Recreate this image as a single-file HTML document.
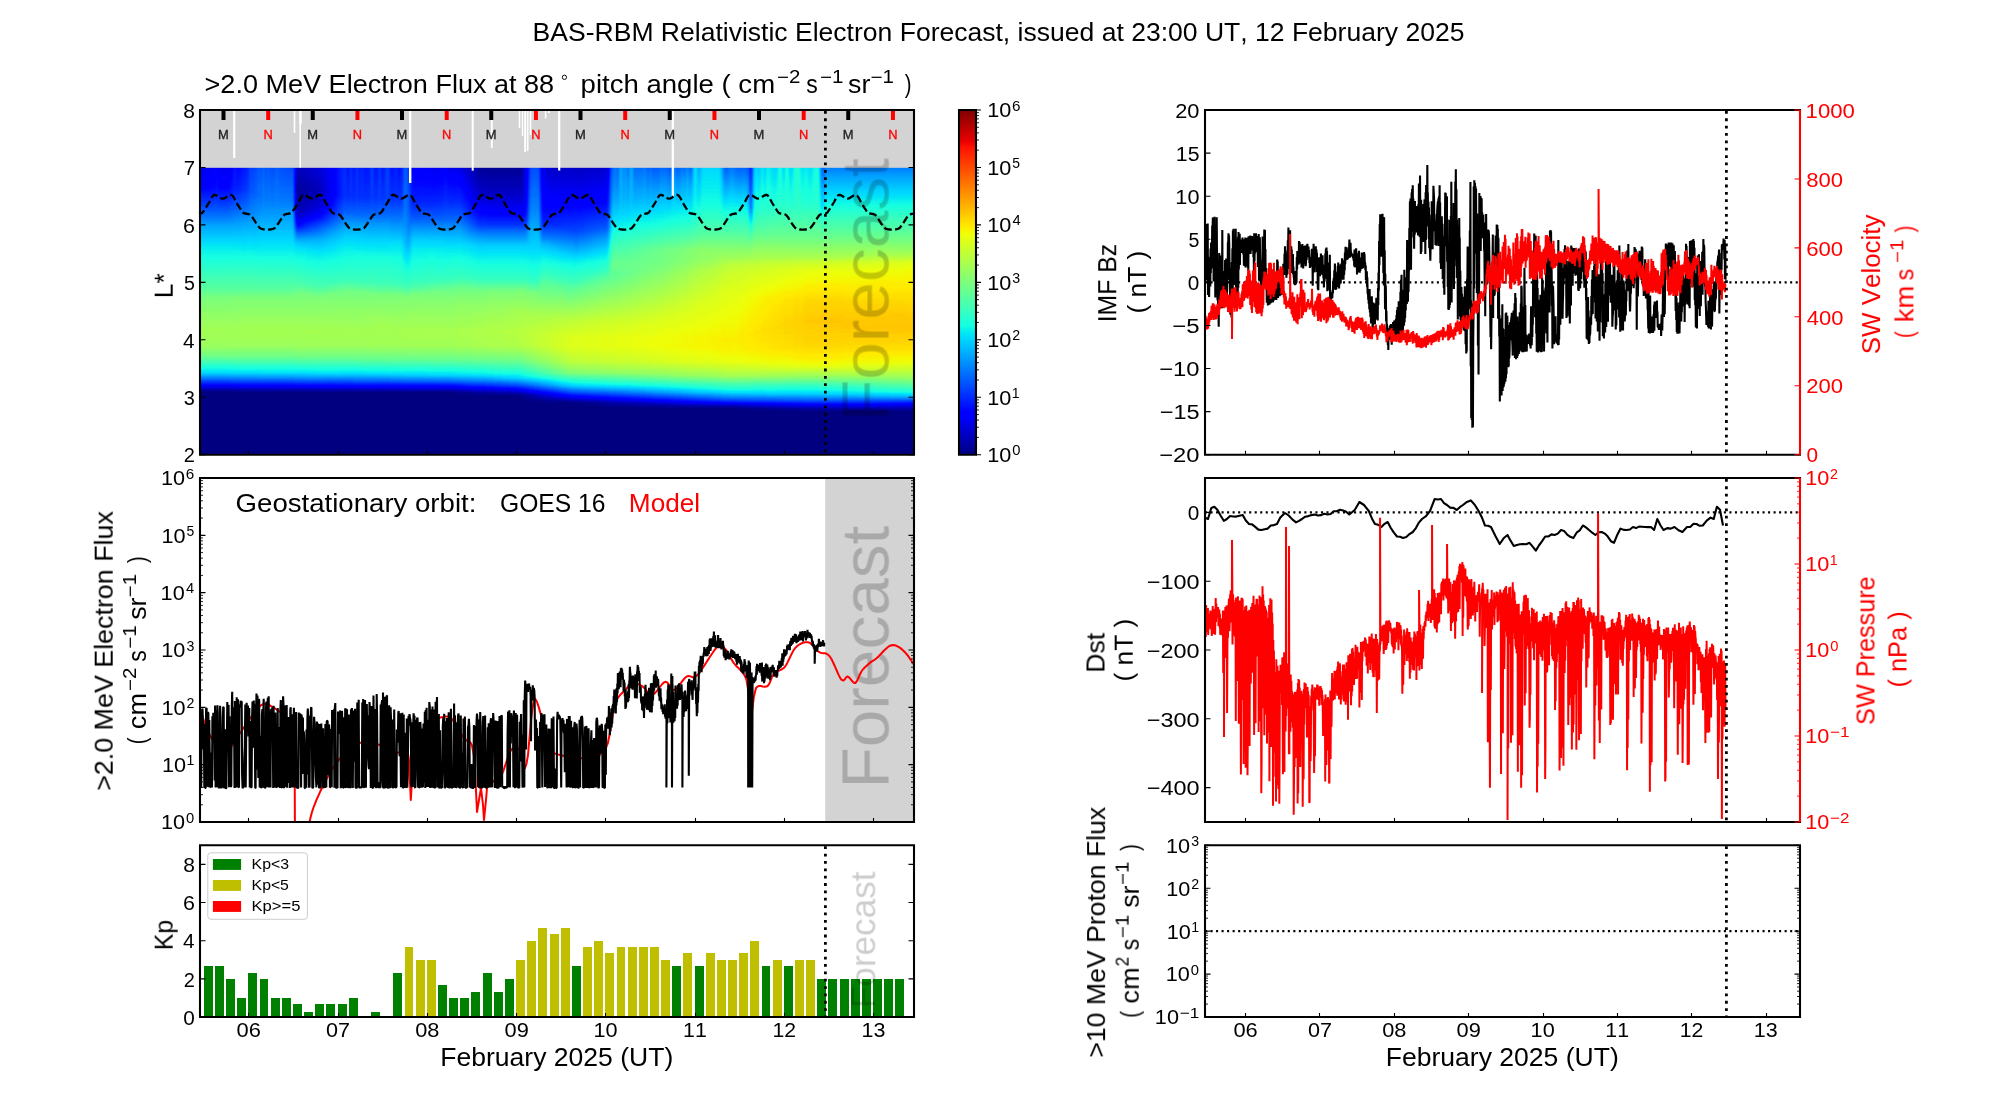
<!DOCTYPE html><html><head><meta charset="utf-8"><style>html,body{margin:0;padding:0;background:#fff;overflow:hidden}svg{display:block}text{font-family:"Liberation Sans",sans-serif;font-kerning:none;will-change:transform}</style></head><body><svg width="2000" height="1100" viewBox="0 0 2000 1100"><defs><linearGradient id="jet" x1="0" y1="1" x2="0" y2="0"><stop offset="0" stop-color="rgb(0,0,128)"/><stop offset="0.11" stop-color="rgb(0,0,255)"/><stop offset="0.125" stop-color="rgb(0,0,255)"/><stop offset="0.34" stop-color="rgb(0,219,255)"/><stop offset="0.35" stop-color="rgb(0,229,247)"/><stop offset="0.375" stop-color="rgb(21,255,226)"/><stop offset="0.64" stop-color="rgb(239,255,8)"/><stop offset="0.65" stop-color="rgb(247,246,0)"/><stop offset="0.66" stop-color="rgb(255,236,0)"/><stop offset="0.89" stop-color="rgb(255,19,0)"/><stop offset="0.91" stop-color="rgb(232,0,0)"/><stop offset="1.0" stop-color="rgb(128,0,0)"/></linearGradient><linearGradient id="g0" gradientUnits="userSpaceOnUse" x1="0" y1="167.8" x2="0" y2="454.7"><stop offset="0.000" stop-color="#1a1a1a"/><stop offset="0.070" stop-color="#212121"/><stop offset="0.115" stop-color="#2d2d2d"/><stop offset="0.178" stop-color="#414141"/><stop offset="0.202" stop-color="#4a4a4a"/><stop offset="0.268" stop-color="#5a5a5a"/><stop offset="0.331" stop-color="#646464"/><stop offset="0.429" stop-color="#777777"/><stop offset="0.453" stop-color="#808080"/><stop offset="0.561" stop-color="#8c8c8c"/><stop offset="0.603" stop-color="#8b8b8b"/><stop offset="0.624" stop-color="#898989"/><stop offset="0.655" stop-color="#7d7d7d"/><stop offset="0.676" stop-color="#6f6f6f"/><stop offset="0.697" stop-color="#616161"/><stop offset="0.715" stop-color="#575757"/><stop offset="0.728" stop-color="#464646"/><stop offset="0.735" stop-color="#3e3e3e"/><stop offset="0.746" stop-color="#2f2f2f"/><stop offset="0.753" stop-color="#272727"/><stop offset="0.767" stop-color="#141414"/><stop offset="0.774" stop-color="#090909"/><stop offset="0.784" stop-color="#010101"/><stop offset="1.000" stop-color="#010101"/></linearGradient><linearGradient id="g1" gradientUnits="userSpaceOnUse" x1="0" y1="167.8" x2="0" y2="454.7"><stop offset="0.000" stop-color="#1d1d1d"/><stop offset="0.070" stop-color="#242424"/><stop offset="0.115" stop-color="#2f2f2f"/><stop offset="0.181" stop-color="#434343"/><stop offset="0.206" stop-color="#4b4b4b"/><stop offset="0.268" stop-color="#5a5a5a"/><stop offset="0.331" stop-color="#646464"/><stop offset="0.429" stop-color="#777777"/><stop offset="0.453" stop-color="#818181"/><stop offset="0.565" stop-color="#8c8c8c"/><stop offset="0.620" stop-color="#8a8a8a"/><stop offset="0.659" stop-color="#7c7c7c"/><stop offset="0.697" stop-color="#616161"/><stop offset="0.715" stop-color="#585858"/><stop offset="0.735" stop-color="#3f3f3f"/><stop offset="0.746" stop-color="#303030"/><stop offset="0.763" stop-color="#1a1a1a"/><stop offset="0.774" stop-color="#0a0a0a"/><stop offset="0.784" stop-color="#010101"/><stop offset="1.000" stop-color="#010101"/></linearGradient><linearGradient id="g2" gradientUnits="userSpaceOnUse" x1="0" y1="167.8" x2="0" y2="454.7"><stop offset="0.000" stop-color="#202020"/><stop offset="0.070" stop-color="#262626"/><stop offset="0.119" stop-color="#323232"/><stop offset="0.185" stop-color="#464646"/><stop offset="0.254" stop-color="#575757"/><stop offset="0.338" stop-color="#666666"/><stop offset="0.425" stop-color="#767676"/><stop offset="0.453" stop-color="#818181"/><stop offset="0.565" stop-color="#8c8c8c"/><stop offset="0.620" stop-color="#8a8a8a"/><stop offset="0.659" stop-color="#7c7c7c"/><stop offset="0.697" stop-color="#616161"/><stop offset="0.715" stop-color="#585858"/><stop offset="0.735" stop-color="#3f3f3f"/><stop offset="0.746" stop-color="#313131"/><stop offset="0.763" stop-color="#1a1a1a"/><stop offset="0.774" stop-color="#0a0a0a"/><stop offset="0.784" stop-color="#010101"/><stop offset="1.000" stop-color="#010101"/></linearGradient><linearGradient id="g3" gradientUnits="userSpaceOnUse" x1="0" y1="167.8" x2="0" y2="454.7"><stop offset="0.000" stop-color="#232323"/><stop offset="0.073" stop-color="#2a2a2a"/><stop offset="0.122" stop-color="#353535"/><stop offset="0.185" stop-color="#464646"/><stop offset="0.265" stop-color="#595959"/><stop offset="0.335" stop-color="#656565"/><stop offset="0.425" stop-color="#767676"/><stop offset="0.453" stop-color="#818181"/><stop offset="0.565" stop-color="#8c8c8c"/><stop offset="0.620" stop-color="#8a8a8a"/><stop offset="0.659" stop-color="#7c7c7c"/><stop offset="0.697" stop-color="#626262"/><stop offset="0.715" stop-color="#585858"/><stop offset="0.735" stop-color="#3f3f3f"/><stop offset="0.763" stop-color="#1a1a1a"/><stop offset="0.774" stop-color="#0a0a0a"/><stop offset="0.784" stop-color="#010101"/><stop offset="1.000" stop-color="#010101"/></linearGradient><linearGradient id="g4" gradientUnits="userSpaceOnUse" x1="0" y1="167.8" x2="0" y2="454.7"><stop offset="0.000" stop-color="#262626"/><stop offset="0.073" stop-color="#2d2d2d"/><stop offset="0.139" stop-color="#3b3b3b"/><stop offset="0.209" stop-color="#4d4d4d"/><stop offset="0.296" stop-color="#5e5e5e"/><stop offset="0.425" stop-color="#767676"/><stop offset="0.453" stop-color="#818181"/><stop offset="0.565" stop-color="#8d8d8d"/><stop offset="0.620" stop-color="#8a8a8a"/><stop offset="0.659" stop-color="#7c7c7c"/><stop offset="0.697" stop-color="#626262"/><stop offset="0.715" stop-color="#585858"/><stop offset="0.735" stop-color="#3f3f3f"/><stop offset="0.763" stop-color="#1b1b1b"/><stop offset="0.774" stop-color="#0a0a0a"/><stop offset="0.784" stop-color="#010101"/><stop offset="1.000" stop-color="#010101"/></linearGradient><linearGradient id="g5" gradientUnits="userSpaceOnUse" x1="0" y1="167.8" x2="0" y2="454.7"><stop offset="0.000" stop-color="#292929"/><stop offset="0.077" stop-color="#303030"/><stop offset="0.146" stop-color="#3e3e3e"/><stop offset="0.234" stop-color="#535353"/><stop offset="0.338" stop-color="#666666"/><stop offset="0.425" stop-color="#767676"/><stop offset="0.453" stop-color="#818181"/><stop offset="0.565" stop-color="#8d8d8d"/><stop offset="0.620" stop-color="#8a8a8a"/><stop offset="0.659" stop-color="#7c7c7c"/><stop offset="0.697" stop-color="#626262"/><stop offset="0.715" stop-color="#585858"/><stop offset="0.735" stop-color="#3f3f3f"/><stop offset="0.763" stop-color="#1b1b1b"/><stop offset="0.774" stop-color="#0a0a0a"/><stop offset="0.784" stop-color="#010101"/><stop offset="1.000" stop-color="#010101"/></linearGradient><linearGradient id="g6" gradientUnits="userSpaceOnUse" x1="0" y1="167.8" x2="0" y2="454.7"><stop offset="0.000" stop-color="#2c2c2c"/><stop offset="0.080" stop-color="#343434"/><stop offset="0.160" stop-color="#434343"/><stop offset="0.244" stop-color="#555555"/><stop offset="0.338" stop-color="#666666"/><stop offset="0.425" stop-color="#767676"/><stop offset="0.453" stop-color="#818181"/><stop offset="0.565" stop-color="#8d8d8d"/><stop offset="0.620" stop-color="#8a8a8a"/><stop offset="0.659" stop-color="#7c7c7c"/><stop offset="0.697" stop-color="#626262"/><stop offset="0.715" stop-color="#585858"/><stop offset="0.735" stop-color="#3f3f3f"/><stop offset="0.763" stop-color="#1b1b1b"/><stop offset="0.774" stop-color="#0a0a0a"/><stop offset="0.784" stop-color="#010101"/><stop offset="1.000" stop-color="#010101"/></linearGradient><linearGradient id="g7" gradientUnits="userSpaceOnUse" x1="0" y1="167.8" x2="0" y2="454.7"><stop offset="0.000" stop-color="#2f2f2f"/><stop offset="0.084" stop-color="#373737"/><stop offset="0.174" stop-color="#474747"/><stop offset="0.303" stop-color="#5f5f5f"/><stop offset="0.425" stop-color="#767676"/><stop offset="0.453" stop-color="#818181"/><stop offset="0.565" stop-color="#8d8d8d"/><stop offset="0.620" stop-color="#8a8a8a"/><stop offset="0.659" stop-color="#7c7c7c"/><stop offset="0.697" stop-color="#626262"/><stop offset="0.715" stop-color="#585858"/><stop offset="0.735" stop-color="#3f3f3f"/><stop offset="0.763" stop-color="#1b1b1b"/><stop offset="0.774" stop-color="#0a0a0a"/><stop offset="0.784" stop-color="#010101"/><stop offset="1.000" stop-color="#010101"/></linearGradient><linearGradient id="g8" gradientUnits="userSpaceOnUse" x1="0" y1="167.8" x2="0" y2="454.7"><stop offset="0.000" stop-color="#323232"/><stop offset="0.105" stop-color="#3c3c3c"/><stop offset="0.335" stop-color="#656565"/><stop offset="0.425" stop-color="#767676"/><stop offset="0.453" stop-color="#818181"/><stop offset="0.565" stop-color="#8d8d8d"/><stop offset="0.620" stop-color="#8a8a8a"/><stop offset="0.659" stop-color="#7c7c7c"/><stop offset="0.697" stop-color="#626262"/><stop offset="0.715" stop-color="#585858"/><stop offset="0.735" stop-color="#404040"/><stop offset="0.763" stop-color="#1b1b1b"/><stop offset="0.774" stop-color="#0a0a0a"/><stop offset="0.784" stop-color="#010101"/><stop offset="1.000" stop-color="#010101"/></linearGradient><linearGradient id="g9" gradientUnits="userSpaceOnUse" x1="0" y1="167.8" x2="0" y2="454.7"><stop offset="0.000" stop-color="#343434"/><stop offset="0.112" stop-color="#3f3f3f"/><stop offset="0.331" stop-color="#646464"/><stop offset="0.425" stop-color="#767676"/><stop offset="0.453" stop-color="#818181"/><stop offset="0.565" stop-color="#8d8d8d"/><stop offset="0.620" stop-color="#8a8a8a"/><stop offset="0.659" stop-color="#7c7c7c"/><stop offset="0.697" stop-color="#626262"/><stop offset="0.715" stop-color="#595959"/><stop offset="0.735" stop-color="#404040"/><stop offset="0.763" stop-color="#1b1b1b"/><stop offset="0.774" stop-color="#0b0b0b"/><stop offset="0.784" stop-color="#010101"/><stop offset="1.000" stop-color="#010101"/></linearGradient><linearGradient id="g10" gradientUnits="userSpaceOnUse" x1="0" y1="167.8" x2="0" y2="454.7"><stop offset="0.000" stop-color="#212121"/><stop offset="0.087" stop-color="#212121"/><stop offset="0.160" stop-color="#2a2a2a"/><stop offset="0.209" stop-color="#3b3b3b"/><stop offset="0.234" stop-color="#484848"/><stop offset="0.265" stop-color="#565656"/><stop offset="0.296" stop-color="#5d5d5d"/><stop offset="0.411" stop-color="#737373"/><stop offset="0.446" stop-color="#808080"/><stop offset="0.565" stop-color="#8d8d8d"/><stop offset="0.620" stop-color="#8a8a8a"/><stop offset="0.659" stop-color="#7c7c7c"/><stop offset="0.697" stop-color="#636363"/><stop offset="0.715" stop-color="#595959"/><stop offset="0.735" stop-color="#404040"/><stop offset="0.763" stop-color="#1c1c1c"/><stop offset="0.774" stop-color="#0b0b0b"/><stop offset="0.784" stop-color="#010101"/><stop offset="1.000" stop-color="#010101"/></linearGradient><linearGradient id="g11" gradientUnits="userSpaceOnUse" x1="0" y1="167.8" x2="0" y2="454.7"><stop offset="0.000" stop-color="#0e0e0e"/><stop offset="0.084" stop-color="#070707"/><stop offset="0.157" stop-color="#0d0d0d"/><stop offset="0.202" stop-color="#222222"/><stop offset="0.230" stop-color="#3c3c3c"/><stop offset="0.247" stop-color="#484848"/><stop offset="0.261" stop-color="#525252"/><stop offset="0.289" stop-color="#5b5b5b"/><stop offset="0.359" stop-color="#686868"/><stop offset="0.408" stop-color="#727272"/><stop offset="0.439" stop-color="#7f7f7f"/><stop offset="0.551" stop-color="#8c8c8c"/><stop offset="0.593" stop-color="#8c8c8c"/><stop offset="0.624" stop-color="#8a8a8a"/><stop offset="0.662" stop-color="#7a7a7a"/><stop offset="0.697" stop-color="#636363"/><stop offset="0.715" stop-color="#595959"/><stop offset="0.735" stop-color="#414141"/><stop offset="0.763" stop-color="#1c1c1c"/><stop offset="0.774" stop-color="#0b0b0b"/><stop offset="0.784" stop-color="#010101"/><stop offset="1.000" stop-color="#010101"/></linearGradient><linearGradient id="g12" gradientUnits="userSpaceOnUse" x1="0" y1="167.8" x2="0" y2="454.7"><stop offset="0.000" stop-color="#0f0f0f"/><stop offset="0.084" stop-color="#070707"/><stop offset="0.157" stop-color="#0e0e0e"/><stop offset="0.206" stop-color="#262626"/><stop offset="0.230" stop-color="#3c3c3c"/><stop offset="0.261" stop-color="#525252"/><stop offset="0.289" stop-color="#5b5b5b"/><stop offset="0.362" stop-color="#686868"/><stop offset="0.408" stop-color="#727272"/><stop offset="0.439" stop-color="#7f7f7f"/><stop offset="0.551" stop-color="#8c8c8c"/><stop offset="0.593" stop-color="#8c8c8c"/><stop offset="0.624" stop-color="#8a8a8a"/><stop offset="0.662" stop-color="#7a7a7a"/><stop offset="0.697" stop-color="#636363"/><stop offset="0.715" stop-color="#595959"/><stop offset="0.735" stop-color="#414141"/><stop offset="0.763" stop-color="#1c1c1c"/><stop offset="0.774" stop-color="#0b0b0b"/><stop offset="0.784" stop-color="#010101"/><stop offset="1.000" stop-color="#010101"/></linearGradient><linearGradient id="g13" gradientUnits="userSpaceOnUse" x1="0" y1="167.8" x2="0" y2="454.7"><stop offset="0.000" stop-color="#0f0f0f"/><stop offset="0.084" stop-color="#080808"/><stop offset="0.153" stop-color="#0f0f0f"/><stop offset="0.178" stop-color="#191919"/><stop offset="0.206" stop-color="#282828"/><stop offset="0.234" stop-color="#3f3f3f"/><stop offset="0.261" stop-color="#515151"/><stop offset="0.289" stop-color="#5b5b5b"/><stop offset="0.369" stop-color="#6a6a6a"/><stop offset="0.408" stop-color="#727272"/><stop offset="0.439" stop-color="#7f7f7f"/><stop offset="0.551" stop-color="#8c8c8c"/><stop offset="0.593" stop-color="#8c8c8c"/><stop offset="0.624" stop-color="#8a8a8a"/><stop offset="0.662" stop-color="#7b7b7b"/><stop offset="0.697" stop-color="#636363"/><stop offset="0.715" stop-color="#595959"/><stop offset="0.735" stop-color="#414141"/><stop offset="0.763" stop-color="#1c1c1c"/><stop offset="0.774" stop-color="#0b0b0b"/><stop offset="0.784" stop-color="#010101"/><stop offset="1.000" stop-color="#010101"/></linearGradient><linearGradient id="g14" gradientUnits="userSpaceOnUse" x1="0" y1="167.8" x2="0" y2="454.7"><stop offset="0.000" stop-color="#101010"/><stop offset="0.084" stop-color="#090909"/><stop offset="0.150" stop-color="#0f0f0f"/><stop offset="0.171" stop-color="#171717"/><stop offset="0.206" stop-color="#292929"/><stop offset="0.234" stop-color="#404040"/><stop offset="0.261" stop-color="#515151"/><stop offset="0.289" stop-color="#5b5b5b"/><stop offset="0.376" stop-color="#6b6b6b"/><stop offset="0.404" stop-color="#707070"/><stop offset="0.443" stop-color="#7f7f7f"/><stop offset="0.561" stop-color="#8d8d8d"/><stop offset="0.620" stop-color="#8b8b8b"/><stop offset="0.659" stop-color="#7c7c7c"/><stop offset="0.697" stop-color="#636363"/><stop offset="0.715" stop-color="#595959"/><stop offset="0.735" stop-color="#414141"/><stop offset="0.763" stop-color="#1c1c1c"/><stop offset="0.774" stop-color="#0b0b0b"/><stop offset="0.784" stop-color="#010101"/><stop offset="1.000" stop-color="#010101"/></linearGradient><linearGradient id="g15" gradientUnits="userSpaceOnUse" x1="0" y1="167.8" x2="0" y2="454.7"><stop offset="0.000" stop-color="#111111"/><stop offset="0.080" stop-color="#090909"/><stop offset="0.143" stop-color="#0f0f0f"/><stop offset="0.164" stop-color="#151515"/><stop offset="0.209" stop-color="#2e2e2e"/><stop offset="0.234" stop-color="#404040"/><stop offset="0.261" stop-color="#515151"/><stop offset="0.289" stop-color="#5b5b5b"/><stop offset="0.404" stop-color="#707070"/><stop offset="0.436" stop-color="#7d7d7d"/><stop offset="0.450" stop-color="#818181"/><stop offset="0.568" stop-color="#8d8d8d"/><stop offset="0.620" stop-color="#8b8b8b"/><stop offset="0.662" stop-color="#7b7b7b"/><stop offset="0.697" stop-color="#636363"/><stop offset="0.715" stop-color="#595959"/><stop offset="0.735" stop-color="#414141"/><stop offset="0.763" stop-color="#1c1c1c"/><stop offset="0.774" stop-color="#0b0b0b"/><stop offset="0.784" stop-color="#010101"/><stop offset="1.000" stop-color="#010101"/></linearGradient><linearGradient id="g16" gradientUnits="userSpaceOnUse" x1="0" y1="167.8" x2="0" y2="454.7"><stop offset="0.000" stop-color="#111111"/><stop offset="0.080" stop-color="#0a0a0a"/><stop offset="0.139" stop-color="#101010"/><stop offset="0.167" stop-color="#181818"/><stop offset="0.209" stop-color="#2f2f2f"/><stop offset="0.237" stop-color="#434343"/><stop offset="0.261" stop-color="#515151"/><stop offset="0.289" stop-color="#5a5a5a"/><stop offset="0.408" stop-color="#707070"/><stop offset="0.446" stop-color="#808080"/><stop offset="0.565" stop-color="#8d8d8d"/><stop offset="0.620" stop-color="#8b8b8b"/><stop offset="0.662" stop-color="#7b7b7b"/><stop offset="0.697" stop-color="#636363"/><stop offset="0.715" stop-color="#595959"/><stop offset="0.735" stop-color="#414141"/><stop offset="0.763" stop-color="#1c1c1c"/><stop offset="0.774" stop-color="#0b0b0b"/><stop offset="0.784" stop-color="#010101"/><stop offset="1.000" stop-color="#010101"/></linearGradient><linearGradient id="g17" gradientUnits="userSpaceOnUse" x1="0" y1="167.8" x2="0" y2="454.7"><stop offset="0.000" stop-color="#121212"/><stop offset="0.080" stop-color="#0a0a0a"/><stop offset="0.139" stop-color="#111111"/><stop offset="0.171" stop-color="#1b1b1b"/><stop offset="0.216" stop-color="#353535"/><stop offset="0.247" stop-color="#4a4a4a"/><stop offset="0.279" stop-color="#575757"/><stop offset="0.342" stop-color="#636363"/><stop offset="0.408" stop-color="#707070"/><stop offset="0.439" stop-color="#7e7e7e"/><stop offset="0.453" stop-color="#818181"/><stop offset="0.568" stop-color="#8d8d8d"/><stop offset="0.620" stop-color="#8b8b8b"/><stop offset="0.662" stop-color="#7b7b7b"/><stop offset="0.697" stop-color="#636363"/><stop offset="0.715" stop-color="#595959"/><stop offset="0.732" stop-color="#464646"/><stop offset="0.763" stop-color="#1c1c1c"/><stop offset="0.774" stop-color="#0b0b0b"/><stop offset="0.784" stop-color="#010101"/><stop offset="1.000" stop-color="#010101"/></linearGradient><linearGradient id="g18" gradientUnits="userSpaceOnUse" x1="0" y1="167.8" x2="0" y2="454.7"><stop offset="0.000" stop-color="#121212"/><stop offset="0.080" stop-color="#0b0b0b"/><stop offset="0.136" stop-color="#111111"/><stop offset="0.171" stop-color="#1c1c1c"/><stop offset="0.223" stop-color="#3b3b3b"/><stop offset="0.254" stop-color="#4e4e4e"/><stop offset="0.289" stop-color="#5a5a5a"/><stop offset="0.408" stop-color="#707070"/><stop offset="0.439" stop-color="#7d7d7d"/><stop offset="0.453" stop-color="#818181"/><stop offset="0.568" stop-color="#8d8d8d"/><stop offset="0.620" stop-color="#8b8b8b"/><stop offset="0.662" stop-color="#7b7b7b"/><stop offset="0.697" stop-color="#636363"/><stop offset="0.715" stop-color="#595959"/><stop offset="0.732" stop-color="#464646"/><stop offset="0.763" stop-color="#1c1c1c"/><stop offset="0.774" stop-color="#0c0c0c"/><stop offset="0.784" stop-color="#010101"/><stop offset="1.000" stop-color="#010101"/></linearGradient><linearGradient id="g19" gradientUnits="userSpaceOnUse" x1="0" y1="167.8" x2="0" y2="454.7"><stop offset="0.000" stop-color="#131313"/><stop offset="0.080" stop-color="#0c0c0c"/><stop offset="0.136" stop-color="#121212"/><stop offset="0.171" stop-color="#1d1d1d"/><stop offset="0.254" stop-color="#4e4e4e"/><stop offset="0.293" stop-color="#5a5a5a"/><stop offset="0.411" stop-color="#707070"/><stop offset="0.439" stop-color="#7c7c7c"/><stop offset="0.450" stop-color="#818181"/><stop offset="0.568" stop-color="#8d8d8d"/><stop offset="0.620" stop-color="#8b8b8b"/><stop offset="0.662" stop-color="#7b7b7b"/><stop offset="0.697" stop-color="#636363"/><stop offset="0.715" stop-color="#595959"/><stop offset="0.732" stop-color="#464646"/><stop offset="0.763" stop-color="#1c1c1c"/><stop offset="0.774" stop-color="#0c0c0c"/><stop offset="0.784" stop-color="#010101"/><stop offset="1.000" stop-color="#010101"/></linearGradient><linearGradient id="g20" gradientUnits="userSpaceOnUse" x1="0" y1="167.8" x2="0" y2="454.7"><stop offset="0.000" stop-color="#141414"/><stop offset="0.080" stop-color="#0c0c0c"/><stop offset="0.136" stop-color="#121212"/><stop offset="0.174" stop-color="#212121"/><stop offset="0.251" stop-color="#4c4c4c"/><stop offset="0.293" stop-color="#5a5a5a"/><stop offset="0.411" stop-color="#707070"/><stop offset="0.439" stop-color="#7c7c7c"/><stop offset="0.450" stop-color="#818181"/><stop offset="0.568" stop-color="#8d8d8d"/><stop offset="0.620" stop-color="#8b8b8b"/><stop offset="0.662" stop-color="#7b7b7b"/><stop offset="0.697" stop-color="#636363"/><stop offset="0.715" stop-color="#595959"/><stop offset="0.732" stop-color="#464646"/><stop offset="0.763" stop-color="#1c1c1c"/><stop offset="0.774" stop-color="#0c0c0c"/><stop offset="0.784" stop-color="#010101"/><stop offset="1.000" stop-color="#010101"/></linearGradient><linearGradient id="g21" gradientUnits="userSpaceOnUse" x1="0" y1="167.8" x2="0" y2="454.7"><stop offset="0.000" stop-color="#141414"/><stop offset="0.080" stop-color="#0d0d0d"/><stop offset="0.136" stop-color="#131313"/><stop offset="0.174" stop-color="#222222"/><stop offset="0.209" stop-color="#363636"/><stop offset="0.251" stop-color="#4d4d4d"/><stop offset="0.293" stop-color="#5a5a5a"/><stop offset="0.415" stop-color="#717171"/><stop offset="0.443" stop-color="#7d7d7d"/><stop offset="0.453" stop-color="#818181"/><stop offset="0.568" stop-color="#8d8d8d"/><stop offset="0.620" stop-color="#8b8b8b"/><stop offset="0.662" stop-color="#7b7b7b"/><stop offset="0.697" stop-color="#646464"/><stop offset="0.715" stop-color="#5a5a5a"/><stop offset="0.732" stop-color="#464646"/><stop offset="0.763" stop-color="#1c1c1c"/><stop offset="0.774" stop-color="#0c0c0c"/><stop offset="0.784" stop-color="#010101"/><stop offset="1.000" stop-color="#010101"/></linearGradient><linearGradient id="g22" gradientUnits="userSpaceOnUse" x1="0" y1="167.8" x2="0" y2="454.7"><stop offset="0.000" stop-color="#151515"/><stop offset="0.080" stop-color="#0e0e0e"/><stop offset="0.136" stop-color="#141414"/><stop offset="0.174" stop-color="#232323"/><stop offset="0.206" stop-color="#363636"/><stop offset="0.234" stop-color="#444444"/><stop offset="0.254" stop-color="#4e4e4e"/><stop offset="0.296" stop-color="#5a5a5a"/><stop offset="0.415" stop-color="#707070"/><stop offset="0.443" stop-color="#7d7d7d"/><stop offset="0.453" stop-color="#818181"/><stop offset="0.568" stop-color="#8d8d8d"/><stop offset="0.620" stop-color="#8b8b8b"/><stop offset="0.662" stop-color="#7b7b7b"/><stop offset="0.697" stop-color="#646464"/><stop offset="0.715" stop-color="#5a5a5a"/><stop offset="0.732" stop-color="#464646"/><stop offset="0.763" stop-color="#1c1c1c"/><stop offset="0.774" stop-color="#0c0c0c"/><stop offset="0.784" stop-color="#010101"/><stop offset="1.000" stop-color="#010101"/></linearGradient><linearGradient id="g23" gradientUnits="userSpaceOnUse" x1="0" y1="167.8" x2="0" y2="454.7"><stop offset="0.000" stop-color="#161616"/><stop offset="0.080" stop-color="#0f0f0f"/><stop offset="0.136" stop-color="#161616"/><stop offset="0.174" stop-color="#252525"/><stop offset="0.206" stop-color="#383838"/><stop offset="0.230" stop-color="#434343"/><stop offset="0.251" stop-color="#4d4d4d"/><stop offset="0.296" stop-color="#5a5a5a"/><stop offset="0.415" stop-color="#707070"/><stop offset="0.443" stop-color="#7d7d7d"/><stop offset="0.453" stop-color="#818181"/><stop offset="0.568" stop-color="#8d8d8d"/><stop offset="0.620" stop-color="#8b8b8b"/><stop offset="0.662" stop-color="#7b7b7b"/><stop offset="0.697" stop-color="#646464"/><stop offset="0.715" stop-color="#5a5a5a"/><stop offset="0.732" stop-color="#464646"/><stop offset="0.763" stop-color="#1c1c1c"/><stop offset="0.774" stop-color="#0c0c0c"/><stop offset="0.784" stop-color="#010101"/><stop offset="1.000" stop-color="#010101"/></linearGradient><linearGradient id="g24" gradientUnits="userSpaceOnUse" x1="0" y1="167.8" x2="0" y2="454.7"><stop offset="0.000" stop-color="#171717"/><stop offset="0.084" stop-color="#121212"/><stop offset="0.136" stop-color="#181818"/><stop offset="0.174" stop-color="#272727"/><stop offset="0.209" stop-color="#3b3b3b"/><stop offset="0.251" stop-color="#4e4e4e"/><stop offset="0.296" stop-color="#5b5b5b"/><stop offset="0.411" stop-color="#6f6f6f"/><stop offset="0.439" stop-color="#7c7c7c"/><stop offset="0.450" stop-color="#818181"/><stop offset="0.568" stop-color="#8d8d8d"/><stop offset="0.620" stop-color="#8b8b8b"/><stop offset="0.662" stop-color="#7b7b7b"/><stop offset="0.697" stop-color="#646464"/><stop offset="0.715" stop-color="#5a5a5a"/><stop offset="0.732" stop-color="#464646"/><stop offset="0.763" stop-color="#1c1c1c"/><stop offset="0.774" stop-color="#0c0c0c"/><stop offset="0.784" stop-color="#010101"/><stop offset="1.000" stop-color="#010101"/></linearGradient><linearGradient id="g25" gradientUnits="userSpaceOnUse" x1="0" y1="167.8" x2="0" y2="454.7"><stop offset="0.000" stop-color="#191919"/><stop offset="0.084" stop-color="#141414"/><stop offset="0.136" stop-color="#1b1b1b"/><stop offset="0.174" stop-color="#2a2a2a"/><stop offset="0.209" stop-color="#3c3c3c"/><stop offset="0.251" stop-color="#4f4f4f"/><stop offset="0.300" stop-color="#5c5c5c"/><stop offset="0.408" stop-color="#6f6f6f"/><stop offset="0.436" stop-color="#7a7a7a"/><stop offset="0.450" stop-color="#818181"/><stop offset="0.568" stop-color="#8d8d8d"/><stop offset="0.620" stop-color="#8b8b8b"/><stop offset="0.662" stop-color="#7b7b7b"/><stop offset="0.697" stop-color="#646464"/><stop offset="0.715" stop-color="#5a5a5a"/><stop offset="0.728" stop-color="#4a4a4a"/><stop offset="0.763" stop-color="#1c1c1c"/><stop offset="0.774" stop-color="#0c0c0c"/><stop offset="0.784" stop-color="#010101"/><stop offset="1.000" stop-color="#010101"/></linearGradient><linearGradient id="g26" gradientUnits="userSpaceOnUse" x1="0" y1="167.8" x2="0" y2="454.7"><stop offset="0.000" stop-color="#1a1a1a"/><stop offset="0.084" stop-color="#161616"/><stop offset="0.136" stop-color="#1d1d1d"/><stop offset="0.174" stop-color="#2c2c2c"/><stop offset="0.209" stop-color="#3e3e3e"/><stop offset="0.254" stop-color="#515151"/><stop offset="0.300" stop-color="#5c5c5c"/><stop offset="0.404" stop-color="#6e6e6e"/><stop offset="0.436" stop-color="#7b7b7b"/><stop offset="0.446" stop-color="#808080"/><stop offset="0.565" stop-color="#8d8d8d"/><stop offset="0.620" stop-color="#8b8b8b"/><stop offset="0.662" stop-color="#7b7b7b"/><stop offset="0.697" stop-color="#646464"/><stop offset="0.715" stop-color="#5a5a5a"/><stop offset="0.728" stop-color="#4a4a4a"/><stop offset="0.763" stop-color="#1c1c1c"/><stop offset="0.774" stop-color="#0c0c0c"/><stop offset="0.784" stop-color="#010101"/><stop offset="1.000" stop-color="#010101"/></linearGradient><linearGradient id="g27" gradientUnits="userSpaceOnUse" x1="0" y1="167.8" x2="0" y2="454.7"><stop offset="0.000" stop-color="#1c1c1c"/><stop offset="0.087" stop-color="#191919"/><stop offset="0.136" stop-color="#202020"/><stop offset="0.174" stop-color="#2e2e2e"/><stop offset="0.213" stop-color="#414141"/><stop offset="0.254" stop-color="#515151"/><stop offset="0.303" stop-color="#5d5d5d"/><stop offset="0.404" stop-color="#6e6e6e"/><stop offset="0.436" stop-color="#7c7c7c"/><stop offset="0.446" stop-color="#808080"/><stop offset="0.565" stop-color="#8d8d8d"/><stop offset="0.620" stop-color="#8b8b8b"/><stop offset="0.662" stop-color="#7b7b7b"/><stop offset="0.697" stop-color="#646464"/><stop offset="0.715" stop-color="#5a5a5a"/><stop offset="0.728" stop-color="#4a4a4a"/><stop offset="0.763" stop-color="#1c1c1c"/><stop offset="0.774" stop-color="#0c0c0c"/><stop offset="0.784" stop-color="#010101"/><stop offset="1.000" stop-color="#010101"/></linearGradient><linearGradient id="g28" gradientUnits="userSpaceOnUse" x1="0" y1="167.8" x2="0" y2="454.7"><stop offset="0.000" stop-color="#1d1d1d"/><stop offset="0.087" stop-color="#1b1b1b"/><stop offset="0.136" stop-color="#232323"/><stop offset="0.174" stop-color="#313131"/><stop offset="0.216" stop-color="#444444"/><stop offset="0.254" stop-color="#525252"/><stop offset="0.307" stop-color="#5e5e5e"/><stop offset="0.401" stop-color="#6d6d6d"/><stop offset="0.432" stop-color="#7b7b7b"/><stop offset="0.443" stop-color="#808080"/><stop offset="0.561" stop-color="#8d8d8d"/><stop offset="0.620" stop-color="#8b8b8b"/><stop offset="0.662" stop-color="#7b7b7b"/><stop offset="0.697" stop-color="#646464"/><stop offset="0.715" stop-color="#5a5a5a"/><stop offset="0.728" stop-color="#4a4a4a"/><stop offset="0.763" stop-color="#1c1c1c"/><stop offset="0.774" stop-color="#0c0c0c"/><stop offset="0.784" stop-color="#010101"/><stop offset="1.000" stop-color="#010101"/></linearGradient><linearGradient id="g29" gradientUnits="userSpaceOnUse" x1="0" y1="167.8" x2="0" y2="454.7"><stop offset="0.000" stop-color="#1f1f1f"/><stop offset="0.091" stop-color="#1d1d1d"/><stop offset="0.139" stop-color="#262626"/><stop offset="0.174" stop-color="#333333"/><stop offset="0.230" stop-color="#4b4b4b"/><stop offset="0.265" stop-color="#555555"/><stop offset="0.317" stop-color="#606060"/><stop offset="0.401" stop-color="#6d6d6d"/><stop offset="0.432" stop-color="#7b7b7b"/><stop offset="0.443" stop-color="#808080"/><stop offset="0.561" stop-color="#8d8d8d"/><stop offset="0.620" stop-color="#8b8b8b"/><stop offset="0.662" stop-color="#7b7b7b"/><stop offset="0.697" stop-color="#646464"/><stop offset="0.715" stop-color="#5a5a5a"/><stop offset="0.728" stop-color="#4a4a4a"/><stop offset="0.763" stop-color="#1c1c1c"/><stop offset="0.774" stop-color="#0c0c0c"/><stop offset="0.784" stop-color="#010101"/><stop offset="1.000" stop-color="#010101"/></linearGradient><linearGradient id="g30" gradientUnits="userSpaceOnUse" x1="0" y1="167.8" x2="0" y2="454.7"><stop offset="0.000" stop-color="#202020"/><stop offset="0.094" stop-color="#202020"/><stop offset="0.146" stop-color="#2a2a2a"/><stop offset="0.185" stop-color="#3a3a3a"/><stop offset="0.251" stop-color="#535353"/><stop offset="0.314" stop-color="#606060"/><stop offset="0.397" stop-color="#6c6c6c"/><stop offset="0.429" stop-color="#7a7a7a"/><stop offset="0.439" stop-color="#7f7f7f"/><stop offset="0.512" stop-color="#888888"/><stop offset="0.575" stop-color="#8d8d8d"/><stop offset="0.620" stop-color="#8b8b8b"/><stop offset="0.662" stop-color="#7b7b7b"/><stop offset="0.697" stop-color="#646464"/><stop offset="0.715" stop-color="#5a5a5a"/><stop offset="0.725" stop-color="#4f4f4f"/><stop offset="0.749" stop-color="#2f2f2f"/><stop offset="0.767" stop-color="#161616"/><stop offset="0.774" stop-color="#0c0c0c"/><stop offset="0.784" stop-color="#010101"/><stop offset="1.000" stop-color="#010101"/></linearGradient><linearGradient id="g31" gradientUnits="userSpaceOnUse" x1="0" y1="167.8" x2="0" y2="454.7"><stop offset="0.000" stop-color="#212121"/><stop offset="0.094" stop-color="#222222"/><stop offset="0.150" stop-color="#2e2e2e"/><stop offset="0.234" stop-color="#4e4e4e"/><stop offset="0.279" stop-color="#5a5a5a"/><stop offset="0.387" stop-color="#6b6b6b"/><stop offset="0.404" stop-color="#6f6f6f"/><stop offset="0.436" stop-color="#7e7e7e"/><stop offset="0.498" stop-color="#878787"/><stop offset="0.575" stop-color="#8d8d8d"/><stop offset="0.620" stop-color="#8b8b8b"/><stop offset="0.662" stop-color="#7b7b7b"/><stop offset="0.697" stop-color="#646464"/><stop offset="0.715" stop-color="#5a5a5a"/><stop offset="0.725" stop-color="#4f4f4f"/><stop offset="0.749" stop-color="#2f2f2f"/><stop offset="0.767" stop-color="#171717"/><stop offset="0.774" stop-color="#0c0c0c"/><stop offset="0.784" stop-color="#010101"/><stop offset="1.000" stop-color="#010101"/></linearGradient><linearGradient id="g32" gradientUnits="userSpaceOnUse" x1="0" y1="167.8" x2="0" y2="454.7"><stop offset="0.000" stop-color="#232323"/><stop offset="0.098" stop-color="#252525"/><stop offset="0.157" stop-color="#333333"/><stop offset="0.227" stop-color="#4d4d4d"/><stop offset="0.275" stop-color="#5a5a5a"/><stop offset="0.376" stop-color="#696969"/><stop offset="0.394" stop-color="#6c6c6c"/><stop offset="0.425" stop-color="#7a7a7a"/><stop offset="0.436" stop-color="#7e7e7e"/><stop offset="0.498" stop-color="#878787"/><stop offset="0.575" stop-color="#8d8d8d"/><stop offset="0.620" stop-color="#8b8b8b"/><stop offset="0.662" stop-color="#7b7b7b"/><stop offset="0.697" stop-color="#646464"/><stop offset="0.715" stop-color="#5a5a5a"/><stop offset="0.725" stop-color="#4f4f4f"/><stop offset="0.749" stop-color="#2f2f2f"/><stop offset="0.767" stop-color="#171717"/><stop offset="0.774" stop-color="#0c0c0c"/><stop offset="0.784" stop-color="#010101"/><stop offset="1.000" stop-color="#010101"/></linearGradient><linearGradient id="g33" gradientUnits="userSpaceOnUse" x1="0" y1="167.8" x2="0" y2="454.7"><stop offset="0.000" stop-color="#242424"/><stop offset="0.101" stop-color="#272727"/><stop offset="0.157" stop-color="#353535"/><stop offset="0.213" stop-color="#4a4a4a"/><stop offset="0.265" stop-color="#585858"/><stop offset="0.369" stop-color="#696969"/><stop offset="0.394" stop-color="#6c6c6c"/><stop offset="0.425" stop-color="#7a7a7a"/><stop offset="0.439" stop-color="#7f7f7f"/><stop offset="0.512" stop-color="#888888"/><stop offset="0.575" stop-color="#8d8d8d"/><stop offset="0.620" stop-color="#8b8b8b"/><stop offset="0.662" stop-color="#7b7b7b"/><stop offset="0.697" stop-color="#646464"/><stop offset="0.718" stop-color="#575757"/><stop offset="0.749" stop-color="#2f2f2f"/><stop offset="0.767" stop-color="#171717"/><stop offset="0.774" stop-color="#0c0c0c"/><stop offset="0.784" stop-color="#010101"/><stop offset="1.000" stop-color="#010101"/></linearGradient><linearGradient id="g34" gradientUnits="userSpaceOnUse" x1="0" y1="167.8" x2="0" y2="454.7"><stop offset="0.000" stop-color="#262626"/><stop offset="0.101" stop-color="#2a2a2a"/><stop offset="0.157" stop-color="#373737"/><stop offset="0.192" stop-color="#444444"/><stop offset="0.237" stop-color="#525252"/><stop offset="0.282" stop-color="#5c5c5c"/><stop offset="0.394" stop-color="#6d6d6d"/><stop offset="0.425" stop-color="#7b7b7b"/><stop offset="0.460" stop-color="#838383"/><stop offset="0.572" stop-color="#8d8d8d"/><stop offset="0.620" stop-color="#8b8b8b"/><stop offset="0.662" stop-color="#7b7b7b"/><stop offset="0.697" stop-color="#646464"/><stop offset="0.718" stop-color="#575757"/><stop offset="0.749" stop-color="#2f2f2f"/><stop offset="0.767" stop-color="#171717"/><stop offset="0.774" stop-color="#0c0c0c"/><stop offset="0.784" stop-color="#010101"/><stop offset="1.000" stop-color="#010101"/></linearGradient><linearGradient id="g35" gradientUnits="userSpaceOnUse" x1="0" y1="167.8" x2="0" y2="454.7"><stop offset="0.000" stop-color="#272727"/><stop offset="0.101" stop-color="#2c2c2c"/><stop offset="0.157" stop-color="#393939"/><stop offset="0.188" stop-color="#454545"/><stop offset="0.234" stop-color="#535353"/><stop offset="0.279" stop-color="#5c5c5c"/><stop offset="0.390" stop-color="#6c6c6c"/><stop offset="0.418" stop-color="#787878"/><stop offset="0.429" stop-color="#7d7d7d"/><stop offset="0.478" stop-color="#848484"/><stop offset="0.572" stop-color="#8d8d8d"/><stop offset="0.620" stop-color="#8b8b8b"/><stop offset="0.662" stop-color="#7b7b7b"/><stop offset="0.697" stop-color="#646464"/><stop offset="0.718" stop-color="#575757"/><stop offset="0.749" stop-color="#2f2f2f"/><stop offset="0.767" stop-color="#171717"/><stop offset="0.774" stop-color="#0c0c0c"/><stop offset="0.784" stop-color="#010101"/><stop offset="1.000" stop-color="#010101"/></linearGradient><linearGradient id="g36" gradientUnits="userSpaceOnUse" x1="0" y1="167.8" x2="0" y2="454.7"><stop offset="0.000" stop-color="#272727"/><stop offset="0.101" stop-color="#2c2c2c"/><stop offset="0.160" stop-color="#3a3a3a"/><stop offset="0.192" stop-color="#464646"/><stop offset="0.237" stop-color="#535353"/><stop offset="0.303" stop-color="#606060"/><stop offset="0.394" stop-color="#6c6c6c"/><stop offset="0.422" stop-color="#787878"/><stop offset="0.432" stop-color="#7e7e7e"/><stop offset="0.478" stop-color="#848484"/><stop offset="0.572" stop-color="#8d8d8d"/><stop offset="0.620" stop-color="#8b8b8b"/><stop offset="0.666" stop-color="#7a7a7a"/><stop offset="0.697" stop-color="#646464"/><stop offset="0.718" stop-color="#575757"/><stop offset="0.746" stop-color="#353535"/><stop offset="0.767" stop-color="#171717"/><stop offset="0.774" stop-color="#0c0c0c"/><stop offset="0.784" stop-color="#010101"/><stop offset="1.000" stop-color="#010101"/></linearGradient><linearGradient id="g37" gradientUnits="userSpaceOnUse" x1="0" y1="167.8" x2="0" y2="454.7"><stop offset="0.000" stop-color="#272727"/><stop offset="0.105" stop-color="#2d2d2d"/><stop offset="0.160" stop-color="#3a3a3a"/><stop offset="0.195" stop-color="#464646"/><stop offset="0.241" stop-color="#535353"/><stop offset="0.314" stop-color="#626262"/><stop offset="0.397" stop-color="#6d6d6d"/><stop offset="0.425" stop-color="#797979"/><stop offset="0.439" stop-color="#7f7f7f"/><stop offset="0.505" stop-color="#888888"/><stop offset="0.575" stop-color="#8d8d8d"/><stop offset="0.620" stop-color="#8b8b8b"/><stop offset="0.666" stop-color="#7a7a7a"/><stop offset="0.697" stop-color="#656565"/><stop offset="0.718" stop-color="#585858"/><stop offset="0.746" stop-color="#353535"/><stop offset="0.767" stop-color="#171717"/><stop offset="0.774" stop-color="#0d0d0d"/><stop offset="0.784" stop-color="#010101"/><stop offset="1.000" stop-color="#010101"/></linearGradient><linearGradient id="g38" gradientUnits="userSpaceOnUse" x1="0" y1="167.8" x2="0" y2="454.7"><stop offset="0.000" stop-color="#272727"/><stop offset="0.105" stop-color="#2e2e2e"/><stop offset="0.160" stop-color="#3a3a3a"/><stop offset="0.195" stop-color="#464646"/><stop offset="0.241" stop-color="#535353"/><stop offset="0.321" stop-color="#636363"/><stop offset="0.401" stop-color="#6d6d6d"/><stop offset="0.429" stop-color="#797979"/><stop offset="0.443" stop-color="#808080"/><stop offset="0.554" stop-color="#8d8d8d"/><stop offset="0.613" stop-color="#8c8c8c"/><stop offset="0.631" stop-color="#888888"/><stop offset="0.666" stop-color="#7a7a7a"/><stop offset="0.697" stop-color="#656565"/><stop offset="0.718" stop-color="#585858"/><stop offset="0.746" stop-color="#353535"/><stop offset="0.756" stop-color="#262626"/><stop offset="0.767" stop-color="#171717"/><stop offset="0.774" stop-color="#0d0d0d"/><stop offset="0.784" stop-color="#010101"/><stop offset="1.000" stop-color="#010101"/></linearGradient><linearGradient id="g39" gradientUnits="userSpaceOnUse" x1="0" y1="167.8" x2="0" y2="454.7"><stop offset="0.000" stop-color="#272727"/><stop offset="0.112" stop-color="#2e2e2e"/><stop offset="0.178" stop-color="#3f3f3f"/><stop offset="0.265" stop-color="#595959"/><stop offset="0.328" stop-color="#636363"/><stop offset="0.401" stop-color="#6c6c6c"/><stop offset="0.429" stop-color="#787878"/><stop offset="0.443" stop-color="#808080"/><stop offset="0.540" stop-color="#8b8b8b"/><stop offset="0.579" stop-color="#8d8d8d"/><stop offset="0.620" stop-color="#8b8b8b"/><stop offset="0.666" stop-color="#7b7b7b"/><stop offset="0.697" stop-color="#656565"/><stop offset="0.718" stop-color="#595959"/><stop offset="0.732" stop-color="#484848"/><stop offset="0.746" stop-color="#363636"/><stop offset="0.756" stop-color="#262626"/><stop offset="0.763" stop-color="#1d1d1d"/><stop offset="0.774" stop-color="#0d0d0d"/><stop offset="0.784" stop-color="#010101"/><stop offset="1.000" stop-color="#010101"/></linearGradient><linearGradient id="g40" gradientUnits="userSpaceOnUse" x1="0" y1="167.8" x2="0" y2="454.7"><stop offset="0.000" stop-color="#2d2d2d"/><stop offset="0.122" stop-color="#343434"/><stop offset="0.192" stop-color="#434343"/><stop offset="0.275" stop-color="#575757"/><stop offset="0.356" stop-color="#656565"/><stop offset="0.404" stop-color="#6c6c6c"/><stop offset="0.432" stop-color="#797979"/><stop offset="0.446" stop-color="#818181"/><stop offset="0.568" stop-color="#8e8e8e"/><stop offset="0.620" stop-color="#8c8c8c"/><stop offset="0.666" stop-color="#7b7b7b"/><stop offset="0.697" stop-color="#666666"/><stop offset="0.718" stop-color="#595959"/><stop offset="0.728" stop-color="#4d4d4d"/><stop offset="0.746" stop-color="#363636"/><stop offset="0.756" stop-color="#272727"/><stop offset="0.763" stop-color="#1e1e1e"/><stop offset="0.774" stop-color="#0d0d0d"/><stop offset="0.784" stop-color="#010101"/><stop offset="1.000" stop-color="#010101"/></linearGradient><linearGradient id="g41" gradientUnits="userSpaceOnUse" x1="0" y1="167.8" x2="0" y2="454.7"><stop offset="0.000" stop-color="#393939"/><stop offset="0.157" stop-color="#414141"/><stop offset="0.209" stop-color="#474747"/><stop offset="0.279" stop-color="#535353"/><stop offset="0.411" stop-color="#6d6d6d"/><stop offset="0.439" stop-color="#7a7a7a"/><stop offset="0.450" stop-color="#818181"/><stop offset="0.568" stop-color="#8e8e8e"/><stop offset="0.620" stop-color="#8c8c8c"/><stop offset="0.666" stop-color="#7b7b7b"/><stop offset="0.697" stop-color="#666666"/><stop offset="0.722" stop-color="#565656"/><stop offset="0.746" stop-color="#363636"/><stop offset="0.756" stop-color="#272727"/><stop offset="0.763" stop-color="#1e1e1e"/><stop offset="0.774" stop-color="#0d0d0d"/><stop offset="0.784" stop-color="#010101"/><stop offset="1.000" stop-color="#010101"/></linearGradient><linearGradient id="g42" gradientUnits="userSpaceOnUse" x1="0" y1="167.8" x2="0" y2="454.7"><stop offset="0.000" stop-color="#343434"/><stop offset="0.139" stop-color="#3b3b3b"/><stop offset="0.206" stop-color="#434343"/><stop offset="0.272" stop-color="#4f4f4f"/><stop offset="0.310" stop-color="#585858"/><stop offset="0.415" stop-color="#6e6e6e"/><stop offset="0.439" stop-color="#7a7a7a"/><stop offset="0.450" stop-color="#818181"/><stop offset="0.568" stop-color="#8e8e8e"/><stop offset="0.620" stop-color="#8c8c8c"/><stop offset="0.666" stop-color="#7b7b7b"/><stop offset="0.697" stop-color="#666666"/><stop offset="0.722" stop-color="#565656"/><stop offset="0.746" stop-color="#373737"/><stop offset="0.756" stop-color="#272727"/><stop offset="0.763" stop-color="#1e1e1e"/><stop offset="0.774" stop-color="#0d0d0d"/><stop offset="0.784" stop-color="#010101"/><stop offset="1.000" stop-color="#010101"/></linearGradient><linearGradient id="g43" gradientUnits="userSpaceOnUse" x1="0" y1="167.8" x2="0" y2="454.7"><stop offset="0.000" stop-color="#2f2f2f"/><stop offset="0.132" stop-color="#363636"/><stop offset="0.206" stop-color="#3f3f3f"/><stop offset="0.268" stop-color="#4d4d4d"/><stop offset="0.303" stop-color="#575757"/><stop offset="0.415" stop-color="#6e6e6e"/><stop offset="0.439" stop-color="#7a7a7a"/><stop offset="0.450" stop-color="#818181"/><stop offset="0.568" stop-color="#8e8e8e"/><stop offset="0.620" stop-color="#8c8c8c"/><stop offset="0.666" stop-color="#7b7b7b"/><stop offset="0.697" stop-color="#666666"/><stop offset="0.722" stop-color="#565656"/><stop offset="0.746" stop-color="#373737"/><stop offset="0.756" stop-color="#272727"/><stop offset="0.763" stop-color="#1e1e1e"/><stop offset="0.774" stop-color="#0e0e0e"/><stop offset="0.784" stop-color="#010101"/><stop offset="1.000" stop-color="#010101"/></linearGradient><linearGradient id="g44" gradientUnits="userSpaceOnUse" x1="0" y1="167.8" x2="0" y2="454.7"><stop offset="0.000" stop-color="#232323"/><stop offset="0.122" stop-color="#2d2d2d"/><stop offset="0.181" stop-color="#3a3a3a"/><stop offset="0.247" stop-color="#4f4f4f"/><stop offset="0.303" stop-color="#5c5c5c"/><stop offset="0.404" stop-color="#6c6c6c"/><stop offset="0.432" stop-color="#797979"/><stop offset="0.446" stop-color="#818181"/><stop offset="0.568" stop-color="#8e8e8e"/><stop offset="0.620" stop-color="#8c8c8c"/><stop offset="0.666" stop-color="#7b7b7b"/><stop offset="0.697" stop-color="#666666"/><stop offset="0.722" stop-color="#565656"/><stop offset="0.746" stop-color="#373737"/><stop offset="0.756" stop-color="#272727"/><stop offset="0.763" stop-color="#1e1e1e"/><stop offset="0.774" stop-color="#0e0e0e"/><stop offset="0.784" stop-color="#010101"/><stop offset="1.000" stop-color="#010101"/></linearGradient><linearGradient id="g45" gradientUnits="userSpaceOnUse" x1="0" y1="167.8" x2="0" y2="454.7"><stop offset="0.000" stop-color="#1d1d1d"/><stop offset="0.122" stop-color="#292929"/><stop offset="0.178" stop-color="#383838"/><stop offset="0.209" stop-color="#454545"/><stop offset="0.247" stop-color="#535353"/><stop offset="0.286" stop-color="#5c5c5c"/><stop offset="0.394" stop-color="#6b6b6b"/><stop offset="0.418" stop-color="#737373"/><stop offset="0.443" stop-color="#808080"/><stop offset="0.512" stop-color="#898989"/><stop offset="0.575" stop-color="#8e8e8e"/><stop offset="0.620" stop-color="#8c8c8c"/><stop offset="0.666" stop-color="#7b7b7b"/><stop offset="0.697" stop-color="#666666"/><stop offset="0.722" stop-color="#565656"/><stop offset="0.746" stop-color="#373737"/><stop offset="0.756" stop-color="#272727"/><stop offset="0.763" stop-color="#1e1e1e"/><stop offset="0.774" stop-color="#0e0e0e"/><stop offset="0.784" stop-color="#010101"/><stop offset="1.000" stop-color="#010101"/></linearGradient><linearGradient id="g46" gradientUnits="userSpaceOnUse" x1="0" y1="167.8" x2="0" y2="454.7"><stop offset="0.000" stop-color="#1c1c1c"/><stop offset="0.122" stop-color="#2a2a2a"/><stop offset="0.178" stop-color="#393939"/><stop offset="0.213" stop-color="#464646"/><stop offset="0.247" stop-color="#535353"/><stop offset="0.286" stop-color="#5c5c5c"/><stop offset="0.387" stop-color="#6a6a6a"/><stop offset="0.401" stop-color="#6d6d6d"/><stop offset="0.429" stop-color="#7a7a7a"/><stop offset="0.439" stop-color="#808080"/><stop offset="0.488" stop-color="#868686"/><stop offset="0.572" stop-color="#8e8e8e"/><stop offset="0.620" stop-color="#8c8c8c"/><stop offset="0.666" stop-color="#7b7b7b"/><stop offset="0.697" stop-color="#666666"/><stop offset="0.722" stop-color="#565656"/><stop offset="0.739" stop-color="#404040"/><stop offset="0.746" stop-color="#373737"/><stop offset="0.756" stop-color="#272727"/><stop offset="0.763" stop-color="#1e1e1e"/><stop offset="0.774" stop-color="#0e0e0e"/><stop offset="0.784" stop-color="#010101"/><stop offset="1.000" stop-color="#010101"/></linearGradient><linearGradient id="g47" gradientUnits="userSpaceOnUse" x1="0" y1="167.8" x2="0" y2="454.7"><stop offset="0.000" stop-color="#1b1b1b"/><stop offset="0.122" stop-color="#2a2a2a"/><stop offset="0.178" stop-color="#393939"/><stop offset="0.244" stop-color="#525252"/><stop offset="0.289" stop-color="#5d5d5d"/><stop offset="0.394" stop-color="#6c6c6c"/><stop offset="0.425" stop-color="#7a7a7a"/><stop offset="0.436" stop-color="#7f7f7f"/><stop offset="0.474" stop-color="#858585"/><stop offset="0.572" stop-color="#8e8e8e"/><stop offset="0.620" stop-color="#8c8c8c"/><stop offset="0.669" stop-color="#7a7a7a"/><stop offset="0.697" stop-color="#666666"/><stop offset="0.722" stop-color="#575757"/><stop offset="0.739" stop-color="#404040"/><stop offset="0.746" stop-color="#373737"/><stop offset="0.756" stop-color="#272727"/><stop offset="0.763" stop-color="#1e1e1e"/><stop offset="0.774" stop-color="#0e0e0e"/><stop offset="0.784" stop-color="#010101"/><stop offset="1.000" stop-color="#010101"/></linearGradient><linearGradient id="g48" gradientUnits="userSpaceOnUse" x1="0" y1="167.8" x2="0" y2="454.7"><stop offset="0.000" stop-color="#1a1a1a"/><stop offset="0.122" stop-color="#2b2b2b"/><stop offset="0.174" stop-color="#383838"/><stop offset="0.244" stop-color="#525252"/><stop offset="0.286" stop-color="#5c5c5c"/><stop offset="0.380" stop-color="#696969"/><stop offset="0.394" stop-color="#6d6d6d"/><stop offset="0.432" stop-color="#7e7e7e"/><stop offset="0.471" stop-color="#848484"/><stop offset="0.572" stop-color="#8e8e8e"/><stop offset="0.620" stop-color="#8c8c8c"/><stop offset="0.669" stop-color="#7a7a7a"/><stop offset="0.697" stop-color="#676767"/><stop offset="0.722" stop-color="#575757"/><stop offset="0.739" stop-color="#414141"/><stop offset="0.746" stop-color="#383838"/><stop offset="0.756" stop-color="#272727"/><stop offset="0.763" stop-color="#1e1e1e"/><stop offset="0.774" stop-color="#0e0e0e"/><stop offset="0.784" stop-color="#010101"/><stop offset="1.000" stop-color="#010101"/></linearGradient><linearGradient id="g49" gradientUnits="userSpaceOnUse" x1="0" y1="167.8" x2="0" y2="454.7"><stop offset="0.000" stop-color="#191919"/><stop offset="0.122" stop-color="#2c2c2c"/><stop offset="0.174" stop-color="#393939"/><stop offset="0.244" stop-color="#515151"/><stop offset="0.282" stop-color="#5b5b5b"/><stop offset="0.366" stop-color="#686868"/><stop offset="0.387" stop-color="#6b6b6b"/><stop offset="0.429" stop-color="#7d7d7d"/><stop offset="0.467" stop-color="#848484"/><stop offset="0.572" stop-color="#8e8e8e"/><stop offset="0.620" stop-color="#8c8c8c"/><stop offset="0.669" stop-color="#7a7a7a"/><stop offset="0.697" stop-color="#676767"/><stop offset="0.722" stop-color="#575757"/><stop offset="0.739" stop-color="#414141"/><stop offset="0.746" stop-color="#383838"/><stop offset="0.756" stop-color="#282828"/><stop offset="0.763" stop-color="#1f1f1f"/><stop offset="0.774" stop-color="#0e0e0e"/><stop offset="0.784" stop-color="#010101"/><stop offset="1.000" stop-color="#010101"/></linearGradient><linearGradient id="g50" gradientUnits="userSpaceOnUse" x1="0" y1="167.8" x2="0" y2="454.7"><stop offset="0.000" stop-color="#191919"/><stop offset="0.119" stop-color="#2b2b2b"/><stop offset="0.174" stop-color="#393939"/><stop offset="0.244" stop-color="#515151"/><stop offset="0.279" stop-color="#5a5a5a"/><stop offset="0.328" stop-color="#636363"/><stop offset="0.383" stop-color="#6b6b6b"/><stop offset="0.422" stop-color="#7c7c7c"/><stop offset="0.467" stop-color="#848484"/><stop offset="0.572" stop-color="#8e8e8e"/><stop offset="0.620" stop-color="#8c8c8c"/><stop offset="0.669" stop-color="#7a7a7a"/><stop offset="0.697" stop-color="#676767"/><stop offset="0.722" stop-color="#585858"/><stop offset="0.739" stop-color="#424242"/><stop offset="0.746" stop-color="#393939"/><stop offset="0.756" stop-color="#282828"/><stop offset="0.763" stop-color="#1f1f1f"/><stop offset="0.774" stop-color="#0f0f0f"/><stop offset="0.784" stop-color="#010101"/><stop offset="1.000" stop-color="#010101"/></linearGradient><linearGradient id="g51" gradientUnits="userSpaceOnUse" x1="0" y1="167.8" x2="0" y2="454.7"><stop offset="0.000" stop-color="#181818"/><stop offset="0.119" stop-color="#2c2c2c"/><stop offset="0.171" stop-color="#383838"/><stop offset="0.223" stop-color="#4b4b4b"/><stop offset="0.272" stop-color="#595959"/><stop offset="0.321" stop-color="#626262"/><stop offset="0.383" stop-color="#6b6b6b"/><stop offset="0.422" stop-color="#7c7c7c"/><stop offset="0.467" stop-color="#858585"/><stop offset="0.572" stop-color="#8e8e8e"/><stop offset="0.620" stop-color="#8d8d8d"/><stop offset="0.669" stop-color="#7b7b7b"/><stop offset="0.697" stop-color="#676767"/><stop offset="0.722" stop-color="#585858"/><stop offset="0.746" stop-color="#393939"/><stop offset="0.756" stop-color="#292929"/><stop offset="0.763" stop-color="#202020"/><stop offset="0.774" stop-color="#101010"/><stop offset="0.784" stop-color="#030303"/><stop offset="0.791" stop-color="#010101"/><stop offset="1.000" stop-color="#010101"/></linearGradient><linearGradient id="g52" gradientUnits="userSpaceOnUse" x1="0" y1="167.8" x2="0" y2="454.7"><stop offset="0.000" stop-color="#171717"/><stop offset="0.119" stop-color="#2b2b2b"/><stop offset="0.171" stop-color="#383838"/><stop offset="0.223" stop-color="#4a4a4a"/><stop offset="0.272" stop-color="#595959"/><stop offset="0.317" stop-color="#616161"/><stop offset="0.383" stop-color="#6c6c6c"/><stop offset="0.418" stop-color="#7c7c7c"/><stop offset="0.467" stop-color="#858585"/><stop offset="0.572" stop-color="#8f8f8f"/><stop offset="0.620" stop-color="#8d8d8d"/><stop offset="0.669" stop-color="#7b7b7b"/><stop offset="0.697" stop-color="#686868"/><stop offset="0.722" stop-color="#585858"/><stop offset="0.746" stop-color="#3a3a3a"/><stop offset="0.756" stop-color="#2a2a2a"/><stop offset="0.767" stop-color="#1b1b1b"/><stop offset="0.784" stop-color="#040404"/><stop offset="0.795" stop-color="#010101"/><stop offset="1.000" stop-color="#010101"/></linearGradient><linearGradient id="g53" gradientUnits="userSpaceOnUse" x1="0" y1="167.8" x2="0" y2="454.7"><stop offset="0.000" stop-color="#151515"/><stop offset="0.115" stop-color="#282828"/><stop offset="0.171" stop-color="#363636"/><stop offset="0.220" stop-color="#474747"/><stop offset="0.272" stop-color="#585858"/><stop offset="0.321" stop-color="#616161"/><stop offset="0.383" stop-color="#6b6b6b"/><stop offset="0.422" stop-color="#7c7c7c"/><stop offset="0.467" stop-color="#858585"/><stop offset="0.572" stop-color="#8f8f8f"/><stop offset="0.620" stop-color="#8d8d8d"/><stop offset="0.669" stop-color="#7b7b7b"/><stop offset="0.697" stop-color="#686868"/><stop offset="0.722" stop-color="#595959"/><stop offset="0.746" stop-color="#3a3a3a"/><stop offset="0.756" stop-color="#2b2b2b"/><stop offset="0.774" stop-color="#111111"/><stop offset="0.784" stop-color="#040404"/><stop offset="0.795" stop-color="#010101"/><stop offset="1.000" stop-color="#010101"/></linearGradient><linearGradient id="g54" gradientUnits="userSpaceOnUse" x1="0" y1="167.8" x2="0" y2="454.7"><stop offset="0.000" stop-color="#131313"/><stop offset="0.115" stop-color="#262626"/><stop offset="0.171" stop-color="#343434"/><stop offset="0.216" stop-color="#444444"/><stop offset="0.265" stop-color="#565656"/><stop offset="0.317" stop-color="#606060"/><stop offset="0.383" stop-color="#6b6b6b"/><stop offset="0.415" stop-color="#7a7a7a"/><stop offset="0.429" stop-color="#7e7e7e"/><stop offset="0.467" stop-color="#858585"/><stop offset="0.572" stop-color="#8f8f8f"/><stop offset="0.620" stop-color="#8d8d8d"/><stop offset="0.669" stop-color="#7b7b7b"/><stop offset="0.697" stop-color="#686868"/><stop offset="0.722" stop-color="#595959"/><stop offset="0.746" stop-color="#3b3b3b"/><stop offset="0.774" stop-color="#121212"/><stop offset="0.784" stop-color="#040404"/><stop offset="0.791" stop-color="#010101"/><stop offset="1.000" stop-color="#010101"/></linearGradient><linearGradient id="g55" gradientUnits="userSpaceOnUse" x1="0" y1="167.8" x2="0" y2="454.7"><stop offset="0.000" stop-color="#121212"/><stop offset="0.112" stop-color="#232323"/><stop offset="0.167" stop-color="#303030"/><stop offset="0.216" stop-color="#434343"/><stop offset="0.268" stop-color="#575757"/><stop offset="0.321" stop-color="#616161"/><stop offset="0.383" stop-color="#6b6b6b"/><stop offset="0.415" stop-color="#797979"/><stop offset="0.432" stop-color="#7f7f7f"/><stop offset="0.471" stop-color="#858585"/><stop offset="0.572" stop-color="#8f8f8f"/><stop offset="0.620" stop-color="#8d8d8d"/><stop offset="0.669" stop-color="#7b7b7b"/><stop offset="0.697" stop-color="#686868"/><stop offset="0.722" stop-color="#595959"/><stop offset="0.746" stop-color="#3b3b3b"/><stop offset="0.774" stop-color="#121212"/><stop offset="0.784" stop-color="#050505"/><stop offset="0.791" stop-color="#010101"/><stop offset="1.000" stop-color="#010101"/></linearGradient><linearGradient id="g56" gradientUnits="userSpaceOnUse" x1="0" y1="167.8" x2="0" y2="454.7"><stop offset="0.000" stop-color="#101010"/><stop offset="0.108" stop-color="#202020"/><stop offset="0.167" stop-color="#2e2e2e"/><stop offset="0.213" stop-color="#3f3f3f"/><stop offset="0.241" stop-color="#4b4b4b"/><stop offset="0.272" stop-color="#575757"/><stop offset="0.321" stop-color="#606060"/><stop offset="0.383" stop-color="#6a6a6a"/><stop offset="0.415" stop-color="#797979"/><stop offset="0.425" stop-color="#7d7d7d"/><stop offset="0.467" stop-color="#858585"/><stop offset="0.572" stop-color="#8f8f8f"/><stop offset="0.620" stop-color="#8d8d8d"/><stop offset="0.669" stop-color="#7b7b7b"/><stop offset="0.697" stop-color="#686868"/><stop offset="0.722" stop-color="#595959"/><stop offset="0.746" stop-color="#3b3b3b"/><stop offset="0.774" stop-color="#131313"/><stop offset="0.784" stop-color="#050505"/><stop offset="0.791" stop-color="#010101"/><stop offset="1.000" stop-color="#010101"/></linearGradient><linearGradient id="g57" gradientUnits="userSpaceOnUse" x1="0" y1="167.8" x2="0" y2="454.7"><stop offset="0.000" stop-color="#0e0e0e"/><stop offset="0.105" stop-color="#1d1d1d"/><stop offset="0.164" stop-color="#2b2b2b"/><stop offset="0.206" stop-color="#3a3a3a"/><stop offset="0.234" stop-color="#474747"/><stop offset="0.272" stop-color="#575757"/><stop offset="0.324" stop-color="#606060"/><stop offset="0.383" stop-color="#6a6a6a"/><stop offset="0.415" stop-color="#797979"/><stop offset="0.425" stop-color="#7d7d7d"/><stop offset="0.467" stop-color="#858585"/><stop offset="0.572" stop-color="#8f8f8f"/><stop offset="0.620" stop-color="#8e8e8e"/><stop offset="0.669" stop-color="#7b7b7b"/><stop offset="0.697" stop-color="#696969"/><stop offset="0.722" stop-color="#595959"/><stop offset="0.746" stop-color="#3c3c3c"/><stop offset="0.781" stop-color="#0a0a0a"/><stop offset="0.784" stop-color="#050505"/><stop offset="0.791" stop-color="#010101"/><stop offset="1.000" stop-color="#010101"/></linearGradient><linearGradient id="g58" gradientUnits="userSpaceOnUse" x1="0" y1="167.8" x2="0" y2="454.7"><stop offset="0.000" stop-color="#0c0c0c"/><stop offset="0.101" stop-color="#1a1a1a"/><stop offset="0.164" stop-color="#292929"/><stop offset="0.202" stop-color="#373737"/><stop offset="0.234" stop-color="#464646"/><stop offset="0.272" stop-color="#565656"/><stop offset="0.324" stop-color="#606060"/><stop offset="0.387" stop-color="#6b6b6b"/><stop offset="0.418" stop-color="#7a7a7a"/><stop offset="0.429" stop-color="#7e7e7e"/><stop offset="0.467" stop-color="#858585"/><stop offset="0.572" stop-color="#909090"/><stop offset="0.620" stop-color="#8e8e8e"/><stop offset="0.669" stop-color="#7c7c7c"/><stop offset="0.697" stop-color="#696969"/><stop offset="0.722" stop-color="#5a5a5a"/><stop offset="0.746" stop-color="#3c3c3c"/><stop offset="0.781" stop-color="#0a0a0a"/><stop offset="0.784" stop-color="#060606"/><stop offset="0.795" stop-color="#010101"/><stop offset="1.000" stop-color="#010101"/></linearGradient><linearGradient id="g59" gradientUnits="userSpaceOnUse" x1="0" y1="167.8" x2="0" y2="454.7"><stop offset="0.000" stop-color="#0b0b0b"/><stop offset="0.098" stop-color="#171717"/><stop offset="0.160" stop-color="#262626"/><stop offset="0.202" stop-color="#353535"/><stop offset="0.230" stop-color="#444444"/><stop offset="0.272" stop-color="#565656"/><stop offset="0.324" stop-color="#606060"/><stop offset="0.387" stop-color="#6b6b6b"/><stop offset="0.418" stop-color="#7a7a7a"/><stop offset="0.429" stop-color="#7e7e7e"/><stop offset="0.467" stop-color="#858585"/><stop offset="0.572" stop-color="#909090"/><stop offset="0.620" stop-color="#8e8e8e"/><stop offset="0.669" stop-color="#7c7c7c"/><stop offset="0.697" stop-color="#696969"/><stop offset="0.722" stop-color="#5a5a5a"/><stop offset="0.742" stop-color="#424242"/><stop offset="0.784" stop-color="#060606"/><stop offset="0.795" stop-color="#010101"/><stop offset="1.000" stop-color="#010101"/></linearGradient><linearGradient id="g60" gradientUnits="userSpaceOnUse" x1="0" y1="167.8" x2="0" y2="454.7"><stop offset="0.000" stop-color="#090909"/><stop offset="0.094" stop-color="#141414"/><stop offset="0.157" stop-color="#222222"/><stop offset="0.199" stop-color="#313131"/><stop offset="0.230" stop-color="#424242"/><stop offset="0.272" stop-color="#555555"/><stop offset="0.324" stop-color="#5f5f5f"/><stop offset="0.387" stop-color="#6a6a6a"/><stop offset="0.418" stop-color="#797979"/><stop offset="0.429" stop-color="#7e7e7e"/><stop offset="0.467" stop-color="#858585"/><stop offset="0.572" stop-color="#909090"/><stop offset="0.620" stop-color="#8e8e8e"/><stop offset="0.669" stop-color="#7c7c7c"/><stop offset="0.697" stop-color="#696969"/><stop offset="0.722" stop-color="#5a5a5a"/><stop offset="0.742" stop-color="#424242"/><stop offset="0.784" stop-color="#070707"/><stop offset="0.795" stop-color="#010101"/><stop offset="1.000" stop-color="#010101"/></linearGradient><linearGradient id="g61" gradientUnits="userSpaceOnUse" x1="0" y1="167.8" x2="0" y2="454.7"><stop offset="0.000" stop-color="#070707"/><stop offset="0.094" stop-color="#121212"/><stop offset="0.157" stop-color="#202020"/><stop offset="0.199" stop-color="#2f2f2f"/><stop offset="0.230" stop-color="#414141"/><stop offset="0.258" stop-color="#4f4f4f"/><stop offset="0.275" stop-color="#555555"/><stop offset="0.324" stop-color="#5f5f5f"/><stop offset="0.390" stop-color="#6b6b6b"/><stop offset="0.422" stop-color="#7b7b7b"/><stop offset="0.429" stop-color="#7e7e7e"/><stop offset="0.467" stop-color="#858585"/><stop offset="0.568" stop-color="#909090"/><stop offset="0.620" stop-color="#8e8e8e"/><stop offset="0.669" stop-color="#7c7c7c"/><stop offset="0.697" stop-color="#696969"/><stop offset="0.722" stop-color="#5a5a5a"/><stop offset="0.742" stop-color="#424242"/><stop offset="0.784" stop-color="#070707"/><stop offset="0.795" stop-color="#010101"/><stop offset="1.000" stop-color="#010101"/></linearGradient><linearGradient id="g62" gradientUnits="userSpaceOnUse" x1="0" y1="167.8" x2="0" y2="454.7"><stop offset="0.000" stop-color="#060606"/><stop offset="0.094" stop-color="#111111"/><stop offset="0.157" stop-color="#1f1f1f"/><stop offset="0.199" stop-color="#2e2e2e"/><stop offset="0.227" stop-color="#3f3f3f"/><stop offset="0.251" stop-color="#4a4a4a"/><stop offset="0.272" stop-color="#555555"/><stop offset="0.324" stop-color="#5f5f5f"/><stop offset="0.390" stop-color="#6b6b6b"/><stop offset="0.422" stop-color="#7b7b7b"/><stop offset="0.432" stop-color="#808080"/><stop offset="0.474" stop-color="#878787"/><stop offset="0.568" stop-color="#919191"/><stop offset="0.620" stop-color="#8f8f8f"/><stop offset="0.669" stop-color="#7c7c7c"/><stop offset="0.701" stop-color="#686868"/><stop offset="0.722" stop-color="#5b5b5b"/><stop offset="0.735" stop-color="#4c4c4c"/><stop offset="0.760" stop-color="#2b2b2b"/><stop offset="0.784" stop-color="#080808"/><stop offset="0.795" stop-color="#010101"/><stop offset="1.000" stop-color="#010101"/></linearGradient><linearGradient id="g63" gradientUnits="userSpaceOnUse" x1="0" y1="167.8" x2="0" y2="454.7"><stop offset="0.000" stop-color="#060606"/><stop offset="0.094" stop-color="#111111"/><stop offset="0.157" stop-color="#1f1f1f"/><stop offset="0.199" stop-color="#2e2e2e"/><stop offset="0.227" stop-color="#3f3f3f"/><stop offset="0.251" stop-color="#4a4a4a"/><stop offset="0.272" stop-color="#555555"/><stop offset="0.324" stop-color="#5f5f5f"/><stop offset="0.390" stop-color="#6b6b6b"/><stop offset="0.422" stop-color="#7b7b7b"/><stop offset="0.432" stop-color="#808080"/><stop offset="0.474" stop-color="#878787"/><stop offset="0.565" stop-color="#919191"/><stop offset="0.620" stop-color="#8f8f8f"/><stop offset="0.669" stop-color="#7d7d7d"/><stop offset="0.701" stop-color="#696969"/><stop offset="0.722" stop-color="#5c5c5c"/><stop offset="0.732" stop-color="#525252"/><stop offset="0.760" stop-color="#2d2d2d"/><stop offset="0.784" stop-color="#0a0a0a"/><stop offset="0.795" stop-color="#010101"/><stop offset="1.000" stop-color="#010101"/></linearGradient><linearGradient id="g64" gradientUnits="userSpaceOnUse" x1="0" y1="167.8" x2="0" y2="454.7"><stop offset="0.000" stop-color="#060606"/><stop offset="0.094" stop-color="#111111"/><stop offset="0.157" stop-color="#1f1f1f"/><stop offset="0.199" stop-color="#2e2e2e"/><stop offset="0.227" stop-color="#3f3f3f"/><stop offset="0.251" stop-color="#4a4a4a"/><stop offset="0.272" stop-color="#555555"/><stop offset="0.324" stop-color="#5f5f5f"/><stop offset="0.390" stop-color="#6b6b6b"/><stop offset="0.422" stop-color="#7c7c7c"/><stop offset="0.432" stop-color="#808080"/><stop offset="0.484" stop-color="#898989"/><stop offset="0.568" stop-color="#929292"/><stop offset="0.620" stop-color="#909090"/><stop offset="0.669" stop-color="#7d7d7d"/><stop offset="0.701" stop-color="#6a6a6a"/><stop offset="0.722" stop-color="#5d5d5d"/><stop offset="0.732" stop-color="#545454"/><stop offset="0.756" stop-color="#343434"/><stop offset="0.784" stop-color="#0b0b0b"/><stop offset="0.795" stop-color="#010101"/><stop offset="1.000" stop-color="#010101"/></linearGradient><linearGradient id="g65" gradientUnits="userSpaceOnUse" x1="0" y1="167.8" x2="0" y2="454.7"><stop offset="0.000" stop-color="#060606"/><stop offset="0.094" stop-color="#111111"/><stop offset="0.157" stop-color="#1f1f1f"/><stop offset="0.199" stop-color="#2e2e2e"/><stop offset="0.227" stop-color="#3f3f3f"/><stop offset="0.251" stop-color="#4a4a4a"/><stop offset="0.272" stop-color="#555555"/><stop offset="0.324" stop-color="#5f5f5f"/><stop offset="0.390" stop-color="#6b6b6b"/><stop offset="0.422" stop-color="#7c7c7c"/><stop offset="0.432" stop-color="#808080"/><stop offset="0.498" stop-color="#8c8c8c"/><stop offset="0.572" stop-color="#929292"/><stop offset="0.620" stop-color="#909090"/><stop offset="0.673" stop-color="#7c7c7c"/><stop offset="0.701" stop-color="#6a6a6a"/><stop offset="0.718" stop-color="#606060"/><stop offset="0.732" stop-color="#565656"/><stop offset="0.756" stop-color="#363636"/><stop offset="0.767" stop-color="#262626"/><stop offset="0.777" stop-color="#171717"/><stop offset="0.784" stop-color="#0d0d0d"/><stop offset="0.795" stop-color="#010101"/><stop offset="1.000" stop-color="#010101"/></linearGradient><linearGradient id="g66" gradientUnits="userSpaceOnUse" x1="0" y1="167.8" x2="0" y2="454.7"><stop offset="0.000" stop-color="#060606"/><stop offset="0.094" stop-color="#111111"/><stop offset="0.157" stop-color="#1f1f1f"/><stop offset="0.199" stop-color="#2e2e2e"/><stop offset="0.227" stop-color="#3f3f3f"/><stop offset="0.251" stop-color="#4a4a4a"/><stop offset="0.272" stop-color="#555555"/><stop offset="0.324" stop-color="#5f5f5f"/><stop offset="0.390" stop-color="#6b6b6b"/><stop offset="0.422" stop-color="#7c7c7c"/><stop offset="0.432" stop-color="#818181"/><stop offset="0.505" stop-color="#8d8d8d"/><stop offset="0.572" stop-color="#939393"/><stop offset="0.620" stop-color="#919191"/><stop offset="0.673" stop-color="#7c7c7c"/><stop offset="0.701" stop-color="#6b6b6b"/><stop offset="0.715" stop-color="#636363"/><stop offset="0.732" stop-color="#575757"/><stop offset="0.749" stop-color="#414141"/><stop offset="0.756" stop-color="#383838"/><stop offset="0.767" stop-color="#282828"/><stop offset="0.774" stop-color="#1e1e1e"/><stop offset="0.784" stop-color="#0e0e0e"/><stop offset="0.795" stop-color="#010101"/><stop offset="1.000" stop-color="#010101"/></linearGradient><linearGradient id="g67" gradientUnits="userSpaceOnUse" x1="0" y1="167.8" x2="0" y2="454.7"><stop offset="0.000" stop-color="#060606"/><stop offset="0.094" stop-color="#111111"/><stop offset="0.157" stop-color="#1f1f1f"/><stop offset="0.199" stop-color="#2e2e2e"/><stop offset="0.227" stop-color="#3f3f3f"/><stop offset="0.251" stop-color="#4a4a4a"/><stop offset="0.272" stop-color="#555555"/><stop offset="0.324" stop-color="#5f5f5f"/><stop offset="0.390" stop-color="#6b6b6b"/><stop offset="0.422" stop-color="#7c7c7c"/><stop offset="0.432" stop-color="#808080"/><stop offset="0.509" stop-color="#8e8e8e"/><stop offset="0.575" stop-color="#939393"/><stop offset="0.620" stop-color="#929292"/><stop offset="0.673" stop-color="#7e7e7e"/><stop offset="0.704" stop-color="#6b6b6b"/><stop offset="0.728" stop-color="#5c5c5c"/><stop offset="0.735" stop-color="#555555"/><stop offset="0.749" stop-color="#434343"/><stop offset="0.756" stop-color="#3a3a3a"/><stop offset="0.767" stop-color="#2a2a2a"/><stop offset="0.774" stop-color="#212121"/><stop offset="0.784" stop-color="#101010"/><stop offset="0.795" stop-color="#040404"/><stop offset="0.805" stop-color="#010101"/><stop offset="1.000" stop-color="#010101"/></linearGradient><linearGradient id="g68" gradientUnits="userSpaceOnUse" x1="0" y1="167.8" x2="0" y2="454.7"><stop offset="0.000" stop-color="#060606"/><stop offset="0.094" stop-color="#111111"/><stop offset="0.157" stop-color="#1f1f1f"/><stop offset="0.199" stop-color="#2e2e2e"/><stop offset="0.227" stop-color="#3f3f3f"/><stop offset="0.251" stop-color="#4a4a4a"/><stop offset="0.272" stop-color="#555555"/><stop offset="0.324" stop-color="#5f5f5f"/><stop offset="0.390" stop-color="#6b6b6b"/><stop offset="0.422" stop-color="#7c7c7c"/><stop offset="0.432" stop-color="#808080"/><stop offset="0.509" stop-color="#8e8e8e"/><stop offset="0.575" stop-color="#949494"/><stop offset="0.620" stop-color="#929292"/><stop offset="0.673" stop-color="#7f7f7f"/><stop offset="0.704" stop-color="#6c6c6c"/><stop offset="0.718" stop-color="#646464"/><stop offset="0.732" stop-color="#5a5a5a"/><stop offset="0.749" stop-color="#444444"/><stop offset="0.756" stop-color="#3b3b3b"/><stop offset="0.767" stop-color="#2b2b2b"/><stop offset="0.774" stop-color="#222222"/><stop offset="0.784" stop-color="#121212"/><stop offset="0.795" stop-color="#050505"/><stop offset="0.812" stop-color="#010101"/><stop offset="1.000" stop-color="#010101"/></linearGradient><linearGradient id="g69" gradientUnits="userSpaceOnUse" x1="0" y1="167.8" x2="0" y2="454.7"><stop offset="0.000" stop-color="#121212"/><stop offset="0.098" stop-color="#1c1c1c"/><stop offset="0.157" stop-color="#282828"/><stop offset="0.199" stop-color="#353535"/><stop offset="0.230" stop-color="#444444"/><stop offset="0.272" stop-color="#555555"/><stop offset="0.383" stop-color="#696969"/><stop offset="0.404" stop-color="#717171"/><stop offset="0.429" stop-color="#7f7f7f"/><stop offset="0.502" stop-color="#8d8d8d"/><stop offset="0.572" stop-color="#949494"/><stop offset="0.620" stop-color="#939393"/><stop offset="0.673" stop-color="#808080"/><stop offset="0.704" stop-color="#6d6d6d"/><stop offset="0.718" stop-color="#656565"/><stop offset="0.732" stop-color="#5a5a5a"/><stop offset="0.749" stop-color="#454545"/><stop offset="0.756" stop-color="#3c3c3c"/><stop offset="0.767" stop-color="#2c2c2c"/><stop offset="0.777" stop-color="#1d1d1d"/><stop offset="0.791" stop-color="#0a0a0a"/><stop offset="0.795" stop-color="#060606"/><stop offset="0.816" stop-color="#010101"/><stop offset="1.000" stop-color="#010101"/></linearGradient><linearGradient id="g70" gradientUnits="userSpaceOnUse" x1="0" y1="167.8" x2="0" y2="454.7"><stop offset="0.000" stop-color="#282828"/><stop offset="0.139" stop-color="#373737"/><stop offset="0.209" stop-color="#474747"/><stop offset="0.307" stop-color="#5b5b5b"/><stop offset="0.366" stop-color="#656565"/><stop offset="0.394" stop-color="#6b6b6b"/><stop offset="0.422" stop-color="#787878"/><stop offset="0.432" stop-color="#7f7f7f"/><stop offset="0.512" stop-color="#8e8e8e"/><stop offset="0.575" stop-color="#959595"/><stop offset="0.620" stop-color="#939393"/><stop offset="0.673" stop-color="#818181"/><stop offset="0.704" stop-color="#6f6f6f"/><stop offset="0.718" stop-color="#666666"/><stop offset="0.732" stop-color="#5b5b5b"/><stop offset="0.749" stop-color="#464646"/><stop offset="0.756" stop-color="#3e3e3e"/><stop offset="0.767" stop-color="#2e2e2e"/><stop offset="0.777" stop-color="#1f1f1f"/><stop offset="0.791" stop-color="#0c0c0c"/><stop offset="0.795" stop-color="#080808"/><stop offset="0.819" stop-color="#010101"/><stop offset="1.000" stop-color="#010101"/></linearGradient><linearGradient id="g71" gradientUnits="userSpaceOnUse" x1="0" y1="167.8" x2="0" y2="454.7"><stop offset="0.000" stop-color="#343434"/><stop offset="0.146" stop-color="#424242"/><stop offset="0.251" stop-color="#525252"/><stop offset="0.352" stop-color="#626262"/><stop offset="0.397" stop-color="#6b6b6b"/><stop offset="0.425" stop-color="#7a7a7a"/><stop offset="0.436" stop-color="#808080"/><stop offset="0.519" stop-color="#8f8f8f"/><stop offset="0.575" stop-color="#959595"/><stop offset="0.620" stop-color="#949494"/><stop offset="0.673" stop-color="#828282"/><stop offset="0.704" stop-color="#707070"/><stop offset="0.718" stop-color="#676767"/><stop offset="0.732" stop-color="#5c5c5c"/><stop offset="0.756" stop-color="#3f3f3f"/><stop offset="0.767" stop-color="#2f2f2f"/><stop offset="0.791" stop-color="#0d0d0d"/><stop offset="0.795" stop-color="#090909"/><stop offset="0.816" stop-color="#010101"/><stop offset="1.000" stop-color="#010101"/></linearGradient><linearGradient id="g72" gradientUnits="userSpaceOnUse" x1="0" y1="167.8" x2="0" y2="454.7"><stop offset="0.000" stop-color="#343434"/><stop offset="0.146" stop-color="#424242"/><stop offset="0.251" stop-color="#525252"/><stop offset="0.352" stop-color="#626262"/><stop offset="0.397" stop-color="#6b6b6b"/><stop offset="0.425" stop-color="#797979"/><stop offset="0.436" stop-color="#7f7f7f"/><stop offset="0.519" stop-color="#8f8f8f"/><stop offset="0.579" stop-color="#969696"/><stop offset="0.620" stop-color="#959595"/><stop offset="0.673" stop-color="#848484"/><stop offset="0.704" stop-color="#727272"/><stop offset="0.718" stop-color="#6a6a6a"/><stop offset="0.735" stop-color="#5a5a5a"/><stop offset="0.756" stop-color="#424242"/><stop offset="0.788" stop-color="#141414"/><stop offset="0.795" stop-color="#0c0c0c"/><stop offset="0.816" stop-color="#010101"/><stop offset="1.000" stop-color="#010101"/></linearGradient><linearGradient id="g73" gradientUnits="userSpaceOnUse" x1="0" y1="167.8" x2="0" y2="454.7"><stop offset="0.000" stop-color="#343434"/><stop offset="0.146" stop-color="#424242"/><stop offset="0.251" stop-color="#525252"/><stop offset="0.352" stop-color="#626262"/><stop offset="0.397" stop-color="#6b6b6b"/><stop offset="0.425" stop-color="#797979"/><stop offset="0.436" stop-color="#7e7e7e"/><stop offset="0.519" stop-color="#909090"/><stop offset="0.579" stop-color="#979797"/><stop offset="0.620" stop-color="#969696"/><stop offset="0.673" stop-color="#868686"/><stop offset="0.708" stop-color="#737373"/><stop offset="0.722" stop-color="#696969"/><stop offset="0.735" stop-color="#5c5c5c"/><stop offset="0.756" stop-color="#444444"/><stop offset="0.791" stop-color="#121212"/><stop offset="0.798" stop-color="#0c0c0c"/><stop offset="0.819" stop-color="#010101"/><stop offset="1.000" stop-color="#010101"/></linearGradient><linearGradient id="g74" gradientUnits="userSpaceOnUse" x1="0" y1="167.8" x2="0" y2="454.7"><stop offset="0.000" stop-color="#1e1e1e"/><stop offset="0.146" stop-color="#2c2c2c"/><stop offset="0.195" stop-color="#343434"/><stop offset="0.251" stop-color="#494949"/><stop offset="0.272" stop-color="#525252"/><stop offset="0.307" stop-color="#5b5b5b"/><stop offset="0.356" stop-color="#656565"/><stop offset="0.376" stop-color="#6a6a6a"/><stop offset="0.408" stop-color="#787878"/><stop offset="0.523" stop-color="#909090"/><stop offset="0.582" stop-color="#979797"/><stop offset="0.620" stop-color="#979797"/><stop offset="0.673" stop-color="#878787"/><stop offset="0.708" stop-color="#747474"/><stop offset="0.722" stop-color="#6a6a6a"/><stop offset="0.735" stop-color="#5d5d5d"/><stop offset="0.756" stop-color="#454545"/><stop offset="0.791" stop-color="#141414"/><stop offset="0.802" stop-color="#0a0a0a"/><stop offset="0.819" stop-color="#010101"/><stop offset="1.000" stop-color="#010101"/></linearGradient><linearGradient id="g75" gradientUnits="userSpaceOnUse" x1="0" y1="167.8" x2="0" y2="454.7"><stop offset="0.000" stop-color="#131313"/><stop offset="0.143" stop-color="#212121"/><stop offset="0.195" stop-color="#292929"/><stop offset="0.244" stop-color="#404040"/><stop offset="0.268" stop-color="#4f4f4f"/><stop offset="0.300" stop-color="#5a5a5a"/><stop offset="0.352" stop-color="#676767"/><stop offset="0.380" stop-color="#6e6e6e"/><stop offset="0.401" stop-color="#767676"/><stop offset="0.523" stop-color="#919191"/><stop offset="0.582" stop-color="#979797"/><stop offset="0.620" stop-color="#979797"/><stop offset="0.673" stop-color="#888888"/><stop offset="0.708" stop-color="#757575"/><stop offset="0.718" stop-color="#6e6e6e"/><stop offset="0.735" stop-color="#5e5e5e"/><stop offset="0.760" stop-color="#424242"/><stop offset="0.791" stop-color="#151515"/><stop offset="0.805" stop-color="#090909"/><stop offset="0.819" stop-color="#010101"/><stop offset="1.000" stop-color="#010101"/></linearGradient><linearGradient id="g76" gradientUnits="userSpaceOnUse" x1="0" y1="167.8" x2="0" y2="454.7"><stop offset="0.000" stop-color="#121212"/><stop offset="0.143" stop-color="#212121"/><stop offset="0.195" stop-color="#2a2a2a"/><stop offset="0.244" stop-color="#404040"/><stop offset="0.268" stop-color="#4e4e4e"/><stop offset="0.300" stop-color="#595959"/><stop offset="0.352" stop-color="#666666"/><stop offset="0.380" stop-color="#6d6d6d"/><stop offset="0.404" stop-color="#767676"/><stop offset="0.526" stop-color="#919191"/><stop offset="0.582" stop-color="#989898"/><stop offset="0.620" stop-color="#989898"/><stop offset="0.676" stop-color="#888888"/><stop offset="0.715" stop-color="#747474"/><stop offset="0.742" stop-color="#585858"/><stop offset="0.760" stop-color="#454545"/><stop offset="0.791" stop-color="#171717"/><stop offset="0.809" stop-color="#080808"/><stop offset="0.819" stop-color="#010101"/><stop offset="1.000" stop-color="#010101"/></linearGradient><linearGradient id="g77" gradientUnits="userSpaceOnUse" x1="0" y1="167.8" x2="0" y2="454.7"><stop offset="0.000" stop-color="#121212"/><stop offset="0.143" stop-color="#212121"/><stop offset="0.195" stop-color="#2a2a2a"/><stop offset="0.244" stop-color="#3f3f3f"/><stop offset="0.272" stop-color="#4e4e4e"/><stop offset="0.300" stop-color="#585858"/><stop offset="0.352" stop-color="#666666"/><stop offset="0.383" stop-color="#6d6d6d"/><stop offset="0.404" stop-color="#767676"/><stop offset="0.530" stop-color="#929292"/><stop offset="0.586" stop-color="#999999"/><stop offset="0.624" stop-color="#999999"/><stop offset="0.676" stop-color="#8a8a8a"/><stop offset="0.715" stop-color="#767676"/><stop offset="0.756" stop-color="#4c4c4c"/><stop offset="0.791" stop-color="#1a1a1a"/><stop offset="0.809" stop-color="#080808"/><stop offset="0.819" stop-color="#010101"/><stop offset="1.000" stop-color="#010101"/></linearGradient><linearGradient id="g78" gradientUnits="userSpaceOnUse" x1="0" y1="167.8" x2="0" y2="454.7"><stop offset="0.000" stop-color="#121212"/><stop offset="0.139" stop-color="#212121"/><stop offset="0.199" stop-color="#2c2c2c"/><stop offset="0.247" stop-color="#404040"/><stop offset="0.289" stop-color="#545454"/><stop offset="0.349" stop-color="#656565"/><stop offset="0.383" stop-color="#6c6c6c"/><stop offset="0.408" stop-color="#767676"/><stop offset="0.530" stop-color="#939393"/><stop offset="0.586" stop-color="#9a9a9a"/><stop offset="0.624" stop-color="#9a9a9a"/><stop offset="0.676" stop-color="#8c8c8c"/><stop offset="0.715" stop-color="#797979"/><stop offset="0.760" stop-color="#4a4a4a"/><stop offset="0.791" stop-color="#1d1d1d"/><stop offset="0.809" stop-color="#090909"/><stop offset="0.819" stop-color="#010101"/><stop offset="1.000" stop-color="#010101"/></linearGradient><linearGradient id="g79" gradientUnits="userSpaceOnUse" x1="0" y1="167.8" x2="0" y2="454.7"><stop offset="0.000" stop-color="#111111"/><stop offset="0.139" stop-color="#212121"/><stop offset="0.199" stop-color="#2c2c2c"/><stop offset="0.244" stop-color="#3e3e3e"/><stop offset="0.296" stop-color="#555555"/><stop offset="0.342" stop-color="#626262"/><stop offset="0.390" stop-color="#6d6d6d"/><stop offset="0.411" stop-color="#767676"/><stop offset="0.457" stop-color="#828282"/><stop offset="0.533" stop-color="#949494"/><stop offset="0.586" stop-color="#9b9b9b"/><stop offset="0.624" stop-color="#9b9b9b"/><stop offset="0.676" stop-color="#8e8e8e"/><stop offset="0.715" stop-color="#7b7b7b"/><stop offset="0.760" stop-color="#4d4d4d"/><stop offset="0.774" stop-color="#383838"/><stop offset="0.791" stop-color="#1f1f1f"/><stop offset="0.809" stop-color="#0a0a0a"/><stop offset="0.819" stop-color="#010101"/><stop offset="1.000" stop-color="#010101"/></linearGradient><linearGradient id="g80" gradientUnits="userSpaceOnUse" x1="0" y1="167.8" x2="0" y2="454.7"><stop offset="0.000" stop-color="#111111"/><stop offset="0.139" stop-color="#212121"/><stop offset="0.209" stop-color="#2f2f2f"/><stop offset="0.296" stop-color="#545454"/><stop offset="0.331" stop-color="#5f5f5f"/><stop offset="0.394" stop-color="#6e6e6e"/><stop offset="0.415" stop-color="#767676"/><stop offset="0.453" stop-color="#808080"/><stop offset="0.533" stop-color="#949494"/><stop offset="0.586" stop-color="#9c9c9c"/><stop offset="0.624" stop-color="#9c9c9c"/><stop offset="0.676" stop-color="#909090"/><stop offset="0.715" stop-color="#7d7d7d"/><stop offset="0.739" stop-color="#646464"/><stop offset="0.760" stop-color="#505050"/><stop offset="0.774" stop-color="#3b3b3b"/><stop offset="0.784" stop-color="#2c2c2c"/><stop offset="0.809" stop-color="#0b0b0b"/><stop offset="0.819" stop-color="#010101"/><stop offset="1.000" stop-color="#010101"/></linearGradient><linearGradient id="g81" gradientUnits="userSpaceOnUse" x1="0" y1="167.8" x2="0" y2="454.7"><stop offset="0.000" stop-color="#111111"/><stop offset="0.139" stop-color="#212121"/><stop offset="0.216" stop-color="#313131"/><stop offset="0.296" stop-color="#535353"/><stop offset="0.328" stop-color="#5e5e5e"/><stop offset="0.397" stop-color="#6e6e6e"/><stop offset="0.418" stop-color="#767676"/><stop offset="0.453" stop-color="#7f7f7f"/><stop offset="0.533" stop-color="#949494"/><stop offset="0.586" stop-color="#9d9d9d"/><stop offset="0.624" stop-color="#9d9d9d"/><stop offset="0.676" stop-color="#929292"/><stop offset="0.715" stop-color="#808080"/><stop offset="0.739" stop-color="#666666"/><stop offset="0.760" stop-color="#525252"/><stop offset="0.774" stop-color="#3d3d3d"/><stop offset="0.781" stop-color="#343434"/><stop offset="0.791" stop-color="#252525"/><stop offset="0.798" stop-color="#1c1c1c"/><stop offset="0.809" stop-color="#0c0c0c"/><stop offset="0.819" stop-color="#010101"/><stop offset="1.000" stop-color="#010101"/></linearGradient><linearGradient id="g82" gradientUnits="userSpaceOnUse" x1="0" y1="167.8" x2="0" y2="454.7"><stop offset="0.000" stop-color="#111111"/><stop offset="0.139" stop-color="#212121"/><stop offset="0.216" stop-color="#313131"/><stop offset="0.279" stop-color="#4b4b4b"/><stop offset="0.324" stop-color="#5c5c5c"/><stop offset="0.380" stop-color="#696969"/><stop offset="0.401" stop-color="#6e6e6e"/><stop offset="0.418" stop-color="#767676"/><stop offset="0.453" stop-color="#7f7f7f"/><stop offset="0.533" stop-color="#959595"/><stop offset="0.589" stop-color="#9d9d9d"/><stop offset="0.624" stop-color="#9e9e9e"/><stop offset="0.676" stop-color="#949494"/><stop offset="0.715" stop-color="#828282"/><stop offset="0.735" stop-color="#6a6a6a"/><stop offset="0.760" stop-color="#545454"/><stop offset="0.774" stop-color="#404040"/><stop offset="0.781" stop-color="#373737"/><stop offset="0.791" stop-color="#272727"/><stop offset="0.798" stop-color="#1e1e1e"/><stop offset="0.809" stop-color="#0d0d0d"/><stop offset="0.819" stop-color="#010101"/><stop offset="1.000" stop-color="#010101"/></linearGradient><linearGradient id="g83" gradientUnits="userSpaceOnUse" x1="0" y1="167.8" x2="0" y2="454.7"><stop offset="0.000" stop-color="#101010"/><stop offset="0.136" stop-color="#212121"/><stop offset="0.220" stop-color="#323232"/><stop offset="0.258" stop-color="#404040"/><stop offset="0.321" stop-color="#5b5b5b"/><stop offset="0.380" stop-color="#696969"/><stop offset="0.404" stop-color="#707070"/><stop offset="0.422" stop-color="#787878"/><stop offset="0.457" stop-color="#818181"/><stop offset="0.533" stop-color="#959595"/><stop offset="0.589" stop-color="#9e9e9e"/><stop offset="0.624" stop-color="#9e9e9e"/><stop offset="0.676" stop-color="#949494"/><stop offset="0.715" stop-color="#828282"/><stop offset="0.739" stop-color="#686868"/><stop offset="0.760" stop-color="#555555"/><stop offset="0.774" stop-color="#404040"/><stop offset="0.781" stop-color="#383838"/><stop offset="0.791" stop-color="#282828"/><stop offset="0.798" stop-color="#1f1f1f"/><stop offset="0.809" stop-color="#0e0e0e"/><stop offset="0.819" stop-color="#030303"/><stop offset="0.826" stop-color="#010101"/><stop offset="1.000" stop-color="#010101"/></linearGradient><linearGradient id="g84" gradientUnits="userSpaceOnUse" x1="0" y1="167.8" x2="0" y2="454.7"><stop offset="0.000" stop-color="#111111"/><stop offset="0.136" stop-color="#212121"/><stop offset="0.220" stop-color="#333333"/><stop offset="0.275" stop-color="#494949"/><stop offset="0.324" stop-color="#5d5d5d"/><stop offset="0.397" stop-color="#6f6f6f"/><stop offset="0.418" stop-color="#787878"/><stop offset="0.453" stop-color="#818181"/><stop offset="0.533" stop-color="#969696"/><stop offset="0.589" stop-color="#9e9e9e"/><stop offset="0.624" stop-color="#9e9e9e"/><stop offset="0.676" stop-color="#949494"/><stop offset="0.715" stop-color="#838383"/><stop offset="0.739" stop-color="#686868"/><stop offset="0.760" stop-color="#565656"/><stop offset="0.774" stop-color="#414141"/><stop offset="0.781" stop-color="#383838"/><stop offset="0.791" stop-color="#292929"/><stop offset="0.798" stop-color="#1f1f1f"/><stop offset="0.809" stop-color="#0f0f0f"/><stop offset="0.819" stop-color="#030303"/><stop offset="0.823" stop-color="#010101"/><stop offset="1.000" stop-color="#010101"/></linearGradient><linearGradient id="g85" gradientUnits="userSpaceOnUse" x1="0" y1="167.8" x2="0" y2="454.7"><stop offset="0.000" stop-color="#111111"/><stop offset="0.136" stop-color="#212121"/><stop offset="0.216" stop-color="#323232"/><stop offset="0.275" stop-color="#4a4a4a"/><stop offset="0.324" stop-color="#5d5d5d"/><stop offset="0.394" stop-color="#6e6e6e"/><stop offset="0.415" stop-color="#787878"/><stop offset="0.453" stop-color="#818181"/><stop offset="0.533" stop-color="#969696"/><stop offset="0.589" stop-color="#9e9e9e"/><stop offset="0.624" stop-color="#9e9e9e"/><stop offset="0.676" stop-color="#959595"/><stop offset="0.715" stop-color="#838383"/><stop offset="0.739" stop-color="#696969"/><stop offset="0.760" stop-color="#565656"/><stop offset="0.774" stop-color="#424242"/><stop offset="0.781" stop-color="#393939"/><stop offset="0.791" stop-color="#292929"/><stop offset="0.798" stop-color="#202020"/><stop offset="0.809" stop-color="#101010"/><stop offset="0.819" stop-color="#040404"/><stop offset="0.830" stop-color="#010101"/><stop offset="1.000" stop-color="#010101"/></linearGradient><linearGradient id="g86" gradientUnits="userSpaceOnUse" x1="0" y1="167.8" x2="0" y2="454.7"><stop offset="0.000" stop-color="#111111"/><stop offset="0.132" stop-color="#212121"/><stop offset="0.216" stop-color="#343434"/><stop offset="0.258" stop-color="#444444"/><stop offset="0.296" stop-color="#535353"/><stop offset="0.324" stop-color="#5e5e5e"/><stop offset="0.383" stop-color="#6c6c6c"/><stop offset="0.411" stop-color="#787878"/><stop offset="0.453" stop-color="#828282"/><stop offset="0.533" stop-color="#969696"/><stop offset="0.589" stop-color="#9e9e9e"/><stop offset="0.624" stop-color="#9f9f9f"/><stop offset="0.676" stop-color="#959595"/><stop offset="0.715" stop-color="#838383"/><stop offset="0.739" stop-color="#696969"/><stop offset="0.760" stop-color="#575757"/><stop offset="0.774" stop-color="#424242"/><stop offset="0.781" stop-color="#3a3a3a"/><stop offset="0.791" stop-color="#2a2a2a"/><stop offset="0.798" stop-color="#212121"/><stop offset="0.809" stop-color="#111111"/><stop offset="0.819" stop-color="#050505"/><stop offset="0.833" stop-color="#010101"/><stop offset="1.000" stop-color="#010101"/></linearGradient><linearGradient id="g87" gradientUnits="userSpaceOnUse" x1="0" y1="167.8" x2="0" y2="454.7"><stop offset="0.000" stop-color="#111111"/><stop offset="0.132" stop-color="#212121"/><stop offset="0.216" stop-color="#353535"/><stop offset="0.254" stop-color="#444444"/><stop offset="0.321" stop-color="#5e5e5e"/><stop offset="0.369" stop-color="#696969"/><stop offset="0.397" stop-color="#747474"/><stop offset="0.411" stop-color="#797979"/><stop offset="0.453" stop-color="#838383"/><stop offset="0.533" stop-color="#979797"/><stop offset="0.589" stop-color="#9f9f9f"/><stop offset="0.624" stop-color="#9f9f9f"/><stop offset="0.676" stop-color="#959595"/><stop offset="0.715" stop-color="#848484"/><stop offset="0.739" stop-color="#6a6a6a"/><stop offset="0.760" stop-color="#575757"/><stop offset="0.774" stop-color="#434343"/><stop offset="0.781" stop-color="#3b3b3b"/><stop offset="0.791" stop-color="#2b2b2b"/><stop offset="0.798" stop-color="#222222"/><stop offset="0.809" stop-color="#121212"/><stop offset="0.819" stop-color="#050505"/><stop offset="0.830" stop-color="#010101"/><stop offset="1.000" stop-color="#010101"/></linearGradient><linearGradient id="g88" gradientUnits="userSpaceOnUse" x1="0" y1="167.8" x2="0" y2="454.7"><stop offset="0.000" stop-color="#121212"/><stop offset="0.132" stop-color="#222222"/><stop offset="0.213" stop-color="#353535"/><stop offset="0.251" stop-color="#454545"/><stop offset="0.296" stop-color="#565656"/><stop offset="0.331" stop-color="#616161"/><stop offset="0.362" stop-color="#686868"/><stop offset="0.394" stop-color="#747474"/><stop offset="0.415" stop-color="#7b7b7b"/><stop offset="0.453" stop-color="#848484"/><stop offset="0.533" stop-color="#979797"/><stop offset="0.589" stop-color="#9f9f9f"/><stop offset="0.624" stop-color="#9f9f9f"/><stop offset="0.676" stop-color="#969696"/><stop offset="0.715" stop-color="#848484"/><stop offset="0.739" stop-color="#6b6b6b"/><stop offset="0.760" stop-color="#585858"/><stop offset="0.774" stop-color="#444444"/><stop offset="0.781" stop-color="#3c3c3c"/><stop offset="0.791" stop-color="#2c2c2c"/><stop offset="0.802" stop-color="#1d1d1d"/><stop offset="0.816" stop-color="#0a0a0a"/><stop offset="0.819" stop-color="#060606"/><stop offset="0.833" stop-color="#010101"/><stop offset="1.000" stop-color="#010101"/></linearGradient><linearGradient id="g89" gradientUnits="userSpaceOnUse" x1="0" y1="167.8" x2="0" y2="454.7"><stop offset="0.000" stop-color="#121212"/><stop offset="0.129" stop-color="#222222"/><stop offset="0.213" stop-color="#363636"/><stop offset="0.247" stop-color="#454545"/><stop offset="0.293" stop-color="#565656"/><stop offset="0.335" stop-color="#636363"/><stop offset="0.359" stop-color="#686868"/><stop offset="0.390" stop-color="#757575"/><stop offset="0.422" stop-color="#7d7d7d"/><stop offset="0.533" stop-color="#989898"/><stop offset="0.589" stop-color="#9f9f9f"/><stop offset="0.624" stop-color="#9f9f9f"/><stop offset="0.676" stop-color="#969696"/><stop offset="0.715" stop-color="#848484"/><stop offset="0.739" stop-color="#6b6b6b"/><stop offset="0.760" stop-color="#585858"/><stop offset="0.774" stop-color="#454545"/><stop offset="0.784" stop-color="#373737"/><stop offset="0.802" stop-color="#1e1e1e"/><stop offset="0.816" stop-color="#0b0b0b"/><stop offset="0.819" stop-color="#070707"/><stop offset="0.833" stop-color="#010101"/><stop offset="1.000" stop-color="#010101"/></linearGradient><linearGradient id="g90" gradientUnits="userSpaceOnUse" x1="0" y1="167.8" x2="0" y2="454.7"><stop offset="0.000" stop-color="#121212"/><stop offset="0.129" stop-color="#222222"/><stop offset="0.209" stop-color="#363636"/><stop offset="0.247" stop-color="#464646"/><stop offset="0.293" stop-color="#575757"/><stop offset="0.338" stop-color="#656565"/><stop offset="0.356" stop-color="#686868"/><stop offset="0.397" stop-color="#797979"/><stop offset="0.460" stop-color="#888888"/><stop offset="0.537" stop-color="#989898"/><stop offset="0.589" stop-color="#9f9f9f"/><stop offset="0.624" stop-color="#a0a0a0"/><stop offset="0.676" stop-color="#969696"/><stop offset="0.715" stop-color="#858585"/><stop offset="0.739" stop-color="#6c6c6c"/><stop offset="0.760" stop-color="#595959"/><stop offset="0.774" stop-color="#464646"/><stop offset="0.784" stop-color="#383838"/><stop offset="0.802" stop-color="#1f1f1f"/><stop offset="0.816" stop-color="#0c0c0c"/><stop offset="0.819" stop-color="#080808"/><stop offset="0.833" stop-color="#010101"/><stop offset="1.000" stop-color="#010101"/></linearGradient><linearGradient id="g91" gradientUnits="userSpaceOnUse" x1="0" y1="167.8" x2="0" y2="454.7"><stop offset="0.000" stop-color="#121212"/><stop offset="0.129" stop-color="#222222"/><stop offset="0.209" stop-color="#363636"/><stop offset="0.244" stop-color="#464646"/><stop offset="0.293" stop-color="#575757"/><stop offset="0.338" stop-color="#656565"/><stop offset="0.356" stop-color="#696969"/><stop offset="0.390" stop-color="#787878"/><stop offset="0.464" stop-color="#898989"/><stop offset="0.537" stop-color="#999999"/><stop offset="0.589" stop-color="#a0a0a0"/><stop offset="0.624" stop-color="#a0a0a0"/><stop offset="0.676" stop-color="#969696"/><stop offset="0.715" stop-color="#858585"/><stop offset="0.739" stop-color="#6c6c6c"/><stop offset="0.760" stop-color="#595959"/><stop offset="0.774" stop-color="#464646"/><stop offset="0.784" stop-color="#383838"/><stop offset="0.802" stop-color="#1f1f1f"/><stop offset="0.816" stop-color="#0c0c0c"/><stop offset="0.819" stop-color="#080808"/><stop offset="0.837" stop-color="#010101"/><stop offset="1.000" stop-color="#010101"/></linearGradient><linearGradient id="g92" gradientUnits="userSpaceOnUse" x1="0" y1="167.8" x2="0" y2="454.7"><stop offset="0.000" stop-color="#131313"/><stop offset="0.129" stop-color="#232323"/><stop offset="0.209" stop-color="#373737"/><stop offset="0.244" stop-color="#484848"/><stop offset="0.289" stop-color="#585858"/><stop offset="0.342" stop-color="#676767"/><stop offset="0.373" stop-color="#727272"/><stop offset="0.390" stop-color="#797979"/><stop offset="0.533" stop-color="#999999"/><stop offset="0.589" stop-color="#a0a0a0"/><stop offset="0.624" stop-color="#a0a0a0"/><stop offset="0.676" stop-color="#979797"/><stop offset="0.715" stop-color="#858585"/><stop offset="0.728" stop-color="#777777"/><stop offset="0.753" stop-color="#606060"/><stop offset="0.760" stop-color="#5a5a5a"/><stop offset="0.774" stop-color="#474747"/><stop offset="0.784" stop-color="#393939"/><stop offset="0.812" stop-color="#121212"/><stop offset="0.819" stop-color="#090909"/><stop offset="0.837" stop-color="#010101"/><stop offset="1.000" stop-color="#010101"/></linearGradient><linearGradient id="g93" gradientUnits="userSpaceOnUse" x1="0" y1="167.8" x2="0" y2="454.7"><stop offset="0.000" stop-color="#1e1e1e"/><stop offset="0.125" stop-color="#2d2d2d"/><stop offset="0.209" stop-color="#414141"/><stop offset="0.244" stop-color="#4f4f4f"/><stop offset="0.289" stop-color="#5e5e5e"/><stop offset="0.342" stop-color="#6c6c6c"/><stop offset="0.373" stop-color="#747474"/><stop offset="0.418" stop-color="#808080"/><stop offset="0.533" stop-color="#999999"/><stop offset="0.589" stop-color="#a0a0a0"/><stop offset="0.624" stop-color="#a0a0a0"/><stop offset="0.676" stop-color="#979797"/><stop offset="0.715" stop-color="#868686"/><stop offset="0.728" stop-color="#787878"/><stop offset="0.756" stop-color="#5d5d5d"/><stop offset="0.763" stop-color="#565656"/><stop offset="0.774" stop-color="#474747"/><stop offset="0.784" stop-color="#3a3a3a"/><stop offset="0.812" stop-color="#121212"/><stop offset="0.819" stop-color="#0a0a0a"/><stop offset="0.837" stop-color="#010101"/><stop offset="1.000" stop-color="#010101"/></linearGradient><linearGradient id="g94" gradientUnits="userSpaceOnUse" x1="0" y1="167.8" x2="0" y2="454.7"><stop offset="0.000" stop-color="#333333"/><stop offset="0.108" stop-color="#404040"/><stop offset="0.206" stop-color="#545454"/><stop offset="0.289" stop-color="#6b6b6b"/><stop offset="0.338" stop-color="#767676"/><stop offset="0.369" stop-color="#767676"/><stop offset="0.457" stop-color="#898989"/><stop offset="0.537" stop-color="#999999"/><stop offset="0.589" stop-color="#a0a0a0"/><stop offset="0.624" stop-color="#a0a0a0"/><stop offset="0.676" stop-color="#979797"/><stop offset="0.715" stop-color="#868686"/><stop offset="0.728" stop-color="#787878"/><stop offset="0.756" stop-color="#5e5e5e"/><stop offset="0.763" stop-color="#565656"/><stop offset="0.774" stop-color="#484848"/><stop offset="0.784" stop-color="#3a3a3a"/><stop offset="0.816" stop-color="#0e0e0e"/><stop offset="0.823" stop-color="#080808"/><stop offset="0.837" stop-color="#010101"/><stop offset="1.000" stop-color="#010101"/></linearGradient><linearGradient id="g95" gradientUnits="userSpaceOnUse" x1="0" y1="167.8" x2="0" y2="454.7"><stop offset="0.000" stop-color="#3e3e3e"/><stop offset="0.101" stop-color="#494949"/><stop offset="0.195" stop-color="#5b5b5b"/><stop offset="0.268" stop-color="#6d6d6d"/><stop offset="0.338" stop-color="#7b7b7b"/><stop offset="0.369" stop-color="#787878"/><stop offset="0.390" stop-color="#7a7a7a"/><stop offset="0.533" stop-color="#999999"/><stop offset="0.589" stop-color="#a0a0a0"/><stop offset="0.624" stop-color="#a1a1a1"/><stop offset="0.676" stop-color="#979797"/><stop offset="0.715" stop-color="#868686"/><stop offset="0.728" stop-color="#787878"/><stop offset="0.756" stop-color="#5e5e5e"/><stop offset="0.763" stop-color="#565656"/><stop offset="0.774" stop-color="#484848"/><stop offset="0.784" stop-color="#3b3b3b"/><stop offset="0.816" stop-color="#0f0f0f"/><stop offset="0.823" stop-color="#080808"/><stop offset="0.837" stop-color="#010101"/><stop offset="1.000" stop-color="#010101"/></linearGradient><linearGradient id="g96" gradientUnits="userSpaceOnUse" x1="0" y1="167.8" x2="0" y2="454.7"><stop offset="0.000" stop-color="#3e3e3e"/><stop offset="0.105" stop-color="#4b4b4b"/><stop offset="0.195" stop-color="#5c5c5c"/><stop offset="0.265" stop-color="#6d6d6d"/><stop offset="0.331" stop-color="#7b7b7b"/><stop offset="0.373" stop-color="#797979"/><stop offset="0.460" stop-color="#8b8b8b"/><stop offset="0.540" stop-color="#9b9b9b"/><stop offset="0.593" stop-color="#a1a1a1"/><stop offset="0.624" stop-color="#a1a1a1"/><stop offset="0.676" stop-color="#989898"/><stop offset="0.715" stop-color="#878787"/><stop offset="0.728" stop-color="#797979"/><stop offset="0.760" stop-color="#5c5c5c"/><stop offset="0.774" stop-color="#494949"/><stop offset="0.784" stop-color="#3c3c3c"/><stop offset="0.816" stop-color="#101010"/><stop offset="0.823" stop-color="#090909"/><stop offset="0.837" stop-color="#010101"/><stop offset="1.000" stop-color="#010101"/></linearGradient><linearGradient id="g97" gradientUnits="userSpaceOnUse" x1="0" y1="167.8" x2="0" y2="454.7"><stop offset="0.000" stop-color="#3d3d3d"/><stop offset="0.108" stop-color="#4c4c4c"/><stop offset="0.195" stop-color="#5d5d5d"/><stop offset="0.261" stop-color="#6d6d6d"/><stop offset="0.293" stop-color="#747474"/><stop offset="0.335" stop-color="#7b7b7b"/><stop offset="0.369" stop-color="#7a7a7a"/><stop offset="0.464" stop-color="#8d8d8d"/><stop offset="0.540" stop-color="#9b9b9b"/><stop offset="0.593" stop-color="#a1a1a1"/><stop offset="0.624" stop-color="#a1a1a1"/><stop offset="0.676" stop-color="#989898"/><stop offset="0.715" stop-color="#878787"/><stop offset="0.728" stop-color="#7a7a7a"/><stop offset="0.763" stop-color="#585858"/><stop offset="0.774" stop-color="#4a4a4a"/><stop offset="0.784" stop-color="#3e3e3e"/><stop offset="0.816" stop-color="#111111"/><stop offset="0.826" stop-color="#070707"/><stop offset="0.837" stop-color="#010101"/><stop offset="1.000" stop-color="#010101"/></linearGradient><linearGradient id="g98" gradientUnits="userSpaceOnUse" x1="0" y1="167.8" x2="0" y2="454.7"><stop offset="0.000" stop-color="#3d3d3d"/><stop offset="0.112" stop-color="#4d4d4d"/><stop offset="0.195" stop-color="#5e5e5e"/><stop offset="0.261" stop-color="#6e6e6e"/><stop offset="0.289" stop-color="#757575"/><stop offset="0.331" stop-color="#7b7b7b"/><stop offset="0.366" stop-color="#7b7b7b"/><stop offset="0.537" stop-color="#9b9b9b"/><stop offset="0.593" stop-color="#a2a2a2"/><stop offset="0.627" stop-color="#a1a1a1"/><stop offset="0.676" stop-color="#999999"/><stop offset="0.715" stop-color="#888888"/><stop offset="0.728" stop-color="#7b7b7b"/><stop offset="0.756" stop-color="#606060"/><stop offset="0.763" stop-color="#595959"/><stop offset="0.774" stop-color="#4c4c4c"/><stop offset="0.784" stop-color="#3f3f3f"/><stop offset="0.819" stop-color="#0e0e0e"/><stop offset="0.830" stop-color="#050505"/><stop offset="0.837" stop-color="#010101"/><stop offset="1.000" stop-color="#010101"/></linearGradient><linearGradient id="g99" gradientUnits="userSpaceOnUse" x1="0" y1="167.8" x2="0" y2="454.7"><stop offset="0.000" stop-color="#3c3c3c"/><stop offset="0.112" stop-color="#4e4e4e"/><stop offset="0.195" stop-color="#5f5f5f"/><stop offset="0.261" stop-color="#6f6f6f"/><stop offset="0.289" stop-color="#767676"/><stop offset="0.331" stop-color="#7b7b7b"/><stop offset="0.366" stop-color="#7d7d7d"/><stop offset="0.537" stop-color="#9c9c9c"/><stop offset="0.593" stop-color="#a2a2a2"/><stop offset="0.627" stop-color="#a2a2a2"/><stop offset="0.676" stop-color="#999999"/><stop offset="0.715" stop-color="#888888"/><stop offset="0.728" stop-color="#7c7c7c"/><stop offset="0.756" stop-color="#616161"/><stop offset="0.763" stop-color="#5a5a5a"/><stop offset="0.774" stop-color="#4c4c4c"/><stop offset="0.784" stop-color="#404040"/><stop offset="0.819" stop-color="#0f0f0f"/><stop offset="0.830" stop-color="#060606"/><stop offset="0.840" stop-color="#010101"/><stop offset="1.000" stop-color="#010101"/></linearGradient><linearGradient id="g100" gradientUnits="userSpaceOnUse" x1="0" y1="167.8" x2="0" y2="454.7"><stop offset="0.000" stop-color="#3c3c3c"/><stop offset="0.119" stop-color="#505050"/><stop offset="0.195" stop-color="#606060"/><stop offset="0.258" stop-color="#6f6f6f"/><stop offset="0.289" stop-color="#787878"/><stop offset="0.328" stop-color="#7c7c7c"/><stop offset="0.362" stop-color="#7e7e7e"/><stop offset="0.537" stop-color="#9d9d9d"/><stop offset="0.596" stop-color="#a2a2a2"/><stop offset="0.627" stop-color="#a2a2a2"/><stop offset="0.676" stop-color="#9a9a9a"/><stop offset="0.718" stop-color="#868686"/><stop offset="0.756" stop-color="#626262"/><stop offset="0.763" stop-color="#5b5b5b"/><stop offset="0.777" stop-color="#4a4a4a"/><stop offset="0.805" stop-color="#242424"/><stop offset="0.819" stop-color="#101010"/><stop offset="0.830" stop-color="#060606"/><stop offset="0.840" stop-color="#010101"/><stop offset="1.000" stop-color="#010101"/></linearGradient><linearGradient id="g101" gradientUnits="userSpaceOnUse" x1="0" y1="167.8" x2="0" y2="454.7"><stop offset="0.000" stop-color="#3c3c3c"/><stop offset="0.122" stop-color="#515151"/><stop offset="0.195" stop-color="#606060"/><stop offset="0.258" stop-color="#707070"/><stop offset="0.289" stop-color="#797979"/><stop offset="0.359" stop-color="#7f7f7f"/><stop offset="0.537" stop-color="#9d9d9d"/><stop offset="0.596" stop-color="#a3a3a3"/><stop offset="0.627" stop-color="#a2a2a2"/><stop offset="0.676" stop-color="#9a9a9a"/><stop offset="0.718" stop-color="#878787"/><stop offset="0.735" stop-color="#767676"/><stop offset="0.763" stop-color="#5c5c5c"/><stop offset="0.777" stop-color="#4c4c4c"/><stop offset="0.798" stop-color="#2f2f2f"/><stop offset="0.819" stop-color="#111111"/><stop offset="0.830" stop-color="#060606"/><stop offset="0.840" stop-color="#010101"/><stop offset="1.000" stop-color="#010101"/></linearGradient><linearGradient id="g102" gradientUnits="userSpaceOnUse" x1="0" y1="167.8" x2="0" y2="454.7"><stop offset="0.000" stop-color="#3b3b3b"/><stop offset="0.129" stop-color="#545454"/><stop offset="0.192" stop-color="#606060"/><stop offset="0.258" stop-color="#727272"/><stop offset="0.286" stop-color="#7a7a7a"/><stop offset="0.349" stop-color="#7f7f7f"/><stop offset="0.533" stop-color="#9d9d9d"/><stop offset="0.600" stop-color="#a3a3a3"/><stop offset="0.627" stop-color="#a3a3a3"/><stop offset="0.676" stop-color="#9b9b9b"/><stop offset="0.718" stop-color="#888888"/><stop offset="0.732" stop-color="#7b7b7b"/><stop offset="0.756" stop-color="#646464"/><stop offset="0.767" stop-color="#585858"/><stop offset="0.784" stop-color="#454545"/><stop offset="0.823" stop-color="#0e0e0e"/><stop offset="0.830" stop-color="#070707"/><stop offset="0.840" stop-color="#010101"/><stop offset="1.000" stop-color="#010101"/></linearGradient><linearGradient id="g103" gradientUnits="userSpaceOnUse" x1="0" y1="167.8" x2="0" y2="454.7"><stop offset="0.000" stop-color="#3b3b3b"/><stop offset="0.087" stop-color="#4c4c4c"/><stop offset="0.192" stop-color="#616161"/><stop offset="0.258" stop-color="#737373"/><stop offset="0.286" stop-color="#7b7b7b"/><stop offset="0.342" stop-color="#7f7f7f"/><stop offset="0.530" stop-color="#9e9e9e"/><stop offset="0.600" stop-color="#a4a4a4"/><stop offset="0.627" stop-color="#a3a3a3"/><stop offset="0.676" stop-color="#9b9b9b"/><stop offset="0.718" stop-color="#888888"/><stop offset="0.732" stop-color="#7c7c7c"/><stop offset="0.756" stop-color="#646464"/><stop offset="0.767" stop-color="#5a5a5a"/><stop offset="0.784" stop-color="#464646"/><stop offset="0.823" stop-color="#0f0f0f"/><stop offset="0.830" stop-color="#070707"/><stop offset="0.840" stop-color="#010101"/><stop offset="1.000" stop-color="#010101"/></linearGradient><linearGradient id="g104" gradientUnits="userSpaceOnUse" x1="0" y1="167.8" x2="0" y2="454.7"><stop offset="0.000" stop-color="#3b3b3b"/><stop offset="0.084" stop-color="#4c4c4c"/><stop offset="0.192" stop-color="#626262"/><stop offset="0.254" stop-color="#737373"/><stop offset="0.286" stop-color="#7d7d7d"/><stop offset="0.338" stop-color="#808080"/><stop offset="0.481" stop-color="#989898"/><stop offset="0.575" stop-color="#a3a3a3"/><stop offset="0.624" stop-color="#a4a4a4"/><stop offset="0.676" stop-color="#9c9c9c"/><stop offset="0.718" stop-color="#898989"/><stop offset="0.728" stop-color="#808080"/><stop offset="0.756" stop-color="#656565"/><stop offset="0.767" stop-color="#5b5b5b"/><stop offset="0.784" stop-color="#474747"/><stop offset="0.826" stop-color="#0b0b0b"/><stop offset="0.833" stop-color="#060606"/><stop offset="0.840" stop-color="#010101"/><stop offset="1.000" stop-color="#010101"/></linearGradient><linearGradient id="g105" gradientUnits="userSpaceOnUse" x1="0" y1="167.8" x2="0" y2="454.7"><stop offset="0.000" stop-color="#3a3a3a"/><stop offset="0.080" stop-color="#4c4c4c"/><stop offset="0.192" stop-color="#636363"/><stop offset="0.254" stop-color="#747474"/><stop offset="0.286" stop-color="#7e7e7e"/><stop offset="0.331" stop-color="#818181"/><stop offset="0.376" stop-color="#898989"/><stop offset="0.516" stop-color="#9d9d9d"/><stop offset="0.593" stop-color="#a4a4a4"/><stop offset="0.627" stop-color="#a4a4a4"/><stop offset="0.676" stop-color="#9d9d9d"/><stop offset="0.722" stop-color="#888888"/><stop offset="0.756" stop-color="#666666"/><stop offset="0.767" stop-color="#5c5c5c"/><stop offset="0.784" stop-color="#494949"/><stop offset="0.830" stop-color="#080808"/><stop offset="0.840" stop-color="#010101"/><stop offset="1.000" stop-color="#010101"/></linearGradient><linearGradient id="g106" gradientUnits="userSpaceOnUse" x1="0" y1="167.8" x2="0" y2="454.7"><stop offset="0.000" stop-color="#3a3a3a"/><stop offset="0.056" stop-color="#474747"/><stop offset="0.192" stop-color="#646464"/><stop offset="0.254" stop-color="#757575"/><stop offset="0.286" stop-color="#7f7f7f"/><stop offset="0.328" stop-color="#828282"/><stop offset="0.369" stop-color="#8a8a8a"/><stop offset="0.498" stop-color="#9c9c9c"/><stop offset="0.586" stop-color="#a4a4a4"/><stop offset="0.627" stop-color="#a4a4a4"/><stop offset="0.676" stop-color="#9d9d9d"/><stop offset="0.722" stop-color="#888888"/><stop offset="0.756" stop-color="#676767"/><stop offset="0.767" stop-color="#5d5d5d"/><stop offset="0.784" stop-color="#4a4a4a"/><stop offset="0.809" stop-color="#272727"/><stop offset="0.830" stop-color="#080808"/><stop offset="0.840" stop-color="#010101"/><stop offset="1.000" stop-color="#010101"/></linearGradient><linearGradient id="g107" gradientUnits="userSpaceOnUse" x1="0" y1="167.8" x2="0" y2="454.7"><stop offset="0.000" stop-color="#393939"/><stop offset="0.049" stop-color="#464646"/><stop offset="0.192" stop-color="#656565"/><stop offset="0.254" stop-color="#767676"/><stop offset="0.286" stop-color="#818181"/><stop offset="0.324" stop-color="#838383"/><stop offset="0.369" stop-color="#8b8b8b"/><stop offset="0.484" stop-color="#9b9b9b"/><stop offset="0.586" stop-color="#a5a5a5"/><stop offset="0.627" stop-color="#a5a5a5"/><stop offset="0.676" stop-color="#9e9e9e"/><stop offset="0.722" stop-color="#898989"/><stop offset="0.756" stop-color="#686868"/><stop offset="0.767" stop-color="#5e5e5e"/><stop offset="0.784" stop-color="#4c4c4c"/><stop offset="0.809" stop-color="#282828"/><stop offset="0.830" stop-color="#090909"/><stop offset="0.840" stop-color="#010101"/><stop offset="1.000" stop-color="#010101"/></linearGradient><linearGradient id="g108" gradientUnits="userSpaceOnUse" x1="0" y1="167.8" x2="0" y2="454.7"><stop offset="0.000" stop-color="#393939"/><stop offset="0.045" stop-color="#454545"/><stop offset="0.084" stop-color="#4e4e4e"/><stop offset="0.192" stop-color="#656565"/><stop offset="0.254" stop-color="#777777"/><stop offset="0.286" stop-color="#828282"/><stop offset="0.321" stop-color="#848484"/><stop offset="0.366" stop-color="#8d8d8d"/><stop offset="0.481" stop-color="#9c9c9c"/><stop offset="0.589" stop-color="#a5a5a5"/><stop offset="0.627" stop-color="#a5a5a5"/><stop offset="0.676" stop-color="#9e9e9e"/><stop offset="0.722" stop-color="#8a8a8a"/><stop offset="0.746" stop-color="#727272"/><stop offset="0.767" stop-color="#5f5f5f"/><stop offset="0.784" stop-color="#4d4d4d"/><stop offset="0.809" stop-color="#2a2a2a"/><stop offset="0.830" stop-color="#090909"/><stop offset="0.840" stop-color="#010101"/><stop offset="1.000" stop-color="#010101"/></linearGradient><linearGradient id="g109" gradientUnits="userSpaceOnUse" x1="0" y1="167.8" x2="0" y2="454.7"><stop offset="0.000" stop-color="#3b3b3b"/><stop offset="0.049" stop-color="#484848"/><stop offset="0.091" stop-color="#505050"/><stop offset="0.192" stop-color="#666666"/><stop offset="0.251" stop-color="#767676"/><stop offset="0.286" stop-color="#838383"/><stop offset="0.321" stop-color="#848484"/><stop offset="0.366" stop-color="#8d8d8d"/><stop offset="0.478" stop-color="#9c9c9c"/><stop offset="0.589" stop-color="#a5a5a5"/><stop offset="0.627" stop-color="#a5a5a5"/><stop offset="0.676" stop-color="#9e9e9e"/><stop offset="0.722" stop-color="#8a8a8a"/><stop offset="0.742" stop-color="#767676"/><stop offset="0.756" stop-color="#696969"/><stop offset="0.767" stop-color="#5f5f5f"/><stop offset="0.784" stop-color="#4e4e4e"/><stop offset="0.809" stop-color="#2a2a2a"/><stop offset="0.830" stop-color="#090909"/><stop offset="0.840" stop-color="#010101"/><stop offset="1.000" stop-color="#010101"/></linearGradient><linearGradient id="g110" gradientUnits="userSpaceOnUse" x1="0" y1="167.8" x2="0" y2="454.7"><stop offset="0.000" stop-color="#404040"/><stop offset="0.084" stop-color="#525252"/><stop offset="0.192" stop-color="#676767"/><stop offset="0.251" stop-color="#777777"/><stop offset="0.286" stop-color="#838383"/><stop offset="0.317" stop-color="#848484"/><stop offset="0.366" stop-color="#8e8e8e"/><stop offset="0.478" stop-color="#9c9c9c"/><stop offset="0.589" stop-color="#a5a5a5"/><stop offset="0.627" stop-color="#a5a5a5"/><stop offset="0.676" stop-color="#9e9e9e"/><stop offset="0.722" stop-color="#8b8b8b"/><stop offset="0.742" stop-color="#767676"/><stop offset="0.756" stop-color="#696969"/><stop offset="0.767" stop-color="#606060"/><stop offset="0.784" stop-color="#4e4e4e"/><stop offset="0.809" stop-color="#2b2b2b"/><stop offset="0.823" stop-color="#151515"/><stop offset="0.830" stop-color="#0a0a0a"/><stop offset="0.840" stop-color="#010101"/><stop offset="1.000" stop-color="#010101"/></linearGradient><linearGradient id="g111" gradientUnits="userSpaceOnUse" x1="0" y1="167.8" x2="0" y2="454.7"><stop offset="0.000" stop-color="#454545"/><stop offset="0.087" stop-color="#545454"/><stop offset="0.192" stop-color="#686868"/><stop offset="0.251" stop-color="#787878"/><stop offset="0.286" stop-color="#838383"/><stop offset="0.317" stop-color="#858585"/><stop offset="0.362" stop-color="#8e8e8e"/><stop offset="0.478" stop-color="#9c9c9c"/><stop offset="0.589" stop-color="#a6a6a6"/><stop offset="0.627" stop-color="#a6a6a6"/><stop offset="0.676" stop-color="#9f9f9f"/><stop offset="0.725" stop-color="#888888"/><stop offset="0.753" stop-color="#6c6c6c"/><stop offset="0.763" stop-color="#646464"/><stop offset="0.784" stop-color="#4f4f4f"/><stop offset="0.809" stop-color="#2b2b2b"/><stop offset="0.823" stop-color="#151515"/><stop offset="0.830" stop-color="#0a0a0a"/><stop offset="0.840" stop-color="#010101"/><stop offset="1.000" stop-color="#010101"/></linearGradient><linearGradient id="g112" gradientUnits="userSpaceOnUse" x1="0" y1="167.8" x2="0" y2="454.7"><stop offset="0.000" stop-color="#494949"/><stop offset="0.108" stop-color="#595959"/><stop offset="0.223" stop-color="#707070"/><stop offset="0.261" stop-color="#7c7c7c"/><stop offset="0.286" stop-color="#848484"/><stop offset="0.317" stop-color="#858585"/><stop offset="0.362" stop-color="#8f8f8f"/><stop offset="0.474" stop-color="#9d9d9d"/><stop offset="0.589" stop-color="#a6a6a6"/><stop offset="0.627" stop-color="#a6a6a6"/><stop offset="0.676" stop-color="#9f9f9f"/><stop offset="0.725" stop-color="#898989"/><stop offset="0.753" stop-color="#6c6c6c"/><stop offset="0.763" stop-color="#646464"/><stop offset="0.784" stop-color="#4f4f4f"/><stop offset="0.809" stop-color="#2c2c2c"/><stop offset="0.823" stop-color="#151515"/><stop offset="0.830" stop-color="#0a0a0a"/><stop offset="0.840" stop-color="#010101"/><stop offset="1.000" stop-color="#010101"/></linearGradient><linearGradient id="g113" gradientUnits="userSpaceOnUse" x1="0" y1="167.8" x2="0" y2="454.7"><stop offset="0.000" stop-color="#4e4e4e"/><stop offset="0.136" stop-color="#606060"/><stop offset="0.237" stop-color="#757575"/><stop offset="0.286" stop-color="#848484"/><stop offset="0.317" stop-color="#868686"/><stop offset="0.362" stop-color="#8f8f8f"/><stop offset="0.471" stop-color="#9d9d9d"/><stop offset="0.589" stop-color="#a6a6a6"/><stop offset="0.627" stop-color="#a6a6a6"/><stop offset="0.676" stop-color="#9f9f9f"/><stop offset="0.725" stop-color="#898989"/><stop offset="0.753" stop-color="#6d6d6d"/><stop offset="0.763" stop-color="#656565"/><stop offset="0.784" stop-color="#505050"/><stop offset="0.809" stop-color="#2c2c2c"/><stop offset="0.823" stop-color="#161616"/><stop offset="0.830" stop-color="#0a0a0a"/><stop offset="0.840" stop-color="#010101"/><stop offset="1.000" stop-color="#010101"/></linearGradient><linearGradient id="g114" gradientUnits="userSpaceOnUse" x1="0" y1="167.8" x2="0" y2="454.7"><stop offset="0.000" stop-color="#535353"/><stop offset="0.132" stop-color="#606060"/><stop offset="0.234" stop-color="#747474"/><stop offset="0.286" stop-color="#858585"/><stop offset="0.317" stop-color="#868686"/><stop offset="0.362" stop-color="#909090"/><stop offset="0.471" stop-color="#9d9d9d"/><stop offset="0.589" stop-color="#a6a6a6"/><stop offset="0.627" stop-color="#a6a6a6"/><stop offset="0.676" stop-color="#9f9f9f"/><stop offset="0.725" stop-color="#898989"/><stop offset="0.753" stop-color="#6d6d6d"/><stop offset="0.763" stop-color="#656565"/><stop offset="0.784" stop-color="#505050"/><stop offset="0.809" stop-color="#2d2d2d"/><stop offset="0.823" stop-color="#161616"/><stop offset="0.830" stop-color="#0a0a0a"/><stop offset="0.840" stop-color="#010101"/><stop offset="1.000" stop-color="#010101"/></linearGradient><linearGradient id="g115" gradientUnits="userSpaceOnUse" x1="0" y1="167.8" x2="0" y2="454.7"><stop offset="0.000" stop-color="#575757"/><stop offset="0.129" stop-color="#616161"/><stop offset="0.234" stop-color="#757575"/><stop offset="0.286" stop-color="#858585"/><stop offset="0.317" stop-color="#878787"/><stop offset="0.362" stop-color="#919191"/><stop offset="0.467" stop-color="#9d9d9d"/><stop offset="0.589" stop-color="#a6a6a6"/><stop offset="0.627" stop-color="#a6a6a6"/><stop offset="0.676" stop-color="#9f9f9f"/><stop offset="0.725" stop-color="#898989"/><stop offset="0.753" stop-color="#6d6d6d"/><stop offset="0.763" stop-color="#656565"/><stop offset="0.784" stop-color="#515151"/><stop offset="0.809" stop-color="#2d2d2d"/><stop offset="0.823" stop-color="#161616"/><stop offset="0.830" stop-color="#0a0a0a"/><stop offset="0.840" stop-color="#010101"/><stop offset="1.000" stop-color="#010101"/></linearGradient><linearGradient id="g116" gradientUnits="userSpaceOnUse" x1="0" y1="167.8" x2="0" y2="454.7"><stop offset="0.000" stop-color="#575757"/><stop offset="0.129" stop-color="#616161"/><stop offset="0.234" stop-color="#757575"/><stop offset="0.286" stop-color="#858585"/><stop offset="0.317" stop-color="#888888"/><stop offset="0.359" stop-color="#929292"/><stop offset="0.453" stop-color="#9d9d9d"/><stop offset="0.589" stop-color="#a7a7a7"/><stop offset="0.627" stop-color="#a6a6a6"/><stop offset="0.676" stop-color="#a0a0a0"/><stop offset="0.725" stop-color="#8a8a8a"/><stop offset="0.753" stop-color="#6e6e6e"/><stop offset="0.767" stop-color="#636363"/><stop offset="0.784" stop-color="#525252"/><stop offset="0.802" stop-color="#393939"/><stop offset="0.809" stop-color="#2f2f2f"/><stop offset="0.823" stop-color="#171717"/><stop offset="0.830" stop-color="#0b0b0b"/><stop offset="0.840" stop-color="#010101"/><stop offset="1.000" stop-color="#010101"/></linearGradient><linearGradient id="g117" gradientUnits="userSpaceOnUse" x1="0" y1="167.8" x2="0" y2="454.7"><stop offset="0.000" stop-color="#575757"/><stop offset="0.129" stop-color="#616161"/><stop offset="0.234" stop-color="#757575"/><stop offset="0.286" stop-color="#858585"/><stop offset="0.317" stop-color="#898989"/><stop offset="0.352" stop-color="#939393"/><stop offset="0.443" stop-color="#9d9d9d"/><stop offset="0.589" stop-color="#a7a7a7"/><stop offset="0.627" stop-color="#a7a7a7"/><stop offset="0.676" stop-color="#a0a0a0"/><stop offset="0.725" stop-color="#8b8b8b"/><stop offset="0.753" stop-color="#6f6f6f"/><stop offset="0.767" stop-color="#646464"/><stop offset="0.784" stop-color="#535353"/><stop offset="0.802" stop-color="#3b3b3b"/><stop offset="0.809" stop-color="#303030"/><stop offset="0.819" stop-color="#1f1f1f"/><stop offset="0.830" stop-color="#0b0b0b"/><stop offset="0.840" stop-color="#010101"/><stop offset="1.000" stop-color="#010101"/></linearGradient><linearGradient id="g118" gradientUnits="userSpaceOnUse" x1="0" y1="167.8" x2="0" y2="454.7"><stop offset="0.000" stop-color="#505050"/><stop offset="0.136" stop-color="#616161"/><stop offset="0.237" stop-color="#767676"/><stop offset="0.286" stop-color="#858585"/><stop offset="0.317" stop-color="#8b8b8b"/><stop offset="0.342" stop-color="#939393"/><stop offset="0.432" stop-color="#9e9e9e"/><stop offset="0.593" stop-color="#a7a7a7"/><stop offset="0.631" stop-color="#a7a7a7"/><stop offset="0.676" stop-color="#a1a1a1"/><stop offset="0.725" stop-color="#8c8c8c"/><stop offset="0.753" stop-color="#707070"/><stop offset="0.767" stop-color="#656565"/><stop offset="0.784" stop-color="#555555"/><stop offset="0.802" stop-color="#3c3c3c"/><stop offset="0.809" stop-color="#323232"/><stop offset="0.819" stop-color="#212121"/><stop offset="0.830" stop-color="#0b0b0b"/><stop offset="0.840" stop-color="#010101"/><stop offset="1.000" stop-color="#010101"/></linearGradient><linearGradient id="g119" gradientUnits="userSpaceOnUse" x1="0" y1="167.8" x2="0" y2="454.7"><stop offset="0.000" stop-color="#424242"/><stop offset="0.059" stop-color="#4f4f4f"/><stop offset="0.119" stop-color="#5a5a5a"/><stop offset="0.216" stop-color="#717171"/><stop offset="0.258" stop-color="#7d7d7d"/><stop offset="0.289" stop-color="#858585"/><stop offset="0.317" stop-color="#8b8b8b"/><stop offset="0.342" stop-color="#939393"/><stop offset="0.429" stop-color="#9e9e9e"/><stop offset="0.596" stop-color="#a8a8a8"/><stop offset="0.631" stop-color="#a7a7a7"/><stop offset="0.676" stop-color="#a1a1a1"/><stop offset="0.725" stop-color="#8c8c8c"/><stop offset="0.753" stop-color="#707070"/><stop offset="0.767" stop-color="#656565"/><stop offset="0.784" stop-color="#555555"/><stop offset="0.802" stop-color="#3d3d3d"/><stop offset="0.809" stop-color="#323232"/><stop offset="0.819" stop-color="#212121"/><stop offset="0.830" stop-color="#0c0c0c"/><stop offset="0.840" stop-color="#010101"/><stop offset="1.000" stop-color="#010101"/></linearGradient><linearGradient id="g120" gradientUnits="userSpaceOnUse" x1="0" y1="167.8" x2="0" y2="454.7"><stop offset="0.000" stop-color="#3b3b3b"/><stop offset="0.049" stop-color="#474747"/><stop offset="0.108" stop-color="#575757"/><stop offset="0.157" stop-color="#626262"/><stop offset="0.213" stop-color="#707070"/><stop offset="0.247" stop-color="#797979"/><stop offset="0.286" stop-color="#858585"/><stop offset="0.317" stop-color="#8b8b8b"/><stop offset="0.338" stop-color="#939393"/><stop offset="0.376" stop-color="#999999"/><stop offset="0.443" stop-color="#9f9f9f"/><stop offset="0.600" stop-color="#a8a8a8"/><stop offset="0.634" stop-color="#a7a7a7"/><stop offset="0.676" stop-color="#a1a1a1"/><stop offset="0.725" stop-color="#8d8d8d"/><stop offset="0.753" stop-color="#707070"/><stop offset="0.767" stop-color="#666666"/><stop offset="0.784" stop-color="#565656"/><stop offset="0.802" stop-color="#3d3d3d"/><stop offset="0.809" stop-color="#333333"/><stop offset="0.819" stop-color="#222222"/><stop offset="0.830" stop-color="#0c0c0c"/><stop offset="0.840" stop-color="#010101"/><stop offset="1.000" stop-color="#010101"/></linearGradient><linearGradient id="g121" gradientUnits="userSpaceOnUse" x1="0" y1="167.8" x2="0" y2="454.7"><stop offset="0.000" stop-color="#3b3b3b"/><stop offset="0.049" stop-color="#474747"/><stop offset="0.108" stop-color="#575757"/><stop offset="0.157" stop-color="#626262"/><stop offset="0.213" stop-color="#707070"/><stop offset="0.247" stop-color="#797979"/><stop offset="0.286" stop-color="#858585"/><stop offset="0.314" stop-color="#8b8b8b"/><stop offset="0.335" stop-color="#949494"/><stop offset="0.366" stop-color="#999999"/><stop offset="0.439" stop-color="#a0a0a0"/><stop offset="0.603" stop-color="#a8a8a8"/><stop offset="0.641" stop-color="#a6a6a6"/><stop offset="0.676" stop-color="#a2a2a2"/><stop offset="0.725" stop-color="#8d8d8d"/><stop offset="0.753" stop-color="#717171"/><stop offset="0.767" stop-color="#666666"/><stop offset="0.784" stop-color="#575757"/><stop offset="0.802" stop-color="#3f3f3f"/><stop offset="0.805" stop-color="#3a3a3a"/><stop offset="0.816" stop-color="#282828"/><stop offset="0.819" stop-color="#232323"/><stop offset="0.830" stop-color="#0c0c0c"/><stop offset="0.840" stop-color="#010101"/><stop offset="1.000" stop-color="#010101"/></linearGradient><linearGradient id="g122" gradientUnits="userSpaceOnUse" x1="0" y1="167.8" x2="0" y2="454.7"><stop offset="0.000" stop-color="#3b3b3b"/><stop offset="0.049" stop-color="#474747"/><stop offset="0.108" stop-color="#575757"/><stop offset="0.157" stop-color="#626262"/><stop offset="0.213" stop-color="#707070"/><stop offset="0.247" stop-color="#797979"/><stop offset="0.286" stop-color="#858585"/><stop offset="0.314" stop-color="#8c8c8c"/><stop offset="0.335" stop-color="#959595"/><stop offset="0.366" stop-color="#9a9a9a"/><stop offset="0.446" stop-color="#a2a2a2"/><stop offset="0.586" stop-color="#a9a9a9"/><stop offset="0.631" stop-color="#a8a8a8"/><stop offset="0.676" stop-color="#a2a2a2"/><stop offset="0.725" stop-color="#8d8d8d"/><stop offset="0.753" stop-color="#717171"/><stop offset="0.767" stop-color="#666666"/><stop offset="0.784" stop-color="#575757"/><stop offset="0.802" stop-color="#3f3f3f"/><stop offset="0.809" stop-color="#353535"/><stop offset="0.819" stop-color="#242424"/><stop offset="0.830" stop-color="#0e0e0e"/><stop offset="0.840" stop-color="#030303"/><stop offset="0.847" stop-color="#010101"/><stop offset="1.000" stop-color="#010101"/></linearGradient><linearGradient id="g123" gradientUnits="userSpaceOnUse" x1="0" y1="167.8" x2="0" y2="454.7"><stop offset="0.000" stop-color="#333333"/><stop offset="0.056" stop-color="#3f3f3f"/><stop offset="0.115" stop-color="#4b4b4b"/><stop offset="0.143" stop-color="#525252"/><stop offset="0.209" stop-color="#6b6b6b"/><stop offset="0.244" stop-color="#767676"/><stop offset="0.282" stop-color="#848484"/><stop offset="0.314" stop-color="#8c8c8c"/><stop offset="0.335" stop-color="#959595"/><stop offset="0.366" stop-color="#9b9b9b"/><stop offset="0.450" stop-color="#a4a4a4"/><stop offset="0.579" stop-color="#aaaaaa"/><stop offset="0.631" stop-color="#a9a9a9"/><stop offset="0.676" stop-color="#a3a3a3"/><stop offset="0.701" stop-color="#989898"/><stop offset="0.725" stop-color="#8d8d8d"/><stop offset="0.753" stop-color="#717171"/><stop offset="0.770" stop-color="#636363"/><stop offset="0.784" stop-color="#575757"/><stop offset="0.809" stop-color="#363636"/><stop offset="0.819" stop-color="#242424"/><stop offset="0.826" stop-color="#151515"/><stop offset="0.830" stop-color="#0f0f0f"/><stop offset="0.840" stop-color="#030303"/><stop offset="0.843" stop-color="#010101"/><stop offset="1.000" stop-color="#010101"/></linearGradient><linearGradient id="g124" gradientUnits="userSpaceOnUse" x1="0" y1="167.8" x2="0" y2="454.7"><stop offset="0.000" stop-color="#222222"/><stop offset="0.132" stop-color="#353535"/><stop offset="0.160" stop-color="#444444"/><stop offset="0.202" stop-color="#606060"/><stop offset="0.247" stop-color="#747474"/><stop offset="0.282" stop-color="#848484"/><stop offset="0.314" stop-color="#8c8c8c"/><stop offset="0.335" stop-color="#969696"/><stop offset="0.366" stop-color="#9b9b9b"/><stop offset="0.450" stop-color="#a4a4a4"/><stop offset="0.579" stop-color="#aaaaaa"/><stop offset="0.631" stop-color="#a9a9a9"/><stop offset="0.676" stop-color="#a3a3a3"/><stop offset="0.701" stop-color="#989898"/><stop offset="0.725" stop-color="#8d8d8d"/><stop offset="0.753" stop-color="#707070"/><stop offset="0.770" stop-color="#636363"/><stop offset="0.784" stop-color="#575757"/><stop offset="0.809" stop-color="#363636"/><stop offset="0.819" stop-color="#242424"/><stop offset="0.826" stop-color="#161616"/><stop offset="0.833" stop-color="#0c0c0c"/><stop offset="0.840" stop-color="#040404"/><stop offset="0.850" stop-color="#010101"/><stop offset="1.000" stop-color="#010101"/></linearGradient><linearGradient id="g125" gradientUnits="userSpaceOnUse" x1="0" y1="167.8" x2="0" y2="454.7"><stop offset="0.000" stop-color="#414141"/><stop offset="0.136" stop-color="#545454"/><stop offset="0.213" stop-color="#6e6e6e"/><stop offset="0.244" stop-color="#787878"/><stop offset="0.282" stop-color="#868686"/><stop offset="0.314" stop-color="#8d8d8d"/><stop offset="0.335" stop-color="#969696"/><stop offset="0.362" stop-color="#9b9b9b"/><stop offset="0.453" stop-color="#a5a5a5"/><stop offset="0.579" stop-color="#aaaaaa"/><stop offset="0.631" stop-color="#a9a9a9"/><stop offset="0.676" stop-color="#a3a3a3"/><stop offset="0.701" stop-color="#989898"/><stop offset="0.725" stop-color="#8d8d8d"/><stop offset="0.753" stop-color="#707070"/><stop offset="0.770" stop-color="#636363"/><stop offset="0.788" stop-color="#535353"/><stop offset="0.802" stop-color="#404040"/><stop offset="0.812" stop-color="#303030"/><stop offset="0.819" stop-color="#252525"/><stop offset="0.826" stop-color="#161616"/><stop offset="0.833" stop-color="#0c0c0c"/><stop offset="0.840" stop-color="#040404"/><stop offset="0.850" stop-color="#010101"/><stop offset="1.000" stop-color="#010101"/></linearGradient><linearGradient id="g126" gradientUnits="userSpaceOnUse" x1="0" y1="167.8" x2="0" y2="454.7"><stop offset="0.000" stop-color="#505050"/><stop offset="0.143" stop-color="#646464"/><stop offset="0.216" stop-color="#737373"/><stop offset="0.258" stop-color="#808080"/><stop offset="0.293" stop-color="#898989"/><stop offset="0.317" stop-color="#8f8f8f"/><stop offset="0.338" stop-color="#979797"/><stop offset="0.369" stop-color="#9c9c9c"/><stop offset="0.453" stop-color="#a5a5a5"/><stop offset="0.575" stop-color="#ababab"/><stop offset="0.631" stop-color="#a9a9a9"/><stop offset="0.676" stop-color="#a3a3a3"/><stop offset="0.701" stop-color="#999999"/><stop offset="0.725" stop-color="#8d8d8d"/><stop offset="0.753" stop-color="#707070"/><stop offset="0.770" stop-color="#636363"/><stop offset="0.788" stop-color="#535353"/><stop offset="0.809" stop-color="#363636"/><stop offset="0.819" stop-color="#252525"/><stop offset="0.826" stop-color="#161616"/><stop offset="0.837" stop-color="#080808"/><stop offset="0.840" stop-color="#040404"/><stop offset="0.850" stop-color="#010101"/><stop offset="1.000" stop-color="#010101"/></linearGradient><linearGradient id="g127" gradientUnits="userSpaceOnUse" x1="0" y1="167.8" x2="0" y2="454.7"><stop offset="0.000" stop-color="#525252"/><stop offset="0.139" stop-color="#646464"/><stop offset="0.216" stop-color="#747474"/><stop offset="0.258" stop-color="#808080"/><stop offset="0.293" stop-color="#898989"/><stop offset="0.317" stop-color="#8f8f8f"/><stop offset="0.335" stop-color="#969696"/><stop offset="0.362" stop-color="#9c9c9c"/><stop offset="0.457" stop-color="#a6a6a6"/><stop offset="0.572" stop-color="#ababab"/><stop offset="0.631" stop-color="#aaaaaa"/><stop offset="0.676" stop-color="#a3a3a3"/><stop offset="0.697" stop-color="#9b9b9b"/><stop offset="0.725" stop-color="#8c8c8c"/><stop offset="0.753" stop-color="#707070"/><stop offset="0.770" stop-color="#636363"/><stop offset="0.788" stop-color="#535353"/><stop offset="0.809" stop-color="#363636"/><stop offset="0.819" stop-color="#252525"/><stop offset="0.826" stop-color="#171717"/><stop offset="0.837" stop-color="#080808"/><stop offset="0.840" stop-color="#040404"/><stop offset="0.847" stop-color="#010101"/><stop offset="1.000" stop-color="#010101"/></linearGradient><linearGradient id="g128" gradientUnits="userSpaceOnUse" x1="0" y1="167.8" x2="0" y2="454.7"><stop offset="0.000" stop-color="#535353"/><stop offset="0.139" stop-color="#656565"/><stop offset="0.237" stop-color="#797979"/><stop offset="0.286" stop-color="#888888"/><stop offset="0.314" stop-color="#8e8e8e"/><stop offset="0.335" stop-color="#979797"/><stop offset="0.362" stop-color="#9c9c9c"/><stop offset="0.457" stop-color="#a7a7a7"/><stop offset="0.568" stop-color="#acacac"/><stop offset="0.631" stop-color="#aaaaaa"/><stop offset="0.676" stop-color="#a3a3a3"/><stop offset="0.697" stop-color="#9b9b9b"/><stop offset="0.725" stop-color="#8c8c8c"/><stop offset="0.753" stop-color="#707070"/><stop offset="0.770" stop-color="#636363"/><stop offset="0.788" stop-color="#535353"/><stop offset="0.812" stop-color="#313131"/><stop offset="0.823" stop-color="#1e1e1e"/><stop offset="0.830" stop-color="#121212"/><stop offset="0.840" stop-color="#050505"/><stop offset="0.847" stop-color="#010101"/><stop offset="1.000" stop-color="#010101"/></linearGradient><linearGradient id="g129" gradientUnits="userSpaceOnUse" x1="0" y1="167.8" x2="0" y2="454.7"><stop offset="0.000" stop-color="#555555"/><stop offset="0.136" stop-color="#656565"/><stop offset="0.237" stop-color="#797979"/><stop offset="0.286" stop-color="#888888"/><stop offset="0.314" stop-color="#8e8e8e"/><stop offset="0.335" stop-color="#979797"/><stop offset="0.362" stop-color="#9d9d9d"/><stop offset="0.457" stop-color="#a8a8a8"/><stop offset="0.561" stop-color="#acacac"/><stop offset="0.631" stop-color="#aaaaaa"/><stop offset="0.676" stop-color="#a4a4a4"/><stop offset="0.694" stop-color="#9d9d9d"/><stop offset="0.728" stop-color="#898989"/><stop offset="0.753" stop-color="#707070"/><stop offset="0.770" stop-color="#636363"/><stop offset="0.788" stop-color="#545454"/><stop offset="0.812" stop-color="#323232"/><stop offset="0.823" stop-color="#1f1f1f"/><stop offset="0.830" stop-color="#121212"/><stop offset="0.840" stop-color="#050505"/><stop offset="0.847" stop-color="#010101"/><stop offset="1.000" stop-color="#010101"/></linearGradient><linearGradient id="g130" gradientUnits="userSpaceOnUse" x1="0" y1="167.8" x2="0" y2="454.7"><stop offset="0.000" stop-color="#575757"/><stop offset="0.136" stop-color="#656565"/><stop offset="0.237" stop-color="#7a7a7a"/><stop offset="0.286" stop-color="#888888"/><stop offset="0.314" stop-color="#8e8e8e"/><stop offset="0.335" stop-color="#979797"/><stop offset="0.362" stop-color="#9d9d9d"/><stop offset="0.460" stop-color="#a8a8a8"/><stop offset="0.561" stop-color="#adadad"/><stop offset="0.631" stop-color="#aaaaaa"/><stop offset="0.676" stop-color="#a4a4a4"/><stop offset="0.694" stop-color="#9d9d9d"/><stop offset="0.728" stop-color="#898989"/><stop offset="0.753" stop-color="#707070"/><stop offset="0.770" stop-color="#636363"/><stop offset="0.788" stop-color="#545454"/><stop offset="0.812" stop-color="#323232"/><stop offset="0.830" stop-color="#131313"/><stop offset="0.840" stop-color="#050505"/><stop offset="0.847" stop-color="#010101"/><stop offset="1.000" stop-color="#010101"/></linearGradient><linearGradient id="g131" gradientUnits="userSpaceOnUse" x1="0" y1="167.8" x2="0" y2="454.7"><stop offset="0.000" stop-color="#585858"/><stop offset="0.132" stop-color="#656565"/><stop offset="0.237" stop-color="#7a7a7a"/><stop offset="0.286" stop-color="#888888"/><stop offset="0.314" stop-color="#8e8e8e"/><stop offset="0.335" stop-color="#989898"/><stop offset="0.362" stop-color="#9d9d9d"/><stop offset="0.460" stop-color="#a9a9a9"/><stop offset="0.558" stop-color="#adadad"/><stop offset="0.631" stop-color="#ababab"/><stop offset="0.676" stop-color="#a4a4a4"/><stop offset="0.694" stop-color="#9e9e9e"/><stop offset="0.728" stop-color="#898989"/><stop offset="0.753" stop-color="#707070"/><stop offset="0.770" stop-color="#636363"/><stop offset="0.788" stop-color="#545454"/><stop offset="0.812" stop-color="#323232"/><stop offset="0.830" stop-color="#131313"/><stop offset="0.840" stop-color="#060606"/><stop offset="0.850" stop-color="#010101"/><stop offset="1.000" stop-color="#010101"/></linearGradient><linearGradient id="g132" gradientUnits="userSpaceOnUse" x1="0" y1="167.8" x2="0" y2="454.7"><stop offset="0.000" stop-color="#595959"/><stop offset="0.132" stop-color="#666666"/><stop offset="0.237" stop-color="#7a7a7a"/><stop offset="0.286" stop-color="#888888"/><stop offset="0.314" stop-color="#8e8e8e"/><stop offset="0.335" stop-color="#989898"/><stop offset="0.362" stop-color="#9e9e9e"/><stop offset="0.460" stop-color="#a9a9a9"/><stop offset="0.554" stop-color="#aeaeae"/><stop offset="0.631" stop-color="#ababab"/><stop offset="0.673" stop-color="#a5a5a5"/><stop offset="0.694" stop-color="#9e9e9e"/><stop offset="0.728" stop-color="#898989"/><stop offset="0.753" stop-color="#707070"/><stop offset="0.770" stop-color="#626262"/><stop offset="0.788" stop-color="#545454"/><stop offset="0.812" stop-color="#333333"/><stop offset="0.826" stop-color="#191919"/><stop offset="0.840" stop-color="#060606"/><stop offset="0.850" stop-color="#010101"/><stop offset="1.000" stop-color="#010101"/></linearGradient><linearGradient id="g133" gradientUnits="userSpaceOnUse" x1="0" y1="167.8" x2="0" y2="454.7"><stop offset="0.000" stop-color="#5b5b5b"/><stop offset="0.129" stop-color="#666666"/><stop offset="0.237" stop-color="#7a7a7a"/><stop offset="0.286" stop-color="#888888"/><stop offset="0.314" stop-color="#8e8e8e"/><stop offset="0.335" stop-color="#989898"/><stop offset="0.362" stop-color="#9e9e9e"/><stop offset="0.460" stop-color="#aaaaaa"/><stop offset="0.551" stop-color="#aeaeae"/><stop offset="0.631" stop-color="#ababab"/><stop offset="0.673" stop-color="#a5a5a5"/><stop offset="0.694" stop-color="#9e9e9e"/><stop offset="0.728" stop-color="#898989"/><stop offset="0.753" stop-color="#707070"/><stop offset="0.770" stop-color="#626262"/><stop offset="0.788" stop-color="#545454"/><stop offset="0.812" stop-color="#333333"/><stop offset="0.826" stop-color="#1a1a1a"/><stop offset="0.840" stop-color="#060606"/><stop offset="0.850" stop-color="#010101"/><stop offset="1.000" stop-color="#010101"/></linearGradient><linearGradient id="g134" gradientUnits="userSpaceOnUse" x1="0" y1="167.8" x2="0" y2="454.7"><stop offset="0.000" stop-color="#5c5c5c"/><stop offset="0.129" stop-color="#666666"/><stop offset="0.237" stop-color="#7a7a7a"/><stop offset="0.289" stop-color="#888888"/><stop offset="0.314" stop-color="#8f8f8f"/><stop offset="0.335" stop-color="#999999"/><stop offset="0.362" stop-color="#9f9f9f"/><stop offset="0.460" stop-color="#ababab"/><stop offset="0.547" stop-color="#afafaf"/><stop offset="0.627" stop-color="#acacac"/><stop offset="0.673" stop-color="#a5a5a5"/><stop offset="0.694" stop-color="#9f9f9f"/><stop offset="0.728" stop-color="#898989"/><stop offset="0.753" stop-color="#6f6f6f"/><stop offset="0.770" stop-color="#626262"/><stop offset="0.788" stop-color="#545454"/><stop offset="0.812" stop-color="#343434"/><stop offset="0.826" stop-color="#1a1a1a"/><stop offset="0.840" stop-color="#070707"/><stop offset="0.850" stop-color="#010101"/><stop offset="1.000" stop-color="#010101"/></linearGradient><linearGradient id="g135" gradientUnits="userSpaceOnUse" x1="0" y1="167.8" x2="0" y2="454.7"><stop offset="0.000" stop-color="#5c5c5c"/><stop offset="0.129" stop-color="#666666"/><stop offset="0.237" stop-color="#7a7a7a"/><stop offset="0.289" stop-color="#888888"/><stop offset="0.314" stop-color="#8f8f8f"/><stop offset="0.335" stop-color="#9a9a9a"/><stop offset="0.362" stop-color="#a0a0a0"/><stop offset="0.460" stop-color="#acacac"/><stop offset="0.537" stop-color="#b0b0b0"/><stop offset="0.624" stop-color="#adadad"/><stop offset="0.669" stop-color="#a7a7a7"/><stop offset="0.690" stop-color="#a1a1a1"/><stop offset="0.728" stop-color="#888888"/><stop offset="0.753" stop-color="#6f6f6f"/><stop offset="0.770" stop-color="#626262"/><stop offset="0.788" stop-color="#545454"/><stop offset="0.812" stop-color="#353535"/><stop offset="0.826" stop-color="#1c1c1c"/><stop offset="0.840" stop-color="#080808"/><stop offset="0.850" stop-color="#010101"/><stop offset="1.000" stop-color="#010101"/></linearGradient><linearGradient id="g136" gradientUnits="userSpaceOnUse" x1="0" y1="167.8" x2="0" y2="454.7"><stop offset="0.000" stop-color="#5c5c5c"/><stop offset="0.129" stop-color="#666666"/><stop offset="0.237" stop-color="#7a7a7a"/><stop offset="0.293" stop-color="#898989"/><stop offset="0.314" stop-color="#8f8f8f"/><stop offset="0.331" stop-color="#999999"/><stop offset="0.359" stop-color="#a1a1a1"/><stop offset="0.464" stop-color="#aeaeae"/><stop offset="0.533" stop-color="#b2b2b2"/><stop offset="0.624" stop-color="#aeaeae"/><stop offset="0.666" stop-color="#a8a8a8"/><stop offset="0.690" stop-color="#a2a2a2"/><stop offset="0.728" stop-color="#888888"/><stop offset="0.753" stop-color="#6f6f6f"/><stop offset="0.770" stop-color="#626262"/><stop offset="0.788" stop-color="#555555"/><stop offset="0.812" stop-color="#363636"/><stop offset="0.826" stop-color="#1d1d1d"/><stop offset="0.840" stop-color="#090909"/><stop offset="0.850" stop-color="#010101"/><stop offset="1.000" stop-color="#010101"/></linearGradient><linearGradient id="g137" gradientUnits="userSpaceOnUse" x1="0" y1="167.8" x2="0" y2="454.7"><stop offset="0.000" stop-color="#414141"/><stop offset="0.073" stop-color="#4f4f4f"/><stop offset="0.132" stop-color="#595959"/><stop offset="0.209" stop-color="#717171"/><stop offset="0.244" stop-color="#7a7a7a"/><stop offset="0.286" stop-color="#878787"/><stop offset="0.314" stop-color="#909090"/><stop offset="0.331" stop-color="#9a9a9a"/><stop offset="0.359" stop-color="#a2a2a2"/><stop offset="0.467" stop-color="#afafaf"/><stop offset="0.533" stop-color="#b3b3b3"/><stop offset="0.620" stop-color="#aeaeae"/><stop offset="0.666" stop-color="#a8a8a8"/><stop offset="0.690" stop-color="#a2a2a2"/><stop offset="0.722" stop-color="#8d8d8d"/><stop offset="0.732" stop-color="#858585"/><stop offset="0.753" stop-color="#707070"/><stop offset="0.788" stop-color="#555555"/><stop offset="0.812" stop-color="#363636"/><stop offset="0.826" stop-color="#1d1d1d"/><stop offset="0.840" stop-color="#090909"/><stop offset="0.850" stop-color="#010101"/><stop offset="1.000" stop-color="#010101"/></linearGradient><linearGradient id="g138" gradientUnits="userSpaceOnUse" x1="0" y1="167.8" x2="0" y2="454.7"><stop offset="0.000" stop-color="#373737"/><stop offset="0.052" stop-color="#434343"/><stop offset="0.143" stop-color="#5a5a5a"/><stop offset="0.206" stop-color="#6f6f6f"/><stop offset="0.247" stop-color="#7b7b7b"/><stop offset="0.289" stop-color="#888888"/><stop offset="0.314" stop-color="#909090"/><stop offset="0.331" stop-color="#9a9a9a"/><stop offset="0.359" stop-color="#a2a2a2"/><stop offset="0.467" stop-color="#afafaf"/><stop offset="0.533" stop-color="#b3b3b3"/><stop offset="0.620" stop-color="#aeaeae"/><stop offset="0.666" stop-color="#a8a8a8"/><stop offset="0.690" stop-color="#a2a2a2"/><stop offset="0.722" stop-color="#8d8d8d"/><stop offset="0.735" stop-color="#828282"/><stop offset="0.753" stop-color="#707070"/><stop offset="0.788" stop-color="#565656"/><stop offset="0.812" stop-color="#363636"/><stop offset="0.826" stop-color="#1d1d1d"/><stop offset="0.840" stop-color="#0a0a0a"/><stop offset="0.850" stop-color="#010101"/><stop offset="1.000" stop-color="#010101"/></linearGradient><linearGradient id="g139" gradientUnits="userSpaceOnUse" x1="0" y1="167.8" x2="0" y2="454.7"><stop offset="0.000" stop-color="#3d3d3d"/><stop offset="0.045" stop-color="#494949"/><stop offset="0.171" stop-color="#686868"/><stop offset="0.241" stop-color="#7b7b7b"/><stop offset="0.289" stop-color="#888888"/><stop offset="0.314" stop-color="#909090"/><stop offset="0.331" stop-color="#9b9b9b"/><stop offset="0.359" stop-color="#a2a2a2"/><stop offset="0.467" stop-color="#afafaf"/><stop offset="0.533" stop-color="#b3b3b3"/><stop offset="0.620" stop-color="#aeaeae"/><stop offset="0.669" stop-color="#a7a7a7"/><stop offset="0.690" stop-color="#a2a2a2"/><stop offset="0.722" stop-color="#8d8d8d"/><stop offset="0.735" stop-color="#828282"/><stop offset="0.753" stop-color="#707070"/><stop offset="0.788" stop-color="#565656"/><stop offset="0.812" stop-color="#363636"/><stop offset="0.826" stop-color="#1d1d1d"/><stop offset="0.840" stop-color="#0a0a0a"/><stop offset="0.850" stop-color="#010101"/><stop offset="1.000" stop-color="#010101"/></linearGradient><linearGradient id="g140" gradientUnits="userSpaceOnUse" x1="0" y1="167.8" x2="0" y2="454.7"><stop offset="0.000" stop-color="#414141"/><stop offset="0.042" stop-color="#4c4c4c"/><stop offset="0.084" stop-color="#565656"/><stop offset="0.136" stop-color="#626262"/><stop offset="0.234" stop-color="#797979"/><stop offset="0.286" stop-color="#888888"/><stop offset="0.314" stop-color="#909090"/><stop offset="0.331" stop-color="#9b9b9b"/><stop offset="0.359" stop-color="#a2a2a2"/><stop offset="0.467" stop-color="#afafaf"/><stop offset="0.537" stop-color="#b3b3b3"/><stop offset="0.620" stop-color="#aeaeae"/><stop offset="0.669" stop-color="#a7a7a7"/><stop offset="0.690" stop-color="#a2a2a2"/><stop offset="0.722" stop-color="#8d8d8d"/><stop offset="0.735" stop-color="#828282"/><stop offset="0.753" stop-color="#707070"/><stop offset="0.788" stop-color="#565656"/><stop offset="0.812" stop-color="#363636"/><stop offset="0.826" stop-color="#1d1d1d"/><stop offset="0.840" stop-color="#0a0a0a"/><stop offset="0.850" stop-color="#010101"/><stop offset="1.000" stop-color="#010101"/></linearGradient><linearGradient id="g141" gradientUnits="userSpaceOnUse" x1="0" y1="167.8" x2="0" y2="454.7"><stop offset="0.000" stop-color="#414141"/><stop offset="0.042" stop-color="#4c4c4c"/><stop offset="0.084" stop-color="#565656"/><stop offset="0.136" stop-color="#626262"/><stop offset="0.234" stop-color="#797979"/><stop offset="0.310" stop-color="#8f8f8f"/><stop offset="0.331" stop-color="#9c9c9c"/><stop offset="0.359" stop-color="#a2a2a2"/><stop offset="0.474" stop-color="#afafaf"/><stop offset="0.547" stop-color="#b3b3b3"/><stop offset="0.627" stop-color="#adadad"/><stop offset="0.673" stop-color="#a6a6a6"/><stop offset="0.694" stop-color="#9f9f9f"/><stop offset="0.722" stop-color="#8e8e8e"/><stop offset="0.735" stop-color="#838383"/><stop offset="0.756" stop-color="#6f6f6f"/><stop offset="0.788" stop-color="#575757"/><stop offset="0.798" stop-color="#494949"/><stop offset="0.816" stop-color="#2f2f2f"/><stop offset="0.826" stop-color="#1d1d1d"/><stop offset="0.840" stop-color="#0a0a0a"/><stop offset="0.850" stop-color="#010101"/><stop offset="1.000" stop-color="#010101"/></linearGradient><linearGradient id="g142" gradientUnits="userSpaceOnUse" x1="0" y1="167.8" x2="0" y2="454.7"><stop offset="0.000" stop-color="#414141"/><stop offset="0.042" stop-color="#4c4c4c"/><stop offset="0.084" stop-color="#565656"/><stop offset="0.136" stop-color="#626262"/><stop offset="0.234" stop-color="#797979"/><stop offset="0.307" stop-color="#8e8e8e"/><stop offset="0.331" stop-color="#9c9c9c"/><stop offset="0.359" stop-color="#a3a3a3"/><stop offset="0.484" stop-color="#b0b0b0"/><stop offset="0.558" stop-color="#b3b3b3"/><stop offset="0.627" stop-color="#adadad"/><stop offset="0.676" stop-color="#a5a5a5"/><stop offset="0.694" stop-color="#9e9e9e"/><stop offset="0.728" stop-color="#8a8a8a"/><stop offset="0.756" stop-color="#707070"/><stop offset="0.784" stop-color="#5b5b5b"/><stop offset="0.798" stop-color="#4b4b4b"/><stop offset="0.830" stop-color="#181818"/><stop offset="0.840" stop-color="#0a0a0a"/><stop offset="0.850" stop-color="#010101"/><stop offset="1.000" stop-color="#010101"/></linearGradient><linearGradient id="g143" gradientUnits="userSpaceOnUse" x1="0" y1="167.8" x2="0" y2="454.7"><stop offset="0.000" stop-color="#414141"/><stop offset="0.042" stop-color="#4c4c4c"/><stop offset="0.084" stop-color="#565656"/><stop offset="0.136" stop-color="#626262"/><stop offset="0.234" stop-color="#797979"/><stop offset="0.303" stop-color="#8e8e8e"/><stop offset="0.324" stop-color="#999999"/><stop offset="0.335" stop-color="#9e9e9e"/><stop offset="0.362" stop-color="#a4a4a4"/><stop offset="0.498" stop-color="#b1b1b1"/><stop offset="0.558" stop-color="#b3b3b3"/><stop offset="0.627" stop-color="#adadad"/><stop offset="0.676" stop-color="#a5a5a5"/><stop offset="0.697" stop-color="#9c9c9c"/><stop offset="0.728" stop-color="#8a8a8a"/><stop offset="0.760" stop-color="#6f6f6f"/><stop offset="0.781" stop-color="#606060"/><stop offset="0.798" stop-color="#4c4c4c"/><stop offset="0.816" stop-color="#2d2d2d"/><stop offset="0.833" stop-color="#121212"/><stop offset="0.850" stop-color="#010101"/><stop offset="1.000" stop-color="#010101"/></linearGradient><linearGradient id="g144" gradientUnits="userSpaceOnUse" x1="0" y1="167.8" x2="0" y2="454.7"><stop offset="0.000" stop-color="#414141"/><stop offset="0.042" stop-color="#4c4c4c"/><stop offset="0.084" stop-color="#565656"/><stop offset="0.136" stop-color="#626262"/><stop offset="0.234" stop-color="#797979"/><stop offset="0.296" stop-color="#8b8b8b"/><stop offset="0.317" stop-color="#959595"/><stop offset="0.331" stop-color="#9e9e9e"/><stop offset="0.362" stop-color="#a4a4a4"/><stop offset="0.509" stop-color="#b2b2b2"/><stop offset="0.558" stop-color="#b3b3b3"/><stop offset="0.627" stop-color="#adadad"/><stop offset="0.676" stop-color="#a4a4a4"/><stop offset="0.701" stop-color="#999999"/><stop offset="0.728" stop-color="#8b8b8b"/><stop offset="0.767" stop-color="#6c6c6c"/><stop offset="0.781" stop-color="#616161"/><stop offset="0.798" stop-color="#4d4d4d"/><stop offset="0.816" stop-color="#2c2c2c"/><stop offset="0.833" stop-color="#121212"/><stop offset="0.850" stop-color="#010101"/><stop offset="1.000" stop-color="#010101"/></linearGradient><linearGradient id="g145" gradientUnits="userSpaceOnUse" x1="0" y1="167.8" x2="0" y2="454.7"><stop offset="0.000" stop-color="#414141"/><stop offset="0.042" stop-color="#4c4c4c"/><stop offset="0.084" stop-color="#565656"/><stop offset="0.136" stop-color="#626262"/><stop offset="0.234" stop-color="#797979"/><stop offset="0.293" stop-color="#8a8a8a"/><stop offset="0.317" stop-color="#969696"/><stop offset="0.331" stop-color="#9f9f9f"/><stop offset="0.362" stop-color="#a5a5a5"/><stop offset="0.519" stop-color="#b2b2b2"/><stop offset="0.558" stop-color="#b3b3b3"/><stop offset="0.624" stop-color="#adadad"/><stop offset="0.676" stop-color="#a4a4a4"/><stop offset="0.728" stop-color="#8c8c8c"/><stop offset="0.770" stop-color="#6b6b6b"/><stop offset="0.781" stop-color="#626262"/><stop offset="0.798" stop-color="#4e4e4e"/><stop offset="0.812" stop-color="#313131"/><stop offset="0.833" stop-color="#111111"/><stop offset="0.850" stop-color="#010101"/><stop offset="1.000" stop-color="#010101"/></linearGradient><linearGradient id="sw" x1="0" y1="0" x2="0" y2="1"><stop offset="0" stop-color="#fff"/><stop offset="1" stop-color="#fff" stop-opacity="0"/></linearGradient><linearGradient id="sb" x1="0" y1="0" x2="0" y2="1"><stop offset="0" stop-color="#000"/><stop offset="1" stop-color="#000" stop-opacity="0"/></linearGradient><filter id="jetf" filterUnits="userSpaceOnUse" x="200.0" y="167.8" width="714.0" height="286.9" color-interpolation-filters="sRGB"><feGaussianBlur stdDeviation="0.9 0"/><feComponentTransfer><feFuncR type="table" tableValues="0 0 0 0 0 0 0 0 0 0 0 0 0 0 0 0 0 0 0 0 0 0 0 0 0 0 0 0 0 0 0 0 0 0 0 0 0 0 0 0 0 0 0 0 0 0 0 0 0 0 0 0 0 0 0 0 0 0 0 0 0 0 0 0 0 0 0 0 0 0 0 0 0 0 0 0 0 0 0 0 0 0 0 0 0 0 0 0 0 0 0 0.016 0.027 0.039 0.051 0.067 0.078 0.09 0.102 0.114 0.129 0.141 0.153 0.165 0.18 0.192 0.204 0.216 0.231 0.243 0.255 0.267 0.282 0.294 0.306 0.318 0.333 0.345 0.357 0.369 0.38 0.396 0.408 0.42 0.431 0.447 0.459 0.471 0.482 0.498 0.51 0.522 0.533 0.549 0.561 0.573 0.584 0.6 0.612 0.624 0.635 0.647 0.663 0.675 0.686 0.698 0.714 0.725 0.737 0.749 0.765 0.776 0.788 0.8 0.816 0.827 0.839 0.851 0.867 0.878 0.89 0.902 0.914 0.929 0.941 0.953 0.965 0.98 0.992 1 1 1 1 1 1 1 1 1 1 1 1 1 1 1 1 1 1 1 1 1 1 1 1 1 1 1 1 1 1 1 1 1 1 1 1 1 1 1 1 1 1 1 1 1 1 1 1 1 1 1 1 1 1 1 1 1 1 1 0.984 0.965 0.949 0.929 0.91 0.894 0.875 0.859 0.839 0.824 0.804 0.788 0.769 0.749 0.733 0.714 0.698 0.678 0.663 0.643 0.624 0.608 0.588 0.573 0.553 0.537 0.518 0.502"/><feFuncG type="table" tableValues="0 0 0 0 0 0 0 0 0 0 0 0 0 0 0 0 0 0 0 0 0 0 0 0 0 0 0 0 0 0 0 0 0 0.004 0.02 0.035 0.051 0.067 0.082 0.098 0.114 0.129 0.145 0.161 0.176 0.192 0.208 0.224 0.239 0.255 0.271 0.286 0.302 0.318 0.333 0.349 0.365 0.38 0.396 0.412 0.427 0.443 0.459 0.475 0.49 0.51 0.525 0.541 0.557 0.573 0.588 0.604 0.62 0.635 0.651 0.667 0.682 0.698 0.714 0.729 0.745 0.761 0.776 0.792 0.808 0.824 0.839 0.855 0.871 0.886 0.902 0.918 0.933 0.949 0.965 0.98 0.996 1 1 1 1 1 1 1 1 1 1 1 1 1 1 1 1 1 1 1 1 1 1 1 1 1 1 1 1 1 1 1 1 1 1 1 1 1 1 1 1 1 1 1 1 1 1 1 1 1 1 1 1 1 1 1 1 1 1 1 1 1 1 1 1 1 1 1 0.992 0.98 0.965 0.949 0.933 0.922 0.906 0.89 0.878 0.863 0.847 0.831 0.82 0.804 0.788 0.776 0.761 0.745 0.729 0.718 0.702 0.686 0.675 0.659 0.643 0.627 0.616 0.6 0.584 0.573 0.557 0.541 0.525 0.514 0.498 0.482 0.471 0.455 0.439 0.424 0.412 0.396 0.38 0.365 0.353 0.337 0.322 0.31 0.294 0.278 0.263 0.251 0.235 0.22 0.208 0.192 0.176 0.161 0.149 0.133 0.118 0.106 0.09 0.075 0.059 0.047 0.031 0.016 0.004 0 0 0 0 0 0 0 0 0 0 0 0 0 0 0 0 0 0 0 0 0 0 0"/><feFuncB type="table" tableValues="0.502 0.502 0.518 0.537 0.553 0.573 0.588 0.608 0.624 0.643 0.663 0.678 0.698 0.714 0.733 0.749 0.769 0.788 0.804 0.824 0.839 0.859 0.875 0.894 0.91 0.929 0.949 0.965 0.984 1 1 1 1 1 1 1 1 1 1 1 1 1 1 1 1 1 1 1 1 1 1 1 1 1 1 1 1 1 1 1 1 1 1 1 1 1 1 1 1 1 1 1 1 1 1 1 1 1 1 1 1 1 1 1 1 1 1 1 0.992 0.98 0.965 0.953 0.941 0.929 0.914 0.902 0.89 0.878 0.867 0.851 0.839 0.827 0.816 0.8 0.788 0.776 0.765 0.749 0.737 0.725 0.714 0.698 0.686 0.675 0.663 0.647 0.635 0.624 0.612 0.6 0.584 0.573 0.561 0.549 0.533 0.522 0.51 0.498 0.482 0.471 0.459 0.447 0.431 0.42 0.408 0.396 0.38 0.369 0.357 0.345 0.333 0.318 0.306 0.294 0.282 0.267 0.255 0.243 0.231 0.216 0.204 0.192 0.18 0.165 0.153 0.141 0.129 0.114 0.102 0.09 0.078 0.067 0.051 0.039 0.027 0.016 0 0 0 0 0 0 0 0 0 0 0 0 0 0 0 0 0 0 0 0 0 0 0 0 0 0 0 0 0 0 0 0 0 0 0 0 0 0 0 0 0 0 0 0 0 0 0 0 0 0 0 0 0 0 0 0 0 0 0 0 0 0 0 0 0 0 0 0 0 0 0 0 0 0 0 0 0 0 0 0 0 0 0 0 0 0 0 0 0 0"/><feFuncA type="discrete" tableValues="1"/></feComponentTransfer></filter><clipPath id="clipP2"><rect x="200.0" y="478.0" width="714.0" height="344.0"/></clipPath><clipPath id="clipR1"><rect x="1205.0" y="110.0" width="595.0" height="344.7"/></clipPath><clipPath id="clipR2"><rect x="1205.0" y="478.0" width="595.0" height="344.0"/></clipPath></defs><rect width="2000" height="1100" fill="#fff"/><text x="532.62" y="40.80" font-size="25.44" textLength="931.83" lengthAdjust="spacingAndGlyphs">BAS-RBM Relativistic Electron Forecast, issued at 23:00 UT, 12 February 2025</text><g filter="url(#jetf)"><rect x="180" y="167.8" width="50.5" height="286.9" fill="url(#g0)"/><rect x="230" y="167.8" width="4.5" height="286.9" fill="url(#g1)"/><rect x="234" y="167.8" width="4.5" height="286.9" fill="url(#g2)"/><rect x="238" y="167.8" width="4.5" height="286.9" fill="url(#g3)"/><rect x="242" y="167.8" width="4.5" height="286.9" fill="url(#g4)"/><rect x="246" y="167.8" width="4.5" height="286.9" fill="url(#g5)"/><rect x="250" y="167.8" width="4.5" height="286.9" fill="url(#g6)"/><rect x="254" y="167.8" width="4.5" height="286.9" fill="url(#g7)"/><rect x="258" y="167.8" width="4.5" height="286.9" fill="url(#g8)"/><rect x="262" y="167.8" width="32.5" height="286.9" fill="url(#g9)"/><rect x="294" y="167.8" width="2.5" height="286.9" fill="url(#g10)"/><rect x="296" y="167.8" width="2.5" height="286.9" fill="url(#g11)"/><rect x="298" y="167.8" width="2.5" height="286.9" fill="url(#g12)"/><rect x="300" y="167.8" width="2.5" height="286.9" fill="url(#g13)"/><rect x="302" y="167.8" width="2.5" height="286.9" fill="url(#g14)"/><rect x="304" y="167.8" width="2.5" height="286.9" fill="url(#g15)"/><rect x="306" y="167.8" width="2.5" height="286.9" fill="url(#g16)"/><rect x="308" y="167.8" width="2.5" height="286.9" fill="url(#g17)"/><rect x="310" y="167.8" width="2.5" height="286.9" fill="url(#g18)"/><rect x="312" y="167.8" width="2.5" height="286.9" fill="url(#g19)"/><rect x="314" y="167.8" width="2.5" height="286.9" fill="url(#g20)"/><rect x="316" y="167.8" width="2.5" height="286.9" fill="url(#g21)"/><rect x="318" y="167.8" width="2.5" height="286.9" fill="url(#g22)"/><rect x="320" y="167.8" width="2.5" height="286.9" fill="url(#g23)"/><rect x="322" y="167.8" width="2.5" height="286.9" fill="url(#g24)"/><rect x="324" y="167.8" width="2.5" height="286.9" fill="url(#g25)"/><rect x="326" y="167.8" width="2.5" height="286.9" fill="url(#g26)"/><rect x="328" y="167.8" width="2.5" height="286.9" fill="url(#g27)"/><rect x="330" y="167.8" width="2.5" height="286.9" fill="url(#g28)"/><rect x="332" y="167.8" width="2.5" height="286.9" fill="url(#g29)"/><rect x="334" y="167.8" width="2.5" height="286.9" fill="url(#g30)"/><rect x="336" y="167.8" width="2.5" height="286.9" fill="url(#g31)"/><rect x="338" y="167.8" width="2.5" height="286.9" fill="url(#g32)"/><rect x="340" y="167.8" width="2.5" height="286.9" fill="url(#g33)"/><rect x="342" y="167.8" width="2.5" height="286.9" fill="url(#g34)"/><rect x="344" y="167.8" width="10.5" height="286.9" fill="url(#g35)"/><rect x="354" y="167.8" width="10.5" height="286.9" fill="url(#g36)"/><rect x="364" y="167.8" width="10.5" height="286.9" fill="url(#g37)"/><rect x="374" y="167.8" width="16.5" height="286.9" fill="url(#g38)"/><rect x="390" y="167.8" width="12.5" height="286.9" fill="url(#g39)"/><rect x="402" y="167.8" width="2.5" height="286.9" fill="url(#g40)"/><rect x="404" y="167.8" width="2.5" height="286.9" fill="url(#g41)"/><rect x="406" y="167.8" width="2.5" height="286.9" fill="url(#g42)"/><rect x="408" y="167.8" width="2.5" height="286.9" fill="url(#g43)"/><rect x="410" y="167.8" width="2.5" height="286.9" fill="url(#g44)"/><rect x="412" y="167.8" width="8.5" height="286.9" fill="url(#g45)"/><rect x="420" y="167.8" width="8.5" height="286.9" fill="url(#g46)"/><rect x="428" y="167.8" width="8.5" height="286.9" fill="url(#g47)"/><rect x="436" y="167.8" width="8.5" height="286.9" fill="url(#g48)"/><rect x="444" y="167.8" width="8.5" height="286.9" fill="url(#g49)"/><rect x="452" y="167.8" width="4.5" height="286.9" fill="url(#g50)"/><rect x="456" y="167.8" width="4.5" height="286.9" fill="url(#g51)"/><rect x="460" y="167.8" width="2.5" height="286.9" fill="url(#g52)"/><rect x="462" y="167.8" width="2.5" height="286.9" fill="url(#g53)"/><rect x="464" y="167.8" width="2.5" height="286.9" fill="url(#g54)"/><rect x="466" y="167.8" width="2.5" height="286.9" fill="url(#g55)"/><rect x="468" y="167.8" width="2.5" height="286.9" fill="url(#g56)"/><rect x="470" y="167.8" width="2.5" height="286.9" fill="url(#g57)"/><rect x="472" y="167.8" width="2.5" height="286.9" fill="url(#g58)"/><rect x="474" y="167.8" width="2.5" height="286.9" fill="url(#g59)"/><rect x="476" y="167.8" width="2.5" height="286.9" fill="url(#g60)"/><rect x="478" y="167.8" width="8.5" height="286.9" fill="url(#g61)"/><rect x="486" y="167.8" width="8.5" height="286.9" fill="url(#g62)"/><rect x="494" y="167.8" width="8.5" height="286.9" fill="url(#g63)"/><rect x="502" y="167.8" width="8.5" height="286.9" fill="url(#g64)"/><rect x="510" y="167.8" width="8.5" height="286.9" fill="url(#g65)"/><rect x="518" y="167.8" width="4.5" height="286.9" fill="url(#g66)"/><rect x="522" y="167.8" width="2.5" height="286.9" fill="url(#g67)"/><rect x="524" y="167.8" width="2.5" height="286.9" fill="url(#g68)"/><rect x="526" y="167.8" width="2.5" height="286.9" fill="url(#g69)"/><rect x="528" y="167.8" width="2.5" height="286.9" fill="url(#g70)"/><rect x="530" y="167.8" width="4.5" height="286.9" fill="url(#g71)"/><rect x="534" y="167.8" width="4.5" height="286.9" fill="url(#g72)"/><rect x="538" y="167.8" width="2.5" height="286.9" fill="url(#g73)"/><rect x="540" y="167.8" width="2.5" height="286.9" fill="url(#g74)"/><rect x="542" y="167.8" width="4.5" height="286.9" fill="url(#g75)"/><rect x="546" y="167.8" width="4.5" height="286.9" fill="url(#g76)"/><rect x="550" y="167.8" width="4.5" height="286.9" fill="url(#g77)"/><rect x="554" y="167.8" width="4.5" height="286.9" fill="url(#g78)"/><rect x="558" y="167.8" width="4.5" height="286.9" fill="url(#g79)"/><rect x="562" y="167.8" width="4.5" height="286.9" fill="url(#g80)"/><rect x="566" y="167.8" width="4.5" height="286.9" fill="url(#g81)"/><rect x="570" y="167.8" width="4.5" height="286.9" fill="url(#g82)"/><rect x="574" y="167.8" width="4.5" height="286.9" fill="url(#g83)"/><rect x="578" y="167.8" width="2.5" height="286.9" fill="url(#g84)"/><rect x="580" y="167.8" width="4.5" height="286.9" fill="url(#g85)"/><rect x="584" y="167.8" width="4.5" height="286.9" fill="url(#g86)"/><rect x="588" y="167.8" width="4.5" height="286.9" fill="url(#g87)"/><rect x="592" y="167.8" width="4.5" height="286.9" fill="url(#g88)"/><rect x="596" y="167.8" width="4.5" height="286.9" fill="url(#g89)"/><rect x="600" y="167.8" width="2.5" height="286.9" fill="url(#g90)"/><rect x="602" y="167.8" width="4.5" height="286.9" fill="url(#g91)"/><rect x="606" y="167.8" width="2.5" height="286.9" fill="url(#g92)"/><rect x="608" y="167.8" width="2.5" height="286.9" fill="url(#g93)"/><rect x="610" y="167.8" width="2.5" height="286.9" fill="url(#g94)"/><rect x="612" y="167.8" width="6.5" height="286.9" fill="url(#g95)"/><rect x="618" y="167.8" width="6.5" height="286.9" fill="url(#g96)"/><rect x="624" y="167.8" width="6.5" height="286.9" fill="url(#g97)"/><rect x="630" y="167.8" width="4.5" height="286.9" fill="url(#g98)"/><rect x="634" y="167.8" width="6.5" height="286.9" fill="url(#g99)"/><rect x="640" y="167.8" width="6.5" height="286.9" fill="url(#g100)"/><rect x="646" y="167.8" width="6.5" height="286.9" fill="url(#g101)"/><rect x="652" y="167.8" width="6.5" height="286.9" fill="url(#g102)"/><rect x="658" y="167.8" width="6.5" height="286.9" fill="url(#g103)"/><rect x="664" y="167.8" width="6.5" height="286.9" fill="url(#g104)"/><rect x="670" y="167.8" width="6.5" height="286.9" fill="url(#g105)"/><rect x="676" y="167.8" width="6.5" height="286.9" fill="url(#g106)"/><rect x="682" y="167.8" width="6.5" height="286.9" fill="url(#g107)"/><rect x="688" y="167.8" width="2.5" height="286.9" fill="url(#g108)"/><rect x="690" y="167.8" width="2.5" height="286.9" fill="url(#g109)"/><rect x="692" y="167.8" width="2.5" height="286.9" fill="url(#g110)"/><rect x="694" y="167.8" width="2.5" height="286.9" fill="url(#g111)"/><rect x="696" y="167.8" width="2.5" height="286.9" fill="url(#g112)"/><rect x="698" y="167.8" width="2.5" height="286.9" fill="url(#g113)"/><rect x="700" y="167.8" width="2.5" height="286.9" fill="url(#g114)"/><rect x="702" y="167.8" width="6.5" height="286.9" fill="url(#g115)"/><rect x="708" y="167.8" width="6.5" height="286.9" fill="url(#g116)"/><rect x="714" y="167.8" width="6.5" height="286.9" fill="url(#g117)"/><rect x="720" y="167.8" width="2.5" height="286.9" fill="url(#g118)"/><rect x="722" y="167.8" width="2.5" height="286.9" fill="url(#g119)"/><rect x="724" y="167.8" width="6.5" height="286.9" fill="url(#g120)"/><rect x="730" y="167.8" width="10.5" height="286.9" fill="url(#g121)"/><rect x="740" y="167.8" width="8.5" height="286.9" fill="url(#g122)"/><rect x="748" y="167.8" width="2.5" height="286.9" fill="url(#g123)"/><rect x="750" y="167.8" width="2.5" height="286.9" fill="url(#g124)"/><rect x="752" y="167.8" width="2.5" height="286.9" fill="url(#g125)"/><rect x="754" y="167.8" width="4.5" height="286.9" fill="url(#g126)"/><rect x="758" y="167.8" width="4.5" height="286.9" fill="url(#g127)"/><rect x="762" y="167.8" width="4.5" height="286.9" fill="url(#g128)"/><rect x="766" y="167.8" width="4.5" height="286.9" fill="url(#g129)"/><rect x="770" y="167.8" width="2.5" height="286.9" fill="url(#g130)"/><rect x="772" y="167.8" width="4.5" height="286.9" fill="url(#g131)"/><rect x="776" y="167.8" width="4.5" height="286.9" fill="url(#g132)"/><rect x="780" y="167.8" width="4.5" height="286.9" fill="url(#g133)"/><rect x="784" y="167.8" width="10.5" height="286.9" fill="url(#g134)"/><rect x="794" y="167.8" width="10.5" height="286.9" fill="url(#g135)"/><rect x="804" y="167.8" width="16.5" height="286.9" fill="url(#g136)"/><rect x="820" y="167.8" width="2.5" height="286.9" fill="url(#g137)"/><rect x="822" y="167.8" width="2.5" height="286.9" fill="url(#g138)"/><rect x="824" y="167.8" width="2.5" height="286.9" fill="url(#g139)"/><rect x="826" y="167.8" width="16.5" height="286.9" fill="url(#g140)"/><rect x="842" y="167.8" width="16.5" height="286.9" fill="url(#g141)"/><rect x="858" y="167.8" width="16.5" height="286.9" fill="url(#g142)"/><rect x="874" y="167.8" width="16.5" height="286.9" fill="url(#g143)"/><rect x="890" y="167.8" width="16.5" height="286.9" fill="url(#g144)"/><rect x="906" y="167.8" width="28.5" height="286.9" fill="url(#g145)"/><rect x="246.5" y="167.8" width="2" height="48" fill="url(#sb)" opacity="0.04"/><rect x="248.5" y="167.8" width="4" height="48" fill="url(#sw)" opacity="0.03"/><rect x="253.5" y="167.8" width="2" height="48" fill="url(#sw)" opacity="0.03"/><rect x="256.5" y="167.8" width="4" height="48" fill="url(#sw)" opacity="0.03"/><rect x="262.5" y="167.8" width="1.5" height="48" fill="url(#sw)" opacity="0.05"/><rect x="267.0" y="167.8" width="2.5" height="48" fill="url(#sw)" opacity="0.02"/><rect x="275.0" y="167.8" width="4" height="48" fill="url(#sw)" opacity="0.02"/><rect x="286.0" y="167.8" width="4" height="48" fill="url(#sb)" opacity="0.02"/><rect x="330.0" y="167.8" width="2.5" height="48" fill="url(#sb)" opacity="0.06"/><rect x="332.5" y="167.8" width="3" height="48" fill="url(#sb)" opacity="0.02"/><rect x="337.5" y="167.8" width="2" height="48" fill="url(#sw)" opacity="0.02"/><rect x="341.5" y="167.8" width="1.5" height="48" fill="url(#sw)" opacity="0.04"/><rect x="344.0" y="167.8" width="2" height="48" fill="url(#sw)" opacity="0.03"/><rect x="347.0" y="167.8" width="2.5" height="48" fill="url(#sb)" opacity="0.05"/><rect x="350.5" y="167.8" width="1.5" height="48" fill="url(#sw)" opacity="0.05"/><rect x="352.0" y="167.8" width="2" height="48" fill="url(#sb)" opacity="0.05"/><rect x="356.0" y="167.8" width="2" height="48" fill="url(#sw)" opacity="0.04"/><rect x="361.0" y="167.8" width="2" height="48" fill="url(#sw)" opacity="0.02"/><rect x="365.0" y="167.8" width="4" height="48" fill="url(#sb)" opacity="0.03"/><rect x="371.0" y="167.8" width="2" height="48" fill="url(#sw)" opacity="0.06"/><rect x="376.0" y="167.8" width="1.5" height="48" fill="url(#sb)" opacity="0.05"/><rect x="378.5" y="167.8" width="2" height="48" fill="url(#sw)" opacity="0.05"/><rect x="380.5" y="167.8" width="3" height="48" fill="url(#sb)" opacity="0.02"/><rect x="385.5" y="167.8" width="4" height="48" fill="url(#sw)" opacity="0.05"/><rect x="389.5" y="167.8" width="4" height="48" fill="url(#sb)" opacity="0.05"/><rect x="395.5" y="167.8" width="1.5" height="48" fill="url(#sw)" opacity="0.02"/><rect x="397.0" y="167.8" width="2.5" height="48" fill="url(#sb)" opacity="0.06"/><rect x="399.5" y="167.8" width="2.5" height="48" fill="url(#sb)" opacity="0.05"/><rect x="422.5" y="167.8" width="1.5" height="48" fill="url(#sb)" opacity="0.03"/><rect x="425.0" y="167.8" width="2" height="48" fill="url(#sb)" opacity="0.03"/><rect x="428.0" y="167.8" width="2.5" height="48" fill="url(#sb)" opacity="0.02"/><rect x="431.5" y="167.8" width="4" height="48" fill="url(#sb)" opacity="0.03"/><rect x="437.5" y="167.8" width="3" height="48" fill="url(#sb)" opacity="0.04"/><rect x="443.5" y="167.8" width="4" height="48" fill="url(#sw)" opacity="0.02"/><rect x="453.5" y="167.8" width="1.5" height="48" fill="url(#sb)" opacity="0.04"/><rect x="467.0" y="167.8" width="2" height="48" fill="url(#sb)" opacity="0.03"/><rect x="482.5" y="167.8" width="3" height="48" fill="url(#sb)" opacity="0.04"/><rect x="485.5" y="167.8" width="1.5" height="48" fill="url(#sb)" opacity="0.03"/><rect x="487.0" y="167.8" width="2" height="48" fill="url(#sb)" opacity="0.02"/><rect x="493.0" y="167.8" width="3" height="48" fill="url(#sb)" opacity="0.06"/><rect x="496.0" y="167.8" width="1.5" height="48" fill="url(#sb)" opacity="0.05"/><rect x="497.5" y="167.8" width="1.5" height="48" fill="url(#sb)" opacity="0.07"/><rect x="500.0" y="167.8" width="3" height="48" fill="url(#sb)" opacity="0.04"/><rect x="510.5" y="167.8" width="2.5" height="48" fill="url(#sb)" opacity="0.07"/><rect x="515.0" y="167.8" width="3" height="48" fill="url(#sb)" opacity="0.06"/><rect x="521.0" y="167.8" width="2" height="48" fill="url(#sb)" opacity="0.02"/><rect x="523.0" y="167.8" width="4" height="48" fill="url(#sw)" opacity="0.06"/><rect x="544.5" y="167.8" width="1.5" height="48" fill="url(#sw)" opacity="0.05"/><rect x="547.0" y="167.8" width="1.5" height="48" fill="url(#sb)" opacity="0.03"/><rect x="553.5" y="167.8" width="4" height="48" fill="url(#sb)" opacity="0.03"/><rect x="560.5" y="167.8" width="4" height="48" fill="url(#sb)" opacity="0.03"/><rect x="566.5" y="167.8" width="2" height="48" fill="url(#sb)" opacity="0.03"/><rect x="576.5" y="167.8" width="2.5" height="48" fill="url(#sb)" opacity="0.05"/><rect x="579.0" y="167.8" width="3" height="48" fill="url(#sb)" opacity="0.03"/><rect x="582.0" y="167.8" width="1.5" height="48" fill="url(#sb)" opacity="0.03"/><rect x="584.5" y="167.8" width="2.5" height="48" fill="url(#sb)" opacity="0.04"/><rect x="593.5" y="167.8" width="4" height="48" fill="url(#sb)" opacity="0.05"/><rect x="612.0" y="167.8" width="2" height="48" fill="url(#sb)" opacity="0.07"/><rect x="617.0" y="167.8" width="2.5" height="48" fill="url(#sb)" opacity="0.09"/><rect x="619.5" y="167.8" width="3" height="48" fill="url(#sw)" opacity="0.08"/><rect x="624.5" y="167.8" width="2" height="48" fill="url(#sw)" opacity="0.06"/><rect x="629.5" y="167.8" width="4" height="48" fill="url(#sw)" opacity="0.07"/><rect x="633.5" y="167.8" width="1.5" height="48" fill="url(#sb)" opacity="0.09"/><rect x="644.0" y="167.8" width="2.5" height="48" fill="url(#sw)" opacity="0.02"/><rect x="646.5" y="167.8" width="2.5" height="48" fill="url(#sb)" opacity="0.08"/><rect x="652.0" y="167.8" width="4" height="48" fill="url(#sb)" opacity="0.07"/><rect x="657.0" y="167.8" width="2" height="48" fill="url(#sb)" opacity="0.10"/><rect x="662.0" y="167.8" width="1.5" height="48" fill="url(#sb)" opacity="0.02"/><rect x="666.5" y="167.8" width="2" height="48" fill="url(#sb)" opacity="0.03"/><rect x="668.5" y="167.8" width="3" height="48" fill="url(#sb)" opacity="0.09"/><rect x="672.5" y="167.8" width="2" height="48" fill="url(#sw)" opacity="0.08"/><rect x="676.5" y="167.8" width="2" height="48" fill="url(#sb)" opacity="0.02"/><rect x="681.5" y="167.8" width="2.5" height="48" fill="url(#sw)" opacity="0.03"/><rect x="686.0" y="167.8" width="2.5" height="48" fill="url(#sw)" opacity="0.06"/><rect x="693.0" y="167.8" width="4" height="48" fill="url(#sw)" opacity="0.10"/><rect x="697.0" y="167.8" width="4" height="48" fill="url(#sb)" opacity="0.04"/><rect x="724.0" y="167.8" width="3" height="48" fill="url(#sb)" opacity="0.05"/><rect x="730.0" y="167.8" width="4" height="48" fill="url(#sw)" opacity="0.02"/><rect x="737.0" y="167.8" width="1.5" height="48" fill="url(#sb)" opacity="0.04"/><rect x="739.5" y="167.8" width="2.5" height="48" fill="url(#sb)" opacity="0.03"/><rect x="744.0" y="167.8" width="4" height="48" fill="url(#sb)" opacity="0.03"/><rect x="754.0" y="167.8" width="4" height="48" fill="url(#sw)" opacity="0.03"/><rect x="761.0" y="167.8" width="2.5" height="48" fill="url(#sw)" opacity="0.06"/><rect x="766.5" y="167.8" width="2" height="48" fill="url(#sw)" opacity="0.06"/><rect x="768.5" y="167.8" width="2.5" height="48" fill="url(#sw)" opacity="0.03"/><rect x="773.0" y="167.8" width="3" height="48" fill="url(#sb)" opacity="0.04"/><rect x="779.0" y="167.8" width="2" height="48" fill="url(#sw)" opacity="0.07"/><rect x="783.0" y="167.8" width="1.5" height="48" fill="url(#sb)" opacity="0.08"/><rect x="786.5" y="167.8" width="2" height="48" fill="url(#sw)" opacity="0.08"/><rect x="788.5" y="167.8" width="2" height="48" fill="url(#sb)" opacity="0.10"/><rect x="790.5" y="167.8" width="3" height="48" fill="url(#sb)" opacity="0.04"/><rect x="794.5" y="167.8" width="3" height="48" fill="url(#sw)" opacity="0.05"/><rect x="797.5" y="167.8" width="1.5" height="48" fill="url(#sw)" opacity="0.08"/><rect x="802.0" y="167.8" width="1.5" height="48" fill="url(#sb)" opacity="0.06"/><rect x="808.5" y="167.8" width="3" height="48" fill="url(#sb)" opacity="0.06"/><rect x="814.5" y="167.8" width="4" height="48" fill="url(#sw)" opacity="0.04"/><rect x="212.0" y="167.8" width="1.5" height="48" fill="url(#sw)" opacity="0.02"/><rect x="215.5" y="167.8" width="2.5" height="48" fill="url(#sw)" opacity="0.03"/><rect x="232.5" y="167.8" width="4" height="48" fill="url(#sw)" opacity="0.03"/></g><rect x="200.0" y="110.0" width="714.0" height="57.80" fill="#d3d3d3"/><rect x="233.10" y="111.00" width="2.2" height="47.00" fill="#fff"/><rect x="293.70" y="111.00" width="1.6" height="22.00" fill="#fff"/><rect x="299.30" y="111.00" width="2.4" height="13.00" fill="#fff"/><rect x="299.40" y="111.00" width="1.6" height="56.50" fill="#fff"/><rect x="409.00" y="111.00" width="2.4" height="72.00" fill="#fff"/><rect x="471.70" y="111.00" width="2.0" height="59.70" fill="#fff"/><rect x="490.90" y="111.00" width="1.8" height="37.00" fill="#fff"/><rect x="518.70" y="111.00" width="1.6" height="17.00" fill="#fff"/><rect x="521.80" y="111.00" width="1.4" height="25.00" fill="#fff"/><rect x="524.20" y="111.00" width="2.0" height="41.00" fill="#fff"/><rect x="527.10" y="111.00" width="1.4" height="40.00" fill="#fff"/><rect x="529.70" y="111.00" width="1.6" height="24.00" fill="#fff"/><rect x="544.80" y="111.00" width="1.6" height="7.50" fill="#fff"/><rect x="548.20" y="111.00" width="1.6" height="2.00" fill="#fff"/><rect x="558.10" y="111.00" width="2.2" height="59.50" fill="#fff"/><rect x="671.70" y="111.00" width="2.2" height="86.00" fill="#fff"/><rect x="221.50" y="111.00" width="4" height="9" fill="#000"/><rect x="266.20" y="111.00" width="4" height="9" fill="#f00"/><text x="218.10" y="138.60" font-size="13.66" textLength="10.80" lengthAdjust="spacingAndGlyphs" fill="#222" stroke="#222" stroke-width="0.35">M</text><text x="263.56" y="138.60" font-size="13.66" textLength="9.27" lengthAdjust="spacingAndGlyphs" fill="#f00" stroke="#f00" stroke-width="0.35">N</text><rect x="310.75" y="111.00" width="4" height="9" fill="#000"/><rect x="355.45" y="111.00" width="4" height="9" fill="#f00"/><text x="307.35" y="138.60" font-size="13.66" textLength="10.80" lengthAdjust="spacingAndGlyphs" fill="#222" stroke="#222" stroke-width="0.35">M</text><text x="352.81" y="138.60" font-size="13.66" textLength="9.27" lengthAdjust="spacingAndGlyphs" fill="#f00" stroke="#f00" stroke-width="0.35">N</text><rect x="400.00" y="111.00" width="4" height="9" fill="#000"/><rect x="444.70" y="111.00" width="4" height="9" fill="#f00"/><text x="396.60" y="138.60" font-size="13.66" textLength="10.80" lengthAdjust="spacingAndGlyphs" fill="#222" stroke="#222" stroke-width="0.35">M</text><text x="442.06" y="138.60" font-size="13.66" textLength="9.27" lengthAdjust="spacingAndGlyphs" fill="#f00" stroke="#f00" stroke-width="0.35">N</text><rect x="489.25" y="111.00" width="4" height="9" fill="#000"/><rect x="533.95" y="111.00" width="4" height="9" fill="#f00"/><text x="485.85" y="138.60" font-size="13.66" textLength="10.80" lengthAdjust="spacingAndGlyphs" fill="#222" stroke="#222" stroke-width="0.35">M</text><text x="531.31" y="138.60" font-size="13.66" textLength="9.27" lengthAdjust="spacingAndGlyphs" fill="#f00" stroke="#f00" stroke-width="0.35">N</text><rect x="578.50" y="111.00" width="4" height="9" fill="#000"/><rect x="623.20" y="111.00" width="4" height="9" fill="#f00"/><text x="575.10" y="138.60" font-size="13.66" textLength="10.80" lengthAdjust="spacingAndGlyphs" fill="#222" stroke="#222" stroke-width="0.35">M</text><text x="620.56" y="138.60" font-size="13.66" textLength="9.27" lengthAdjust="spacingAndGlyphs" fill="#f00" stroke="#f00" stroke-width="0.35">N</text><rect x="667.75" y="111.00" width="4" height="9" fill="#000"/><rect x="712.45" y="111.00" width="4" height="9" fill="#f00"/><text x="664.35" y="138.60" font-size="13.66" textLength="10.80" lengthAdjust="spacingAndGlyphs" fill="#222" stroke="#222" stroke-width="0.35">M</text><text x="709.81" y="138.60" font-size="13.66" textLength="9.27" lengthAdjust="spacingAndGlyphs" fill="#f00" stroke="#f00" stroke-width="0.35">N</text><rect x="757.00" y="111.00" width="4" height="9" fill="#000"/><rect x="801.70" y="111.00" width="4" height="9" fill="#f00"/><text x="753.60" y="138.60" font-size="13.66" textLength="10.80" lengthAdjust="spacingAndGlyphs" fill="#222" stroke="#222" stroke-width="0.35">M</text><text x="799.06" y="138.60" font-size="13.66" textLength="9.27" lengthAdjust="spacingAndGlyphs" fill="#f00" stroke="#f00" stroke-width="0.35">N</text><rect x="846.25" y="111.00" width="4" height="9" fill="#000"/><rect x="890.95" y="111.00" width="4" height="9" fill="#f00"/><text x="842.85" y="138.60" font-size="13.66" textLength="10.80" lengthAdjust="spacingAndGlyphs" fill="#222" stroke="#222" stroke-width="0.35">M</text><text x="888.31" y="138.60" font-size="13.66" textLength="9.27" lengthAdjust="spacingAndGlyphs" fill="#f00" stroke="#f00" stroke-width="0.35">N</text><path d="M200.0 213.6 L200.0 213.5 L200.3 213.5 L200.8 213.5 L201.3 213.3 L202.0 213.0 L202.7 212.3 L203.6 211.2 L204.6 209.7 L205.6 208.1 L206.7 206.3 L207.7 204.6 L208.8 203.0 L209.7 201.5 L210.5 199.8 L211.3 198.2 L212.1 196.8 L213.1 195.6 L214.2 195.0 L215.4 195.0 L216.8 195.6 L218.2 196.5 L219.8 197.5 L221.3 198.3 L222.8 198.6 L224.2 198.3 L225.7 197.5 L227.2 196.5 L228.7 195.6 L230.1 195.0 L231.3 195.0 L232.4 195.6 L233.4 196.8 L234.2 198.2 L235.0 199.8 L235.9 201.5 L236.8 203.0 L237.7 204.6 L238.8 206.3 L239.9 208.1 L240.9 209.7 L241.9 211.2 L242.8 212.3 L243.5 213.0 L244.1 213.3 L244.7 213.5 L245.2 213.5 L245.7 213.5 L246.2 213.6 L246.8 213.8 L247.5 213.9 L248.1 214.0 L248.7 214.1 L249.2 214.3 L249.8 214.5 L250.2 214.8 L250.6 215.0 L250.9 215.4 L251.3 215.8 L251.7 216.3 L252.2 217.0 L252.9 217.9 L253.6 219.1 L254.4 220.4 L255.2 221.7 L256.0 222.9 L256.8 224.0 L257.4 224.9 L258.0 225.8 L258.6 226.6 L259.2 227.3 L259.9 228.0 L260.8 228.5 L261.7 228.9 L262.8 229.2 L263.9 229.4 L265.1 229.5 L266.2 229.6 L267.4 229.6 L268.5 229.6 L269.6 229.5 L270.8 229.4 L271.9 229.2 L273.0 228.9 L273.9 228.5 L274.8 228.0 L275.5 227.3 L276.1 226.6 L276.7 225.8 L277.3 224.9 L277.9 224.0 L278.7 222.9 L279.5 221.7 L280.3 220.4 L281.1 219.1 L281.8 217.9 L282.4 217.0 L283.0 216.3 L283.4 215.8 L283.8 215.4 L284.1 215.0 L284.5 214.8 L284.9 214.5 L285.5 214.3 L286.0 214.1 L286.6 214.0 L287.2 213.9 L287.9 213.8 L288.4 213.6 L289.0 213.5 L289.5 213.5 L290.0 213.5 L290.6 213.3 L291.2 213.0 L291.9 212.3 L292.8 211.2 L293.8 209.7 L294.9 208.1 L295.9 206.3 L297.0 204.6 L298.0 203.0 L298.9 201.5 L299.7 199.8 L300.5 198.2 L301.4 196.8 L302.3 195.6 L303.4 195.0 L304.6 195.0 L306.0 195.6 L307.5 196.5 L309.0 197.5 L310.5 198.3 L312.0 198.6 L313.5 198.3 L315.0 197.5 L316.5 196.5 L318.0 195.6 L319.4 195.0 L320.6 195.0 L321.7 195.6 L322.6 196.8 L323.5 198.2 L324.3 199.8 L325.1 201.5 L326.0 203.0 L327.0 204.6 L328.0 206.3 L329.1 208.1 L330.2 209.7 L331.1 211.2 L332.0 212.3 L332.7 213.0 L333.4 213.3 L333.9 213.5 L334.4 213.5 L334.9 213.5 L335.5 213.6 L336.1 213.8 L336.7 213.9 L337.3 214.0 L337.9 214.1 L338.5 214.3 L339.0 214.5 L339.5 214.8 L339.8 215.0 L340.2 215.4 L340.6 215.8 L341.0 216.3 L341.5 217.0 L342.1 217.9 L342.9 219.1 L343.7 220.4 L344.5 221.7 L345.3 222.9 L346.0 224.0 L346.7 224.9 L347.3 225.8 L347.9 226.6 L348.5 227.3 L349.2 228.0 L350.0 228.5 L350.9 228.9 L352.0 229.2 L353.1 229.4 L354.3 229.5 L355.5 229.6 L356.6 229.6 L357.7 229.6 L358.9 229.5 L360.1 229.4 L361.2 229.2 L362.3 228.9 L363.2 228.5 L364.0 228.0 L364.7 227.3 L365.3 226.6 L365.9 225.8 L366.5 224.9 L367.2 224.0 L367.9 222.9 L368.7 221.7 L369.5 220.4 L370.3 219.1 L371.1 217.9 L371.7 217.0 L372.2 216.3 L372.6 215.8 L373.0 215.4 L373.4 215.0 L373.7 214.8 L374.2 214.5 L374.7 214.3 L375.3 214.1 L375.9 214.0 L376.5 213.9 L377.1 213.8 L377.7 213.6 L378.3 213.5 L378.8 213.5 L379.3 213.5 L379.8 213.3 L380.5 213.0 L381.2 212.3 L382.1 211.2 L383.1 209.7 L384.1 208.1 L385.2 206.3 L386.2 204.6 L387.2 203.0 L388.2 201.5 L389.0 199.8 L389.8 198.2 L390.6 196.8 L391.6 195.6 L392.6 195.0 L393.9 195.0 L395.3 195.6 L396.8 196.5 L398.3 197.5 L399.8 198.3 L401.2 198.6 L402.7 198.3 L404.2 197.5 L405.8 196.5 L407.2 195.6 L408.6 195.0 L409.9 195.0 L410.9 195.6 L411.9 196.8 L412.7 198.2 L413.5 199.8 L414.4 201.5 L415.2 203.0 L416.2 204.6 L417.3 206.3 L418.4 208.1 L419.4 209.7 L420.4 211.2 L421.2 212.3 L422.0 213.0 L422.6 213.3 L423.2 213.5 L423.7 213.5 L424.2 213.5 L424.8 213.6 L425.3 213.8 L426.0 213.9 L426.6 214.0 L427.2 214.1 L427.7 214.3 L428.2 214.5 L428.7 214.8 L429.1 215.0 L429.4 215.4 L429.8 215.8 L430.2 216.3 L430.8 217.0 L431.4 217.9 L432.1 219.1 L432.9 220.4 L433.7 221.7 L434.5 222.9 L435.2 224.0 L435.9 224.9 L436.5 225.8 L437.1 226.6 L437.7 227.3 L438.4 228.0 L439.2 228.5 L440.2 228.9 L441.3 229.2 L442.4 229.4 L443.6 229.5 L444.7 229.6 L445.9 229.6 L447.0 229.6 L448.1 229.5 L449.3 229.4 L450.4 229.2 L451.5 228.9 L452.4 228.5 L453.3 228.0 L454.0 227.3 L454.6 226.6 L455.2 225.8 L455.8 224.9 L456.4 224.0 L457.2 222.9 L458.0 221.7 L458.8 220.4 L459.6 219.1 L460.3 217.9 L460.9 217.0 L461.5 216.3 L461.9 215.8 L462.3 215.4 L462.6 215.0 L463.0 214.8 L463.4 214.5 L464.0 214.3 L464.5 214.1 L465.1 214.0 L465.7 213.9 L466.4 213.8 L466.9 213.6 L467.5 213.5 L468.0 213.5 L468.5 213.5 L469.1 213.3 L469.7 213.0 L470.4 212.3 L471.3 211.2 L472.3 209.7 L473.4 208.1 L474.4 206.3 L475.5 204.6 L476.5 203.0 L477.4 201.5 L478.2 199.8 L479.0 198.2 L479.9 196.8 L480.8 195.6 L481.9 195.0 L483.1 195.0 L484.5 195.6 L486.0 196.5 L487.5 197.5 L489.0 198.3 L490.5 198.6 L492.0 198.3 L493.5 197.5 L495.0 196.5 L496.5 195.6 L497.9 195.0 L499.1 195.0 L500.2 195.6 L501.1 196.8 L502.0 198.2 L502.8 199.8 L503.6 201.5 L504.5 203.0 L505.5 204.6 L506.5 206.3 L507.6 208.1 L508.7 209.7 L509.6 211.2 L510.5 212.3 L511.2 213.0 L511.9 213.3 L512.4 213.5 L512.9 213.5 L513.4 213.5 L514.0 213.6 L514.6 213.8 L515.2 213.9 L515.8 214.0 L516.4 214.1 L517.0 214.3 L517.5 214.5 L518.0 214.8 L518.3 215.0 L518.7 215.4 L519.1 215.8 L519.5 216.3 L520.0 217.0 L520.6 217.9 L521.4 219.1 L522.2 220.4 L523.0 221.7 L523.8 222.9 L524.5 224.0 L525.2 224.9 L525.8 225.8 L526.4 226.6 L527.0 227.3 L527.7 228.0 L528.5 228.5 L529.4 228.9 L530.5 229.2 L531.6 229.4 L532.8 229.5 L534.0 229.6 L535.1 229.6 L536.2 229.6 L537.4 229.5 L538.6 229.4 L539.7 229.2 L540.8 228.9 L541.7 228.5 L542.5 228.0 L543.2 227.3 L543.8 226.6 L544.4 225.8 L545.0 224.9 L545.7 224.0 L546.4 222.9 L547.2 221.7 L548.0 220.4 L548.8 219.1 L549.6 217.9 L550.2 217.0 L550.7 216.3 L551.1 215.8 L551.5 215.4 L551.9 215.0 L552.2 214.8 L552.7 214.5 L553.2 214.3 L553.8 214.1 L554.4 214.0 L555.0 213.9 L555.6 213.8 L556.2 213.6 L556.8 213.5 L557.3 213.5 L557.8 213.5 L558.3 213.3 L559.0 213.0 L559.7 212.3 L560.6 211.2 L561.6 209.7 L562.6 208.1 L563.7 206.3 L564.7 204.6 L565.8 203.0 L566.7 201.5 L567.5 199.8 L568.3 198.2 L569.1 196.8 L570.1 195.6 L571.1 195.0 L572.4 195.0 L573.8 195.6 L575.2 196.5 L576.8 197.5 L578.3 198.3 L579.8 198.6 L581.2 198.3 L582.7 197.5 L584.2 196.5 L585.7 195.6 L587.1 195.0 L588.4 195.0 L589.4 195.6 L590.4 196.8 L591.2 198.2 L592.0 199.8 L592.9 201.5 L593.8 203.0 L594.7 204.6 L595.8 206.3 L596.9 208.1 L597.9 209.7 L598.9 211.2 L599.8 212.3 L600.5 213.0 L601.1 213.3 L601.7 213.5 L602.2 213.5 L602.7 213.5 L603.2 213.6 L603.8 213.8 L604.5 213.9 L605.1 214.0 L605.7 214.1 L606.2 214.3 L606.8 214.5 L607.2 214.8 L607.6 215.0 L607.9 215.4 L608.3 215.8 L608.7 216.3 L609.2 217.0 L609.9 217.9 L610.6 219.1 L611.4 220.4 L612.2 221.7 L613.0 222.9 L613.8 224.0 L614.4 224.9 L615.0 225.8 L615.6 226.6 L616.2 227.3 L616.9 228.0 L617.8 228.5 L618.7 228.9 L619.8 229.2 L620.9 229.4 L622.1 229.5 L623.2 229.6 L624.4 229.6 L625.5 229.6 L626.6 229.5 L627.8 229.4 L628.9 229.2 L630.0 228.9 L631.0 228.5 L631.8 228.0 L632.5 227.3 L633.1 226.6 L633.7 225.8 L634.3 224.9 L635.0 224.0 L635.7 222.9 L636.5 221.7 L637.3 220.4 L638.1 219.1 L638.8 217.9 L639.5 217.0 L640.0 216.3 L640.4 215.8 L640.8 215.4 L641.1 215.0 L641.5 214.8 L642.0 214.5 L642.5 214.3 L643.0 214.1 L643.6 214.0 L644.2 213.9 L644.9 213.8 L645.5 213.6 L646.0 213.5 L646.5 213.5 L647.0 213.5 L647.6 213.3 L648.2 213.0 L649.0 212.3 L649.8 211.2 L650.8 209.7 L651.9 208.1 L652.9 206.3 L654.0 204.6 L655.0 203.0 L655.9 201.5 L656.7 199.8 L657.5 198.2 L658.4 196.8 L659.3 195.6 L660.4 195.0 L661.6 195.0 L663.0 195.6 L664.5 196.5 L666.0 197.5 L667.5 198.3 L669.0 198.6 L670.5 198.3 L672.0 197.5 L673.5 196.5 L675.0 195.6 L676.4 195.0 L677.6 195.0 L678.7 195.6 L679.6 196.8 L680.5 198.2 L681.3 199.8 L682.1 201.5 L683.0 203.0 L684.0 204.6 L685.0 206.3 L686.1 208.1 L687.2 209.7 L688.1 211.2 L689.0 212.3 L689.7 213.0 L690.4 213.3 L690.9 213.5 L691.4 213.5 L691.9 213.5 L692.5 213.6 L693.1 213.8 L693.7 213.9 L694.3 214.0 L694.9 214.1 L695.5 214.3 L696.0 214.5 L696.5 214.8 L696.8 215.0 L697.2 215.4 L697.6 215.8 L698.0 216.3 L698.5 217.0 L699.1 217.9 L699.9 219.1 L700.7 220.4 L701.5 221.7 L702.3 222.9 L703.0 224.0 L703.7 224.9 L704.3 225.8 L704.9 226.6 L705.5 227.3 L706.2 228.0 L707.0 228.5 L707.9 228.9 L709.0 229.2 L710.1 229.4 L711.3 229.5 L712.5 229.6 L713.6 229.6 L714.7 229.6 L715.9 229.5 L717.1 229.4 L718.2 229.2 L719.3 228.9 L720.2 228.5 L721.0 228.0 L721.7 227.3 L722.3 226.6 L722.9 225.8 L723.5 224.9 L724.2 224.0 L724.9 222.9 L725.7 221.7 L726.5 220.4 L727.3 219.1 L728.1 217.9 L728.7 217.0 L729.2 216.3 L729.6 215.8 L730.0 215.4 L730.4 215.0 L730.7 214.8 L731.2 214.5 L731.7 214.3 L732.3 214.1 L732.9 214.0 L733.5 213.9 L734.1 213.8 L734.7 213.6 L735.3 213.5 L735.8 213.5 L736.3 213.5 L736.8 213.3 L737.5 213.0 L738.2 212.3 L739.1 211.2 L740.1 209.7 L741.1 208.1 L742.2 206.3 L743.2 204.6 L744.2 203.0 L745.2 201.5 L746.0 199.8 L746.8 198.2 L747.6 196.8 L748.6 195.6 L749.6 195.0 L750.9 195.0 L752.3 195.6 L753.7 196.5 L755.3 197.5 L756.8 198.3 L758.2 198.6 L759.7 198.3 L761.2 197.5 L762.7 196.5 L764.2 195.6 L765.6 195.0 L766.9 195.0 L767.9 195.6 L768.9 196.8 L769.7 198.2 L770.5 199.8 L771.4 201.5 L772.2 203.0 L773.2 204.6 L774.3 206.3 L775.4 208.1 L776.4 209.7 L777.4 211.2 L778.2 212.3 L779.0 213.0 L779.6 213.3 L780.2 213.5 L780.7 213.5 L781.2 213.5 L781.8 213.6 L782.3 213.8 L783.0 213.9 L783.6 214.0 L784.2 214.1 L784.7 214.3 L785.2 214.5 L785.7 214.8 L786.1 215.0 L786.4 215.4 L786.8 215.8 L787.2 216.3 L787.8 217.0 L788.4 217.9 L789.1 219.1 L789.9 220.4 L790.7 221.7 L791.5 222.9 L792.2 224.0 L792.9 224.9 L793.5 225.8 L794.1 226.6 L794.7 227.3 L795.4 228.0 L796.2 228.5 L797.2 228.9 L798.3 229.2 L799.4 229.4 L800.6 229.5 L801.7 229.6 L802.9 229.6 L804.0 229.6 L805.1 229.5 L806.3 229.4 L807.4 229.2 L808.5 228.9 L809.5 228.5 L810.3 228.0 L811.0 227.3 L811.6 226.6 L812.2 225.8 L812.8 224.9 L813.5 224.0 L814.2 222.9 L815.0 221.7 L815.8 220.4 L816.6 219.1 L817.3 217.9 L818.0 217.0 L818.5 216.3 L818.9 215.8 L819.3 215.4 L819.6 215.0 L820.0 214.8 L820.5 214.5 L821.0 214.3 L821.5 214.1 L822.1 214.0 L822.7 213.9 L823.4 213.8 L824.0 213.6 L824.5 213.5 L825.0 213.5 L825.5 213.5 L826.1 213.3 L826.7 213.0 L827.5 212.3 L828.3 211.2 L829.3 209.7 L830.4 208.1 L831.4 206.3 L832.5 204.6 L833.5 203.0 L834.4 201.5 L835.2 199.8 L836.0 198.2 L836.9 196.8 L837.8 195.6 L838.9 195.0 L840.1 195.0 L841.5 195.6 L843.0 196.5 L844.5 197.5 L846.0 198.3 L847.5 198.6 L849.0 198.3 L850.5 197.5 L852.0 196.5 L853.5 195.6 L854.9 195.0 L856.1 195.0 L857.2 195.6 L858.1 196.8 L859.0 198.2 L859.8 199.8 L860.6 201.5 L861.5 203.0 L862.5 204.6 L863.5 206.3 L864.6 208.1 L865.7 209.7 L866.6 211.2 L867.5 212.3 L868.2 213.0 L868.9 213.3 L869.4 213.5 L869.9 213.5 L870.4 213.5 L871.0 213.6 L871.6 213.8 L872.2 213.9 L872.8 214.0 L873.4 214.1 L874.0 214.3 L874.5 214.5 L875.0 214.8 L875.3 215.0 L875.7 215.4 L876.1 215.8 L876.5 216.3 L877.0 217.0 L877.6 217.9 L878.4 219.1 L879.2 220.4 L880.0 221.7 L880.8 222.9 L881.5 224.0 L882.2 224.9 L882.8 225.8 L883.4 226.6 L884.0 227.3 L884.7 228.0 L885.5 228.5 L886.4 228.9 L887.5 229.2 L888.6 229.4 L889.8 229.5 L891.0 229.6 L892.1 229.6 L893.2 229.6 L894.4 229.5 L895.6 229.4 L896.7 229.2 L897.8 228.9 L898.7 228.5 L899.5 228.0 L900.2 227.3 L900.8 226.6 L901.4 225.8 L902.0 224.9 L902.7 224.0 L903.4 222.9 L904.2 221.7 L905.0 220.4 L905.8 219.1 L906.6 217.9 L907.2 217.0 L907.7 216.3 L908.1 215.8 L908.5 215.4 L908.9 215.0 L909.2 214.8 L909.7 214.5 L910.2 214.3 L910.8 214.1 L911.4 214.0 L912.0 213.9 L912.6 213.8 L913.2 213.6 L913.8 213.5 L914.0 213.5 L914.0 213.5" fill="none" stroke="#000" stroke-width="2.3" stroke-dasharray="7.7 3.3" stroke-dashoffset="2"/><path d="M825.4 111.0V454.7" stroke="#000" stroke-width="2.78" stroke-dasharray="2.78 4.58"/><text transform="translate(888.50 415.50) rotate(-90)" x="-5.54" y="0" font-size="66.13" textLength="262.87" lengthAdjust="spacingAndGlyphs" fill-opacity="0.2">Forecast</text><path d="M198.96 110.00H915.04M198.96 454.70H915.04M200.00 110.00V454.70" stroke="#000" stroke-width="2.08" fill="none"/><path d="M914.00 110.00V454.70" stroke="#000" stroke-width="2.08" fill="none"/><path d="M200.00 454.70h5.50M200.00 397.25h5.50M200.00 339.80h5.50M200.00 282.35h5.50M200.00 224.90h5.50M200.00 167.45h5.50M200.00 110.00h5.50" stroke="#000" stroke-width="1.1" fill="none"/><path d="M914.00 454.70h-5.50M914.00 397.25h-5.50M914.00 339.80h-5.50M914.00 282.35h-5.50M914.00 224.90h-5.50M914.00 167.45h-5.50M914.00 110.00h-5.50" stroke="#000" stroke-width="1.1" fill="none"/><path d="M248.50 454.70v-4.00M338.50 454.70v-4.00M427.50 454.70v-4.00M516.50 454.70v-4.00M605.50 454.70v-4.00M695.50 454.70v-4.00M784.50 454.70v-4.00M873.50 454.70v-4.00" stroke="#000" stroke-width="1.1" fill="none"/><text x="183.87" y="462.40" font-size="20.34" textLength="11.13" lengthAdjust="spacingAndGlyphs">2</text><text x="183.78" y="404.95" font-size="20.34" textLength="11.09" lengthAdjust="spacingAndGlyphs">3</text><text x="183.06" y="347.50" font-size="20.34" textLength="11.55" lengthAdjust="spacingAndGlyphs">4</text><text x="183.92" y="290.05" font-size="20.34" textLength="10.90" lengthAdjust="spacingAndGlyphs">5</text><text x="182.99" y="232.60" font-size="20.34" textLength="11.95" lengthAdjust="spacingAndGlyphs">6</text><text x="183.72" y="175.15" font-size="20.34" textLength="11.30" lengthAdjust="spacingAndGlyphs">7</text><text x="183.24" y="117.70" font-size="20.34" textLength="11.67" lengthAdjust="spacingAndGlyphs">8</text><text x="204.57" y="93.10" font-size="25.44" textLength="349.62" lengthAdjust="spacingAndGlyphs">&gt;2.0 MeV Electron Flux at 88</text><circle cx="564.4" cy="77.3" r="2.15" fill="none" stroke="#000" stroke-width="0.95"/><text x="580.62" y="93.10" font-size="25.44" textLength="194.50" lengthAdjust="spacingAndGlyphs">pitch angle ( cm</text><text x="776.99" y="83.00" font-size="17.80" textLength="23.34" lengthAdjust="spacingAndGlyphs">−2</text><text x="806.16" y="93.10" font-size="25.44" textLength="11.50" lengthAdjust="spacingAndGlyphs">s</text><text x="819.99" y="83.00" font-size="17.80" textLength="23.45" lengthAdjust="spacingAndGlyphs">−1</text><text x="848.06" y="93.10" font-size="25.44" textLength="22.26" lengthAdjust="spacingAndGlyphs">sr</text><text x="870.59" y="83.00" font-size="17.80" textLength="23.45" lengthAdjust="spacingAndGlyphs">−1</text><text x="904.79" y="93.10" font-size="25.44" textLength="6.76" lengthAdjust="spacingAndGlyphs">)</text><text transform="translate(172.70 296.00) rotate(-90)" x="-2.16" y="0" font-size="25.44" textLength="24.87" lengthAdjust="spacingAndGlyphs">L*</text><rect x="959.0" y="110.0" width="17.0" height="344.7" fill="url(#jet)"/><path d="M957.96 110.00H977.04M957.96 454.70H977.04M959.00 110.00V454.70" stroke="#000" stroke-width="2.08" fill="none"/><path d="M976.00 110.00V454.70" stroke="#000" stroke-width="2.08" fill="none"/><path d="M976.00 454.70h5.00M976.00 397.25h5.00M976.00 339.80h5.00M976.00 282.35h5.00M976.00 224.90h5.00M976.00 167.45h5.00M976.00 110.00h5.00" stroke="#000" stroke-width="1.1" fill="none"/><path d="M976.00 437.41h3.00M976.00 427.29h3.00M976.00 420.11h3.00M976.00 414.54h3.00M976.00 410.00h3.00M976.00 406.15h3.00M976.00 402.82h3.00M976.00 399.88h3.00M976.00 379.96h3.00M976.00 369.84h3.00M976.00 362.66h3.00M976.00 357.09h3.00M976.00 352.55h3.00M976.00 348.70h3.00M976.00 345.37h3.00M976.00 342.43h3.00M976.00 322.51h3.00M976.00 312.39h3.00M976.00 305.21h3.00M976.00 299.64h3.00M976.00 295.10h3.00M976.00 291.25h3.00M976.00 287.92h3.00M976.00 284.98h3.00M976.00 265.06h3.00M976.00 254.94h3.00M976.00 247.76h3.00M976.00 242.19h3.00M976.00 237.65h3.00M976.00 233.80h3.00M976.00 230.47h3.00M976.00 227.53h3.00M976.00 207.61h3.00M976.00 197.49h3.00M976.00 190.31h3.00M976.00 184.74h3.00M976.00 180.20h3.00M976.00 176.35h3.00M976.00 173.02h3.00M976.00 170.08h3.00M976.00 150.16h3.00M976.00 140.04h3.00M976.00 132.86h3.00M976.00 127.29h3.00M976.00 122.75h3.00M976.00 118.90h3.00M976.00 115.57h3.00M976.00 112.63h3.00" stroke="#000" stroke-width="0.85" fill="none"/><text x="987.25" y="462.10" font-size="20.34" textLength="24.09" lengthAdjust="spacingAndGlyphs">10</text><text x="1012.32" y="455.20" font-size="14.97" textLength="8.21" lengthAdjust="spacingAndGlyphs">0</text><text x="987.25" y="404.65" font-size="20.34" textLength="24.09" lengthAdjust="spacingAndGlyphs">10</text><text x="1011.82" y="397.75" font-size="14.97" textLength="7.84" lengthAdjust="spacingAndGlyphs">1</text><text x="987.25" y="347.20" font-size="20.34" textLength="24.09" lengthAdjust="spacingAndGlyphs">10</text><text x="1012.18" y="340.30" font-size="14.97" textLength="7.91" lengthAdjust="spacingAndGlyphs">2</text><text x="987.25" y="289.75" font-size="20.34" textLength="24.09" lengthAdjust="spacingAndGlyphs">10</text><text x="1012.36" y="282.85" font-size="14.97" textLength="7.88" lengthAdjust="spacingAndGlyphs">3</text><text x="987.25" y="232.30" font-size="20.34" textLength="24.09" lengthAdjust="spacingAndGlyphs">10</text><text x="1012.56" y="225.40" font-size="14.97" textLength="8.21" lengthAdjust="spacingAndGlyphs">4</text><text x="987.25" y="174.85" font-size="20.34" textLength="24.09" lengthAdjust="spacingAndGlyphs">10</text><text x="1012.34" y="167.95" font-size="14.97" textLength="7.75" lengthAdjust="spacingAndGlyphs">5</text><text x="987.25" y="117.40" font-size="20.34" textLength="24.09" lengthAdjust="spacingAndGlyphs">10</text><text x="1012.12" y="110.50" font-size="14.97" textLength="8.49" lengthAdjust="spacingAndGlyphs">6</text><rect x="825.2" y="478.0" width="88.8" height="344.0" fill="#d3d3d3"/><text transform="translate(888.50 783.00) rotate(-90)" x="-5.54" y="0" font-size="66.13" textLength="262.87" lengthAdjust="spacingAndGlyphs" fill-opacity="0.2">Forecast</text><g clip-path="url(#clipP2)"><path d="M200.0 710.0l0.9 2.4 1.2 3.2 1.4 3.9 1.6 4.3 1.7 4.4 1.7 4.1 1.8 3.7 1.7 3 1.4 1.9 1.5 1.9 1.5 1.6 1.6 1.5 1.6 1.3 1.5 1.1 1.6 0.8 1.5 0.6 1.4 0.3 1.4 0 1.7 -0.6 1.6 -1.3 1.4 -1.8 1.4 -2.3 1.4 -2.5 1.6 -2.8 1.9 -2.7 1.3 -1.9 1.5 -2.1 1.6 -2.3 1.6 -2.4 1.7 -2.4 1.7 -2.5 1.7 -2.4 1.6 -2.3 1.6 -2.2 1.4 -1.9 1.3 -1.6 2 -2.4 1.7 -2 1.4 -1.6 1.5 -1.1 1.5 -0.7 1.9 -0.2 1.3 0.1 1.4 0.4 1.6 0.7 1.5 0.8 1.6 0.9 1.6 1 1.6 1 1.6 1.1 1.4 1 1.4 1 1.8 1.4 1.9 1.5 1.7 1.6 1.6 1.5 1.5 1.5 1.4 1.4 1.1 1.1 2.4 -4.8 1.1 8.8 0.5 119 1 7.3 1.4 2.7 1.6 -0.5 1.8 -2.6 1.7 -3.6 1.5 -3.3 1.6 -4.6 1.6 -6.7 1.5 -7.6 1.6 -7.5 1.7 -6.6 1.5 -4.5 1.6 -4.2 1.6 -3.9 1.7 -3.8 1.7 -3.8 1.9 -3.8 1.5 -3 1.5 -3 1.6 -3 1.6 -2.9 1.6 -3 1.7 -2.8 1.8 -2.7 1.7 -2.6 1.4 -2 1.5 -2 1.5 -1.9 1.5 -1.9 1.5 -1.8 1.5 -1.7 1.5 -1.6 1.6 -1.5 1.5 -1.4 1.5 -1.2 1.5 -1.1 1.5 -0.9 1.5 -0.9 1.5 -0.7 1.5 -0.6 1.5 -0.6 1.5 -0.4 1.5 -0.4 1.5 -0.2 1.5 -0.2 1.5 -0.1 1.5 0 1.4 0.2 1.5 0.2 1.5 0.3 1.5 0.4 1.5 0.4 1.5 0.5 1.5 0.6 1.6 0.5 1.5 0.6 1.6 0.8 1.6 0.8 1.7 1 1.7 1 1.7 0.9 1.6 0.9 1.6 0.8 1.4 0.6 1.4 0.4 1.2 0.2 2.2 -0.9 1.8 -2 1.5 -2.4 1.3 -1.9 1.2 -0.3 2.4 4.3 1.6 10.2 1.8 40 1.2 -20 1 -19 1.3 -4.3 1.7 -4.1 2 -4 2 -3.6 1.4 -2.2 1.5 -2.1 1.5 -1.9 1.6 -1.9 1.5 -1.9 1.5 -2 1.7 -2.7 1.7 -2.9 1.6 -2.9 1.5 -2.5 1.5 -2 1.6 -1.5 1.4 -0.9 1.4 -0.4 1.6 -0.2 1.5 -0.2 1.6 -0.3 1.6 0 1.7 0.5 1.6 1 1.6 1.9 1.6 2.6 1.7 3 1.6 3 1.5 2.5 1.8 2.6 1.8 2.4 1.7 2.1 1.7 1.9 1.6 1.2 1.6 0.6 1.5 1.1 1.3 2.6 1.8 10 1.2 14.5 2 42 2 -12 2 -12 2 17 1 15 2 -20 1 -12 1.2 -1.9 1.5 -1.7 1.8 -1.5 1.9 -1.5 1.6 -1.4 1.9 -1.5 1.8 -1.1 1.7 -1.4 1.6 -2 1.8 -4.2 1.6 -5.1 1.6 -4.7 1.6 -4.3 1.5 -4 1.9 -2.7 1.5 -0.7 1.7 -0.3 1.8 0.2 1.7 0.7 1.3 1.1 1.9 5.7 1.1 6.3 2 6 1.4 -3.9 1.6 -9.1 1.5 -17.1 1.5 -17.9 1.5 -11.8 1.5 -7.2 1.2 -2.2 1.8 3.2 1.5 4.4 1.8 6.2 1.9 6.9 1.8 6.5 1.5 6.2 1.3 6.4 1.4 5.9 1.8 4.5 1.3 2 1.4 1.4 1.4 0.8 1.7 0.7 1.9 0.5 2.3 0.6 1.2 0.3 1.4 0.3 1.4 0.3 1.6 0.3 1.6 0.3 1.6 0.2 1.7 0.2 1.7 0.3 1.7 0.1 1.6 0.2 1.6 0.2 1.5 0.2 1.4 0.1 1.7 0.2 1.7 0.2 1.7 0.2 1.6 0.2 1.6 0.2 1.5 0.1 1.4 0 1.4 0 1.2 -0.2 1.2 -0.2 2.3 -1.1 1.8 -1.7 1.4 -1.9 1.5 -2 2 -2.1 2 -2.2 1.7 -4 2.3 -11.2 2 -12.5 1.6 -10.2 2.4 -8.8 1.2 -2.2 1.6 -2.2 1.7 -2 1.8 -1.9 1.7 -1.7 1.6 -1.6 1.4 -1.4 1.8 -2 1.3 -1.5 1.3 -1 1.6 -0.5 1.3 0 1.4 0.2 1.5 0.4 1.6 0.7 1.6 0.8 1.6 0.9 1.4 1.1 1.4 1.6 1.5 1.7 1.5 1.7 1.5 1.4 1.6 0.9 1.6 0.2 1.5 -0.7 1.6 -1.5 1.7 -2 1.7 -2.2 1.7 -2.2 1.6 -2 1.6 -1.5 1.4 -0.7 1.9 0.6 1.7 2.2 1.5 2.7 1.7 2.1 1.9 0.6 1.4 -0.7 1.6 -1.4 1.6 -1.9 1.7 -2.2 1.6 -2.2 1.7 -2.1 1.6 -1.8 1.5 -1.2 1.7 -0.6 1.6 0.3 1.4 0.6 1.6 0.5 1.8 -0.3 2.2 -1.6 1.2 -1.3 1.4 -1.8 1.5 -2.1 1.6 -2.3 1.7 -2.5 1.7 -2.7 1.7 -2.6 1.7 -2.6 1.6 -2.5 1.6 -2.3 1.4 -2.1 1.3 -1.6 1.2 -1.3 2.4 -1.8 1.8 -0.5 1.4 0.6 1.3 1.2 1.5 1.5 1.6 1.9 1.6 2.6 1.6 3 1.7 3.2 2 3.2 1.5 1.9 1.6 1.7 1.8 1.8 1.8 1.9 1.8 2 1.7 2.2 1.5 2.6 1.2 3 2.1 12.4 1.2 14.2 1.3 7.6 1.4 -5.1 1.4 -11.7 2.2 -9.1 1.4 -1.4 1.6 -0.6 1.8 0 1.9 0.4 1.9 0.3 1.7 -0.1 1.4 -0.6 1.8 -2.6 1.4 -3.5 1.3 -3.6 1.8 -3 1.3 -1.1 1.5 -0.8 1.5 -0.6 1.6 -0.6 1.7 -0.7 1.6 -1.1 1.6 -1.5 1.5 -2.2 1.5 -2.8 1.5 -3.1 1.5 -3.2 1.5 -3 1.6 -2.8 1.6 -2.1 1.5 -1.4 1.6 -1.3 1.6 -1 1.7 -0.8 1.7 -0.6 1.6 -0.3 1.6 -0.1 1.5 0.1 1.6 0.6 1.6 1.2 1.5 1.6 1.5 1.7 1.5 1.8 1.5 1.6 1.5 1.2 1.5 0.7 1.5 0.3 1.5 0.2 1.5 0.1 1.5 0.5 1.5 0.8 1.6 1.6 1.7 2.6 1.7 3.5 1.9 4 1.8 4.2 1.7 3.9 1.6 3.2 1.4 2.1 2 0.9 1.5 -1.4 1.3 -2 1.6 -0.7 1.4 1 1.6 1.8 1.5 2 1.6 1.4 1.4 0.3 1.6 -1.8 1.5 -3.3 1.6 -3.7 1.7 -3.2 1.6 -2 1.7 -1.8 1.9 -1.7 1.7 -1.5 1.6 -1.4 1.6 -1.2 1.3 -0.7 1.5 -0.9 2 -1.5 1.3 -1.2 1.5 -1.6 1.7 -1.8 1.8 -1.9 1.7 -1.8 1.7 -1.6 1.7 -1.4 1.4 -1 2 -0.8 1.7 -0.2 1.7 0.3 1.6 0.5 1.6 0.8 1.7 1 1.8 1.3 1.7 1.6 1.7 1.7 1.6 1.8 1.7 2.1 1.7 2.5 1.7 2.4 1.4 2.2 1 1.5" fill="none" stroke="#f00" stroke-width="2.0" stroke-linejoin="round"/><path d="M200.3 736.6l0.5 50.6 0.4 0.4 0.4 -74.7 0.5 -1.2 0.4 -3.2 0.5 15.3 0.4 25.8 0.5 -25.6 0.4 64.1 0.5 -36.6 0.4 36.5 0.5 0 0.4 -79.6 0.5 -0.5 0.4 78.9 0.5 -74 0.4 -0.8 0.5 1.4 0.4 73.9 0.5 -67.4 0.4 34.6 0.5 32.6 0.4 0.1 0.5 -17.8 0.4 -16.8 0.5 35 0.4 -71.4 0.5 24.3 0.4 -27.7 0.5 4.3 0.4 0.7 0.5 62.7 0.4 -75 0.5 82.1 0.4 -77.7 0.5 77.3 0.4 -5.5 0.5 -76.4 0.4 7.3 0.5 54.8 0.4 20.8 0.5 -1.1 0.4 0.6 0.5 -82 0.4 10.2 0.5 71.4 0.4 0.7 0.5 -0.9 0.4 0.5 0.5 -63.2 0.4 -17.6 0.5 0.7 0.4 80 0.5 0.4 0.4 -58.7 0.5 58.3 0.4 0.7 0.5 -0.1 0.4 -40.4 0.5 -45.8 0.4 34.1 0.5 -29.9 0.4 -1.2 0.5 82.3 0.4 -71 0.5 71 0.4 -11.9 0.5 11.8 0.4 -1.6 0.5 -78.8 0.4 -15 0.5 52.5 0.4 -31.2 0.5 -5.7 0.4 3.9 0.5 76.9 0.4 -87.1 0.5 86.8 0.4 -85.1 0.5 48.7 0.4 -54.2 0.5 90.1 0.4 -87.6 0.5 0.6 0.4 86.7 0.5 0.6 0.4 -83 0.5 2.1 0.4 0.5 0.5 -6.3 0.4 1.1 0.5 -0.8 0.4 73.4 0.5 13.6 0.4 -0.9 0.5 0 0.4 -15.8 0.5 -16.8 0.4 -8 0.5 -42.1 0.4 82.9 0.5 -53.6 0.4 -31.1 0.5 7.9 0.4 19.2 0.5 -24.5 0.4 31.1 0.5 -19.9 0.4 -8.5 0.5 79.4 0.4 -56.2 0.5 -10.2 0.4 66.3 0.5 0.2 0.4 -64.7 0.5 -21.3 0.4 5.5 0.5 40.6 0.4 -47.1 0.5 41.9 0.4 -38.2 0.5 83.7 0.4 -0.2 0.5 -77.9 0.4 -16.3 0.5 76.1 0.4 -74.1 0.5 9.5 0.4 73 0.5 -79 0.4 1.1 0.5 87.3 0.4 -51.7 0.5 22.8 0.4 29.5 0.5 -1.1 0.4 -72.4 0.5 -5.6 0.4 78.7 0.5 -73.9 0.4 -15 0.5 88.3 0.4 0.2 0.5 0.4 0.4 -0.2 0.5 -79.7 0.4 -6.2 0.5 85.5 0.4 -74 0.5 -15.4 0.4 89.6 0.5 -91 0.4 91.3 0.5 -43 0.4 -26.3 0.5 69.1 0.4 -77.6 0.5 -0.2 0.4 16.2 0.5 -18.5 0.4 13.4 0.5 67.3 0.4 -82.3 0.5 81.8 0.4 -69.8 0.5 -1.3 0.4 -3.9 0.5 75.1 0.4 -0.4 0.5 -19 0.4 19.4 0.5 -79.5 0.4 78.9 0.5 -60.1 0.4 28.9 0.5 -15 0.4 47.2 0.5 -78.6 0.4 -9.4 0.5 28.4 0.4 58.9 0.5 0.5 0.4 -60.1 0.5 -31.4 0.4 8.4 0.5 83.5 0.4 -70.4 0.5 4.8 0.4 -17 0.5 70.4 0.4 11.1 0.5 -82.2 0.4 82.9 0.5 -67.4 0.4 62.6 0.5 -14.6 0.4 -51.3 0.5 2.9 0.4 67.9 0.5 -78.5 0.4 -2.1 0.5 80.1 0.4 -39.4 0.5 -33.8 0.4 2.9 0.5 70.3 0.4 -61.3 0.5 -18.3 0.4 65.6 0.5 8.4 0.4 5.7 0.5 -35.3 0.4 -40.3 0.5 75.5 0.4 0.2 0.5 0.2 0.4 0.1 0.5 -0.5 0.4 -74.9 0.5 20.7 0.4 -0.6 0.5 -18.3 0.4 0 0.5 73.2 0.4 -72.8 0.5 4.7 0.4 54.7 0.5 -56.6 0.4 40.2 0.5 -26.5 0.4 7.5 0.5 49.4 0.4 0.1 0.5 -15.4 0.4 15 0.5 -58.4 0.4 45.1 0.5 -56 0.4 -9.9 0.5 13.8 0.4 65.4 0.5 -46.7 0.4 46.5 0.5 -71.9 0.4 10.2 0.5 -18 0.4 -0.6 0.5 26 0.4 54.1 0.5 0.7 0.4 -1 0.5 -35.5 0.4 -34.9 0.5 7.8 0.4 40.4 0.5 -6.4 0.4 18.4 0.5 10.5 0.4 -65.8 0.5 3 0.4 -1.4 0.5 61.6 0.4 -60.3 0.5 63.7 0.4 -64.2 0.5 63.6 0.4 0.6 0.5 -40.5 0.4 -24.2 0.5 23.4 0.4 8.1 0.5 32.1 0.4 -58.9 0.5 59 0.4 0.9 0.5 -47.4 0.4 47.2 0.5 -64 0.4 19.8 0.5 43.8 0.4 -65.9 0.5 -0.8 0.4 0.1 0.5 37.4 0.4 16.9 0.5 -50.8 0.4 5.8 0.5 57.3 0.4 -0.4 0.5 -58 0.4 2.3 0.5 55.9 0.4 -77.4 0.5 15.1 0.4 -10.7 0.5 19.3 0.4 -24.3 0.5 78.5 0.4 -79.1 0.5 -5.7 0.4 84.1 0.5 0.7 0.4 -0.1 0.5 -0.2 0.4 0.6 0.5 -76.7 0.4 22.6 0.5 -22 0.4 1 0.5 6.8 0.4 -9.4 0.5 77.8 0.4 -76 0.5 75.5 0.4 -76.8 0.5 18.3 0.4 58.4 0.5 -0.1 0.4 -0.4 0.5 -69.9 0.4 70.8 0.5 -79.7 0.4 78.8 0.5 0.6 0.4 -77.9 0.5 -0.3 0.4 43.5 0.5 34.3 0.4 0.1 0.5 -72.9 0.4 73.3 0.5 -52.9 0.4 52.4 0.5 0.7 0.4 -78.8 0.5 10.1 0.4 -11.3 0.5 12.4 0.4 67.5 0.5 -72.6 0.4 -4.9 0.5 51.4 0.4 -24.5 0.5 -28.5 0.4 78.4 0.5 0.4 0.4 0.3 0.5 -0.2 0.4 -85.2 0.5 5.5 0.4 11.1 0.5 -19.3 0.4 87.6 0.5 0.2 0.4 -0.5 0.5 0.4 0.4 0 0.5 -0.2 0.4 0.4 0.5 -85.2 0.4 45.2 0.5 -48.8 0.4 88.3 0.5 0 0.4 0.1 0.5 -87.3 0.4 34.8 0.5 53 0.4 -77.9 0.5 -6 0.4 28.4 0.5 -17 0.4 41.7 0.5 9.3 0.4 2.7 0.5 -67 0.4 6.4 0.5 29.9 0.4 49.8 0.5 -72.2 0.4 -10 0.5 82 0.4 -0.2 0.5 0.5 0.4 -92.7 0.5 67.2 0.4 24.3 0.5 -3.6 0.4 -74.4 0.5 74 0.4 5.2 0.5 -94.3 0.4 22.3 0.5 71.2 0.4 -1.7 0.5 1.9 0.4 -0.2 0.5 -5.4 0.4 6.1 0.5 -6.1 0.4 -77.6 0.5 31.2 0.4 -31.4 0.5 -4.1 0.4 87.6 0.5 -95.2 0.4 95.6 0.5 -0.4 0.4 -56.4 0.5 -34.5 0.4 21.4 0.5 69.2 0.4 0.4 0.5 -92 0.4 0.2 0.5 91.1 0.4 0.6 0.5 0.3 0.4 -82.3 0.5 0.7 0.4 80.8 0.5 0.7 0.4 -80.6 0.5 14 0.4 36.7 0.5 -38.4 0.4 67.9 0.5 0 0.4 -0.1 0.5 -6.2 0.4 -71.8 0.5 51.3 0.4 26.7 0.5 -0.1 0.4 -0.1 0.5 -0.2 0.4 -57.4 0.5 11.1 0.4 1.7 0.5 -29.3 0.4 -2.2 0.5 23.2 0.4 22.2 0.5 -43.1 0.4 31.5 0.5 42.6 0.4 -41.8 0.5 -13 0.4 -19.7 0.5 75 0.4 -0.1 0.5 -73.2 0.4 73 0.5 -49.5 0.4 50.1 0.5 -55.3 0.4 54.6 0.5 -0.3 0.4 -68.6 0.5 69.2 0.4 -11.8 0.5 -49.1 0.4 -11.1 0.5 9.8 0.4 -11.4 0.5 4.2 0.4 1.1 0.5 16.1 0.4 51.7 0.5 -61.2 0.4 -3.7 0.5 64.7 0.4 -56.6 0.5 -17.1 0.4 5 0.5 -2.5 0.4 71.6 0.5 0.4 0.4 -11.8 0.5 -55.9 0.4 2.2 0.5 -4.7 0.4 1.2 0.5 68.8 0.4 -65.4 0.5 65.9 0.4 -0.8 0.5 -0.1 0.4 -65.3 0.5 8.3 0.4 1.6 0.5 56 0.4 -50.9 0.5 -8.5 0.4 58.9 0.5 -63.8 0.4 1.2 0.5 58 0.4 -70.9 0.5 76.2 0.4 -78 0.5 52.9 0.4 -55.2 0.5 79.4 0.4 -67.3 0.5 37.2 0.4 -27.4 0.5 57.4 0.4 -85 0.5 4.8 0.4 81.2 0.5 -73.4 0.4 72.6 0.5 -77.7 0.4 78.3 0.5 -81.3 0.4 80.8 0.5 -0.2 0.4 -74.3 0.5 -3.3 0.4 77.8 0.5 0.8 0.4 -86.3 0.5 15.4 0.4 -9.2 0.5 -11 0.4 90.5 0.5 -28 0.4 -37.2 0.5 -8.3 0.4 73.6 0.5 0.6 0.4 -58 0.5 56.9 0.4 0.9 0.5 -0.5 0.4 0.5 0.5 -14.1 0.4 -47.8 0.5 -8.2 0.4 6.8 0.5 -10.9 0.4 74.1 0.5 -0.5 0.4 -66.2 0.5 5.7 0.4 60.6 0.5 -69.6 0.4 13 0.5 31.5 0.4 25.7 0.5 -75.8 0.4 75.9 0.5 -1.2 0.4 -68.5 0.5 69.1 0.4 -78.9 0.5 79.4 0.4 -0.4 0.5 -1.5 0.4 1 0.5 0.4 0.4 -46.1 0.5 -38.1 0.4 83.6 0.5 -71.7 0.4 72.8 0.5 -65.8 0.4 64.9 0.5 0.3 0.4 -40 0.5 -20.4 0.4 -11.9 0.5 -1.7 0.4 74 0.5 -0.1 0.4 0.7 0.5 -0.5 0.4 -72.1 0.5 71.7 0.4 -34.4 0.5 10 0.4 24.4 0.5 0.8 0.4 -69.6 0.5 50.3 0.4 -32.1 0.5 -20 0.4 71.2 0.5 0 0.4 0 0.5 -0.7 0.4 0.7 0.5 -31.3 0.4 -30.3 0.5 -0.1 0.4 -7.2 0.5 9.2 0.4 59.5 0.5 -14.3 0.4 14.4 0.5 -0.2 0.4 -23.6 0.5 24.3 0.4 -0.5 0.5 0.4 0.4 -0.1 0.5 -62.9 0.4 37.9 0.5 25 0.4 -10.2 0.5 -51.8 0.4 14.3 0.5 -19.7 0.4 -7 0.5 6.1 0.4 67.5 0.5 -65.3 0.4 -2.5 0.5 68.5 0.4 -0.4 0.5 -75.4 0.4 14.8 0.5 60.2 0.4 0.1 0.5 0.4 0.4 -0.2 0.5 -64.8 0.4 -6.5 0.5 71.4 0.4 -70.1 0.5 70.4 0.4 -72.3 0.5 72.5 0.4 -0.5 0.5 0.2 0.4 -0.2 0.5 -29.3 0.4 -30.9 0.5 60.5 0.4 -64.5 0.5 24.1 0.4 35.7 0.5 4.2 0.4 -64.6 0.5 -4.5 0.4 69.3 0.5 -56.7 0.4 56.4 0.5 -60.7 0.4 -13.5 0.5 9.5 0.4 18.6 0.5 -3.2 0.4 50.2 0.5 -67.7 0.4 20.2 0.5 47.1 0.4 -0.2 0.5 -66.6 0.4 66.4 0.5 0.8 0.4 -0.8 0.5 -40.8 0.4 -30.5 0.5 71.3 0.4 -65.6 0.5 -1.1 0.4 -5.2 0.5 0.7 0.4 71.1 0.5 -0.5 0.4 -0.4 0.5 1.4 0.4 0.4 0.5 -0.1 0.4 -0.1 0.5 -1.5 0.4 1.4 0.5 -0.2 0.4 -0.3 0.5 -0.1 0.4 -54 0.5 -21.8 0.4 4.2 0.5 71.7 0.4 -77.1 0.5 77.3 0.4 -71.7 0.5 27.7 0.4 -30.2 0.5 2.8 0.4 20.5 0.5 -10.8 0.4 -0.4 0.5 61.8 0.4 -76.6 0.5 19.7 0.4 56.9 0.5 0.6 0.4 -74.9 0.5 74.5 0.4 -70 0.5 -2.6 0.4 72.5 0.5 -0.3 0.4 0.8 0.5 -0.3 0.4 0.6 0.5 -66.4 0.4 32.7 0.5 -31.9 0.4 -8.4 0.5 47.4 0.4 -26.7 0.5 52.7 0.4 -37.6 0.5 37.8 0.4 -87.5 0.5 87.1 0.4 -90.3 0.5 -16.4 0.4 10.4 0.5 58.6 0.4 -65.8 0.5 4.3 0.4 -4.3 0.5 8.1 0.4 -5 0.5 -3.3 0.4 1.2 0.5 3.5 0.4 -1.2 0.5 8.6 0.4 45.6 0.5 -51.3 0.4 1.4 0.5 1.7 0.4 -7.7 0.5 15.1 0.4 -12.6 0.5 2 0.4 5.9 0.5 54.8 0.4 -28.7 0.5 -2.5 0.4 19.1 0.5 -10.4 0.4 59.6 0.5 -0.1 0.4 -51.5 0.5 51.4 0.4 -29.3 0.5 29.7 0.4 -65.8 0.5 1.7 0.4 -2 0.5 -8.8 0.4 11.1 0.5 63.5 0.4 -46.3 0.5 -26.7 0.4 1.5 0.5 1.1 0.4 -2.9 0.5 72.8 0.4 -45.2 0.5 -12.4 0.4 -5 0.5 35.4 0.4 27.5 0.5 0.4 0.4 -0.7 0.5 -58.7 0.4 27.9 0.5 -9.9 0.4 41.8 0.5 -55.2 0.4 -4.2 0.5 59.4 0.4 -69.9 0.5 68.9 0.4 -64.3 0.5 57.4 0.4 -63.7 0.5 71.5 0.4 0.1 0.5 -19.8 0.4 19.2 0.5 0.3 0.4 0 0.5 -0.1 0.4 -67 0.5 -8.9 0.4 6.8 0.5 -0.3 0.4 -3.7 0.5 1.8 0.4 0.2 0.5 3.1 0.4 24.6 0.5 43 0.4 -65.7 0.5 8.9 0.4 -12.5 0.5 13.2 0.4 -11.4 0.5 13 0.4 -0.2 0.5 39.6 0.4 -30.8 0.5 -17.7 0.4 22.6 0.5 41.1 0.4 -68.4 0.5 1.5 0.4 1.4 0.5 65.3 0.4 -71.3 0.5 71.2 0.4 -71.3 0.5 48.1 0.4 23.8 0.5 -67 0.4 45.7 0.5 20.6 0.4 -59.8 0.5 60.1 0.4 0.1 0.5 -54.1 0.4 -5.9 0.5 -5.6 0.4 66.1 0.5 -0.8 0.4 -54.4 0.5 -9.3 0.4 5.3 0.5 59.2 0.4 -0.9 0.5 0.9 0.4 -0.5 0.5 -44.6 0.4 -23.2 0.5 67.7 0.4 -45.4 0.5 -25.2 0.4 1.5 0.5 -2.3 0.4 2.7 0.5 15.7 0.4 53.6 0.5 -0.4 0.4 -32.8 0.5 32.4 0.4 -60.6 0.5 61.5 0.4 -59.9 0.5 -2.1 0.4 13 0.5 48.8 0.4 -51.9 0.5 24.5 0.4 -32.2 0.5 59 0.5 0.6 0.4 -15.3 0.4 14.5 0.5 -43.1 0.5 -13.8 0.4 57.8 0.5 -7.4 0.4 -40.5 0.5 47.4 0.4 -0.4 0.5 -49.1 0.4 49.2 0.5 -23.2 0.4 1 0.5 22.5 0.4 -65.7 0.5 -4 0.4 2.1 0.5 10.3 0.4 57.1 0.5 0.4 0.4 -0.4 0.5 -54.8 0.4 -7.1 0.5 14.7 0.4 13.4 0.5 -24.2 0.4 -5.5 0.5 6 0.4 57.8 0.5 -0.4 0.4 -56.5 0.5 27.4 0.4 29.8 0.5 -0.1 0.4 -63.3 0.5 50.2 0.4 -51.5 0.5 3.6 0.4 -9.3 0.5 4.6 0.1 -4.2 0.3 10.8 0.3 -12.5 0.3 11.8 0.3 -22.1 0.3 21.8 0.3 -19.5 0.3 27.1 0.3 -21.2 0.3 17.1 0.3 -16.6 0.3 7.7 0.3 -10.1 0.3 15.2 0.3 -19.1 0.3 15.2 0.3 -18 0.3 5.4 0.3 -7 0.3 9.4 0.3 -17.4 0.3 8 0.3 -14.5 0.3 20.1 0.3 -3.3 0.3 2.6 0.3 -10.8 0.3 15.5 0.3 -24.3 0.3 16.4 0.3 -17.7 0.3 14.3 0.3 -18.4 0.3 9.4 0.3 -20.1 0.3 10.1 0.3 0.5 0.3 5.4 0.3 -9.5 0.3 2.8 0.3 -10.8 0.3 12.8 0.3 -9 0.3 11.8 0.3 -18.9 0.3 9.3 0.3 -9.8 0.3 11.7 0.3 -10 0.3 8.8 0.3 -5.4 0.3 6.7 0.3 -0.3 0.3 12 0.3 -11.4 0.3 7.5 0.3 -5.1 0.3 13.9 0.3 -2.9 0.3 15.7 0.3 -19.6 0.3 18 0.3 -7.9 0.3 1.6 0.3 -5.5 0.3 6.6 0.3 -9.1 0.3 9.2 0.3 -10.9 0.3 9.6 0.3 -16.9 0.3 13.9 0.3 -16.1 0.3 -2.3 0.3 -12.8 0.3 5.5 0.3 1.4 0.3 12.1 0.3 -1.6 0.3 4.3 0.3 -12.5 0.3 11.8 0.3 -6.9 0.3 8.8 0.3 -14.1 0.3 10.6 0.3 -4.1 0.3 1.5 0.3 -6.7 0.3 7.7 0.3 -0.7 0.3 14.4 0.3 -24.1 0.3 14.2 0.3 -2.3 0.3 11.1 0.3 -18.7 0.3 19.9 0.3 -26.9 0.3 0.5 0.3 -7.1 0.3 16 0.3 -13.8 0.3 12.8 0.3 -9.1 0.3 9.6 0.3 -7.5 0.3 19.9 0.3 -2.2 0.3 -2 0.3 -2 0.3 13.6 0.3 2.1 0.3 1.1 0.3 -5.4 0.3 12.1 0.3 -5 0.3 -3.1 0.3 -5.6 0.3 14.9 0.3 -6.2 0.3 13 0.3 -17.3 0.3 7.1 0.3 -14 0.3 2.5 0.3 -11.6 0.3 10.2 0.3 -0.8 0.3 11.2 0.3 -3 0.3 7.4 0.3 -11.6 0.3 5.5 0.3 -12 0.3 17.8 0.3 -3.7 0.3 4.3 0.3 -22.4 0.3 15.7 0.3 -3.7 0.3 12.6 0.3 -19.5 0.3 17 0.3 -26.4 0.3 9.9 0.3 -10.3 0.3 29.4 0.3 -24.2 0.3 17.8 0.3 -22.9 0.3 17.3 0.3 -14 0.3 6.1 0.3 -17.1 0.3 14.9 0.3 -16.4 0.3 6.2 0.3 -5.8 0.3 9.6 0.3 -13.4 0.3 17.2 0.3 -10.3 0.3 7.2 0.3 -8.2 0.3 8.1 0.3 -2.7 0.3 4.1 0.3 -7 0.3 6.9 0.3 4.8 0.3 5.5 0.3 -5.5 0.3 10.1 0.3 -6.5 0.3 3.1 0.3 -9 0.3 13.4 0.3 -4.2 0.3 11.8 0.3 -5.4 0.3 4.8 0.3 -3.4 0.3 6.6 0.3 -3.8 0.3 6.2 0.3 -4.4 0.3 0.7 0.3 -1.3 0.3 0.5 0.3 -5.4 0.3 12.3 0.3 -3 0.3 5.1 0.3 -5.3 0.3 3.1 0.3 -2.9 -0.1 73.8 0.4 -73.8 0 1.1 0.3 -15.3 0.3 23.7 0.3 -33.8 0.3 7.3 0.3 -12.3 0.3 5 0.3 -3.9 0.3 32.8 0.3 -21.9 0.3 21 0.3 -13.2 0.3 18.2 0.3 -17.5 0.3 8.3 0.3 -39.6 0.3 27.1 0.3 -24.6 0.1 111.4 0.4 -111.4 -0.2 34.2 0.3 -26 0.3 15.3 0.3 -7.5 0.3 30.7 0.3 -18.8 0.3 10.4 0.3 -12.3 0.3 19.1 0.3 -21.5 0.3 18.4 0.3 -32.7 0.3 22.3 0.3 -14.6 0.3 12.2 0.3 -5.3 0.3 8.7 0.3 -14.1 0.3 11.2 0.3 -21 0.3 15.8 0.3 -13.2 0.3 4.3 0.3 -8.3 0.3 11.2 0.3 -6 0.3 11.3 0.3 -8.3 0.3 7.3 0.3 -4.2 0.3 -2.1 0.3 -8.2 0.3 7.5 0.3 0.5 0.3 -0.7 0 95.8 0.4 -95.8 -0.1 1.8 0.3 6.8 0.3 12.1 0.3 4.7 0.3 -13 0.3 8.5 0.3 -17 0.3 12.3 0.3 -17.4 0.3 7.7 0.3 1.8 0.3 11.2 0.3 -10 0.3 7.8 0.3 -11.6 0.3 4.2 0.3 -6.1 0.3 -0.8 0.3 -12.9 0.3 9.3 0.3 -5.2 0.1 89.9 0.4 -89.9 -0.2 -4.7 0.3 -2.3 0.3 16.6 0.3 -13.9 0.3 8.6 0.3 -7 0.3 7 0.3 -1.3 0.3 -1.2 0.3 -7.5 0.3 13.1 0.3 1.9 0.3 4.7 0.3 -16.2 0.3 6.3 0.3 -3.5 0.3 0.1 0.3 -9.5 0.3 9.6 0.3 -15.3 0.3 14.9 0.3 -14.9 0.3 19.6 0.3 -0.8 0.3 13.7 0.3 -4.7 0.3 17.1 0.3 -24.7 0.3 21.5 0.3 -25.8 0.3 15.4 0.3 -18.7 0.3 7 0.3 -25.3 0.3 8.6 0.3 -12.4 0.3 4.8 0.3 -6.4 0.3 4.5 0.3 -8.9 0.3 7.5 0.3 -4.7 0.3 13.5 0.3 -15.3 0.3 9.3 0.3 -9.9 0.3 7.7 0.3 -7.9 0.3 0.8 0.3 -4 0.3 1.5 0.3 -7.3 0.3 6.1 0.3 -4.6 0.3 3.7 0.3 -3.2 0.3 7.1 0.3 -5.4 0.3 5.5 0.3 -1.2 0.3 -0.3 0.3 -7.7 0.3 8.8 0.3 -6.7 0.3 4.1 0.3 -7.3 0.3 8 0.3 -9 0.3 5.9 0.3 -11.7 0.3 11.8 0.3 -12.8 0.3 12.5 0.3 -7.6 0.3 4.4 0.3 -6.9 0.3 5.9 0.3 -8.2 0.3 8.7 0.3 -4.9 0.3 4.1 0.3 -10.2 0.3 8.4 0.3 -12.9 0.3 10 0.3 -4.4 0.3 10.1 0.3 -11.8 0.3 10.5 0.3 -5.3 0.3 7 0.3 -4.1 0.3 2 0.3 -2.8 0.3 4.7 0.3 -5.6 0.3 6.1 0.3 -12.8 0.3 11.7 0.3 -4.6 0.3 6 0.3 -6.7 0.3 6.6 0.3 -5.2 0.3 1.1 0.3 -5.9 0.3 10.2 0.3 -6.1 0.3 7.2 0.3 -5.6 0.3 2.6 0.3 -0.7 0.3 0.2 0.3 -5 0.3 5.1 0.3 -0.7 0.3 10.7 0.3 -5.8 0.3 7.4 0.3 -8.3 0.3 6.9 0.3 -5.8 0.3 9.8 0.3 -5.7 0.3 4.6 0.3 -5.1 0.3 4.9 0.3 -5.4 0.3 5 0.3 -7.6 0.3 7.4 0.3 -3.6 0.3 2.6 0.3 -3.5 0.3 5.6 0.3 -4.8 0.3 4.5 0.3 -5.9 0.3 3.8 0.3 -5.6 0.3 4.9 0.3 -7.1 0.3 7.8 0.3 -6.5 0.3 1.3 0.3 -1.7 0.3 3.5 0.3 4.4 0.3 -4.6 0.3 -2 0.3 4.1 0.3 -3.7 0.3 3.2 0.3 -0.3 0.3 4.5 0.3 -3.1 0.3 0.8 0.3 -2.9 0.3 7.8 0.3 -5.8 0.3 8.6 0.3 -7.9 0.3 1.7 0.3 -4.5 0.3 7.6 0.3 -4.5 0.3 3.1 0.3 -2.1 0.3 5.2 0.3 -7.1 0.3 7.3 0.3 -4.7 0.3 5.7 0.3 -4.3 0.3 11.3 0.3 -9.5 0.3 9.6 0.3 -5.4 0.3 6.3 0.3 -4.3 0.3 4.6 0.3 -3.5 0.3 4.4 0.3 -9.6 0.3 2.9 0.3 -7.7 0.3 4 0.3 -1.4 0.3 9.5 0.3 -1.9 0.3 0.9 0.3 -5.2 0.3 12.7 0.3 -2.9 0.3 1.6 0.3 -10.6 0.3 10.3 0.3 -6.5 0.1 117.8 0.4 -117.8 -0.2 0.2 0.3 -9.4 0.3 5.6 0.3 -3.6 -0.1 125 0.4 -125 0 4.5 0.3 -4.5 0.3 17.5 0 107.5 0.4 -107.5 -0.1 -6.6 0.3 3.1 0.3 -4 0.1 115 0.4 -115 -0.2 7.7 0.3 -3.3 0.3 5.2 0.3 -5.1 -0.1 110.5 0.4 -110.5 0 3.4 0.3 -1.4 0.3 1.3 0.3 -1.8 0.3 4.7 0.3 -3.7 0.3 2.7 0.3 -3.8 0.3 2.9 0.3 -4.9 0.3 4.1 0.3 -5.8 0.3 0.1 0.3 -8.4 0.3 8.4 0.3 -11 0.3 6.6 0.3 -5.2 0.3 3.4 0.3 -2.8 0.3 5.4 0.3 -6.5 0.3 3.6 0.3 -3.3 0.3 7.8 0.3 -9.8 0.3 6.3 0.3 -4.9 0.3 4.3 0.3 -4.9 0.3 12 0.3 -13.2 0.3 18.8 0.3 -12.1 0.3 4.4 0.3 -6.6 0.3 12.6 0.3 -8.5 0.3 12.1 0.3 -8.6 0.3 6.8 0.3 -13.9 0.3 10.9 0.3 -13.6 0.3 10.4 0.3 -11.7 0.3 8.7 0.3 -7 0.3 11.1 0.3 -11.8 0.3 13.8 0.3 -9.1 0.3 6.6 0.3 -8.7 0.3 11.6 0.3 -9.8 0.3 8.7 0.3 -5.5 0.3 8.1 0.3 -5.8 0.3 2.7 0.3 -10.2 0.3 5.4 0.3 -4.3 0.3 -1.5 0.3 2.5 0.3 -0.2 0.3 -4 0.3 7.4 0.3 -5.5 0.3 6.9 0.3 -6.1 0.3 9.2 0.3 -4.7 0.3 3.8 0.3 -5.2 0.3 4 0.3 -4.6 0.3 2.9 0.3 1.1 0.3 3.5 0.3 -6.5 0.3 5 0.3 -5.6 0.3 0.6 0.3 -5.8 0.3 4 0.3 -2.6 0.3 2.2 0.3 -8.2 0.3 7.5 0.3 -6.9 0.3 5.8 0.3 -3.4 0.3 3.8 0.3 -6.1 0.3 3.1 0.3 -6.2 0.3 5.8 0.3 -10.9 0.3 12.4 0.3 -11.8 0.3 8.1 0.3 -5.3 0.3 2 0.3 -9.3 0.3 5.3 0.3 -4.1 0.3 6 0.3 -5.6 0.3 4.8 0.3 -5.8 0.3 2.3 0.3 2.1 0.3 -4 0.3 -4.5 0.3 4.5 0.3 -5.7 0.3 5.3 0.3 -4 0.3 2.4 0.3 -3.6 0.3 4.2 0.3 -4.9 0.3 6.2 0.3 -8.6 0.3 2.9 0.3 -3.6 0.3 5.1 0.3 -7.9 0.3 6.9 0.3 -7.1 0.3 5.8 0.3 -4.4 0.3 4.6 0.3 -8.2 0.3 5.3 0.3 -4.4 0.3 5.4 0.3 -5.7 0.3 5.1 0.3 -7.6 0.3 5.5 0.3 -5.2 0.3 5.7 0.3 -5.3 0.3 8.6 0.3 -5.9 0.3 5 0.3 -3.1 0.3 2.9 0.3 -3.6 0.3 3.4 0.3 -5.7 0.3 1.8 0.3 -2.9 0.3 5.7 0.3 -6.6 0.3 4.2 0.3 -6.7 0.3 5.2 0.3 -4.7 0.3 8.2 0.3 -7.1 0.3 4.6 0.3 -6.2 0.3 6.2 0.3 -6.8 0.3 10.5 0.3 -7.4 0.3 3.3 0.3 -4.6 0.3 4.4 0.3 -4 0.3 2.7 0.3 -4.8 0.3 6.4 0.3 -1.3 0.3 4.2 0.3 -4.1 0.3 1.9 0.3 -5.2 0.3 5.2 0.3 -8.5 0.3 6.5 0.3 -4.1 0.3 4.1 0.3 -3.8 0.3 3.5 0.3 -2.8 0.3 4.9 0.3 -5.3 0.3 4.6 0.3 -2.5 0.3 3.2 0.3 -3.8 0.3 4.4 0.3 -2.4 0.3 6.3 0.3 -2.1 0.3 5.6 0.3 -4.7 0.3 5.5 0.3 -2.5 0.3 4 0.3 -4.1 0.3 5.6 0.3 -4.4 0 18.3 0.4 -18.3 -0.1 5.2 0.3 -2.8 0.3 1.7 0.3 -2.3 0.3 2.8 0.3 -3.6 0.3 5.3 0.3 -6.8 0.3 5.2 0.3 -5.9 0.3 2.9 0.3 -3.6 0.3 1.8 0.3 -6.6 0.3 5.3 0.3 -2.8 0.3 3.8 0.3 -1.2 0.3 3.2 0.3 -5 0.3 4.1 0.3 -4 0.3 3.1 0.3 -3.2 0.3 4.2 0.3 -4.7 0.3 0.7 0.3 -2 0.3 4.9 0.3 -2.4 0.3 3.6 0.3 -3.5" fill="none" stroke="#000" stroke-width="2.1" stroke-linejoin="bevel"/></g><path d="M198.96 478.00H915.04M198.96 822.00H915.04M200.00 478.00V822.00" stroke="#000" stroke-width="2.08" fill="none"/><path d="M914.00 478.00V822.00" stroke="#000" stroke-width="2.08" fill="none"/><path d="M200.00 822.00h5.50M200.00 764.67h5.50M200.00 707.33h5.50M200.00 650.00h5.50M200.00 592.67h5.50M200.00 535.33h5.50M200.00 478.00h5.50" stroke="#000" stroke-width="1.1" fill="none"/><path d="M914.00 822.00h-5.50M914.00 764.67h-5.50M914.00 707.33h-5.50M914.00 650.00h-5.50M914.00 592.67h-5.50M914.00 535.33h-5.50M914.00 478.00h-5.50" stroke="#000" stroke-width="1.1" fill="none"/><path d="M200.00 804.74h3.00M200.00 794.65h3.00M200.00 787.48h3.00M200.00 781.93h3.00M200.00 777.39h3.00M200.00 773.55h3.00M200.00 770.22h3.00M200.00 767.29h3.00M200.00 747.41h3.00M200.00 737.31h3.00M200.00 730.15h3.00M200.00 724.59h3.00M200.00 720.05h3.00M200.00 716.21h3.00M200.00 712.89h3.00M200.00 709.96h3.00M200.00 690.07h3.00M200.00 679.98h3.00M200.00 672.82h3.00M200.00 667.26h3.00M200.00 662.72h3.00M200.00 658.88h3.00M200.00 655.56h3.00M200.00 652.62h3.00M200.00 632.74h3.00M200.00 622.65h3.00M200.00 615.48h3.00M200.00 609.93h3.00M200.00 605.39h3.00M200.00 601.55h3.00M200.00 598.22h3.00M200.00 595.29h3.00M200.00 575.41h3.00M200.00 565.31h3.00M200.00 558.15h3.00M200.00 552.59h3.00M200.00 548.05h3.00M200.00 544.21h3.00M200.00 540.89h3.00M200.00 537.96h3.00M200.00 518.07h3.00M200.00 507.98h3.00M200.00 500.82h3.00M200.00 495.26h3.00M200.00 490.72h3.00M200.00 486.88h3.00M200.00 483.56h3.00M200.00 480.62h3.00" stroke="#000" stroke-width="0.85" fill="none"/><path d="M914.00 804.74h-3.00M914.00 794.65h-3.00M914.00 787.48h-3.00M914.00 781.93h-3.00M914.00 777.39h-3.00M914.00 773.55h-3.00M914.00 770.22h-3.00M914.00 767.29h-3.00M914.00 747.41h-3.00M914.00 737.31h-3.00M914.00 730.15h-3.00M914.00 724.59h-3.00M914.00 720.05h-3.00M914.00 716.21h-3.00M914.00 712.89h-3.00M914.00 709.96h-3.00M914.00 690.07h-3.00M914.00 679.98h-3.00M914.00 672.82h-3.00M914.00 667.26h-3.00M914.00 662.72h-3.00M914.00 658.88h-3.00M914.00 655.56h-3.00M914.00 652.62h-3.00M914.00 632.74h-3.00M914.00 622.65h-3.00M914.00 615.48h-3.00M914.00 609.93h-3.00M914.00 605.39h-3.00M914.00 601.55h-3.00M914.00 598.22h-3.00M914.00 595.29h-3.00M914.00 575.41h-3.00M914.00 565.31h-3.00M914.00 558.15h-3.00M914.00 552.59h-3.00M914.00 548.05h-3.00M914.00 544.21h-3.00M914.00 540.89h-3.00M914.00 537.96h-3.00M914.00 518.07h-3.00M914.00 507.98h-3.00M914.00 500.82h-3.00M914.00 495.26h-3.00M914.00 490.72h-3.00M914.00 486.88h-3.00M914.00 483.56h-3.00M914.00 480.62h-3.00" stroke="#000" stroke-width="0.85" fill="none"/><path d="M248.50 822.00v-4.00M338.50 822.00v-4.00M427.50 822.00v-4.00M516.50 822.00v-4.00M605.50 822.00v-4.00M695.50 822.00v-4.00M784.50 822.00v-4.00M873.50 822.00v-4.00" stroke="#000" stroke-width="1.1" fill="none"/><text x="161.00" y="829.40" font-size="20.34" textLength="24.09" lengthAdjust="spacingAndGlyphs">10</text><text x="186.07" y="822.50" font-size="14.97" textLength="8.21" lengthAdjust="spacingAndGlyphs">0</text><text x="161.98" y="772.07" font-size="20.34" textLength="24.09" lengthAdjust="spacingAndGlyphs">10</text><text x="186.55" y="765.17" font-size="14.97" textLength="7.84" lengthAdjust="spacingAndGlyphs">1</text><text x="161.57" y="714.73" font-size="20.34" textLength="24.09" lengthAdjust="spacingAndGlyphs">10</text><text x="186.50" y="707.83" font-size="14.97" textLength="7.91" lengthAdjust="spacingAndGlyphs">2</text><text x="161.34" y="657.40" font-size="20.34" textLength="24.09" lengthAdjust="spacingAndGlyphs">10</text><text x="186.44" y="650.50" font-size="14.97" textLength="7.88" lengthAdjust="spacingAndGlyphs">3</text><text x="160.62" y="600.07" font-size="20.34" textLength="24.09" lengthAdjust="spacingAndGlyphs">10</text><text x="185.92" y="593.17" font-size="14.97" textLength="8.21" lengthAdjust="spacingAndGlyphs">4</text><text x="161.45" y="542.73" font-size="20.34" textLength="24.09" lengthAdjust="spacingAndGlyphs">10</text><text x="186.54" y="535.83" font-size="14.97" textLength="7.75" lengthAdjust="spacingAndGlyphs">5</text><text x="161.01" y="485.40" font-size="20.34" textLength="24.09" lengthAdjust="spacingAndGlyphs">10</text><text x="185.88" y="478.50" font-size="14.97" textLength="8.49" lengthAdjust="spacingAndGlyphs">6</text><text transform="translate(112.70 789.50) rotate(-90)" x="-1.32" y="0" font-size="25.44" textLength="279.66" lengthAdjust="spacingAndGlyphs">&gt;2.0 MeV Electron Flux</text><text transform="translate(146.00 743.00) rotate(-90)" x="-1.26" y="0" font-size="25.44" textLength="6.76" lengthAdjust="spacingAndGlyphs">(</text><text transform="translate(146.00 728.00) rotate(-90)" x="-1.15" y="0" font-size="25.44" textLength="36.15" lengthAdjust="spacingAndGlyphs">cm</text><text transform="translate(136.00 690.00) rotate(-90)" x="-1.01" y="0" font-size="17.80" textLength="23.34" lengthAdjust="spacingAndGlyphs">−2</text><text transform="translate(146.00 661.00) rotate(-90)" x="-0.64" y="0" font-size="25.44" textLength="11.50" lengthAdjust="spacingAndGlyphs">s</text><text transform="translate(136.00 647.70) rotate(-90)" x="-1.01" y="0" font-size="17.80" textLength="23.45" lengthAdjust="spacingAndGlyphs">−1</text><text transform="translate(146.00 619.00) rotate(-90)" x="-0.74" y="0" font-size="25.44" textLength="22.26" lengthAdjust="spacingAndGlyphs">sr</text><text transform="translate(136.00 596.40) rotate(-90)" x="-1.01" y="0" font-size="17.80" textLength="23.45" lengthAdjust="spacingAndGlyphs">−1</text><text transform="translate(146.00 563.08) rotate(-90)" x="-0.12" y="0" font-size="25.44" textLength="6.76" lengthAdjust="spacingAndGlyphs">)</text><text x="235.61" y="511.70" font-size="25.44" textLength="240.75" lengthAdjust="spacingAndGlyphs">Geostationary orbit:</text><text x="499.96" y="511.70" font-size="25.44" textLength="105.52" lengthAdjust="spacingAndGlyphs">GOES 16</text><text x="628.85" y="511.70" font-size="25.44" textLength="71.35" lengthAdjust="spacingAndGlyphs" fill="#ff0000">Model</text><rect x="204" y="966" width="9" height="51.00" fill="#008000" shape-rendering="crispEdges"/><rect x="215" y="966" width="9" height="51.00" fill="#008000" shape-rendering="crispEdges"/><rect x="226" y="979" width="9" height="38.00" fill="#008000" shape-rendering="crispEdges"/><rect x="237" y="998" width="9" height="19.00" fill="#008000" shape-rendering="crispEdges"/><rect x="248" y="973" width="9" height="44.00" fill="#008000" shape-rendering="crispEdges"/><rect x="260" y="979" width="8" height="38.00" fill="#008000" shape-rendering="crispEdges"/><rect x="271" y="998" width="9" height="19.00" fill="#008000" shape-rendering="crispEdges"/><rect x="282" y="998" width="9" height="19.00" fill="#008000" shape-rendering="crispEdges"/><rect x="293" y="1004" width="9" height="13.00" fill="#008000" shape-rendering="crispEdges"/><rect x="304" y="1012" width="9" height="5.00" fill="#008000" shape-rendering="crispEdges"/><rect x="315" y="1004" width="9" height="13.00" fill="#008000" shape-rendering="crispEdges"/><rect x="326" y="1004" width="9" height="13.00" fill="#008000" shape-rendering="crispEdges"/><rect x="338" y="1004" width="9" height="13.00" fill="#008000" shape-rendering="crispEdges"/><rect x="349" y="998" width="9" height="19.00" fill="#008000" shape-rendering="crispEdges"/><rect x="371" y="1012" width="9" height="5.00" fill="#008000" shape-rendering="crispEdges"/><rect x="393" y="973" width="9" height="44.00" fill="#008000" shape-rendering="crispEdges"/><rect x="405" y="947" width="8" height="70.00" fill="#bfbf00" shape-rendering="crispEdges"/><rect x="416" y="960" width="9" height="57.00" fill="#bfbf00" shape-rendering="crispEdges"/><rect x="427" y="960" width="9" height="57.00" fill="#bfbf00" shape-rendering="crispEdges"/><rect x="438" y="985" width="9" height="32.00" fill="#008000" shape-rendering="crispEdges"/><rect x="449" y="998" width="9" height="19.00" fill="#008000" shape-rendering="crispEdges"/><rect x="460" y="998" width="9" height="19.00" fill="#008000" shape-rendering="crispEdges"/><rect x="471" y="992" width="9" height="25.00" fill="#008000" shape-rendering="crispEdges"/><rect x="483" y="973" width="9" height="44.00" fill="#008000" shape-rendering="crispEdges"/><rect x="494" y="992" width="9" height="25.00" fill="#008000" shape-rendering="crispEdges"/><rect x="505" y="979" width="9" height="38.00" fill="#008000" shape-rendering="crispEdges"/><rect x="516" y="960" width="9" height="57.00" fill="#bfbf00" shape-rendering="crispEdges"/><rect x="527" y="941" width="9" height="76.00" fill="#bfbf00" shape-rendering="crispEdges"/><rect x="538" y="928" width="9" height="89.00" fill="#bfbf00" shape-rendering="crispEdges"/><rect x="550" y="934" width="9" height="83.00" fill="#bfbf00" shape-rendering="crispEdges"/><rect x="561" y="928" width="9" height="89.00" fill="#bfbf00" shape-rendering="crispEdges"/><rect x="572" y="966" width="9" height="51.00" fill="#008000" shape-rendering="crispEdges"/><rect x="583" y="947" width="9" height="70.00" fill="#bfbf00" shape-rendering="crispEdges"/><rect x="594" y="941" width="9" height="76.00" fill="#bfbf00" shape-rendering="crispEdges"/><rect x="605" y="953" width="9" height="64.00" fill="#bfbf00" shape-rendering="crispEdges"/><rect x="617" y="947" width="8" height="70.00" fill="#bfbf00" shape-rendering="crispEdges"/><rect x="628" y="947" width="9" height="70.00" fill="#bfbf00" shape-rendering="crispEdges"/><rect x="639" y="947" width="9" height="70.00" fill="#bfbf00" shape-rendering="crispEdges"/><rect x="650" y="947" width="9" height="70.00" fill="#bfbf00" shape-rendering="crispEdges"/><rect x="661" y="960" width="9" height="57.00" fill="#bfbf00" shape-rendering="crispEdges"/><rect x="672" y="966" width="9" height="51.00" fill="#008000" shape-rendering="crispEdges"/><rect x="683" y="953" width="9" height="64.00" fill="#bfbf00" shape-rendering="crispEdges"/><rect x="695" y="966" width="9" height="51.00" fill="#008000" shape-rendering="crispEdges"/><rect x="706" y="953" width="9" height="64.00" fill="#bfbf00" shape-rendering="crispEdges"/><rect x="717" y="960" width="9" height="57.00" fill="#bfbf00" shape-rendering="crispEdges"/><rect x="728" y="960" width="9" height="57.00" fill="#bfbf00" shape-rendering="crispEdges"/><rect x="739" y="953" width="9" height="64.00" fill="#bfbf00" shape-rendering="crispEdges"/><rect x="750" y="941" width="9" height="76.00" fill="#bfbf00" shape-rendering="crispEdges"/><rect x="762" y="966" width="8" height="51.00" fill="#008000" shape-rendering="crispEdges"/><rect x="773" y="960" width="9" height="57.00" fill="#bfbf00" shape-rendering="crispEdges"/><rect x="784" y="966" width="9" height="51.00" fill="#008000" shape-rendering="crispEdges"/><rect x="795" y="960" width="9" height="57.00" fill="#bfbf00" shape-rendering="crispEdges"/><rect x="806" y="960" width="9" height="57.00" fill="#bfbf00" shape-rendering="crispEdges"/><rect x="817" y="979" width="9" height="38.00" fill="#008000" shape-rendering="crispEdges"/><rect x="828" y="979" width="9" height="38.00" fill="#008000" shape-rendering="crispEdges"/><rect x="840" y="979" width="9" height="38.00" fill="#008000" shape-rendering="crispEdges"/><rect x="851" y="979" width="9" height="38.00" fill="#008000" shape-rendering="crispEdges"/><rect x="862" y="979" width="9" height="38.00" fill="#008000" shape-rendering="crispEdges"/><rect x="873" y="979" width="9" height="38.00" fill="#008000" shape-rendering="crispEdges"/><rect x="884" y="979" width="9" height="38.00" fill="#008000" shape-rendering="crispEdges"/><rect x="895" y="979" width="9" height="38.00" fill="#008000" shape-rendering="crispEdges"/><rect x="207.8" y="852.8" width="99.6" height="66.5" rx="3" ry="3" fill="#fff" fill-opacity="0.8" stroke="#cccccc" stroke-width="1"/><rect x="212.9" y="859.00" width="28.2" height="10.9" fill="#008000"/><text x="251.60" y="868.90" font-size="13.95" textLength="37.43" lengthAdjust="spacingAndGlyphs">Kp&lt;3</text><rect x="212.9" y="880.00" width="28.2" height="10.9" fill="#bfbf00"/><text x="251.61" y="889.90" font-size="13.95" textLength="37.29" lengthAdjust="spacingAndGlyphs">Kp&lt;5</text><rect x="212.9" y="901.00" width="28.2" height="10.9" fill="#ff0000"/><text x="251.54" y="910.90" font-size="13.95" textLength="48.87" lengthAdjust="spacingAndGlyphs">Kp&gt;=5</text><path d="M825.4 846.3V1017.0" stroke="#000" stroke-width="2.78" stroke-dasharray="2.78 4.58"/><text transform="translate(875.30 1005.30) rotate(-90)" x="-2.88" y="0" font-size="34.45" textLength="136.69" lengthAdjust="spacingAndGlyphs" fill-opacity="0.2">Forecast</text><path d="M198.96 845.30H915.04M198.96 1017.00H915.04M200.00 845.30V1017.00" stroke="#000" stroke-width="2.08" fill="none"/><path d="M914.00 845.30V1017.00" stroke="#000" stroke-width="2.08" fill="none"/><path d="M200.00 1017.00h5.50M200.00 978.84h5.50M200.00 940.69h5.50M200.00 902.53h5.50M200.00 864.38h5.50" stroke="#000" stroke-width="1.1" fill="none"/><path d="M914.00 1017.00h-5.50M914.00 978.84h-5.50M914.00 940.69h-5.50M914.00 902.53h-5.50M914.00 864.38h-5.50" stroke="#000" stroke-width="1.1" fill="none"/><path d="M248.50 1017.00v-4.00M338.50 1017.00v-4.00M427.50 1017.00v-4.00M516.50 1017.00v-4.00M605.50 1017.00v-4.00M695.50 1017.00v-4.00M784.50 1017.00v-4.00M873.50 1017.00v-4.00" stroke="#000" stroke-width="1.1" fill="none"/><text x="183.26" y="1024.70" font-size="20.34" textLength="11.55" lengthAdjust="spacingAndGlyphs">0</text><text x="183.87" y="986.54" font-size="20.34" textLength="11.13" lengthAdjust="spacingAndGlyphs">2</text><text x="183.06" y="948.39" font-size="20.34" textLength="11.55" lengthAdjust="spacingAndGlyphs">4</text><text x="182.99" y="910.23" font-size="20.34" textLength="11.95" lengthAdjust="spacingAndGlyphs">6</text><text x="183.24" y="872.08" font-size="20.34" textLength="11.67" lengthAdjust="spacingAndGlyphs">8</text><text x="236.58" y="1036.90" font-size="20.34" textLength="24.34" lengthAdjust="spacingAndGlyphs">06</text><text x="326.11" y="1036.90" font-size="20.34" textLength="24.01" lengthAdjust="spacingAndGlyphs">07</text><text x="415.24" y="1036.90" font-size="20.34" textLength="24.22" lengthAdjust="spacingAndGlyphs">08</text><text x="504.56" y="1036.90" font-size="20.34" textLength="24.27" lengthAdjust="spacingAndGlyphs">09</text><text x="593.45" y="1036.90" font-size="20.34" textLength="24.09" lengthAdjust="spacingAndGlyphs">10</text><text x="683.03" y="1036.90" font-size="20.34" textLength="23.75" lengthAdjust="spacingAndGlyphs">11</text><text x="772.42" y="1036.90" font-size="20.34" textLength="23.62" lengthAdjust="spacingAndGlyphs">12</text><text x="861.50" y="1036.90" font-size="20.34" textLength="23.91" lengthAdjust="spacingAndGlyphs">13</text><text transform="translate(172.70 948.20) rotate(-90)" x="-2.04" y="0" font-size="25.44" textLength="30.39" lengthAdjust="spacingAndGlyphs">Kp</text><text x="440.21" y="1066.20" font-size="25.44" textLength="233.04" lengthAdjust="spacingAndGlyphs">February 2025 (UT)</text><path d="M1205.0 282.35H1800.0" stroke="#000" stroke-width="2.08" stroke-dasharray="2.08 3.44"/><g clip-path="url(#clipR1)"><path d="M1205.5 226.7l0.3 14.6 0.3 -17.4 0.2 32.8 0.3 0.3 0.3 23.6 0.3 -14.6 0.3 2.4 0.2 -45 0.3 71.6 0.3 -38.2 0.3 31.5 0.3 -4.7 0.2 13.3 0.3 -21.1 0.3 6.9 0.3 -24.8 0.3 28.7 0.2 -38.2 0.3 24.5 0.3 -30.3 0.3 25.9 0.3 -24.8 0.2 16.1 0.3 -34.4 0.3 19 0.3 -27 0.3 39.1 0.2 -38.3 0.3 63.2 0.3 -63.1 0.3 46.4 0.3 -48 0.2 38.6 0.3 -24.8 0.3 67.1 0.3 -70.9 0.3 63.6 0.2 -55.1 0.3 56.2 0.3 -74.2 0.3 41 0.3 20.5 0.2 21.6 0.3 -23.8 0.3 39.9 0.3 -12.4 0.3 22.7 0.2 -23.3 0.3 -50.3 0.3 17.3 0.3 -4.7 0.3 -10.2 0.2 30.1 0.3 -9.5 0.3 16.7 0.3 -0.8 0.3 -14.8 0.2 13 0.3 18.1 0.3 -78.2 0.3 69.4 0.3 -7.2 0.2 -7.6 0.3 -10.2 0.3 20.8 0.3 -12.3 0.3 -9.6 0.2 -2.5 0.3 21.2 0.3 -32 0.3 36.6 0.3 -18.4 0.2 27.7 0.3 -47.6 0.3 18.8 0.3 29.1 0.3 -23.6 0.2 -6.3 0.3 3.8 0.3 -37.4 0.3 -0.3 0.3 -9.3 0.2 17.5 0.3 -15.5 0.3 12.2 0.3 23.2 0.3 19.6 0.2 3.9 0.3 20.6 0.3 -46.5 0.3 27.3 0.3 -6.1 0.2 28.2 0.3 -55.7 0.3 33.3 0.3 -46.9 0.3 56.8 0.2 -74.7 0.3 42.3 0.3 -43.9 0.3 56.3 0.3 -32 0.2 -0.7 0.3 -12.9 0.3 33.7 0.3 -26.9 0.3 18.7 0.2 -36.3 0.3 66.6 0.3 -50.7 0.3 9 0.3 -14.9 0.2 21.7 0.3 -5.4 0.3 50.8 0.3 -69.1 0.3 51.1 0.2 -55.9 0.3 37.7 0.3 -23.1 0.3 2.3 0.3 -15 0.2 31.3 0.3 -24.6 0.3 6.7 0.3 -7.6 0.3 13.4 0.2 -13.5 0.3 11.2 0.3 -9.5 0.3 5.4 0.3 -9 0.2 10.6 0.3 -6.8 0.3 13.1 0.3 -15.2 0.3 26.3 0.2 -24.6 0.3 25 0.3 -26.4 0.3 21.5 0.3 -23.6 0.2 30.1 0.3 -29.9 0.3 28.4 0.3 -27.7 0.3 25.5 0.2 -25.4 0.3 14.4 0.3 -14.9 0.3 29.8 0.3 -30.1 0.2 33 0.3 -34.5 0.3 15 0.3 -7.2 0.3 6.1 0.2 -13.3 0.3 11.8 0.3 -13.1 0.3 18.4 0.3 -17.8 0.2 11.2 0.3 -11 0.3 14 0.3 -14.4 0.3 14.6 0.2 -8.9 0.3 3.1 0.3 -4 0.3 16.5 0.3 -12.2 0.2 26.9 0.3 -38.6 0.3 28.1 0.3 -27.6 0.3 19.6 0.2 -19.2 0.3 17.8 0.3 -18.7 0.3 13.2 0.3 -8.3 0.2 7.7 0.3 -10 0.3 15.8 0.3 -8.9 0.3 24.1 0.2 -17.4 0.3 13.8 0.3 -29.4 0.3 46.3 0.3 -22.5 0.2 23.9 0.3 -44.3 0.3 19.8 0.3 6.1 0.3 6.4 0.2 2 0.3 13.4 0.3 -6 0.3 16.9 0.3 -6.4 0.2 1.1 0.3 -54.2 0.3 50.8 0.3 -33.6 0.3 19.2 0.2 -30.1 0.3 10.9 0.3 -24.1 0.3 15.7 0.3 -15.1 0.2 37.4 0.3 -18.6 0.3 39.5 0.3 -20.3 0.3 11.6 0.2 0.1 0.3 22.9 0.3 -15.1 0.3 14.5 0.3 -7.8 0.2 11.3 0.3 -19.5 0.3 19 0.3 -21.4 0.3 20.6 0.2 -19.9 0.3 20.2 0.3 -20.6 0.3 18.2 0.3 -37.2 0.2 38.2 0.3 -19 0.3 18.4 0.3 -22.3 0.3 22.1 0.2 -30.9 0.3 31 0.3 -24 0.3 23.8 0.3 -29.3 0.2 28.1 0.3 -18.9 0.3 17.6 0.3 -26.2 0.3 26.2 0.2 -17.8 0.3 17.7 0.3 -12.1 0.3 11.3 0.3 -21.2 0.2 22.2 0.3 -29.2 0.3 25.5 0.3 -36.6 0.3 26.4 0.2 -24.8 0.3 36.8 0.3 -11 0.3 9.4 0.3 -23.4 0.2 17.9 0.3 -4.1 0.3 9.5 0.3 -14.2 0.3 13.1 0.2 -13.6 0.3 13.5 0.3 -12.5 0.3 12.4 0.3 -23.5 0.2 23.3 0.3 -27 0.3 24.2 0.3 -22.5 0.3 5.8 0.2 -11.5 0.3 6.6 0.3 -4.6 0.3 9 0.3 -21.1 0.2 21.2 0.3 -28.6 0.3 24 0.3 -10.9 0.3 11.7 0.2 -10.2 0.3 16.8 0.3 -23.9 0.3 21 0.3 -24.2 0.2 23.7 0.3 -34.1 0.3 17.2 0.3 -29.8 0.3 20.7 0.2 -13.6 0.3 34 0.3 -33.7 0.3 5.9 0.3 -10.6 0.2 38.2 0.3 -19 0.3 14.7 0.3 -17.9 0.3 9 0.2 -5.7 0.3 23.5 0.3 -16.6 0.3 10.7 0.3 -13.1 0.2 20.1 0.3 -7.6 0.3 10.3 0.3 1.6 0.3 5.4 0.2 -9 0.3 10.4 0.3 -12.1 0.3 11.8 0.3 -14 0.2 13 0.3 -9.8 0.3 8.6 0.3 -25.7 0.3 12.3 0.2 -18.4 0.3 13.4 0.3 -3 0.3 -2.3 0.3 4.3 0.2 1.1 0.3 -23.6 0.3 21.8 0.3 -20.7 0.3 19.8 0.2 -17.6 0.3 14.1 0.3 -7.4 0.3 12.6 0.3 -17.6 0.2 21.5 0.3 -22.2 0.3 18.5 0.3 -19.7 0.3 20.2 0.2 -18 0.3 22.2 0.3 -22.5 0.3 12.3 0.3 -4.4 0.2 10.1 0.3 -11.9 0.3 10.5 0.3 -16.9 0.3 19.5 0.2 1 0.3 -3.6 0.3 -16.7 0.3 14.3 0.3 -15.3 0.2 12.6 0.3 -13.7 0.3 9.7 0.3 -6.1 0.3 5.4 0.2 -6.2 0.3 10.6 0.3 -7.1 0.3 12.9 0.3 -2.3 0.2 7.4 0.3 -10.9 0.3 4.2 0.3 -2 0.3 7.3 0.2 -7.5 0.3 0.4 0.3 -10.8 0.3 17.4 0.3 -4.7 0.2 24.4 0.3 -27.1 0.3 3.4 0.3 -18.3 0.3 24.7 0.2 -17.1 0.3 21 0.3 -24.7 0.3 16.2 0.3 -13 0.2 15.6 0.3 -20.2 0.3 15.1 0.3 -11.8 0.3 22.5 0.2 -19.4 0.3 19.1 0.3 -14 0.3 31.4 0.3 -15 0.2 16 0.3 -17.9 0.3 2.8 0.3 -17.8 0.3 3.2 0.2 2.6 0.3 13.2 0.3 -15 0.3 8.4 0.3 -16.3 0.2 15 0.3 -13.1 0.3 19.5 0.3 -19.6 0.3 17.3 0.2 -17.2 0.3 17.9 0.3 -7.7 0.3 12.7 0.3 -13.6 0.2 22.8 0.3 -13.9 0.3 8 0.3 -8.4 0.3 5.7 0.2 -25.4 0.3 5.2 0.3 -9.7 0.3 14.1 0.3 -15.6 0.2 20.2 0.3 -16.4 0.3 40 0.3 -16 0.3 -5.5 0.2 -7.2 0.3 13.9 0.3 -11.2 0.3 16.9 0.3 -18.9 0.2 27.3 0.3 -35.8 0.3 46.9 0.3 -7.8 0.3 7.4 0.2 -6.3 0.3 4.3 0.3 -5.7 0.3 3.5 0.3 -4.6 0.2 5.7 0.3 -8 0.3 3.3 0.3 -12.6 0.3 8.7 0.2 -11.4 0.3 9.5 0.3 -17.1 0.3 6.7 0.3 -13.6 0.2 16.7 0.3 -8.5 0.3 18.2 0.3 -14.7 0.3 13.7 0.2 -4 0.3 -3.6 0.3 -2.7 0.3 5.1 0.3 -17.9 0.2 17.1 0.3 -20.4 0.3 24.3 0.3 -18 0.3 19.5 0.2 -22.5 0.3 18.5 0.3 -11.8 0.3 6.4 0.3 -14.7 0.2 19.2 0.3 -12.8 0.3 8.4 0.3 -15.7 0.3 -0.3 0.2 -4.8 0.3 6.3 0.3 -4.3 0.3 19.5 0.3 -18.6 0.2 18.6 0.3 -10.9 0.3 5.9 0.3 -7.8 0.3 3.6 0.2 -18.1 0.3 11.5 0.3 -17.2 0.3 13.3 0.3 -9.6 0.2 4.4 0.3 -7.7 0.3 10.7 0.3 1.2 0.3 0.2 0.2 -7.9 0.3 7.2 0.3 -3 0.3 2.3 0.3 -9.3 0.2 0 0.3 -9.1 0.3 18.1 0.3 -8.3 0.3 7.9 0.2 -14.4 0.3 8.6 0.3 0.1 0.3 3.4 0.3 -0.3 0.2 1.9 0.3 -2.8 0.3 1.9 0.3 -1.2 0.3 3.8 0.2 -2.9 0.3 5.3 0.3 -5.9 0.3 11.2 0.3 -16.3 0.2 17.7 0.3 -2.7 0.3 2 0.3 -11.4 0.3 5.8 0.2 -12.8 0.3 10.4 0.3 -5.6 0.3 21.6 0.3 -17.9 0.2 14.5 0.3 -11.5 0.3 9.6 0.3 -13.4 0.3 16.5 0.2 -21.7 0.3 18.8 0.3 -5.8 0.3 9 0.3 -6.9 0.2 5.3 0.3 -13.6 0.3 9.6 0.3 -8.5 0.3 10.4 0.2 -16.5 0.3 16 0.3 -11.1 0.3 10.8 0.3 -15.3 0.2 15.3 0.3 -15.2 0.3 9 0.3 -9.9 0.3 11 0.2 -9.3 0.3 11.2 0.3 -2.8 0.3 8.1 0.3 -4.9 0.2 14.7 0.3 -6.3 0.3 8.3 0.3 -10.9 0.3 15.9 0.2 -9.9 0.3 16.8 0.3 -4.5 0.3 10.1 0.3 -8.4 0.2 12.5 0.3 -7.3 0.3 12.8 0.3 -20.2 0.3 23.5 0.2 -12 0.3 16.6 0.3 -7.6 0.3 14.1 0.3 -14.4 0.2 1.5 0.3 -14.4 0.3 24.2 0.3 -0.5 0.3 13.4 0.2 -15.3 0.3 7.3 0.3 -22.8 0.3 17.2 0.3 -8.7 0.2 11.4 0.3 -5.8 0.3 7.6 0.3 -20.8 0.3 14.7 0.2 -8.6 0.3 9.8 0.3 -21.7 0.3 18.6 0.3 -17.8 0.2 19 0.3 -14.5 0.3 17.6 0.3 -32.5 0.3 16.8 0.2 -32.5 0.3 18.2 0.3 -49.5 0.3 24.1 0.3 -41.1 0.2 22.2 0.3 -32.1 0.3 31.2 0.3 -31.1 0.3 30 0.2 -29.7 0.3 42.1 0.3 -41.7 0.3 38.6 0.3 -39.9 0.2 29.6 0.3 -18.4 0.3 48 0.3 -56 0.3 68.6 0.2 -68 0.3 64 0.3 -31.2 0.3 59 0.3 -35.5 0.2 35.2 0.3 -23.3 0.3 35.9 0.3 -10.8 0.3 18.8 0.2 -5.6 0.3 16.8 0.3 -12 0.3 16.3 0.3 -12.8 0.2 17.7 0.3 -21.8 0.3 11.4 0.3 -11.1 0.3 10.7 0.2 -13.1 0.3 8.2 0.3 -9.3 0.3 11.7 0.3 -12.8 0.2 13 0.3 -10.1 0.3 18 0.3 -18.2 0.3 11 0.2 -6.7 0.3 0.7 0.3 -9.6 0.3 15.9 0.3 -15.5 0.2 16.6 0.3 -18.4 0.3 7.2 0.3 -6.7 0.3 8.9 0.2 -9.8 0.3 15.5 0.3 -16.8 0.3 10.3 0.3 -14.3 0.2 23.5 0.3 -28.5 0.3 11.7 0.3 -14.6 0.3 19.2 0.2 -12.5 0.3 25.8 0.3 -38.3 0.3 25.3 0.3 -15.2 0.2 23.6 0.3 -27.1 0.3 29 0.3 -45 0.3 40.4 0.2 -52.4 0.3 28 0.3 -33.1 0.3 46.8 0.3 -31.8 0.2 44 0.3 -33.1 0.3 30.1 0.3 -25.9 0.3 21.4 0.2 -13.9 0.3 13 0.3 -55.6 0.3 52.6 0.3 -45.1 0.2 40.7 0.3 -34.1 0.3 26.8 0.3 -14.4 0.3 6.4 0.2 -7.4 0.3 8.9 0.3 -64.1 0.3 56.2 0.3 -13.3 0.2 18.8 0.3 -32.1 0.3 22.4 0.3 -21.6 0.3 -0.2 0.2 -42.2 0.3 30.7 0.3 -57.2 0.3 15.2 0.3 -18.1 0.2 26.5 0.3 44.7 0.3 -56.8 0.3 -20.5 0.3 39.6 0.2 -43.2 0.3 36.7 0.3 -40.4 0.3 24.5 0.3 -11.2 0.2 39 0.3 -35.4 0.3 46.7 0.3 -35.2 0.3 21.2 0.2 -33.9 0.3 25.8 0.3 -2.8 0.3 4.3 0.3 4.2 0.2 -1.3 0.3 -25.2 0.3 6.9 0.3 -6.8 0.3 16.5 0.2 -12.3 0.3 25.2 0.3 -31.2 0.3 29.2 0.3 -49.8 0.2 38.4 0.3 -27.8 0.3 42.7 0.3 -61.4 0.3 55.2 0.2 -26.2 0.3 49.4 0.3 -54.1 0.3 52 0.3 -43.9 0.2 27.9 0.3 -10.5 0.3 13.9 0.3 -25.5 0.3 27.5 0.2 -37.2 0.3 38.1 0.3 -35 0.3 1.4 0.3 -9.1 0.2 36.6 0.3 -20.9 0.3 38.8 0.3 -61.7 0.3 47.8 0.2 -55 0.3 33.2 0.3 -29.6 0.3 22.4 0.3 -45.9 0.2 32 0.3 -4.9 0.3 34.2 0.3 -24.6 0.3 36.9 0.2 -31.2 0.3 40.4 0.3 -22.2 0.3 21.8 0.3 6.3 0.2 7 0.3 -14.1 0.3 1.3 0.3 -33.3 0.3 31.2 0.2 -44.6 0.3 26.4 0.3 -1 0.3 22.6 0.3 -42.5 0.2 13.3 0.3 -34.4 0.3 6.1 0.3 5.8 0.3 26.3 0.2 -9.9 0.3 17.3 0.3 -9.4 0.3 23 0.3 -10.9 0.2 -1.1 0.3 10.8 0.3 2 0.3 -24.5 0.3 -7.9 0.2 -5 0.3 -3.9 0.3 -3 0.3 1.7 0.3 -4.7 0.2 47.6 0.3 -49.8 0.3 33.3 0.3 -44.3 0.3 59.3 0.2 -41.9 0.3 60.6 0.3 -24.5 0.3 30.3 0.3 -21.8 0.2 19.8 0.3 -50.8 0.3 43.2 0.3 -35.6 0.3 55.3 0.2 -43.1 0.3 35.6 0.3 -8.2 0.3 24.7 0.3 -16.8 0.2 23.4 0.3 -44.7 0.3 -23 0.3 -34.6 0.3 47.1 0.2 -46.6 0.3 35.8 0.3 -16 0.3 33.9 0.3 -50.4 0.2 65.5 0.3 -42.7 0.3 67.9 0.3 -33.1 0.3 55.8 0.2 -51.9 0.3 52.2 0.3 -58.8 0.3 57 0.3 -88.2 0.2 85.1 0.3 -51.3 0.3 44.5 0.3 -82.1 0.3 37.4 0.2 -71.8 0.3 120.7 0.3 -48.6 0.3 -7.5 0.3 -27.2 0.2 44.3 0.3 -20.5 0.3 15.1 0.3 -54.9 0.3 85.8 0.2 -70.8 0.3 48.1 0.3 -43.4 0.3 36.8 0.3 -78.1 0.2 55.9 0.3 -68.2 0.3 62.8 0.3 -42.8 0.3 88.9 0.2 -58.7 0.3 32.9 0.3 -25.3 0.3 92.6 0.3 -76 0.2 52 0.3 1.5 0.3 -53.2 0.3 -25.8 0.3 40.7 0.2 -21 0.3 78.8 0.3 -45.8 0.3 49.2 0.3 -23.1 0.2 28.7 0.3 -38.7 0.3 37 0.3 -30.1 0.3 33 0.2 -29.7 0.3 29.4 0.3 -21.9 0.3 23.6 0.3 -31.4 0.2 33.2 0.3 -22 0.3 23 0.3 -44.8 0.3 45.1 0.2 -29.5 0.3 42.4 0.3 -51.7 0.3 61.1 0.3 -32.3 0.2 30.3 0.3 -72.3 0.3 11.2 0.3 -44 0.3 72.5 0.2 -43.2 0.3 33.5 0.3 -16 0.3 -2.6 0.3 -35.3 0.2 47.5 0.3 -72.4 0.3 29.9 0.3 -78.4 0.3 184.3 0.2 -66.1 0.3 117.9 0.3 -114.5 0.3 116.3 0.3 -31.8 0.2 39.7 0.3 -115.6 0.3 114.9 0.3 -88.9 0.3 -25.4 0.2 -126.2 0.3 101.9 0.3 -108.2 0.3 58.5 0.3 -55.7 0.2 50.7 0.3 -47.8 0.3 67.7 0.3 -65.1 0.3 50.1 0.2 15.3 0.3 39.1 0.3 -79.5 0.3 52 0.3 -12.8 0.2 92.8 0.3 -60.7 0.3 89.7 0.3 -80.9 0.3 -7.6 0.2 -93 0.3 34.6 0.3 -21.7 0.3 22.1 0.3 -32.2 0.2 55.1 0.3 -53 0.3 40.3 0.3 -40.1 0.3 40 0.2 -25.9 0.3 9.1 0.3 2.8 0.3 13.9 0.3 -23.6 0.2 19.7 0.3 -1.4 0.3 17 0.3 2.1 0.3 36.1 0.2 -12.3 0.3 40.6 0.3 -93.7 0.3 44.2 0.3 -52.7 0.2 26.3 0.3 44.3 0.3 -2.7 0.3 -13.2 0.3 -13.8 0.2 -16.3 0.3 -9.1 0.3 1.9 0.3 -1.1 0.3 3.6 0.2 8.5 0.3 15.1 0.3 14.8 0.3 18.7 0.3 29.3 0.2 16.7 0.3 -6.4 0.3 18.6 0.3 -26.3 0.3 -19.3 0.2 -33.5 0.3 19.8 0.3 -25.2 0.3 -30.2 0.3 83.4 0.2 -65.4 0.3 7.2 0.3 4.4 0.3 31.8 0.3 -29.5 0.2 28.2 0.3 -40.8 0.3 13.5 0.3 -32 0.3 7.5 0.2 -2.3 0.3 35.3 0.3 -51.5 0.3 41.1 0.3 -40.4 0.2 37.8 0.3 -34.1 0.3 90 0.3 -81.1 0.3 51.3 0.2 -27.9 0.3 75.4 0.3 -21.2 0.3 86.3 0.3 -45.3 0.2 14.6 0.3 -47.8 0.3 44.7 0.3 -49.2 0.3 76.9 0.2 -53.6 0.3 11.9 0.3 -49.5 0.3 86.6 0.3 -62.6 0.2 59.2 0.3 -58.5 0.3 57.8 0.3 -32.3 0.3 29.7 0.2 -46.7 0.3 44.4 0.3 -33.1 0.3 32.8 0.3 -68.2 0.2 64.9 0.3 -65.9 0.3 61.8 0.3 -58.4 0.3 38.6 0.2 -38.6 0.3 27.5 0.3 -6.3 0.3 30.3 0.3 -42.2 0.2 41.1 0.3 -35.3 0.3 27.4 0.3 -9.4 0.3 -26.7 0.2 15.8 0.3 2.1 0.3 -4.7 0.3 -13 0.3 -4.6 0.2 -0.1 0.3 -4.9 0.3 27 0.3 5.2 0.3 10.6 0.2 -35.7 0.3 9.5 0.3 -18.8 0.3 36.7 0.3 -17.4 0.2 -1.6 0.3 -25 0.3 54.7 0.3 -64.9 0.3 57 0.2 -52.3 0.3 61.5 0.3 -39 0.3 24.8 0.3 -21.9 0.2 34.8 0.3 -41.5 0.3 39.6 0.3 -33.9 0.3 31.3 0.2 -21 0.3 21.6 0.3 -32.6 0.3 30.3 0.3 -39.6 0.2 38.3 0.3 -31.1 0.3 31.4 0.3 -47.2 0.3 35.5 0.2 -53.4 0.3 1.7 0.3 30.1 0.3 34.8 0.3 -45.9 0.2 44.5 0.3 -19.8 0.3 21.2 0.3 -42.3 0.3 41.3 0.2 -17.7 0.3 -65.9 0.3 37.7 0.3 46.1 0.3 -46.4 0.2 46.6 0.3 -11.5 0.3 11 0.3 -16.6 0.3 16.9 0.2 -13.2 0.3 4.5 0.3 -3.5 0.3 3.7 0.3 -2.3 0.2 3.2 0.3 -7.6 0.3 -1.3 0.3 -1.4 0.3 7 0.2 -3.5 0.3 8.7 0.3 -8.2 0.3 10.9 0.3 -30.2 0.2 -12 0.3 21.5 0.3 17.5 0.3 -18.7 0.3 10.5 0.2 -23.7 0.3 11.5 0.3 -46.8 0.3 26.2 0.3 -30.2 0.2 9.9 0.3 -50.5 0.3 55.4 0.3 -41.5 0.3 69.8 0.2 -52.9 0.3 -28.8 0.3 47.2 0.3 50.8 0.3 -22.5 0.2 40.8 0.3 -109.3 0.3 86.8 0.3 -41.4 0.3 64.5 0.2 -10.1 0.3 9 0.3 -33.5 0.3 33.2 0.3 -51.3 0.2 50.5 0.3 -25 0.3 25.4 0.3 -55.8 0.3 57.4 0.2 -52.4 0.3 52.2 0.3 -45.1 0.3 44.9 0.3 -74.1 0.2 53.8 0.3 -51.5 0.3 26.5 0.3 -16.3 0.3 25.8 0.2 2.1 0.3 33.5 0.3 -27.4 0.3 9 0.3 -26.7 0.2 22.5 0.3 -41.4 0.3 25 0.3 -39.5 0.3 52.7 0.2 -63.8 0.3 71.4 0.3 -64.7 0.3 73.8 0.3 -74.3 0.2 38.5 0.3 -55.1 0.3 46.5 0.3 -32.2 0.3 31.1 0.2 -47.8 0.3 63.2 0.3 -81.5 0.3 46.4 0.3 -47.2 0.2 22.5 0.3 -21.4 0.3 33 0.3 7.1 0.3 34.7 0.2 -24.3 0.3 66.8 0.3 -42.6 0.3 -20.2 0.3 11.6 0.2 7.7 0.3 28.1 0.3 11.2 0.3 -21.4 0.3 13.3 0.2 -13.4 0.3 0.1 0.3 -6.6 0.3 22.5 0.3 -4.4 0.2 8.1 0.3 -5.2 0.3 5.8 0.3 -6.1 0.3 7 0.2 -7.4 0.3 8.6 0.3 -105.2 0.3 104.9 0.3 -26.8 0.2 21.4 0.3 -56.4 0.3 11.7 0.3 -39.8 0.3 69.8 0.2 -21.9 0.3 -3.6 0.3 -22.3 0.3 13 0.3 -29.2 0.2 25.6 0.3 5.4 0.3 26.9 0.3 -16.5 0.3 -7.8 0.2 -26.1 0.3 16.2 0.3 -13.2 0.3 -4.5 0.3 -17.9 0.2 10.6 0.3 -14.3 0.3 15.5 0.3 -12.2 0.3 30 0.2 -8.4 0.3 47.9 0.3 -57.2 0.3 47.1 0.3 -41.2 0.2 49.8 0.3 -16.5 0.3 3.8 0.3 -22.3 0.3 16.3 0.2 -37 0.3 38.4 0.3 -15.1 0.3 39.5 0.3 -61.3 0.2 25.2 0.3 -10.9 0.3 29 0.3 -60.1 0.3 21.8 0.2 -20 0.3 32.2 0.3 -8.5 0.3 14.7 0.3 -36 0.2 21 0.3 -22.4 0.3 22.9 0.3 -23.3 0.3 25.7 0.2 -24.2 0.3 22.4 0.3 -23.5 0.3 27.4 0.3 -27.8 0.2 14.8 0.3 -12.3 0.3 20.1 0.3 -19.3 0.3 22.2 0.2 -22.9 0.3 24.5 0.3 -14.4 0.3 29.6 0.3 -40.8 0.2 41.6 0.3 -42.6 0.3 34.3 0.3 -11.4 0.3 12.7 0.2 4.4 0.3 -14.4 0.3 -23.6 0.3 28.6 0.3 -30 0.2 21.1 0.3 -20.1 0.3 21.8 0.3 -19.8 0.3 14.1 0.2 -16.3 0.3 18.2 0.3 -17.2 0.3 29.7 0.3 -30.9 0.2 38.2 0.3 -37.8 0.3 33.1 0.3 -32.9 0.3 17.5 0.2 -15.9 0.3 48.4 0.3 -12.2 0.3 50.6 0.3 -24.1 0.2 24.5 0.3 -28.9 0.3 29.7 0.3 -42.7 0.3 43.5 0.2 -30 0.3 33.3 0.3 -17.2 0.3 16.4 0.3 -21.2 0.2 13.4 0.3 -2.6 0.3 -13.3 0.3 -2.5 0.3 8 0.2 -29 0.3 19.6 0.3 -36.1 0.3 30.4 0.3 -39.8 0.2 43.9 0.3 -35.7 0.3 5.1 0.3 -10.8 0.3 22.6 0.2 -29.3 0.3 10.5 0.3 -21.9 0.3 48 0.3 -14.3 0.2 30.3 0.3 -21.1 0.3 0.7 0.3 -33.3 0.3 56.9 0.2 -69.6 0.3 54.4 0.3 -18 0.3 43.2 0.3 -44 0.2 28.6 0.3 -42 0.3 31.5 0.3 -17.8 0.3 52.8 0.2 -46.7 0.3 28.1 0.3 -40.4 0.3 11.4 0.3 -40.9 0.2 50.9 0.3 -51 0.3 34.4 0.3 -20.8 0.3 57 0.2 -49.7 0.3 63.2 0.3 -40.2 0.3 26.5 0.3 -10 0.2 26.1 0.3 -44.4 0.3 25.7 0.3 -11.9 0.3 24.4 0.2 -49.2 0.3 28.5 0.3 -57.9 0.3 73.2 0.3 -27 0.2 19.8 0.3 -33.1 0.3 28.5 0.3 -39.5 0.3 46.1 0.2 -58 0.3 24.9 0.3 -21.8 0.3 28.5 0.3 -34.3 0.2 14.6 0.3 -28.3 0.3 31.2 0.3 14.7 0.3 9.5 0.2 -23.1 0.3 22.8 0.3 -2.3 0.3 -25.5 0.3 21.9 0.2 30.2 0.3 -10.3 0.3 -3.2 0.3 -23.4 0.3 10.5 0.2 -35.5 0.3 45.4 0.3 -52.5 0.3 43 0.3 -17.6 0.2 27.2 0.3 -27.2 0.3 46.2 0.3 -17.6 0.3 13.8 0.2 -29.5 0.3 3.5 0.3 -19.3 0.3 29.3 0.3 -39.4 0.2 19 0.3 -12 0.3 19.9 0.3 -36.6 0.3 57 0.2 -72.1 0.3 20.8 0.3 30.7 0.3 34.9 0.3 -36.3 0.2 34.6 0.3 -28.1 0.3 6.1 0.3 -26.8 0.3 30 0.2 -48.9 0.3 68.1 0.3 -35.3 0.3 35.3 0.3 -50.1 0.2 24.5 0.3 -21.8 0.3 24.6 0.3 -8.3 0.3 22 0.2 -6.1 0.3 -16.8 0.3 -6.1 0.3 23 0.3 -25.8 0.2 11.6 0.3 -26.7 0.3 -12.6 0.3 -11.3 0.3 13.7 0.2 18 0.3 7.7 0.3 -45.9 0.3 47.2 0.3 -12.4 0.2 6.6 0.3 -14.3 0.3 31.9 0.3 8.4 0.3 -9.5 0.2 -29.6 0.3 21.2 0.3 -12.6 0.3 -5.4 0.3 -18.3 0.2 7.7 0.3 3.3 0.3 17.7 0.3 -19.8 0.3 12.6 0.2 -10.8 0.3 20.2 0.3 -7.5 0.3 1 0.3 -34.7 0.2 11.2 0.3 -9.7 0.3 7.7 0.3 -7.3 0.3 16.4 0.2 -13.9 0.3 9.1 0.3 69.3 0.3 -66 0.3 12.5 0.2 13.9 0.3 6.4 0.3 -14.6 0.3 -6.8 0.3 -15 0.2 -6.3 0.3 3.5 0.3 -6.6 0.3 9.8 0.3 -2.8 0.2 4.7 0.3 2.9 0.3 6.4 0.3 -2.5 0.3 10.9 0.2 -33.7 0.3 15.4 0.3 -14.3 0.3 34 0.3 1.9 0.2 2 0.3 -16.4 0.3 27 0.3 -19.9 0.3 12.2 0.2 -10.3 0.3 2.9 0.3 -21.8 0.3 4.2 0.3 9.2 0.2 26 0.3 -22.9 0.3 -0.5 0.3 2.8 0.3 11.6 0.2 3.4 0.3 16.2 0.3 1.5 0.3 17.9 0.3 -44 0.2 48.5 0.3 -32.6 0.3 30.7 0.3 -16.7 0.3 19 0.2 -37.9 0.3 36.1 0.3 -12.2 0.3 10 0.3 -7.6 0.2 9.4 0.3 -14.7 0.3 16.4 0.3 -16 0.3 16 0.2 -15.6 0.3 15.1 0.3 -18.2 0.3 6.6 0.3 -16.1 0.2 25.9 0.3 -29.3 0.3 14.7 0.3 -0.9 0.3 -2.5 0.2 -4.6 0.3 9.8 0.3 -15.8 0.3 2.3 0.3 -3.9 0.2 14.1 0.3 -3.3 0.3 15.9 0.3 -2.5 0.3 3.4 0.2 -3.3 0.3 5.2 0.3 -5.9 0.3 5 0.3 -4.9 0.2 5.6 0.3 -3.9 0.3 2.6 0.3 -5.2 0.3 12.6 0.2 -11.3 0.3 -10.1 0.3 9.7 0.3 6.2 0.3 -13.2 0.2 -6.1 0.3 -27.4 0.3 17.3 0.3 2.1 0.3 13.8 0.2 -24.1 0.3 3.5 0.3 17.9 0.3 -25.7 0.3 -34.3 0.2 10.3 0.3 -21.1 0.3 16.4 0.3 -15.4 0.3 16.8 0.2 -16.7 0.3 13.7 0.3 -4.7 0.3 26.1 0.3 -35.3 0.2 22.1 0.3 -24 0.3 18.4 0.3 -18.4 0.3 18.8 0.2 -17.8 0.3 23.1 0.3 -23.1 0.3 22.6 0.3 -23.1 0.2 37.2 0.3 -37.7 0.3 27.4 0.3 -26 0.3 37.8 0.2 -38.1 0.3 46.1 0.3 -43.7 0.3 43.4 0.3 -44 0.2 15.2 0.3 1.4 0.3 31 0.3 -42 0.3 36.7 0.2 -4.2 0.3 27.7 0.3 -25.3 0.3 34.2 0.3 -22.3 0.2 34.4 0.3 -29.3 0.3 30.9 0.3 -28.3 0.3 26.9 0.2 -27.3 0.3 28.7 0.3 -21.8 0.3 20.3 0.3 -30 0.2 31 0.3 -26.3 0.3 7.4 0.3 -39.9 0.3 24.7 0.2 -26.3 0.3 48.7 0.3 -18.7 0.3 9.8 0.3 -34.8 0.2 5.9 0.3 -0.7 0.3 14.4 0.3 -21.7 0.3 30.8 0.2 -16.5 0.3 1.1 0.3 -1.5 0.3 32.5 0.3 -43.9 0.2 26.4 0.3 -21.8 0.3 19.7 0.3 -58.7 0.3 30.9 0.2 -28.6 0.3 24.4 0.3 -9.3 0.3 43.2 0.3 -45 0.2 44 0.3 -46.4 0.3 29 0.3 -25.3 0.3 45.4 0.2 -42 0.3 44.1 0.3 -67.3 0.3 41.5 0.3 -18.2 0.2 6.3 0.3 -30.1 0.3 33.7 0.3 -33.5 0.3 19 0.2 -18.8 0.3 46.4 0.3 -47.1 0.3 25 0.3 -26.2 0.2 42.7 0.3 -40.7 0.3 14 0.3 -7.1 0.3 52.3 0.2 -13.5 0.3 18.7 0.3 -15.4 0.3 37.5 0.3 -36.4 0.2 30.1 0.3 -47.8 0.3 55.1 0.3 -69.7 0.3 50.4 0.2 -53.7 0.3 12.7 0.3 -10.8 0.3 47.1 0.3 -50.2 0.2 50.3 0.3 -31.7 0.3 43.1 0.3 -54.9 0.3 31 0.2 -20.6 0.3 34.8 0.3 -23.9 0.3 12.1 0.3 -20 0.2 -3.4 0.3 -19 0.3 42.8 0.3 -43.8 0.3 22.9 0.2 -34.9 0.3 13.9 0.3 -8 0.3 3 0.3 23 0.2 -1.6 0.3 17.1 0.3 -4 0.3 19.6 0.3 6.3 0.2 7.6 0.3 9.1 0.3 -9.4 0.3 8.7 0.3 -11.5 0.2 12.5 0.3 -14.3 0.3 16 0.3 -26.3 0.3 27.7 0.2 -18.4 0.3 8.9 0.3 -15.2 0.3 10.9 0.3 -18.7 0.2 32.6 0.3 -36.2 0.3 37.1 0.3 -44.1 0.3 37.9 0.2 -6.2 0.3 9.6 0.3 -21.2 0.3 1.2 0.3 3.9 0.2 -3.5 0.3 -17.9 0.3 16.4 0.3 -23 0.3 25.2 0.2 3.4 0.3 0.2 0.3 -9 0.3 -5.4 0.3 2.2 0.2 -3 0.3 -16.9 0.3 -3.6 0.3 -5.2 0.3 -3.6 0.2 -4.6 0.3 -0.9 0.3 -2.5 0.3 -3.2 0.3 20.6 0.2 -20.4 0.3 -6.3 0.3 64.1 0.3 -24.9 0.3 -5.5 0.2 -10.4 0.3 22.2 0.3 -7.6 0.3 -3.7 0.3 -30.8 0.2 17 0.3 -25.5 0.3 5.4 0.3 -5.7 0.3 5.7 0.2 -6.1 0.3 6.2 0.3 -11.3 0.3 11.6 0.3 -1.8 0.2 11 0.3 -19.7 0.3 39.3 0.3 -34.9 0.3 35.7" fill="none" stroke="#000" stroke-width="2.1" stroke-linejoin="bevel"/><path d="M1205.5 315.5l0.3 10.2 0.3 -8.5 0.3 7.2 0.3 -2.8 0.3 7.9 0.3 -8.4 0.3 6.9 0.3 -9.1 0.3 9.9 0.3 -13 0.3 9.2 0.3 -11.9 0.3 9 0.3 -4.8 0.3 1.9 0.3 -7.2 0.3 5.3 0.3 -6.3 0.3 9 0.3 -14.3 0.3 5 0.3 -4.3 0.3 11.9 0.3 -15 0.3 11.8 0.3 -11.8 0.3 16.6 0.3 -15.5 0.3 12 0.3 -11.8 0.3 13.3 0.3 -10.9 0.3 12.5 0.3 -7.8 0.3 7.6 0.3 -7 0.3 6.7 0.3 -13.2 0.3 11.4 0.3 -13.4 0.3 10 0.3 -9.5 0.3 6.1 0.3 -7.3 0.3 11.9 0.3 -15.7 0.3 10.2 0.3 -9 0.3 8.3 0.3 -13.5 0.3 7.6 0.3 -11.4 0.3 15.4 0.3 -17 0.3 17.2 0.3 -16 0.3 10.8 0.3 -12.7 0.3 13.5 0.3 -16.7 0.3 22.3 0.3 -14.1 0.3 9.3 0.3 -10.1 0.3 10.8 0.3 -14.6 0.3 17.8 0.3 -15.5 0.3 13.8 0.3 -12.9 0.3 9.9 0.3 -6.3 0.3 3.9 0.3 -5.8 0.3 17.4 0.3 -8.9 0.3 4.2 0.3 -12.1 0.3 13.1 0.3 -6.2 0.3 11 0.3 -16 0.3 12.9 0.3 -13.1 0.3 14.8 0.3 -18.8 0.3 19.1 0.3 -23.5 0.1 50.6 0.4 -50.6 -0.2 16 0.3 -11.2 0.3 14.8 0.3 -18.7 0.3 15.1 0.3 -7.1 0.3 9.1 0.3 -16.8 0.3 22.2 0.3 -24.4 0.3 16.2 0.3 -16.4 0.3 21.1 0.3 -10 0.3 6.9 0.3 -8.1 0.3 14.5 0.3 -17.8 0.3 12.6 0.3 -14.9 0.3 6.8 0.3 -6.6 0.3 10.4 0.3 -3.9 0.3 10.6 0.3 -7 0.3 7.5 0.3 -7.5 0.3 7.2 0.3 -11.2 0.3 3.5 0.3 -7.4 0.3 8.1 0.3 -10.7 0.3 15.9 0.3 -22.9 0.3 14.2 0.3 -13.8 0.3 16.4 0.3 -19.2 0.3 18.3 0.3 -12 0.3 2.9 0.3 -3.3 0.3 10.2 0.3 -17.5 0.3 16.6 0.3 -6 0.3 1.1 0.3 -16.3 0.3 19.8 0.3 -8.6 0.3 11.5 0.3 -29.3 0.3 22.8 0.3 -18.9 0.3 22.9 0.3 -25.9 0.3 25.6 0.3 -22.1 0.3 31.3 0.3 -24.5 0.3 15.6 0.3 -13.2 0.3 26.6 0.3 -22.2 0.3 25.7 0.3 -32.3 0.3 21.1 0.3 -31.3 0.3 25.6 0.3 -20.6 0.3 25.1 0.3 -24.4 0.3 30.7 0.3 -42.5 0.3 2 0.3 -4 0.3 45.7 0.3 -24.6 0.3 28.5 0.3 -28.4 0.3 29.8 0.3 -23.8 0.3 24.4 0.3 -30.7 0.3 25.7 0.3 -26.8 0.3 31 0.3 -29.9 0.3 26.1 0.3 -12.1 0.3 16.2 0.3 -22 0.3 18.6 0.3 -25.4 0.3 23.2 0.3 -18 0.3 26.3 0.3 -21.5 0.3 17.8 0.3 -26 0.3 22.1 0.3 -27.8 0.3 24.2 0.3 -27.6 0.3 9.9 0.3 -15.8 0.3 10.2 0.3 -7.7 0.3 11.1 0.3 -13.4 0.3 18 0.3 -13.1 0.3 10.9 0.3 -12.8 0.3 7 0.3 -5.7 0.3 14.4 0.3 -16.2 0.3 21.2 0.3 -27.2 0.3 15.9 0.3 -21.2 0.3 25.3 0.3 -19.4 0.3 25 0.3 -31.2 0.3 36.3 0.3 -35.7 0.3 24.9 0.3 -15.1 0.3 19 0.3 -21.6 0.3 23.8 0.3 -24.9 0.3 24 0.3 -18 0.3 21.7 0.3 -34.2 0.3 31.2 0.3 -19.9 0.3 16.9 0.3 -18.9 0.3 8.7 0.3 2.2 0.3 5.8 0.3 -5.9 0.3 1.4 0.3 -13.7 0.3 11.4 0.3 -8.8 0.3 8.7 0.3 -10 0.3 10 0.3 -10.2 0.3 6.8 0.3 -9.3 0.3 8.8 0.3 -6.8 0.3 12.6 0.3 -17.6 0.3 21.7 0.3 -20.2 0.3 26.3 0.3 -20.6 0.3 20.9 0.3 -26.9 0.3 15.8 0.3 -0.7 0.3 6.3 0.3 -12.1 0.3 20.7 0.3 -6.7 0.3 13.8 0.3 -6.5 0.3 2.7 0.3 -7.4 0.3 11.5 0.3 -8.3 0.3 12.2 0.3 -8.2 0.3 5.4 0.3 -4.2 0.3 3.2 0.3 -3.6 0.3 5.8 0.3 -5.5 0.3 4.5 0.3 -5.9 0.3 6.9 0.3 -9.1 0.3 10.4 0.3 -8.5 -0.1 -65.9 0.4 65.9 0 9.1 0.3 -6.1 0.3 4.7 0.3 -6.3 0.3 12.6 0.3 -17.9 0.3 18.5 0.3 -22.2 0.3 25.2 0.3 -17.8 0.3 12.1 0.3 -13 0.3 21.9 0.3 -24 0.3 23.3 0.3 -16.7 0.3 10 0.3 -11 0.3 19.3 0.3 -14.7 0.3 15.8 0.3 -15.1 0.3 8 0.3 -21.3 0.3 30 0.3 -24.6 0.3 13.7 0.3 -16.1 0.3 13.7 0.3 -9 0.3 17.3 0.3 -21.7 0.3 5.1 0.3 -9.9 0.3 12.9 0.3 -26.4 0.3 26.9 0.3 -27.1 0.3 39.1 0.3 -28.8 0.3 16 0.3 -13.6 0.3 23.5 0.3 -25.5 0.3 9.2 0.3 -2.2 0.3 3 0.3 -7.4 0.3 19.1 0.3 -0.9 0.3 1.5 0.3 -3.7 0.3 3.4 0.3 -4.8 0.3 2.4 0.3 -7.4 0.3 3.4 0.3 -3.5 0.3 4.6 0.3 -7.4 0.3 8.1 0.3 -2.2 0.3 1.5 0.3 -2.7 0.3 5.7 0.3 -6.7 0.3 4.4 0.3 -4.2 0.3 3.6 0.3 -6.1 0.3 5.9 0.3 0.2 0.3 -17.9 0.3 18 0.3 5.5 0.3 -3 0.3 5.7 0.3 -9.3 0.3 9 0.3 -8.2 0.3 10.3 0.3 -12.8 0.3 7 0.3 -9.7 0.3 9.6 0.3 -9.3 0.3 6.6 0.3 -8 0.3 8.7 0.3 -11.6 0.3 19 0.3 -20.3 0.3 25.2 0.3 -27.5 0.3 16.1 0.3 -14.9 0.3 20.7 0.3 -13.7 0.3 17.8 0.3 -26 0.3 28 0.3 -21.4 0.3 21.6 0.3 -17.6 0.3 12.4 0.3 -16.1 0.3 15.2 0.3 -10.3 0.3 12.4 0.3 -14.7 0.3 15.7 0.3 -11.8 0.3 13.2 0.3 -20.9 0.3 18.9 0.3 -12.6 0.3 9.8 0.3 -16.6 0.3 17.1 0.3 -18.1 0.3 25.5 0.3 -25.7 0.3 17.6 0.3 -13 0.3 19.4 0.3 -21 0.3 19.2 0.3 -23.1 0.3 16.5 0.3 -13.9 0.3 16.9 0.3 -9.9 0.3 11.1 0.3 -18.3 0.3 16.2 0.3 -13.1 0.3 12.2 0.3 -14 0.3 12.2 0.3 -12.7 0.3 11.3 0.3 -10.9 0.3 17.4 0.3 -7.9 0.3 8 0.3 -15.6 0.3 12.2 0.3 -10.4 0.3 11.8 0.3 -12 0.3 7.5 0.3 -6.1 0.3 9.8 0.3 -8 0.3 7.3 0.3 -5.7 0.3 4.2 0.3 -3.6 0.3 6 0.3 -7 0.3 3.7 0.3 -4.7 0.3 5.7 0.3 -2.7 0.3 3.9 0.3 -3.1 0.3 6.7 0.3 -4.4 0.3 7 0.3 -7.8 0.3 6 0.3 -4.3 0.3 7.6 0.3 -10.4 0.3 9.1 0.3 -6.1 0.3 3.8 0.3 -4.3 0.3 6.8 0.3 -4 0.3 6.1 0.3 -4.7 0.3 3 0.3 -4.5 0.3 4.9 0.3 -4.2 0.3 9.1 0.3 -7.1 0.3 4.8 0.3 -4.4 0.3 6.9 0.3 -5 0.3 3.2 0.3 -3.1 0.3 8.6 0.3 -5.6 0.3 3.7 0.3 -8.1 0.3 3.6 0.3 -6.6 0.3 6.2 0.3 -7.4 0.3 6.1 0.3 -1.3 0.3 6.8 0.3 -6.3 0.3 10.5 0.3 -8 0.3 6.4 0.3 -8.6 0.3 8.6 0.3 -6 0.3 8.1 0.3 -10.6 0.3 11.8 0.3 -11.6 0.3 4.3 0.3 -6.7 0.3 6.5 0.3 -8.1 0.3 11.8 0.3 -12.5 0.3 12.7 0.3 -8.2 0.3 6.6 0.3 -11.6 0.3 11.3 0.3 -10.9 0.3 10.7 0.3 -7.6 0.3 7.2 0.3 -9.2 0.3 8.2 0.3 -8.5 0.3 10.9 0.3 -11 0.3 12.2 0.3 -8.2 0.3 7.5 0.3 -11.9 0.3 8 0.3 -6.2 0.3 12.5 0.3 -7.9 0.3 10 0.3 -10.6 0.3 14.8 0.3 -11.7 0.3 8 0.3 -12.7 0.3 9.6 0.3 -10 0.3 14.8 0.3 -11.6 0.3 11.2 0.3 -7.4 0.3 8.1 0.3 -9.1 0.3 10.8 0.3 -8.2 0.3 9.2 0.3 -15.2 0.3 13.6 0.3 -9.8 0.3 7.6 0.3 -5 0.3 4.3 0.3 -8.3 0.3 13 0.3 -11.6 0.3 7.4 0.3 -5.5 0.3 9.7 0.3 -11.1 0.3 4.9 0.3 -5.9 0.3 6.6 0.3 -4.2 0.3 4.5 0.3 -6.4 0.3 6.1 0.3 -7.7 0.3 6.2 0.3 -2.6 0.3 3.4 0.3 -8.5 0.3 6.2 0.3 -2.4 0.3 8.4 0.3 -5.5 0.3 8.6 0.3 -7.9 0.3 3.6 0.3 -5.3 0.3 5 0.3 -4.5 0.3 2.8 0.3 -3.6 0.3 0.7 0.3 -5.5 0.3 3.8 0.3 -2.6 0.3 4.7 0.3 -5.3 0.3 3.7 0.3 -5.9 0.3 6 0.3 -3.6 0.3 6.6 0.3 -6 0.3 5.3 0.3 -3.5 0.3 4.9 0.3 -9.1 0.3 8 0.3 -4.8 0.3 4.8 0.3 -1.9 0.3 5.9 0.3 -3.7 0.3 9.7 0.3 -8.3 0.3 4.6 0.3 -6.6 0.3 9 0.3 -5.5 0.3 0.7 0.3 -3.6 0.3 4.2 0.3 -2.8 0.3 -2.6 0.3 -1.1 0.3 2 0.3 -2.4 0.3 5.5 0.3 -5.7 0.3 12.7 0.3 -14.3 0.3 14.5 0.3 -9.7 0.3 8.9 0.3 -8.4 0.3 7.3 0.3 -10 0.3 10.8 0.3 -8.2 0.3 6.3 0.3 -3 0.3 5 0.3 -3.7 0.3 3 0.3 -5.8 0.3 5.2 0.3 -4.6 0.3 6.3 0.3 -6.4 0.3 -0.8 0.3 1.8 0.3 3.4 0.3 -6.1 0.3 6.5 0.3 -4.3 0.3 6.4 0.3 -6.8 0.3 6.5 0.3 -7.3 0.3 7.9 0.3 -12.2 0.3 8.8 0.3 -6.6 0.3 9.7 0.3 -8.2 0.3 5 0.3 -6.4 0.3 5.7 0.3 -7.4 0.3 9.1 0.3 -10.3 0.3 9.8 0.3 -4.3 0.3 4.5 0.3 -5.7 0.3 5.8 0.3 -7 0.3 9.7 0.3 -3.3 0.3 0.7 0.3 -10.3 0.3 15.4 0.3 -14.4 0.3 11.9 0.3 -13.1 0.3 12.4 0.3 -11.9 0.3 8.6 0.3 -3.2 0.3 4.3 0.3 -5.7 0.3 7.8 0.3 -6.7 0.3 2.5 0.3 -4 0.3 3.9 0.3 -5.1 0.3 5 0.3 -5.4 0.3 9.7 0.3 -7.6 0.3 9.4 0.3 -12.6 0.3 10.2 0.3 -7.7 0.3 7.5 0.3 -4.7 0.3 4.1 0.3 -5.8 0.3 8.4 0.3 -7.9 0.3 5.9 0.3 -5.6 0.3 12.1 0.3 -14.5 0.3 12.3 0.3 -7.9 0.3 6.5 0.3 -4.9 0.3 8.1 0.3 -11.5 0.3 7.9 0.3 -6.9 0.3 8.7 0.3 -6.9 0.3 9 0.3 -6.2 0.3 4.7 0.3 -3.3 0.3 5.6 0.3 -10.3 0.3 9.8 0.3 -6.9 0.3 6.7 0.3 -9.2 0.3 9.2 0.3 -4.6 0.3 3.9 0.3 -4.3 0.3 2.9 0.3 -8.6 0.3 9.7 0.3 -10 0.3 7.4 0.3 -7.5 0.3 11.4 0.3 -7.4 0.3 2.1 0.3 -2.8 0.3 2.8 0.3 -7.5 0.3 10 0.3 -6.5 0.3 5.3 0.3 -5.6 0.3 3.8 0.3 -4.9 0.3 5.1 0.3 -6.1 0.3 5.4 0.3 -5.9 0.3 5.5 0.3 -6.1 0.3 10.2 0.3 -10.2 0.3 5.5 0.3 -5.7 0.3 8.1 0.3 -8.4 0.3 5.2 0.3 -5.7 0.3 8.3 0.3 -8.3 0.3 7.4 0.3 -8.2 0.3 7.4 0.3 -6.1 0.3 7.1 0.3 -8.1 0.3 7.4 0.3 -8.7 0.3 6.9 0.3 -7.3 0.3 7.2 0.3 -8.1 0.3 8.4 0.3 -8.2 0.3 10.9 0.3 -11.2 0.3 9.5 0.3 -9.1 0.3 6.1 0.3 -4.2 0.3 3.6 0.3 -3.4 0.3 2.3 0.3 -5.8 0.3 6.8 0.3 -5.1 0.3 4.4 0.3 -2 0.3 6.3 0.3 -13.1 0.3 9 0.3 -8.4 0.3 9.1 0.3 -4.8 0.3 5.4 0.3 -5 0.3 5.1 0.3 -6.3 0.3 3.8 0.3 -3.7 0.3 4.3 0.3 -4.3 0.3 3.6 0.3 -5 0.3 6.6 0.3 -12 0.3 16.1 0.3 -14.4 0.3 12.9 0.3 0 0.3 -3.8 0.3 -10.1 0.3 12.9 0.3 -14.9 0.3 11.2 0.3 -8.1 0.3 8.6 0.3 -5.9 0.3 8.3 0.3 -8 0.3 4.7 0.3 -4.3 0.3 6.4 0.3 -5.2 0.3 8.7 0.3 -8.8 0.3 3.5 0.3 -7.1 0.3 6 0.3 -5.8 0.3 8.4 0.3 -12.9 0.3 5.7 0.3 -6.3 0.3 9.7 0.3 -9 0.3 5.6 0.3 -8.4 0.3 8.4 0.3 -1.2 0.3 3.7 0.3 -5.3 0.3 2 0.3 -5.8 0.3 12.4 0.3 -13.2 0.3 11.1 0.3 -8.6 0.3 10.2 0.3 -13.4 0.3 10.7 0.3 -10.8 0.3 7.7 0.3 -10.8 0.3 8.6 0.3 -6.9 0.3 5 0.3 -8.5 0.3 9.7 0.3 -5.4 0.3 7.7 0.3 -5.9 0.3 5 0.3 -6.4 0.3 8.4 0.3 -11.4 0.3 11.8 0.3 -13.9 0.3 12.5 0.3 -7.5 0.3 9.3 0.3 -7.3 0.3 6.8 0.3 -7.5 0.3 5.3 0.3 -9.4 0.3 4.3 0.3 -6.5 0.3 4.4 0.3 -4.9 0.3 5.1 0.3 -5.3 0.3 2.9 0.3 -5.3 0.3 5.2 0.3 -10.1 0.3 6.7 0.3 -3 0.3 8.6 0.3 -13.5 0.3 5.9 0.3 -10.7 0.3 9.4 0.3 -9.5 0.3 12.8 0.3 -10.9 0.3 8.5 0.3 -7.6 0.3 4.8 0.3 -7.8 0.3 8 0.3 -6.9 0.3 11.5 0.3 -11.1 0.3 9 0.3 -13.4 0.3 14.6 0.3 -18.2 0.3 9.7 0.3 -10.1 0.3 6.4 0.3 -3.9 0.3 7.3 0.3 -6.7 0.3 -0.6 0.3 -5.2 0.3 2.6 0.3 -1.7 0.3 6.7 0.3 -5.5 0.3 4.5 0.3 -3 0.3 6.4 0.3 -4.3 0.3 -1.6 0.3 -4.4 0.3 5.2 0.3 -8.2 0.3 5.5 0.3 -7.9 0.3 7.6 0.3 -9.2 0.3 5.5 0.3 -15.5 0.3 9 0.3 -14 0.3 6.2 0.3 -11.6 0.3 9.4 0.3 -12.2 0.3 15.5 0.3 -11.1 0.3 16.5 0.3 -15.7 0.3 6.9 0.3 -1.7 0.3 19 0.3 -5.4 0.3 20 0.3 -25.6 0.3 11.2 0.3 -28.4 0.3 19.6 0.3 -9.6 0.3 10.2 0.3 -27 0.3 29.9 0.3 -19.5 0.3 17.6 0.3 -11.9 0.3 18.6 0.3 -22.5 0.3 16.6 0.3 -28.1 0.3 12.8 0.3 -10.9 0.3 18.6 0.3 -7.8 0.3 19.4 0.3 -10.4 0.3 14.5 0.3 -16.8 0.3 9.9 0.3 -31.5 0.3 17 0.3 -15.4 0.3 19.6 0.3 -18.7 0.3 31.7 0.3 -36.1 0.3 28.3 0.3 -14.5 0.3 5.4 0.3 -9.8 0.3 11.3 0.3 -11.9 0.3 22.9 0.3 -37 0.3 37.2 0.3 -34.2 0.3 10.9 0.3 -18.4 0.3 24.1 0.3 -21.9 0.3 24.9 0.3 -34.2 0.3 32.9 0.3 -29 0.3 45.1 0.3 -26.4 0.3 18.4 0.3 -16.5 0.3 14.4 0.3 -10.6 0.3 4.8 0.3 -13.4 0.3 19.5 0.3 -28.3 0.3 22.7 0.3 -5.4 0.3 12.5 0.3 -27 0.3 40.1 0.3 -32.5 0.3 16.6 0.3 -13.4 0.3 30 0.3 -17.8 0.3 11.2 0.3 -16.7 0.3 15.3 0.3 -11.6 0.3 8.3 0.3 -35.6 0.3 40.3 0.3 -22.6 0.3 24.7 0.3 -25.4 0.3 22.3 0.3 -27.9 0.3 21.4 0.3 -37.1 0.3 41 0.3 -39.8 0.3 26.2 0.3 -32.2 0.3 47.8 0.3 -44.9 0.3 41.2 0.3 -18.3 0.3 26.7 0.3 -33.1 0.3 20.6 0.3 -24.2 0.3 35.8 0.3 -34.4 0.3 10.8 0.3 -20.3 0.3 36.3 0.3 -41 0.3 30.3 0.3 -37.7 0.3 25 0.3 -24.8 0.3 34.5 0.3 -19.1 0.3 11.8 0.3 -14.6 0.3 19.6 0.3 -14.2 0.3 9.8 0.3 -16 0.3 16.5 0.3 -20.6 0.3 31 0.3 -22.8 0.3 16.3 0.3 -11.8 0.3 10.9 0.3 -16.7 0.3 13.5 0.3 -19.6 0.3 17.2 0.3 -22.3 0.3 24.6 0.3 -23 0.3 23.5 0.3 -24.2 0.3 45.6 0.3 -32.9 0.3 31.5 0.3 -36.6 0.3 23.1 0.3 -11.9 0.3 25.5 0.3 -27.2 0.3 26.7 0.3 -22.7 0.3 24.2 0.3 -19.2 0.3 20.1 0.3 -27.7 0.3 21.1 0.3 -17.8 0.3 24.6 0.3 -32.4 0.3 20.9 0.3 -27.6 0.3 39.2 0.3 -38.8 0.3 35.9 0.3 -30.2 0.3 27.9 0.3 -33.1 0.3 30.3 0.3 -18.8 0.3 5.5 0.3 -22.5 0.3 34.3 0.3 -25 0.3 22.1 0.3 -22.3 0.3 33.6 0.3 -27.4 0.3 25.7 0.3 -21.2 0.3 21.2 0.3 -20.3 0.3 21.6 0.3 -26.3 0.3 15.8 0.3 -8.4 0.3 4.5 0.3 -14.4 0.3 19.7 0.3 -20 0.3 19.1 0.3 -20.2 0.3 26.6 0.3 -28.4 0.3 17.5 0.3 -28.6 0.3 27.4 0.3 -19.4 0.3 8.7 0.3 -17.1 0.3 16.5 0.3 -5.8 0.3 12.6 0.3 -14.8 0.3 11.5 0.3 -18.3 0.3 20.9 0.3 -16.8 0.3 20.2 0.3 -19 0.3 11.5 0.3 -8.9 0.3 8.4 0.3 -8.3 0.3 22.4 0.3 -23 0.3 16.9 0.3 -13.9 0.3 22.1 0.3 -24.8 0.3 19.3 0.3 -22.9 0.3 23.8 0.3 -15.4 0.3 18.7 0.3 -3 0.3 3 0.3 -14.1 0.3 8.3 0.3 -6.6 0.3 10.5 0.3 -11.6 0.3 8.3 0.3 -1.6 0.3 1.9 0.3 -9.4 0.3 6.9 0.3 -9.2 0.3 5 0.3 -1.8 0.3 3 0.3 -4.5 0.3 9.6 0.3 -8.2 0.3 2 0.3 -5 0.3 9 0.3 -5.8 0.3 7.8 0.3 0.1 0.3 -0.1 0.3 -9.6 0.3 7.3 0.3 -7.2 0.3 5.3 0.3 -6.1 0.3 11.1 0.3 -4.3 0.3 4.6 0.3 -7.7 0.3 8.7 0.3 -7.1 0.3 -0.9 0.3 -7.3 0.3 6.8 0.3 -2.1 0.3 5.7 0.3 -12.9 0.3 3 0.3 -2.2 0.3 7.1 0.3 -6.9 0.3 9.7 0.3 -4.9 0.3 9.2 0.3 -7.8 0.3 8 0.3 -2.4 0.3 0.6 0.3 -10.2 0.3 10.4 0.3 -7.5 0.3 11.1 0.3 -4.1 0.3 0.3 0.3 -7.9 0.3 11.5 0.3 -7.2 0.3 1.6 0.3 -6.4 0.3 8.3 0.3 -3.3 0.3 9.4 0.3 -11.3 0.3 6 0.3 -10.7 0.3 3 0.3 -5.1 0.3 9.8 0.3 -4.3 0.3 2.2 0.3 -4.8 0.3 5.5 0.3 -1.8 0.3 6 0.3 -1.7 0.3 2.6 0.3 -2.7 0.3 8.7 0.3 -16.8 0.3 10.2 0.3 -13.5 0.3 4.1 0.3 -6 0.3 4.8 0.3 -7.1 0.3 8.9 0.3 -8.3 0.3 9.5 0.3 -16.9 0.3 15.4 0.3 -14.4 0.3 11.9 0.3 -11.7 0.3 19.5 0.3 -11.9 0.3 16.4 0.3 -2.6 0.3 16.1 0.3 -11.8 0.3 12.3 0.3 -12.7 0.3 16.3 0.3 -19.2 0.3 16 0.3 -12.6 0.3 13.9 0.3 -13.8 0.3 7.4 0.3 -11.6 0.3 10 0.3 -10.1 0.3 -1.1 0.3 -7.2 0.3 13.7 0.3 -14.2 0.3 5.2 0.3 -12 0.3 14.6 0.3 -9.4 0.3 12.3 0.3 -25.5 0.3 20.5 0.3 -11.3 0.3 12.9 0.3 -8.6 0.3 15.1 0.3 -26 0.3 14.3 0.3 -12.8 0.3 18.5 0.3 -21.1 0.3 22.2 0.3 -21.5 0.3 38.9 0.3 -33.2 0.3 30.2 0.3 -30.1 0.3 25.2 0.3 -26.2 0.3 16.9 0.3 -13.9 0 -56.5 0.4 56.5 -0.1 11.2 0.3 -17 0.3 18 0.3 -20 0.3 25.7 0.3 -24.5 0.3 16.7 0.3 -13.5 0.3 18.7 0.3 -22.1 0.3 20.6 0.3 -18.8 0.3 29.3 0.3 -19.7 0.3 9.7 0.3 -19.1 0.3 22.1 0.3 -21.6 0.3 12.6 0.3 -12.7 0.3 18.3 0.3 -14.6 0.3 12.3 0.3 -13.4 0.3 18.2 0.3 -3 0.3 1.8 0.3 -16.9 0.3 20.9 0.3 -20.6 0.3 10.9 0.3 -10.8 0.3 20.2 0.3 -18.5 0.3 18.1 0.3 -17.3 0.3 16.9 0.3 -17.8 0.3 17.8 0.3 -17.5 0.3 11.6 0.3 -8 0.3 13.1 0.3 -13 0.3 10.8 0.3 -12.2 0.3 11.2 0.3 -11.7 0.3 19.2 0.3 -13.7 0.3 9 0.3 -12.5 0.3 15.7 0.3 -14.9 0.3 9.1 0.3 -9.3 0.3 14.1 0.3 -10.4 0.3 5.7 0.3 -9.5 0.3 9.9 0.3 -3.1 0.3 9.9 0.3 -8.1 0.3 3.4 0.3 -11.8 0.3 14.3 0.3 -10.6 0.3 14.9 0.3 -12.6 0.3 16.2 0.3 -10.1 0.3 7.3 0.3 -9.7 0.3 4.9 0.3 -4 0.3 13.4 0.3 -15.2 0.3 8.4 0.3 -15.8 0.3 19.5 0.3 -11.2 0.3 17.4 0.3 -17 0.3 8.8 0.3 -10.7 0.3 16.1 0.3 -20.7 0.3 12.6 0.3 -15.2 0.3 21 0.3 -13.4 0.3 19.7 0.3 -15.8 0.3 12.7 0.3 -7.3 0.3 3.2 0.3 -14.4 0.3 17.8 0.3 -7 0.3 1.1 0.3 -11.3 0.3 13.1 0.3 -5.1 0.3 8.1 0.3 -14.2 0.3 19.8 0.3 -17.7 0.3 10.8 0.3 -17.5 0.3 21.9 0.3 -21.9 0.3 26 0.3 -15.5 0.3 18.5 0.3 -30.1 0.3 21.4 0.3 -16.4 0.3 17.5 0.3 -12.3 0.3 10.4 0.3 -22.8 0.3 26 0.3 -22 0.3 15 0.3 -16.1 0.3 11.9 0.3 -14.9 0.3 14.2 0.3 -6.6 0.3 15 0.3 -10.9 0.3 13.5 0.3 -12.7 0.3 8.4 0.3 -9.7 0.3 12.2 0.3 -13.7 0.3 9.1 0.3 -7.1 0.3 15.1 0.3 -10.5 0.3 8.9 0.3 -4.7 0.3 5.4 0.3 -3.6 0.3 11.5 0.3 -20.3 0.3 21.9 0.3 -13.6 0.3 17.7 0.3 -20.3 0.3 19.9 0.3 -15.1 0.3 14.1 0.3 -21.6 0.3 19.7 0.3 -25.1 0.3 24.2 0.3 -24.2 0.3 30.5 0.3 -20.4 0.3 20.7 0.3 -26.7 0.3 26 0.3 -33.8 0.3 32.4 0.3 -18 0.3 19.7 0.3 -20.1 0.3 18.6 0.3 -16.5 0.3 15.8 0.3 -20 0.3 19.2 0.3 -31.5 0.3 28.6 0.3 -22.9 0.3 28.3 0.3 -20 0.3 19.9 0.3 -31.6 0.3 28.7 0.3 -23.7 0.3 24 0.3 -16.1 0.3 14.7 0.3 -12.3 0.3 15 0.3 -23.3 0.3 24.6 0.3 -19.7 0.3 9.9 0.3 -8.2 0.3 16.4 0.3 -20.9 0.3 21.4 0.3 -20.9 0.3 22.7 0.3 -14.3 0.3 14.7 0.3 -13.4 0.3 12.4 0.3 -17.2 0.3 18.7 0.3 -17.4 0.3 16.8 0.3 -21.5 0.3 15.8 0.3 -34.8 0.3 23.2 0.3 -22.9 0.3 32.4 0.3 -34.4 0.3 32 0.3 -34 0.3 16.6 0.3 -15.4 0.3 17.9 0.3 -16.9 0.3 16 0.3 -18.6 0.3 21.3 0.3 -15.4 0.3 15.4 0.3 -4.4 0.3 9 0.3 -0.8 0.3 5.8 0.3 -1.4 0.3 12.6 0.3 -10 0.3 6.8 0.3 -7.9 0.3 15.4 0.3 -19.1 0.3 19 0.3 -26.4 0.3 23.3 0.3 -25.2 0.3 27.5 0.3 -16.7 0.3 14.7 0.3 -22.4 0.3 19.9 0.3 -20.2 0.3 22.1 0.3 -23.1 0.3 27.2 0.3 -36 0.3 32.3 0.3 -20.2 0.3 20.3 0.3 -18.7 0.3 20.8 0.3 -30.5 0.3 28 0.3 -20 0.3 23.6 0.3 -30.5 0.3 28.9 0.3 -32.7 0.3 34.5 0.3 -34.5 0.3 29.2 0.3 -35.8 0.3 32.2 0.3 -26.7 0.3 28.2 0.3 -22.9 0.3 27.6 0.3 -15.5 0.3 15.2 0.3 -16.5 0.3 8.8 0.3 -20.5 0.3 20.5 0.3 -17.4 0.3 12.4 0.3 -15.8 0.3 9.6 0.3 -5.5 0.3 7.5 0.3 -10.8 0.3 5.2 0.3 -8.7 0.3 4.4 0.3 -14.9 0.3 21 0.3 -16.9 0.3 19.4 0.3 -24.6 0.3 18 0.3 -11.1 0.3 21.4 0.3 -20.2 0.3 18.9 0.3 -18.5 0.3 12.2 0.3 -6.8 0.3 15.2 0.3 -17.4 0.3 15.5 0.3 -13.4 0.3 8 0.3 -6 0.3 13.1 0.3 -9.9 0.3 10.1 0.3 -6 0.3 14.2 0.3 -24.7 0.3 14.6 0.3 -14.4 0.3 9.5 0.3 -13.3 0.3 11.8 0.3 -13.1 0.3 12.2 0.3 -14.6 0.3 13.9 0.3 -11.5 0.3 7.6 0.3 -5.6 0.3 4.9 0.3 -6.2 0.3 5.9 0.3 -6 0.3 6 0.3 -3.8 0.3 3.3 0.3 -7.2 0.3 9.1 0.3 0.4 0.3 10.1 0.3 -3.4 0.3 12.6 0.3 -12.6 0.3 7.7 0.3 -2.4 0.3 2.9 0.3 -1.6 0.3 4.5 0.3 -4 0.3 3.6 0.3 -11.7 0.3 8.6 0.3 -8.2 0.3 4.5 0.3 -1.5 0.3 7.3 0.3 -5.9 0.3 -0.3 0.3 -8.5 0.3 12.9 0.3 -4.2 0.3 13.3 0.3 -19.9 0.3 17.5 0.3 -12.6 0.3 19.3 0.3 -12.7 0.3 5.4 0.3 -4.4 0.3 10.6 0.3 -12.5 0.3 13.7 0.3 -12.7 0.3 15.2 0.3 -19.6 0.3 14.2 0.3 -12.2 0.3 13.8 0.3 -12.4 0.3 14.4 0.3 -30.2 0.3 15.9 0.3 -9.6 0.3 13.2 0.3 -8.5 0.3 5.8 0.3 -6.9 0.3 -0.1 0.3 -5.1 0.3 7.1 0.3 -10.7 0.3 11.1 0.3 -7.1 0.3 7.4 0.3 -9.5 0.3 10.6 0.3 -8.6 0.3 10.7 0.3 -14.4 0.3 17 0.3 -12.3 0.3 11.4 0.3 -7.9 0.3 15.3 0.3 -20.3 0.3 19.6 0.3 -12.6 0.3 6.9 0.3 -10.4 0.3 17.1 0.3 -16.3 0.3 12 0.3 -16.2 0.3 21.2 0.3 -13 0.3 21.8 0.3 -25.2 0.3 16.6 0.3 -8.9 0.3 7.2 0.3 -6.2 0.3 4.3 0.3 -2 0.3 0.6 0.3 -1 0.3 7.3 0.3 -8.5 0.3 3.3" fill="none" stroke="#f00" stroke-width="2.0" stroke-linejoin="bevel"/></g><path d="M1726.4 111.0V454.7" stroke="#000" stroke-width="2.78" stroke-dasharray="2.78 4.58"/><path d="M1203.96 110.00H1801.04M1203.96 454.70H1801.04M1205.00 110.00V454.70" stroke="#000" stroke-width="2.08" fill="none"/><path d="M1800.00 110.00V454.70" stroke="#ff0000" stroke-width="2.08" fill="none"/><path d="M1205.00 454.70h5.50M1205.00 411.61h5.50M1205.00 368.52h5.50M1205.00 325.44h5.50M1205.00 282.35h5.50M1205.00 239.26h5.50M1205.00 196.18h5.50M1205.00 153.09h5.50M1205.00 110.00h5.50" stroke="#000" stroke-width="1.1" fill="none"/><path d="M1245.50 454.70v-4.00M1319.50 454.70v-4.00M1394.50 454.70v-4.00M1468.50 454.70v-4.00M1543.50 454.70v-4.00M1617.50 454.70v-4.00M1691.50 454.70v-4.00M1766.50 454.70v-4.00" stroke="#000" stroke-width="1.1" fill="none"/><path d="M1800.00 454.70h-5.50M1800.00 385.76h-5.50M1800.00 316.82h-5.50M1800.00 247.88h-5.50M1800.00 178.94h-5.50M1800.00 110.00h-5.50" stroke="#ff0000" stroke-width="1.1" fill="none"/><text x="1159.25" y="462.40" font-size="20.34" textLength="40.28" lengthAdjust="spacingAndGlyphs">−20</text><text x="1159.67" y="419.31" font-size="20.34" textLength="39.91" lengthAdjust="spacingAndGlyphs">−15</text><text x="1159.25" y="376.22" font-size="20.34" textLength="40.28" lengthAdjust="spacingAndGlyphs">−10</text><text x="1172.18" y="333.14" font-size="20.34" textLength="27.43" lengthAdjust="spacingAndGlyphs">−5</text><text x="1187.86" y="290.05" font-size="20.34" textLength="11.55" lengthAdjust="spacingAndGlyphs">0</text><text x="1188.52" y="246.96" font-size="20.34" textLength="10.90" lengthAdjust="spacingAndGlyphs">5</text><text x="1175.36" y="203.88" font-size="20.34" textLength="24.09" lengthAdjust="spacingAndGlyphs">10</text><text x="1175.80" y="160.79" font-size="20.34" textLength="23.70" lengthAdjust="spacingAndGlyphs">15</text><text x="1175.19" y="117.70" font-size="20.34" textLength="24.27" lengthAdjust="spacingAndGlyphs">20</text><text x="1806.49" y="462.40" font-size="20.34" textLength="11.55" lengthAdjust="spacingAndGlyphs" fill="#ff0000">0</text><text x="1806.19" y="393.46" font-size="20.34" textLength="36.82" lengthAdjust="spacingAndGlyphs" fill="#ff0000">200</text><text x="1806.80" y="324.52" font-size="20.34" textLength="36.69" lengthAdjust="spacingAndGlyphs" fill="#ff0000">400</text><text x="1806.18" y="255.58" font-size="20.34" textLength="36.90" lengthAdjust="spacingAndGlyphs" fill="#ff0000">600</text><text x="1806.34" y="186.64" font-size="20.34" textLength="36.77" lengthAdjust="spacingAndGlyphs" fill="#ff0000">800</text><text x="1805.61" y="117.70" font-size="20.34" textLength="49.21" lengthAdjust="spacingAndGlyphs" fill="#ff0000">1000</text><text transform="translate(1116.20 320.00) rotate(-90)" x="-2.29" y="0" font-size="25.44" textLength="78.41" lengthAdjust="spacingAndGlyphs">IMF Bz</text><text transform="translate(1146.00 312.00) rotate(-90)" x="-1.64" y="0" font-size="25.44" textLength="63.00" lengthAdjust="spacingAndGlyphs">( nT )</text><text transform="translate(1880.10 353.00) rotate(-90)" x="-1.18" y="0" font-size="25.44" textLength="139.67" lengthAdjust="spacingAndGlyphs" fill="#ff0000">SW Velocity</text><text transform="translate(1913.40 336.80) rotate(-90)" x="-1.26" y="0" font-size="25.44" textLength="6.76" lengthAdjust="spacingAndGlyphs" fill="#ff0000">(</text><text transform="translate(1913.40 320.60) rotate(-90)" x="-1.86" y="0" font-size="25.44" textLength="36.73" lengthAdjust="spacingAndGlyphs" fill="#ff0000">km</text><text transform="translate(1913.40 279.60) rotate(-90)" x="-0.64" y="0" font-size="25.44" textLength="11.50" lengthAdjust="spacingAndGlyphs" fill="#ff0000">s</text><text transform="translate(1903.30 262.00) rotate(-90)" x="-1.01" y="0" font-size="17.80" textLength="23.45" lengthAdjust="spacingAndGlyphs" fill="#ff0000">−1</text><text transform="translate(1913.40 232.38) rotate(-90)" x="-0.12" y="0" font-size="25.44" textLength="6.76" lengthAdjust="spacingAndGlyphs" fill="#ff0000">)</text><path d="M1205.0 512.40H1800.0" stroke="#000" stroke-width="2.08" stroke-dasharray="2.08 3.44"/><g clip-path="url(#clipR2)"><path d="M1205.0 517.7L1208.0 519.0L1211.3 508.0L1214.4 506.7L1217.5 510.0L1220.7 515.7L1223.8 520.8L1226.9 519.0L1230.0 516.0L1233.2 516.5L1236.3 516.6L1239.5 515.8L1242.7 515.0L1245.8 520.5L1249.0 524.0L1252.1 524.4L1255.2 526.9L1258.4 529.6L1261.5 530.0L1264.6 529.2L1267.7 528.6L1270.8 525.5L1273.9 525.1L1277.0 524.0L1280.3 517.6L1285.0 513.0L1288.7 515.5L1292.3 519.4L1296.0 522.4L1299.0 520.9L1302.0 519.0L1305.2 516.7L1308.4 516.1L1311.6 515.1L1314.8 514.5L1318.0 515.5L1321.1 515.1L1324.2 513.7L1327.4 514.5L1330.6 514.0L1333.7 511.3L1336.8 511.3L1340.0 509.8L1343.1 510.5L1346.2 511.7L1349.3 514.5L1354.7 510.0L1359.4 502.0L1364.0 505.0L1368.8 511.0L1371.9 518.4L1375.0 524.0L1378.2 524.8L1381.4 527.0L1384.6 523.8L1387.7 522.0L1390.8 528.0L1393.9 532.6L1397.0 536.5L1400.0 536.7L1403.0 538.0L1406.3 537.1L1409.5 534.1L1412.8 532.0L1415.9 528.1L1418.9 522.6L1422.0 519.0L1426.0 516.1L1430.0 511.0L1434.7 499.0L1437.8 499.5L1441.0 499.0L1444.0 503.1L1447.0 505.0L1450.2 507.6L1453.5 507.9L1456.7 510.0L1459.8 507.2L1463.0 505.0L1466.9 501.9L1470.8 500.4L1474.7 504.8L1478.6 511.0L1481.8 517.2L1485.0 525.5L1488.0 525.8L1491.0 527.0L1495.3 535.7L1499.7 544.0L1503.6 538.3L1507.5 535.0L1510.7 540.9L1513.8 546.0L1516.9 544.9L1519.9 544.2L1523.0 544.0L1526.2 544.2L1529.5 542.8L1532.7 546.7L1535.8 550.6L1538.9 545.5L1542.1 541.2L1545.2 536.5L1548.3 536.5L1551.5 534.4L1554.6 535.0L1557.8 533.6L1561.0 530.0L1564.1 530.9L1567.2 534.6L1570.3 536.8L1573.4 538.0L1576.6 532.7L1579.7 530.4L1582.9 525.5L1586.0 527.4L1589.0 530.0L1592.2 532.7L1595.4 535.0L1598.6 532.3L1601.7 532.0L1604.8 533.6L1607.8 536.6L1610.9 541.2L1614.0 542.8L1617.2 535.0L1620.5 528.6L1623.7 529.9L1626.8 530.0L1629.9 529.5L1633.0 527.0L1636.0 528.1L1639.0 526.6L1642.0 526.7L1645.0 527.0L1648.0 527.1L1651.0 527.0L1654.1 530.0L1657.3 519.0L1660.4 525.2L1663.5 530.0L1667.2 528.1L1670.8 528.6L1674.5 527.0L1678.5 530.2L1682.4 532.0L1687.0 527.0L1690.2 526.9L1693.3 523.9L1696.5 524.0L1699.7 525.8L1702.8 525.5L1706.7 520.6L1710.6 517.6L1713.7 519.0L1716.9 506.7L1720.0 509.8L1723.0 525.5" fill="none" stroke="#000" stroke-width="2.1" stroke-linejoin="round"/><path d="M1205.5 611.5l0.3 25.3 0.3 -31.8 0.3 27.1 0.3 -18.5 0.3 7.2 0.3 -7.8 0.3 13.1 0.3 -18.1 0.3 27 0.3 -21.1 0.3 7.2 0.3 -7.4 0.3 11.8 0.3 -9.9 0.3 12.9 0.3 -18 0.3 19.1 0.3 -18.3 0.3 15.8 0.3 -9 0.3 17.9 0.3 -25 0.3 14.1 0.3 -19.2 0.3 19.7 0.3 -16.7 0.3 25.2 0.3 -24.9 0.3 3.9 0.3 -4 0.3 7.7 0.3 17.9 0.3 -17.2 0.3 -19.4 0.3 23.9 0.3 -18.5 0.3 11.3 0.3 -6.9 0.3 9.8 0.3 -10 0.3 8.1 0.3 -8.9 0.3 19.1 0.3 -12.1 0.3 4.8 0.3 -9.3 0.3 18 0.3 -13.7 0.3 21.1 0.3 -13.4 0.3 6.1 0.3 -8.1 0.3 15.8 0.3 -16.7 0.3 16.3 0.3 -11.9 0.3 12.4 0.3 -24.7 0.3 62.5 0.3 -60.7 0.3 59.9 0.3 -61.9 -0.1 126.6 0.4 -126.6 0 16.5 0.3 -10.4 0.3 41.4 0.3 -50.9 0.3 15.6 0.3 -15.3 0.3 10.4 0.3 -12.3 0.3 10.2 0.3 97.3 0.3 -61.3 0.3 -45 0.3 31.2 0.3 -33 0.3 5.1 0.3 -11.3 0.3 6 0.3 26.6 0.3 -13.7 0.3 -23.2 0.3 28.1 0.3 -32.2 0.3 9.6 0.3 -7.7 0.3 17.5 0.3 -11.2 0.1 -58.4 0.4 58.4 -0.2 6.2 0.3 40 0.3 -31.6 0.3 -18.7 0.3 41.4 0.3 -33.5 0.3 25.9 0.3 -19.3 0.3 7.4 0.3 -7.4 0.3 28.3 0.3 -37.4 0.3 121.3 0.3 -123.4 0.3 39.6 0.3 -20.2 0.3 64.1 0.3 -69.5 0.3 69.4 0.3 -84.7 0.3 76.6 0.3 -68.2 0.3 119.1 0.3 -108.5 0.3 101.4 0.3 -116.1 0.3 101.1 0.3 -98.4 0.3 80.5 0.3 90.6 0.3 -99.1 0.3 -77.6 0.3 60.8 0.3 -60.7 0.3 72.1 0.3 -70.7 0.3 100.9 0.3 -89.9 0.3 153.8 0.3 -153.1 0.3 140.3 0.3 -139.2 0.3 111.4 0.3 -116.8 0.3 17.1 0.3 144.1 0.3 -69.5 0.3 -92.9 0.3 59.4 0.3 -44.2 0.3 38.6 0.3 116.1 0.3 -41.8 0.3 -122.6 0.3 126.3 0.3 -114.4 0.3 112.4 0.3 -125.4 0.3 136.1 0.3 -118.4 0.3 39.5 0.3 -44.3 0.3 60.7 0.3 -76.4 0.3 50.5 0.3 -50.9 0.3 66.2 0.3 -69.7 0.3 21.4 0.3 -20.6 0.3 27 0.3 -35.1 0.3 42.2 0.3 97.1 0.3 -78.6 0.3 -52.1 0.3 111 0.3 -110.2 0.3 118.1 0.3 -105.8 0.3 39.1 0.3 -57.8 0.3 24.5 0.3 -24.2 0.3 57.3 0.3 -43.8 0.3 22 0.3 -30.1 0.3 127.6 0.3 -126.1 0.3 115.3 0.3 -125.8 0.3 93.9 0.3 -91.1 0.3 54.4 0.3 -55.8 0.3 84.8 0.3 111.5 0.3 -32.5 0.3 -153.6 0.3 101.1 0.3 -122 0.3 48.7 0.3 -40.5 0.3 23 0.3 -16.8 0.3 44.2 0.3 90.5 0.3 -87.6 0.3 -41.7 0.3 108.4 0.3 -106.7 0.3 53.7 0.3 -51.3 0.3 32.4 0.3 -30.4 0.3 131.4 0.3 -125.4 0.3 88.6 0.3 -73.8 0.3 39.9 0.3 -41.5 0.3 101.2 0.3 -127.4 0.3 176.1 0.3 -165.3 0.3 84.9 0.3 -102.6 0.3 50.7 0.3 98.1 0.3 -86.7 0.3 -60.8 0.3 86.6 0.3 -73.5 0.3 24 0.3 -12.9 0.3 182 0.3 -165.6 0.3 136.6 0.3 -126.1 0.3 51.1 0.3 -29.4 0.3 54 0.3 -53.8 0.3 80.2 0.3 -73.5 0.3 122.4 0.3 -142.3 0.3 54.2 0.3 -25.8 0.3 97.6 0.3 -119.6 0.3 104.7 0.3 -82 0.3 100.5 0.3 -118.2 0.3 22.9 0.3 110.1 0.3 -48.4 0.3 -82 0.3 13.4 0.3 -21.9 0.3 24.1 0.3 -24.1 0.3 27.9 0.3 -23.9 0.3 36.2 0.3 -47.4 0.3 46.7 0.3 69.9 0.3 -60 0.3 -57.1 0.3 99.7 0.3 -104.5 0.3 119.6 0.3 -108.5 0.3 60.5 0.3 -60.5 0.3 68.2 0.3 -53.8 0.1 -150.8 0.4 150.8 -0.2 38.2 0.3 -50.2 0.3 24.2 0.3 -18 0.3 36.5 0.3 -40 0.3 23.7 0.3 -28.7 0.3 28.2 0.3 62.6 0.1 -208.3 0.4 208.3 -0.2 -5 0.3 -66.1 0.3 35.2 0.3 -41.8 0.3 55.2 0.3 -57.4 0.3 47.9 0.3 -41.5 0.3 14.1 0.3 -4 0.3 18.4 0.3 -16.5 0.3 34.9 0.3 -33.1 0.3 17.4 0.3 102.8 0.3 -36.1 0.3 -79 0.3 67.4 0.3 -75 0.3 48.8 0.3 -49.1 0.3 23.8 0.3 42.5 0.3 -20.6 0.3 -39.4 0.3 16.7 0.3 -25.5 0.3 114.3 0.3 -120.5 0.3 110.1 0.3 -114.1 0.3 76.3 0.3 -75.5 0.3 18.1 0.3 -10.4 0.3 14.6 0.3 64.7 0.3 -45.4 0.3 -23.8 0.3 40.5 0.3 -47.5 0.3 47.1 0.3 -44.1 0.3 23.9 0.3 89.2 0.3 -68.5 0.3 -44.3 0.3 85.3 0.3 -90.2 0.3 35.3 0.3 -42 0.3 25.7 0.3 -24.1 0.3 8.9 0.3 -9.5 0.3 12.1 0.3 -3.6 0.3 13.7 0.3 31.8 0.3 -21.5 0.3 -28.9 0.3 50.3 0.3 -46.1 0.3 21.4 0.3 -17.7 0.3 26 0.3 82.2 0.3 -1.5 0.3 -95.2 0.3 49.2 0.3 5.5 0.3 -11.9 0.3 -52.9 0.3 14 0.3 -21.5 0.3 10.4 0.3 -14.8 0.3 15.8 0.3 -9.6 0.3 12 0.3 -4 0.3 31.3 0.3 43.1 0.3 -33.1 0.3 -52.7 0.3 69.1 0.3 -68.2 0.3 8.2 0.3 -5.1 0.3 4.7 0.3 -6.8 0.3 9.5 0.3 -14.2 0.3 15.3 0.3 -15 0.3 9.9 0.3 -4.4 0.3 4.6 0.3 -7.2 0.3 18.2 0.3 -17.2 0.3 8.4 0.3 -10.9 0.3 11.6 0.3 -11.4 0.3 7.9 0.3 -6.1 0.3 16.8 0.3 -14.8 0.3 14.8 0.3 -9.9 0.3 18.3 0.3 22.7 0.3 -21.6 0.3 -7.3 0.3 15.7 0.3 -21.3 0.3 7.3 0.3 -9.6 0.3 82.3 0.3 -86.9 0.3 68.7 0.3 -57.4 0.3 59.1 0.3 -62.5 0.3 47.9 0.3 -52.1 0.3 35.7 0.3 -37.1 0.3 17.2 0.3 -14.5 0.3 17.7 0.3 66.2 0.3 -1.1 0.3 -80.5 0.3 44.2 0.3 -55.5 0.3 68.3 0.3 -66.9 0.3 5.8 0.3 29 0.3 -35.4 0.3 -18.3 0.3 18.4 0.3 -11.1 0.3 20.1 0.3 -14.8 0.3 4.3 0.3 -11.5 0.3 9.8 0.3 -17.6 0.3 28.7 0.3 -28.3 0.3 18.6 0.3 -10.7 0.3 14.3 0.3 -15.4 0.3 11 0.3 -19.5 0.3 26.3 0.3 -29.2 0.3 14.1 0.3 -19 0.3 9.9 0.3 -5.9 0.3 34 0.3 -34 0.3 28.9 0.3 -31.3 0.3 25.8 0.3 -17.8 0.3 33.2 0.3 -28 0.3 22.9 0.3 -19.7 0.3 15 0.3 -15.4 0.3 15.5 0.3 -30.3 0.3 25.7 0.3 -15.3 0.3 26.8 0.3 -37.1 0.3 24.7 0.3 -19.5 0.3 18.8 0.3 -12.1 0.3 28.4 0.3 -35.9 0.3 28.3 0.3 -35 0.3 40.1 0.3 -27.5 0.3 12.3 0.3 -22.6 0.3 55.2 0.3 -64.4 0.3 30.3 0.3 -30.3 0.3 36.3 0.3 -27.8 0.3 10.3 0.3 -20.3 0.3 9.9 0.3 -9.4 0.3 50.9 0.3 -47.6 0.3 38.6 0.3 -47 0.3 42.2 0.3 -43.5 0.3 8.1 0.3 -4.3 0.3 11.9 0.3 -5.5 0.3 26.9 0.3 -22.8 0.3 12.4 0.3 -15.8 0.3 12.4 0.3 -26.5 0.3 34.2 0.3 -24.9 0.3 12.2 0.3 -11.7 0.3 24.3 0.3 -32 0.3 12.3 0.3 -7.4 0.3 18.4 0.3 -17.4 0.3 15.1 0.3 -15.3 0.3 54.9 0.3 -50.4 0.3 30.6 0.3 -30.7 0.3 33.9 0.3 -48.9 0.3 50.9 0.3 -41.4 0.3 48.6 0.3 -53.3 0.3 14.5 0.3 -19.8 0.3 10.5 0.3 -4.5 0.3 2.9 0.3 -9.5 0.3 4 0.3 -2.5 0.3 1.1 0.3 -6 0.3 19.3 0.3 -17.4 0.3 8.1 0.3 -4.1 0.3 22.4 0.3 -22 0.3 8.7 0.3 -7.3 0.3 28.4 0.3 -29.2 0.3 6.9 0.3 -7.4 0.3 12.2 0.3 -19.5 0.3 26.4 0.3 -19.6 0.3 26.6 0.3 -31.7 0.3 12.8 0.3 -13.8 0.3 9 0.3 -12.6 0.3 29.8 0.3 -24.2 0.3 33.6 0.3 -34.2 0.3 38.5 0.3 -37.3 0.3 37.4 0.3 -38.4 0.3 28.8 0.3 -18.7 0.3 21.7 0.3 -26 0.3 12.3 0.3 -22.8 0.3 42.8 0.3 -38 0.3 74.1 0.3 -74 0.3 21.5 0.3 -12.1 0.3 32 0.3 -35.5 0.3 19.5 0.3 -13.7 0.3 28.7 0.3 -36.8 0.3 8.5 0.3 -9.5 -0.1 -123.9 0.4 123.9 0 2.6 0.3 -7.8 0.3 2.8 0.3 -7 0.3 9.1 0.3 -9.3 0.3 -0.2 0.3 -5.8 0.3 5.5 0.3 -6.3 0.3 11.3 0.3 17.5 0.3 -13.2 0.3 -16.2 0.3 11.7 0.3 -9.4 0.3 15.8 0.3 -13.9 0.3 21.3 0.3 -28.8 0.3 27.4 0.3 -28.3 0.3 25 0.3 -22.7 0.3 19.7 0.3 -20.9 0.3 21.5 0.3 -18.3 0.3 3.6 0.3 -7.9 0.3 10.7 0.3 -8.5 0.3 6.1 0.3 -5.9 0.3 7.5 0.3 -2.5 0.3 5.3 0.3 -3.9 0.3 15.4 0.3 -12.3 0.3 14.3 0.3 -12.8 0.3 13.4 0.3 -18.9 0.3 25.3 0.3 -21.8 0.3 15.3 0.3 -19.7 0.3 22.2 0.3 -21.3 0.3 6.9 0.3 -6.6 0.3 13.7 0.3 -7 0.3 3 0.3 -16.4 0.3 6.9 0.3 -6.6 0.3 13.6 0.3 -7.2 0.3 21.6 0.3 -24.9 0.3 14.1 0.3 -16.9 0.3 15.5 0.3 -3.6 0.3 4.1 0.3 -13.2 0.3 18.6 0.3 -14.5 0.3 16.9 0.3 -10.8 0.3 17.3 0.3 41 0.3 -31.9 0.3 -18.5 0.3 41.4 0.3 -41.1 0.3 10.9 0.3 -25 0.3 35.5 0.3 -29.5 0.3 18.7 0.3 -19.3 0.3 14.8 0.3 -11.8 0.3 15.5 0.3 -21.6 0.3 29 0.3 -32.7 0.3 29.8 0.3 -26 0.3 20.4 0.3 -20.7 0.3 25.6 0.3 -23.4 0.3 28.1 0.3 -30.1 0.3 46.9 0.3 -32.6 0.3 26.2 0.3 -35 0.3 26.2 0.3 -22.1 0.3 23.2 0.3 -18.2 0.3 15.9 0.3 -14.6 0.3 21.9 0.3 -27.7 0.3 6.5 0.3 -11.3 0.3 33.4 0.3 -39 0.3 19.9 0.3 -17.8 0.3 17.4 0.3 -15.2 0.3 21.7 0.3 -15.5 0.3 37.8 0.3 -36.9 0.3 14 0.3 -25.4 0.3 34.6 0.3 -35.2 0.3 34.8 0.3 -33.1 0.3 29 0.3 -36.1 -0.1 -35.6 0.4 35.6 0 45 0.3 -44.9 0.3 29.7 0.3 -30.9 0.3 25.7 0.3 -17.1 0.3 31.8 0.3 -27 0.3 31.1 0.3 -30.2 0.3 15.9 0.3 -25.9 0.3 30 0.3 -32.7 0.3 13.1 0.3 -10 0.3 1.8 0.3 -8.3 0.3 3.2 0.3 -4.9 0.3 5.8 0.3 -11.7 0.3 5.3 0.3 -8.9 0.3 6.5 0.3 -4.2 0.3 2.3 0.3 -12.1 0.3 3.4 0.3 -6.6 0.3 20.2 0.3 -13.5 0.3 9.5 0.3 -8.6 0.3 5 0.3 -9.6 0.3 5.6 0.3 -5 0.3 18.6 0.3 -11.8 0.3 4 0.3 -16.2 0.3 21 0 -95 0.4 95 -0.1 -23.8 0.3 19.6 0.3 -18.9 0.3 21.3 0.3 -19.6 0.3 21.4 0.3 -30.8 0.3 37.3 0.3 -33.4 0.3 35.4 0.3 -31.2 0.3 24.4 0.3 -12.5 0.3 19.7 0.3 -31.2 0.3 34.7 0.3 -31.9 0.3 24.1 0.3 -31.6 0.3 30.4 0.3 -24.7 0.3 19.1 0.3 -24.2 0.3 28.8 0.3 -30 0.3 8.2 0.3 -6.8 0.3 5.6 0.3 0.5 0.3 14.3 0.3 -30.6 0.3 12.7 0.3 -14.6 0.3 9 0.3 -9.7 0.3 7.3 0.3 -9.7 0.3 21.8 0.3 -15.9 0.3 6.9 0.3 -11.4 0.3 15.2 0.3 -15.5 0.3 12.7 0.3 -14 0.3 17.5 0.3 -13.7 0.3 16 0.3 -16.2 0.3 7.1 0 -45.1 0.4 45.1 -0.1 -9.3 0.3 19.8 0.3 -15.1 0.3 29.1 0.3 -31.1 0.3 7.5 0.3 -11.6 0.3 29.9 0.3 -25.9 0.3 28.5 0.3 -29 0.3 24.4 0.3 24.7 0.3 -35.9 0.3 -3.4 0.3 24.7 0.3 6.9 0.3 -4.9 0.3 -34.4 0.3 37.6 0.3 -29.2 0.3 24.4 0.3 -36.4 0.3 7.4 0.3 -4.5 0.3 15.7 0.3 39.8 0.3 -34.2 0.3 -23.7 0.3 40.7 0.3 -42 0.3 33.6 0.3 -35.8 0.3 10.4 0.3 -13.1 0.3 7.6 0.3 29.6 0.3 -22.9 0.3 -17.4 0.3 33.6 0.3 -38.9 0.3 42.8 0.3 -45.4 0.3 16.7 0.3 -14.6 0.3 4.2 0.3 -4.4 0.3 6.1 0.3 -7.4 0.3 18.6 0.3 -20.9 0.3 74 0.3 -71.6 0.3 53.4 0.3 -52.6 0.3 22.2 0.3 -14.2 0.3 18.6 0.3 -17.9 0.3 22 0.3 -27.5 0.3 19.2 0.3 -11.4 0.3 21.2 0.3 -21.1 0.3 25.3 0.3 -24.7 0.3 26.3 0.3 26.4 0.3 -4.3 0.3 -45.1 0.3 45.9 0.3 -46.9 0.3 14.8 0.3 -13.2 0.3 11.1 0.3 -9.5 0.3 6.1 0.3 30.5 0.3 -5.2 0.3 -34.8 0.3 10.8 0.3 1.1 0.3 14 0.3 -16.6 0.3 27.2 0.3 -26.1 0.3 13.7 0.3 -16.4 0.3 11.9 0.3 -16.8 0.3 30.7 0.3 -16.8 0.3 25.7 0.3 -26.2 0.3 15.2 0.3 -15 0.3 10.9 0.3 -10 0.3 15.7 0.3 -17 0.3 5.4 0.3 -8.7 0.3 10.1 0.3 -10 0.3 3.1 0.3 -10.7 0.3 17.5 0.3 35.1 0.3 -29.6 0.3 -3.9 0.3 -0.7 0.3 -5.1 0.3 6 0.3 -10.6 0.3 13.3 0.3 -17.9 -0.1 104.7 0.4 -104.7 0 1.4 0.3 -7 0.3 11.3 0.3 -4.6 0.3 28.5 0.3 -21.3 0.3 16.3 0.3 33 0.3 -16.6 0.3 -35.5 0.3 24 0.3 -24 0.3 30.1 0.3 -23 0.3 27 0.3 -26.4 0.3 26.6 0.3 -38.9 0.3 153 0.3 -134.2 0.3 110.3 0.3 -115.9 0.3 40.2 0.3 -38.9 0.3 115 0.3 69.1 0.3 -123.7 0.3 -65 0.3 91 0.3 -81.3 0.3 10.1 0.3 -28.9 0.3 39.6 0.3 -29.6 0.3 12.3 0.3 -11.3 0.3 7.9 0.3 -6.6 0.3 14.4 0.3 -24.3 0.3 32.5 0.3 -23.6 0.3 7.6 0.3 -11.7 0.3 9.2 0.3 -10.7 0.3 7.4 0.3 -11.5 0.3 15.2 0.3 -11.9 0.3 27.4 0.3 -30 0.3 23.2 0.3 -19.2 0.3 24.4 0.3 -26 0.3 17.2 0.3 -12.1 0.3 14.8 0.3 -25.1 0.3 12.7 0.3 -9.9 0.3 181.7 0.3 -181.2 0.3 94.8 0.3 -80.1 0.3 65.5 0.3 -80.3 0.3 140.6 0.3 -133 0.3 15.7 0.3 -26.2 0.3 17 0.3 62.3 0.3 -24.8 0.3 -56.6 0.3 43.3 0.3 -43.4 0.3 43.8 0.3 -45.3 0.3 25.9 0.3 -11.2 0.3 35.9 0.3 -41.9 0.3 23.7 -0.1 201.5 0.4 -201.5 0 -25.1 0.3 154.8 0.3 -154.4 0.3 49.9 0.3 -56.1 0.3 31.2 0.3 -27 0.3 16.4 0.3 -21.4 0.3 21.9 0.3 134 0.3 -49 0.3 -96.3 0.3 93.9 0.3 -86.3 0.3 130.2 0.3 -153 0.3 34.5 0.3 -27.4 0.3 27.4 0.3 -25.1 0.3 41.6 0.3 -40.6 0.3 46.4 0.3 -38.4 0.3 45.6 0.3 -37.3 0.3 40.2 0.3 -41.6 0.3 46.1 0.3 -49.6 0.3 44.3 0.3 -41.6 0.3 165.1 0.3 -168.1 0.3 103.2 0.3 -103.2 0.3 73.3 0.3 -56.2 0.3 124.4 0.3 -119.7 0.3 118.9 0.3 -129.8 0.3 39.9 0.3 133.2 0.3 -128.7 0.3 -47.7 0.3 164 0.3 -157.9 0.3 17.4 0.3 -20.4 0.3 7.8 0.3 -20.4 0.3 25 0.3 -31.4 0.3 22.8 0.3 87.3 0.3 -75.4 0.3 -35.3 0.3 98.4 0.3 -98.1 0.3 54 0.3 -48.8 0.3 27.1 0.3 -21.2 0.3 39.9 0.3 -48 0.3 32.9 0.3 -19.8 0.3 37.9 0.3 -38.9 0.3 44.5 0.3 73.1 0.3 -11.5 0.3 -91.9 0.3 70.4 0.3 -71.2 0.3 17.7 0.3 -24.7 0.3 24.9 0.3 -33.8 0.3 28.1 0.3 -24.1 0.3 19.2 0.3 17.4 0.3 -18 0.3 -21 0.3 51 0.3 -40.1 0.3 17.3 0.3 -24.4 0.3 30.3 0.3 -25.9 0.3 21.2 0.3 -18.1 0.3 14.8 0.3 -23.8 0.3 180.9 0.3 -167.4 0.3 141.4 0.3 -136.6 0.3 113.9 0.3 -121.9 0.3 24.6 0.3 -18.7 0.3 25.2 0.3 -31.6 0.3 33 0.3 -34 0.3 20.8 0.3 -11 0.3 26.9 0.3 -30.5 0.3 28.1 0.3 -32.8 0.3 38.8 0.3 -43.6 0.3 27.6 0.3 -24 0.3 29.9 0.3 -36.9 0.3 30 0.3 -26.7 0.3 30.9 0.3 131.1 0.3 -33.6 0.3 -129.5 0.3 54.4 0.3 -38.8 0.3 18.4 0.3 22.4 0.3 -2 0.3 -54.5 0.3 35.7 0.3 -29.4 0.3 24.1 0.3 -24.6 0.3 43.7 0.3 -43 0.3 11.6 0.3 -18.8 0.3 18.3 0.3 -21.5 0.3 12.3 0.3 -4.9 0.3 25.7 0.3 -32 0.3 43.3 0.3 -33.7 0.3 36.8 0.3 -35.8 0.3 10.5 0.3 -9 0.3 35.9 0.3 -40.8 0.3 26.7 0.3 -22.3 0.3 85.3 0.3 -72.8 0.3 64.1 0.3 -73.3 0.3 40.3 0.3 -29.1 0.3 22.8 0.3 -38.2 0.3 30 0.3 -29.3 0.3 11.9 0.3 -20 0.3 25.7 0.3 -26 0.3 14 0.3 140.6 0.3 -59.3 0.3 -100.4 0.3 142.9 0.3 -141.3 0.3 145.4 0.3 -145.6 0.3 135.5 0.3 -137.1 0.3 5.9 0.3 -8.5 0.3 19.9 0.3 -16.1 0.3 153.8 0.3 -153.1 0.3 42.5 0.3 -37 0.3 54.8 0.3 -58.6 0.3 46.2 0.3 -57.5 0.3 43.2 0.3 -45 0.3 38 0.3 -31.6 0.3 15.6 0.3 -16.4 0.3 33 0.3 -26.4 0.3 111.6 0.3 -109.7 0.3 65.4 0.3 -73.2 0.3 97.7 0.3 -90.2 0.3 83.1 0.3 -77 0.3 2.3 0.3 -10.6 0.3 5.2 0.3 -6.9 0.3 138.5 0.3 -135.1 0.3 37.3 0.3 -43.8 0.3 124.6 0.3 -130.5 0.3 122.4 0.3 -122.4 0.3 92.3 0.3 -85.9 0.3 6.2 0.3 -9.6 0.3 13.6 0.3 -9.8 0.3 3.8 0.3 137 0.3 -40.9 0.3 -108.6 0.3 79.7 0.3 -76.9 0.3 8.8 0.3 -14.3 0.3 10.9 0.3 -8.2 0.3 140 0.3 -131.5 0.3 68.6 0.3 -66.9 0.3 83.1 0.3 -81.1 0.3 121.5 0.3 -134.9 0.3 62.5 0.3 -49.4 0.3 22.2 0.3 -15.7 0.3 30.2 0.3 -41.2 0.3 17.1 0.3 -13.4 0.3 -2.1 0.3 4 0.3 20.5 0.3 -18.4 0.3 18.9 0.3 -18.1 0.3 26.3 0.3 -22.4 0.3 67.6 0.3 -69.5 0.3 19.1 0.3 -19.6 0.3 49.9 0.3 -56.4 0.3 19.5 0.3 -10.1 0.3 37.7 0.3 -44.6 0.3 10.7 0.3 -16.9 0.3 11.9 0.3 -7.8 0.3 10.8 0.3 -9.4 0.3 0.2 0.3 -0.4 0.3 5.3 0.3 -2.5 0.3 13.2 0.3 -9.3 0.3 8 0.3 -9.7 0.3 18.2 0.3 -23.4 0.3 7.8 0.3 138.9 0.3 -70.2 0.3 -51.5 0.3 68 0.3 -82.1 0.3 37.9 0.3 -45.5 0.3 69.6 0.3 -66.7 0.3 38.7 0.3 -29.6 0.3 40.8 0.3 -42.3 0.1 -113.3 0.4 113.3 -0.2 40.2 0.3 -41.6 0.3 95.7 0.3 -91.7 0.3 48.3 0.3 65.7 0.3 -59.5 0.3 -61.7 0.3 38.3 0.3 -35.6 0.3 85.2 0.3 -94.3 0.3 19.9 0.3 -20 0.3 11.2 0.3 -8 0.3 9.1 0.3 -11.2 0.3 23.5 0.3 -18.5 0.3 14.3 0.3 -13.6 0.3 9.1 0.3 -2.3 0.3 21.8 0.3 -22 0.3 11.8 0.3 -6.6 0.3 23.8 0.3 -25.6 0.3 26 0.3 -16.5 0.3 15.2 0.3 -28.8 0.3 22 0.3 -13.3 0.3 1.5 0.3 -10.3 0.3 16.9 0.3 -10.4 0.3 90.8 0.3 -98.1 0.3 96.2 0.3 -96.4 0.3 91.8 0.3 -98.5 0.3 60.6 0.3 -62 0.3 13.1 0.3 87.9 0.3 -55.9 0.3 -37.7 0.3 58.2 0.3 -61.4 0.3 42.2 0.3 -33.5 0.3 35.2 0.3 -41 0.3 15.8 0.3 53 0.3 -32.6 0.3 -40 0.3 63.4 0.3 -63.9 0.3 57.5 0.3 -60.5 0.3 76.1 0.3 -77.5 0.3 23.2 0.3 -28.3 0.3 22.4 0.3 -21.3 0.3 28.4 0.3 -21.7 0.3 39.9 0.3 -33.5 0.3 29.9 0.3 -30.8 0.3 20.4 0.3 -8.2 0.3 25.4 0.3 -26.7 0.3 29.5 0.3 -36 0.3 19.4 0.3 -19.2 0.3 11.3 0.3 -14.3 0.3 11.1 0.3 -9.2 0.3 4 0.3 -12.4 0.3 2.3 0.3 -8 0.3 16.4 0.3 -10.8 0.3 150 0.3 -147.6 0.3 125 0.3 -130.6 0.3 102.5 0.3 -100.2 0.3 42 0.3 -45.7 0.3 33.7 0.3 -35.4 0.3 36.1 0.3 -26.4 0.3 6.4 0.3 -1.7 0.3 8.2 0.3 -16.7 0.3 20.9 0.3 -27.3 0.3 16.7 0.3 -13.2 0.3 12.8 0.3 -8.9 0.3 76.2 0.3 -78.2 0.3 39.3 0.3 -39.4 0.3 69.6 0.3 -67.5 0.3 26.9 0.3 -24.9 0.3 55.1 0.3 -44.1 0.3 16.6 0.3 -21.4 0.3 18 0.3 -24.8 0.3 9.4 0.3 -10.3 0.3 19.2 0.3 -25.9 0.3 20.9 0.3 -19 0.3 17.4 0.3 -15.3 0.3 25.6 0.3 -21.7 0.3 29.1 0.3 -28.9 0.3 120.7 0.3 -117.1 0.3 66.7 0.3 -55.6 0.3 75.3 0.3 -94.1 0.3 60.2 0.3 -50.4 0.3 26.6 0.3 -35 0.3 22.8 0.3 -17.5 0.3 21.5 0.3 -16.2 0.3 10.8 0.3 -13.7 0.3 13.9 0.3 -16.5 0.3 31.4 0.3 -32.7 0.3 37.4 0.3 -35.8 0.3 28.3 0.3 -35.9 0.3 23.7 0.3 -24.5 0.3 25.1 0.3 -22.8 0.3 172.4 0.3 -167.5 0.3 140.9 0.3 -137.1 0.3 98.5 0.3 -97.3 0.3 132.9 0.3 -129.7 0.3 27.9 0.3 -26 0.3 28.1 0.3 -28.6 0.3 21 0.3 -22.5 0.3 28.1 0.3 -31.1 0.3 51.2 0.3 -51.2 0.3 26.1 0.3 18.8 0.3 -3.3 0.3 -41.8 0.3 15.7 0.3 -7.5 0.3 21.5 0.3 -29.8 0.3 5.6 0.3 -14.2 0.3 25 0.3 -14.8 0.3 12.1 0.3 -16.3 0.3 17.9 0.3 -9.8 0.3 9.6 0.3 -4.9 0.3 10.6 0.3 -15 0.3 11.9 0.3 -7.4 0.3 7.9 0.3 -12.4 0.3 12.5 0.3 -9.3 0.3 21.4 0.3 -21.7 0.3 15.8 0.3 -24.6 0.3 20.5 0.3 -16 0.3 22.8 0.3 125.1 0.3 -4 0.3 -147.3 0.3 131.3 0.3 -133.9 0.3 7.4 0.3 -6 0.3 15.2 0.3 -13.1 0.3 21.4 0.3 -24.8 0.3 23.3 0.3 46.5 0.3 -15.3 0.3 -40.1 0.3 27.6 0.3 -35.5 0.3 8.3 0.3 -8.4 0.3 13.4 0.3 15.2 0.3 -4.6 0.3 -24.3 0.3 17.3 0.3 -20 0.3 3.7 0.3 -7 0.3 13.8 0.3 -11.5 0.3 19.4 0.3 58.8 0.3 -62.6 0.3 -21.3 0.3 25.9 0.3 -11.4 0.3 42.6 0.3 -51.6 0.3 19 0.3 -12.8 0.3 22.7 0.3 -28.1 0.3 29.3 0.3 94.9 0.3 -68.5 0.3 -53.3 0.3 77 0.3 -87.2 0.3 101.5 0.3 -92.8 0.3 37.1 0.3 -23.3 0.3 63.5 0.3 -81.4 0.3 71.3 0.3 -54.8 0.3 43.7 0.3 -53.6 0.3 51.4 0.3 77.7 0.3 -39 0.3 -97.9 0.3 78.2 0.3 -70.8 0.3 66.1 0.3 -55.2 0.3 7.4 0.3 -12 0.3 48.9 0.3 -55.9 0.3 11.6 0.3 -13.9 0.3 30 0.3 -33.1 0.3 30.8 0.3 -32.9 0.3 139.5 0.3 -139.7 0.3 43.2 0.3 -41.4 0.3 137.4 0.3 -139.3 0.3 2.2 0.3 -5.7 0.3 8.6 0.3 -1.9 0.3 12.9 0.3 -13.9 0.3 25 0.3 -22.2 0.3 15.9 0.3 -15 0.3 9.6 0.3 -10.7 0.3 8.1 0.3 66.7 0.3 -15.6 0.3 -64.2 0.3 54.5 0.3 -52.9 0.3 67.5 0.3 -62.9 0.3 6.2 0.3 1.5 0.3 12.8 0.3 -8.5 0.3 5.4 0.3 -4.7 0.3 20.5 0.3 -19.9 0.3 17.6 0.3 -13.4 0.3 21.7 0.3 -17.1 0.3 10.9 0.3 -17.1 0.3 23.3 0.3 -7.3 0.3 3.3 0.3 -14.6 0.3 30.4 0.3 -21.7 0.3 32.7 0.3 -35.2 0.3 34.2 0.3 -37.8 0.3 24.7 0.3 31.3 0.3 -25.1 0.3 -18 0.3 27.9 0.3 -37.9 0.3 34.6 0.3 -31 0.3 35.8 0.3 46.3 0.3 -47.5 0.3 -46.5 0.3 83.9 0.3 -92.1 0.3 19.8 0.3 -4.7 0.3 35.8 0.3 -34.9 0.3 22.9 0.3 53.2 0.3 -20.5 0.3 -59 0.3 78.4 0.3 -82.8 0.3 39.6 0.3 -41.2 0.3 26 0.3 -19.2 0.3 63.4 0.3 -60.3 0.3 10.4 0.3 -23.8 0.3 17.8 0.3 -16.6 0.3 22.8 0.3 -22.4 0.3 12.2 0.3 -1.2 0.3 28.1 0.3 -31.2 0.3 25.9 0.3 -21.5 0.3 11.1 0.3 -13.4 0.3 7.5 0.3 -0.8 0.3 15.2 0.3 -14.7 0.3 37.4 0.3 -36.7 0.3 3.2 0.3 112.5 0.3 -60.2 0.3 -62.7 0.3 86.4 0.3 -68.8 0.3 17.7 0.3 -37.6 0.3 52.4 0.3 -41.6 0.3 38.5 0.3 -54.6 0.3 20.8 0.3 -18.6 0.3 168.2 0.3 -153.2 0.3 73.2 0.3 -77.1 0.3 33.2 0.3 -30.6 0.3 28 0.3 -31.8 0.3 35.5 0.3 30.6 0.3 -39.2 0.3 -22.8 0.3 43.9" fill="none" stroke="#f00" stroke-width="2.0" stroke-linejoin="bevel"/></g><path d="M1726.4 479.0V822.0" stroke="#000" stroke-width="2.78" stroke-dasharray="2.78 4.58"/><path d="M1203.96 478.00H1801.04M1203.96 822.00H1801.04M1205.00 478.00V822.00" stroke="#000" stroke-width="2.08" fill="none"/><path d="M1800.00 478.00V822.00" stroke="#ff0000" stroke-width="2.08" fill="none"/><path d="M1205.00 512.40h5.50M1205.00 581.20h5.50M1205.00 650.00h5.50M1205.00 718.80h5.50M1205.00 787.60h5.50" stroke="#000" stroke-width="1.1" fill="none"/><path d="M1245.50 822.00v-4.00M1319.50 822.00v-4.00M1394.50 822.00v-4.00M1468.50 822.00v-4.00M1543.50 822.00v-4.00M1617.50 822.00v-4.00M1691.50 822.00v-4.00M1766.50 822.00v-4.00" stroke="#000" stroke-width="1.1" fill="none"/><path d="M1800.00 822.00h-5.50M1800.00 736.00h-5.50M1800.00 650.00h-5.50M1800.00 564.00h-5.50M1800.00 478.00h-5.50" stroke="#ff0000" stroke-width="1.1" fill="none"/><path d="M1800.00 796.11h-3.00M1800.00 780.97h-3.00M1800.00 770.22h-3.00M1800.00 761.89h-3.00M1800.00 755.08h-3.00M1800.00 749.32h-3.00M1800.00 744.33h-3.00M1800.00 739.94h-3.00M1800.00 710.11h-3.00M1800.00 694.97h-3.00M1800.00 684.22h-3.00M1800.00 675.89h-3.00M1800.00 669.08h-3.00M1800.00 663.32h-3.00M1800.00 658.33h-3.00M1800.00 653.94h-3.00M1800.00 624.11h-3.00M1800.00 608.97h-3.00M1800.00 598.22h-3.00M1800.00 589.89h-3.00M1800.00 583.08h-3.00M1800.00 577.32h-3.00M1800.00 572.33h-3.00M1800.00 567.94h-3.00M1800.00 538.11h-3.00M1800.00 522.97h-3.00M1800.00 512.22h-3.00M1800.00 503.89h-3.00M1800.00 497.08h-3.00M1800.00 491.32h-3.00M1800.00 486.33h-3.00M1800.00 481.94h-3.00" stroke="#ff0000" stroke-width="0.85" fill="none"/><text x="1187.86" y="520.10" font-size="20.34" textLength="11.55" lengthAdjust="spacingAndGlyphs">0</text><text x="1146.73" y="588.90" font-size="20.34" textLength="52.78" lengthAdjust="spacingAndGlyphs">−100</text><text x="1146.73" y="657.70" font-size="20.34" textLength="52.78" lengthAdjust="spacingAndGlyphs">−200</text><text x="1146.73" y="726.50" font-size="20.34" textLength="52.78" lengthAdjust="spacingAndGlyphs">−300</text><text x="1146.73" y="795.30" font-size="20.34" textLength="52.78" lengthAdjust="spacingAndGlyphs">−400</text><text x="1805.15" y="829.40" font-size="20.34" textLength="24.09" lengthAdjust="spacingAndGlyphs" fill="#ff0000">10</text><text x="1829.95" y="822.50" font-size="14.97" textLength="19.45" lengthAdjust="spacingAndGlyphs" fill="#ff0000">−2</text><text x="1805.15" y="743.40" font-size="20.34" textLength="24.09" lengthAdjust="spacingAndGlyphs" fill="#ff0000">10</text><text x="1829.95" y="736.50" font-size="14.97" textLength="19.54" lengthAdjust="spacingAndGlyphs" fill="#ff0000">−1</text><text x="1805.15" y="657.40" font-size="20.34" textLength="24.09" lengthAdjust="spacingAndGlyphs" fill="#ff0000">10</text><text x="1830.22" y="650.50" font-size="14.97" textLength="8.21" lengthAdjust="spacingAndGlyphs" fill="#ff0000">0</text><text x="1805.15" y="571.40" font-size="20.34" textLength="24.09" lengthAdjust="spacingAndGlyphs" fill="#ff0000">10</text><text x="1829.72" y="564.50" font-size="14.97" textLength="7.84" lengthAdjust="spacingAndGlyphs" fill="#ff0000">1</text><text x="1805.15" y="485.40" font-size="20.34" textLength="24.09" lengthAdjust="spacingAndGlyphs" fill="#ff0000">10</text><text x="1830.08" y="478.50" font-size="14.97" textLength="7.91" lengthAdjust="spacingAndGlyphs" fill="#ff0000">2</text><text transform="translate(1104.50 670.50) rotate(-90)" x="-2.18" y="0" font-size="25.44" textLength="39.84" lengthAdjust="spacingAndGlyphs">Dst</text><text transform="translate(1132.70 680.00) rotate(-90)" x="-1.64" y="0" font-size="25.44" textLength="63.00" lengthAdjust="spacingAndGlyphs">( nT )</text><text transform="translate(1874.50 723.70) rotate(-90)" x="-1.14" y="0" font-size="25.44" textLength="148.48" lengthAdjust="spacingAndGlyphs" fill="#ff0000">SW Pressure</text><text transform="translate(1906.50 686.00) rotate(-90)" x="-1.58" y="0" font-size="25.44" textLength="76.33" lengthAdjust="spacingAndGlyphs" fill="#ff0000">( nPa )</text><path d="M1205.0 931.15H1800.0" stroke="#000" stroke-width="2.08" stroke-dasharray="2.08 3.44"/><path d="M1726.4 846.3V1017.0" stroke="#000" stroke-width="2.78" stroke-dasharray="2.78 4.58"/><path d="M1203.96 845.30H1801.04M1203.96 1017.00H1801.04M1205.00 845.30V1017.00" stroke="#000" stroke-width="2.08" fill="none"/><path d="M1800.00 845.30V1017.00" stroke="#000" stroke-width="2.08" fill="none"/><path d="M1205.00 1017.00h5.50M1205.00 974.08h5.50M1205.00 931.15h5.50M1205.00 888.22h5.50M1205.00 845.30h5.50" stroke="#000" stroke-width="1.1" fill="none"/><path d="M1800.00 1017.00h-5.50M1800.00 974.08h-5.50M1800.00 931.15h-5.50M1800.00 888.22h-5.50M1800.00 845.30h-5.50" stroke="#000" stroke-width="1.1" fill="none"/><path d="M1205.00 1004.08h3.00M1205.00 996.52h3.00M1205.00 991.16h3.00M1205.00 987.00h3.00M1205.00 983.60h3.00M1205.00 980.72h3.00M1205.00 978.23h3.00M1205.00 976.04h3.00M1205.00 961.15h3.00M1205.00 953.59h3.00M1205.00 948.23h3.00M1205.00 944.07h3.00M1205.00 940.67h3.00M1205.00 937.80h3.00M1205.00 935.31h3.00M1205.00 933.11h3.00M1205.00 918.23h3.00M1205.00 910.67h3.00M1205.00 905.31h3.00M1205.00 901.15h3.00M1205.00 897.75h3.00M1205.00 894.87h3.00M1205.00 892.38h3.00M1205.00 890.19h3.00M1205.00 875.30h3.00M1205.00 867.74h3.00M1205.00 862.38h3.00M1205.00 858.22h3.00M1205.00 854.82h3.00M1205.00 851.95h3.00M1205.00 849.46h3.00M1205.00 847.26h3.00" stroke="#000" stroke-width="0.85" fill="none"/><path d="M1800.00 1004.08h-3.00M1800.00 996.52h-3.00M1800.00 991.16h-3.00M1800.00 987.00h-3.00M1800.00 983.60h-3.00M1800.00 980.72h-3.00M1800.00 978.23h-3.00M1800.00 976.04h-3.00M1800.00 961.15h-3.00M1800.00 953.59h-3.00M1800.00 948.23h-3.00M1800.00 944.07h-3.00M1800.00 940.67h-3.00M1800.00 937.80h-3.00M1800.00 935.31h-3.00M1800.00 933.11h-3.00M1800.00 918.23h-3.00M1800.00 910.67h-3.00M1800.00 905.31h-3.00M1800.00 901.15h-3.00M1800.00 897.75h-3.00M1800.00 894.87h-3.00M1800.00 892.38h-3.00M1800.00 890.19h-3.00M1800.00 875.30h-3.00M1800.00 867.74h-3.00M1800.00 862.38h-3.00M1800.00 858.22h-3.00M1800.00 854.82h-3.00M1800.00 851.95h-3.00M1800.00 849.46h-3.00M1800.00 847.26h-3.00" stroke="#000" stroke-width="0.85" fill="none"/><path d="M1245.50 1017.00v-4.00M1319.50 1017.00v-4.00M1394.50 1017.00v-4.00M1468.50 1017.00v-4.00M1543.50 1017.00v-4.00M1617.50 1017.00v-4.00M1691.50 1017.00v-4.00M1766.50 1017.00v-4.00" stroke="#000" stroke-width="1.1" fill="none"/><text x="1154.89" y="1024.40" font-size="20.34" textLength="24.09" lengthAdjust="spacingAndGlyphs">10</text><text x="1179.69" y="1017.50" font-size="14.97" textLength="19.54" lengthAdjust="spacingAndGlyphs">−1</text><text x="1165.70" y="981.48" font-size="20.34" textLength="24.09" lengthAdjust="spacingAndGlyphs">10</text><text x="1190.77" y="974.58" font-size="14.97" textLength="8.21" lengthAdjust="spacingAndGlyphs">0</text><text x="1166.68" y="938.55" font-size="20.34" textLength="24.09" lengthAdjust="spacingAndGlyphs">10</text><text x="1191.25" y="931.65" font-size="14.97" textLength="7.84" lengthAdjust="spacingAndGlyphs">1</text><text x="1166.27" y="895.62" font-size="20.34" textLength="24.09" lengthAdjust="spacingAndGlyphs">10</text><text x="1191.20" y="888.72" font-size="14.97" textLength="7.91" lengthAdjust="spacingAndGlyphs">2</text><text x="1166.04" y="852.70" font-size="20.34" textLength="24.09" lengthAdjust="spacingAndGlyphs">10</text><text x="1191.14" y="845.80" font-size="14.97" textLength="7.88" lengthAdjust="spacingAndGlyphs">3</text><text x="1233.44" y="1036.90" font-size="20.34" textLength="24.34" lengthAdjust="spacingAndGlyphs">06</text><text x="1308.05" y="1036.90" font-size="20.34" textLength="24.01" lengthAdjust="spacingAndGlyphs">07</text><text x="1382.25" y="1036.90" font-size="20.34" textLength="24.22" lengthAdjust="spacingAndGlyphs">08</text><text x="1456.64" y="1036.90" font-size="20.34" textLength="24.27" lengthAdjust="spacingAndGlyphs">09</text><text x="1530.61" y="1036.90" font-size="20.34" textLength="24.09" lengthAdjust="spacingAndGlyphs">10</text><text x="1605.27" y="1036.90" font-size="20.34" textLength="23.75" lengthAdjust="spacingAndGlyphs">11</text><text x="1679.73" y="1036.90" font-size="20.34" textLength="23.62" lengthAdjust="spacingAndGlyphs">12</text><text x="1753.89" y="1036.90" font-size="20.34" textLength="23.91" lengthAdjust="spacingAndGlyphs">13</text><text transform="translate(1105.10 1056.40) rotate(-90)" x="-1.31" y="0" font-size="25.44" textLength="250.96" lengthAdjust="spacingAndGlyphs">&gt;10 MeV Proton Flux</text><text transform="translate(1138.80 1016.50) rotate(-90)" x="-1.26" y="0" font-size="25.44" textLength="6.76" lengthAdjust="spacingAndGlyphs">(</text><text transform="translate(1138.80 1002.40) rotate(-90)" x="-1.15" y="0" font-size="25.44" textLength="36.15" lengthAdjust="spacingAndGlyphs">cm</text><text transform="translate(1128.60 965.60) rotate(-90)" x="-0.86" y="0" font-size="17.80" textLength="9.49" lengthAdjust="spacingAndGlyphs">2</text><text transform="translate(1138.80 949.60) rotate(-90)" x="-0.64" y="0" font-size="25.44" textLength="11.50" lengthAdjust="spacingAndGlyphs">s</text><text transform="translate(1128.60 937.20) rotate(-90)" x="-1.01" y="0" font-size="17.80" textLength="23.45" lengthAdjust="spacingAndGlyphs">−1</text><text transform="translate(1138.80 907.00) rotate(-90)" x="-0.74" y="0" font-size="25.44" textLength="22.26" lengthAdjust="spacingAndGlyphs">sr</text><text transform="translate(1128.60 884.00) rotate(-90)" x="-1.01" y="0" font-size="17.80" textLength="23.45" lengthAdjust="spacingAndGlyphs">−1</text><text transform="translate(1138.80 850.88) rotate(-90)" x="-0.12" y="0" font-size="25.44" textLength="6.76" lengthAdjust="spacingAndGlyphs">)</text><text x="1385.71" y="1066.20" font-size="25.44" textLength="233.04" lengthAdjust="spacingAndGlyphs">February 2025 (UT)</text></svg></body></html>
